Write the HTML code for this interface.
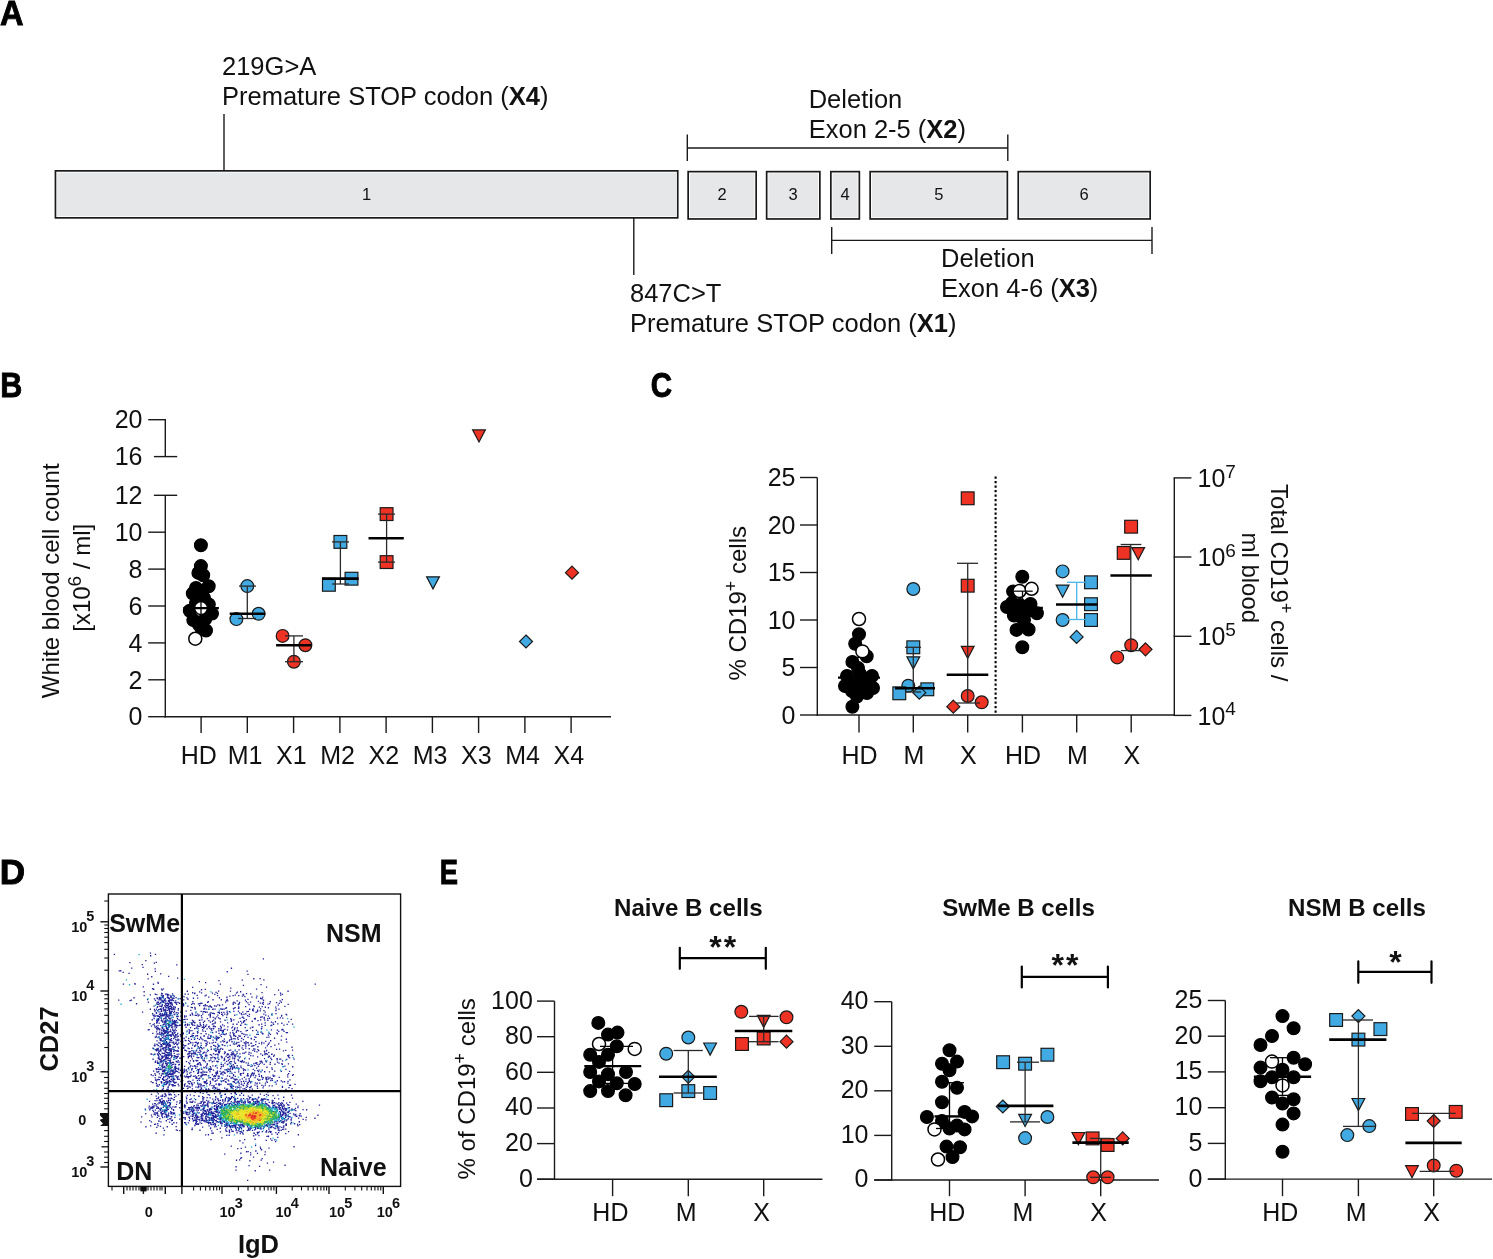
<!DOCTYPE html>
<html><head><meta charset="utf-8"><style>
html,body{margin:0;padding:0;background:#fff;}
svg{display:block;will-change:transform;}
text{fill:#111;}
</style></head><body>
<svg width="1493" height="1259" viewBox="0 0 1493 1259">
<rect width="1493" height="1259" fill="#fff"/>
<text x="0" y="0" font-size="35.5" font-weight="bold" font-family="Liberation Sans" stroke="#000" stroke-width="0.9" style="fill:#000" transform="translate(0,25.0) scale(0.92,1)">A</text>
<rect x="55.45" y="170.85" width="622.30" height="47.00" fill="#fff" stroke="#1a1a1a" stroke-width="1.7"/>
<rect x="57.20" y="172.60" width="618.80" height="43.50" fill="#e6e7e8"/>
<text x="366.6" y="200.3" font-size="16.5" text-anchor="middle" font-weight="normal" font-family="Liberation Sans" >1</text>
<rect x="688.15" y="171.65" width="68.00" height="47.30" fill="#fff" stroke="#1a1a1a" stroke-width="1.7"/>
<rect x="689.90" y="173.40" width="64.50" height="43.80" fill="#e6e7e8"/>
<text x="722.1" y="200.3" font-size="16.5" text-anchor="middle" font-weight="normal" font-family="Liberation Sans" >2</text>
<rect x="766.65" y="171.65" width="53.20" height="47.30" fill="#fff" stroke="#1a1a1a" stroke-width="1.7"/>
<rect x="768.40" y="173.40" width="49.70" height="43.80" fill="#e6e7e8"/>
<text x="793.2" y="200.3" font-size="16.5" text-anchor="middle" font-weight="normal" font-family="Liberation Sans" >3</text>
<rect x="830.85" y="171.65" width="28.50" height="47.30" fill="#fff" stroke="#1a1a1a" stroke-width="1.7"/>
<rect x="832.60" y="173.40" width="25.00" height="43.80" fill="#e6e7e8"/>
<text x="845.1" y="200.3" font-size="16.5" text-anchor="middle" font-weight="normal" font-family="Liberation Sans" >4</text>
<rect x="870.15" y="171.65" width="137.20" height="47.30" fill="#fff" stroke="#1a1a1a" stroke-width="1.7"/>
<rect x="871.90" y="173.40" width="133.70" height="43.80" fill="#e6e7e8"/>
<text x="938.8" y="200.3" font-size="16.5" text-anchor="middle" font-weight="normal" font-family="Liberation Sans" >5</text>
<rect x="1018.25" y="171.65" width="131.90" height="47.30" fill="#fff" stroke="#1a1a1a" stroke-width="1.7"/>
<rect x="1020.00" y="173.40" width="128.40" height="43.80" fill="#e6e7e8"/>
<text x="1084.2" y="200.3" font-size="16.5" text-anchor="middle" font-weight="normal" font-family="Liberation Sans" >6</text>
<line x1="224.0" y1="114.0" x2="224.0" y2="171.0" stroke="#1a1a1a" stroke-width="1.4" />
<line x1="633.8" y1="218.0" x2="633.8" y2="275.0" stroke="#1a1a1a" stroke-width="1.4" />
<line x1="687.3" y1="134.4" x2="687.3" y2="161.0" stroke="#1a1a1a" stroke-width="1.4" />
<line x1="1007.8" y1="134.4" x2="1007.8" y2="161.0" stroke="#1a1a1a" stroke-width="1.4" />
<line x1="687.3" y1="148.0" x2="1007.8" y2="148.0" stroke="#1a1a1a" stroke-width="1.4" />
<line x1="831.7" y1="227.0" x2="831.7" y2="254.0" stroke="#1a1a1a" stroke-width="1.4" />
<line x1="1152.0" y1="227.0" x2="1152.0" y2="254.0" stroke="#1a1a1a" stroke-width="1.4" />
<line x1="831.7" y1="240.4" x2="1152.0" y2="240.4" stroke="#1a1a1a" stroke-width="1.4" />
<text x="222.0" y="75.3" font-size="25.5" text-anchor="start" font-weight="normal" font-family="Liberation Sans" >219G&gt;A</text>
<text x="222.0" y="105.0" font-size="25.5" text-anchor="start" font-weight="normal" font-family="Liberation Sans" >Premature STOP codon (<tspan font-weight="bold">X4</tspan>)</text>
<text x="808.7" y="108.1" font-size="25.5" text-anchor="start" font-weight="normal" font-family="Liberation Sans" >Deletion</text>
<text x="808.7" y="137.9" font-size="25.5" text-anchor="start" font-weight="normal" font-family="Liberation Sans" >Exon 2-5 (<tspan font-weight="bold">X2</tspan>)</text>
<text x="630.0" y="301.6" font-size="25.5" text-anchor="start" font-weight="normal" font-family="Liberation Sans" >847C&gt;T</text>
<text x="630.0" y="331.8" font-size="25.5" text-anchor="start" font-weight="normal" font-family="Liberation Sans" >Premature STOP codon (<tspan font-weight="bold">X1</tspan>)</text>
<text x="941.0" y="266.5" font-size="25.5" text-anchor="start" font-weight="normal" font-family="Liberation Sans" >Deletion</text>
<text x="941.0" y="296.5" font-size="25.5" text-anchor="start" font-weight="normal" font-family="Liberation Sans" >Exon 4-6 (<tspan font-weight="bold">X3</tspan>)</text>
<text x="0" y="0" font-size="35.5" font-weight="bold" font-family="Liberation Sans" stroke="#000" stroke-width="0.9" style="fill:#000" transform="translate(0.2,397.2) scale(0.86,1)">B</text>
<line x1="165.3" y1="419.7" x2="165.3" y2="456.6" stroke="#1a1a1a" stroke-width="1.4" />
<line x1="165.3" y1="495.3" x2="165.3" y2="717.4" stroke="#1a1a1a" stroke-width="1.4" />
<line x1="148.2" y1="419.7" x2="166.0" y2="419.7" stroke="#1a1a1a" stroke-width="1.4" />
<line x1="153.9" y1="456.6" x2="177.2" y2="456.6" stroke="#1a1a1a" stroke-width="1.4" />
<line x1="153.9" y1="495.3" x2="177.2" y2="495.3" stroke="#1a1a1a" stroke-width="1.4" />
<line x1="148.2" y1="716.7" x2="165.3" y2="716.7" stroke="#1a1a1a" stroke-width="1.4" />
<line x1="148.2" y1="679.8" x2="165.3" y2="679.8" stroke="#1a1a1a" stroke-width="1.4" />
<line x1="148.2" y1="642.9" x2="165.3" y2="642.9" stroke="#1a1a1a" stroke-width="1.4" />
<line x1="148.2" y1="606.0" x2="165.3" y2="606.0" stroke="#1a1a1a" stroke-width="1.4" />
<line x1="148.2" y1="569.1" x2="165.3" y2="569.1" stroke="#1a1a1a" stroke-width="1.4" />
<line x1="148.2" y1="532.2" x2="165.3" y2="532.2" stroke="#1a1a1a" stroke-width="1.4" />
<text x="142.5" y="428.4" font-size="25" text-anchor="end" font-weight="normal" font-family="Liberation Sans" >20</text>
<text x="142.5" y="465.3" font-size="25" text-anchor="end" font-weight="normal" font-family="Liberation Sans" >16</text>
<text x="142.5" y="725.4" font-size="25" text-anchor="end" font-weight="normal" font-family="Liberation Sans" >0</text>
<text x="142.5" y="688.5" font-size="25" text-anchor="end" font-weight="normal" font-family="Liberation Sans" >2</text>
<text x="142.5" y="651.6" font-size="25" text-anchor="end" font-weight="normal" font-family="Liberation Sans" >4</text>
<text x="142.5" y="614.7" font-size="25" text-anchor="end" font-weight="normal" font-family="Liberation Sans" >6</text>
<text x="142.5" y="577.8" font-size="25" text-anchor="end" font-weight="normal" font-family="Liberation Sans" >8</text>
<text x="142.5" y="540.9" font-size="25" text-anchor="end" font-weight="normal" font-family="Liberation Sans" >10</text>
<text x="142.5" y="504.0" font-size="25" text-anchor="end" font-weight="normal" font-family="Liberation Sans" >12</text>
<line x1="164.6" y1="716.7" x2="611.0" y2="716.7" stroke="#1a1a1a" stroke-width="1.4" />
<line x1="201.1" y1="716.7" x2="201.1" y2="733.0" stroke="#1a1a1a" stroke-width="1.4" />
<text x="198.8" y="764.1" font-size="25" text-anchor="middle" font-weight="normal" font-family="Liberation Sans" >HD</text>
<line x1="247.3" y1="716.7" x2="247.3" y2="733.0" stroke="#1a1a1a" stroke-width="1.4" />
<text x="245.0" y="764.1" font-size="25" text-anchor="middle" font-weight="normal" font-family="Liberation Sans" >M1</text>
<line x1="293.6" y1="716.7" x2="293.6" y2="733.0" stroke="#1a1a1a" stroke-width="1.4" />
<text x="291.3" y="764.1" font-size="25" text-anchor="middle" font-weight="normal" font-family="Liberation Sans" >X1</text>
<line x1="339.9" y1="716.7" x2="339.9" y2="733.0" stroke="#1a1a1a" stroke-width="1.4" />
<text x="337.6" y="764.1" font-size="25" text-anchor="middle" font-weight="normal" font-family="Liberation Sans" >M2</text>
<line x1="386.1" y1="716.7" x2="386.1" y2="733.0" stroke="#1a1a1a" stroke-width="1.4" />
<text x="383.8" y="764.1" font-size="25" text-anchor="middle" font-weight="normal" font-family="Liberation Sans" >X2</text>
<line x1="432.4" y1="716.7" x2="432.4" y2="733.0" stroke="#1a1a1a" stroke-width="1.4" />
<text x="430.1" y="764.1" font-size="25" text-anchor="middle" font-weight="normal" font-family="Liberation Sans" >M3</text>
<line x1="478.6" y1="716.7" x2="478.6" y2="733.0" stroke="#1a1a1a" stroke-width="1.4" />
<text x="476.3" y="764.1" font-size="25" text-anchor="middle" font-weight="normal" font-family="Liberation Sans" >X3</text>
<line x1="524.9" y1="716.7" x2="524.9" y2="733.0" stroke="#1a1a1a" stroke-width="1.4" />
<text x="522.6" y="764.1" font-size="25" text-anchor="middle" font-weight="normal" font-family="Liberation Sans" >M4</text>
<line x1="571.1" y1="716.7" x2="571.1" y2="733.0" stroke="#1a1a1a" stroke-width="1.4" />
<text x="568.8" y="764.1" font-size="25" text-anchor="middle" font-weight="normal" font-family="Liberation Sans" >X4</text>
<text transform="translate(58.9,580.8) rotate(-90)" font-size="24" text-anchor="middle" font-family="Liberation Sans">White blood cell count</text>
<text transform="translate(90,577.8) rotate(-90)" font-size="24" text-anchor="middle" font-family="Liberation Sans">[x10<tspan font-size="19" dy="-9.5">6</tspan><tspan dy="9.5"> / ml]</tspan></text>
<line x1="191.4" y1="586.2" x2="209.0" y2="586.2" stroke="#222" stroke-width="1.3" />
<circle cx="200.9" cy="545.2" r="6.4" fill="#000" stroke="#000" stroke-width="1.2"/>
<circle cx="200.9" cy="566.1" r="6.4" fill="#000" stroke="#000" stroke-width="1.2"/>
<circle cx="198.4" cy="572.9" r="6.4" fill="#000" stroke="#000" stroke-width="1.2"/>
<circle cx="203.2" cy="575.2" r="6.4" fill="#000" stroke="#000" stroke-width="1.2"/>
<circle cx="208.7" cy="586.2" r="6.4" fill="#000" stroke="#000" stroke-width="1.2"/>
<circle cx="200.6" cy="590.7" r="6.4" fill="#000" stroke="#000" stroke-width="1.2"/>
<circle cx="192.8" cy="593.5" r="6.4" fill="#000" stroke="#000" stroke-width="1.2"/>
<circle cx="196.0" cy="588.0" r="6.4" fill="#000" stroke="#000" stroke-width="1.2"/>
<circle cx="208.8" cy="604.4" r="6.4" fill="#000" stroke="#000" stroke-width="1.2"/>
<circle cx="189.8" cy="610.8" r="6.4" fill="#000" stroke="#000" stroke-width="1.2"/>
<circle cx="212.0" cy="613.6" r="6.4" fill="#000" stroke="#000" stroke-width="1.2"/>
<circle cx="193.3" cy="620.0" r="6.4" fill="#000" stroke="#000" stroke-width="1.2"/>
<circle cx="205.2" cy="619.0" r="6.4" fill="#000" stroke="#000" stroke-width="1.2"/>
<circle cx="198.8" cy="624.5" r="6.4" fill="#000" stroke="#000" stroke-width="1.2"/>
<circle cx="206.0" cy="630.5" r="6.4" fill="#000" stroke="#000" stroke-width="1.2"/>
<circle cx="201.5" cy="628.2" r="6.4" fill="#000" stroke="#000" stroke-width="1.2"/>
<circle cx="196.0" cy="603.0" r="6.4" fill="#000" stroke="#000" stroke-width="1.2"/>
<circle cx="204.0" cy="598.0" r="6.4" fill="#000" stroke="#000" stroke-width="1.2"/>
<circle cx="195.3" cy="638.7" r="6.5" fill="#fff" stroke="#000" stroke-width="1.5"/>
<circle cx="201.0" cy="608.1" r="6.5" fill="#fff" stroke="#000" stroke-width="1.5"/>
<line x1="201.0" y1="586.2" x2="201.0" y2="630.0" stroke="#000" stroke-width="1.3" />
<line x1="183.2" y1="608.1" x2="218.9" y2="608.1" stroke="#000" stroke-width="2.4" />
<circle cx="247.3" cy="586.1" r="6.4" fill="#42aae2" stroke="#1a1a1a" stroke-width="1.2"/>
<circle cx="236.4" cy="619.1" r="6.4" fill="#42aae2" stroke="#1a1a1a" stroke-width="1.2"/>
<circle cx="258.6" cy="613.8" r="6.4" fill="#42aae2" stroke="#1a1a1a" stroke-width="1.2"/>
<line x1="247.3" y1="586.1" x2="247.3" y2="618.5" stroke="#2a2a2a" stroke-width="1.3" />
<line x1="239.0" y1="586.1" x2="256.0" y2="586.1" stroke="#2a2a2a" stroke-width="1.3" />
<line x1="238.0" y1="618.5" x2="256.0" y2="618.5" stroke="#2a2a2a" stroke-width="1.3" />
<line x1="229.7" y1="613.8" x2="265.3" y2="613.8" stroke="#000" stroke-width="2.6" />
<circle cx="282.6" cy="635.9" r="6.4" fill="#ee3224" stroke="#1a1a1a" stroke-width="1.2"/>
<circle cx="305.4" cy="645.2" r="6.4" fill="#ee3224" stroke="#1a1a1a" stroke-width="1.2"/>
<circle cx="293.9" cy="661.7" r="6.4" fill="#ee3224" stroke="#1a1a1a" stroke-width="1.2"/>
<line x1="293.9" y1="635.9" x2="293.9" y2="661.7" stroke="#2a2a2a" stroke-width="1.3" />
<line x1="285.0" y1="635.9" x2="303.0" y2="635.9" stroke="#2a2a2a" stroke-width="1.3" />
<line x1="285.0" y1="661.7" x2="303.0" y2="661.7" stroke="#2a2a2a" stroke-width="1.3" />
<line x1="276.1" y1="645.2" x2="311.7" y2="645.2" stroke="#000" stroke-width="2.6" />
<rect x="334.0" y="535.5" width="12.8" height="12.8" fill="#42aae2" stroke="#1a1a1a" stroke-width="1.2"/>
<rect x="322.5" y="578.4" width="12.8" height="12.8" fill="#42aae2" stroke="#1a1a1a" stroke-width="1.2"/>
<rect x="345.1" y="572.3" width="12.8" height="12.8" fill="#42aae2" stroke="#1a1a1a" stroke-width="1.2"/>
<line x1="340.4" y1="541.9" x2="340.4" y2="584.0" stroke="#2a2a2a" stroke-width="1.3" />
<line x1="332.0" y1="541.9" x2="349.0" y2="541.9" stroke="#2a2a2a" stroke-width="1.3" />
<line x1="332.0" y1="584.0" x2="349.0" y2="584.0" stroke="#2a2a2a" stroke-width="1.3" />
<line x1="322.0" y1="578.6" x2="358.6" y2="578.6" stroke="#000" stroke-width="2.6" />
<rect x="380.2" y="507.7" width="12.8" height="12.8" fill="#ee3224" stroke="#1a1a1a" stroke-width="1.2"/>
<rect x="380.2" y="555.7" width="12.8" height="12.8" fill="#ee3224" stroke="#1a1a1a" stroke-width="1.2"/>
<line x1="386.6" y1="514.1" x2="386.6" y2="562.1" stroke="#2a2a2a" stroke-width="1.3" />
<line x1="378.0" y1="514.1" x2="395.0" y2="514.1" stroke="#2a2a2a" stroke-width="1.3" />
<line x1="378.0" y1="562.1" x2="395.0" y2="562.1" stroke="#2a2a2a" stroke-width="1.3" />
<line x1="368.5" y1="538.3" x2="403.8" y2="538.3" stroke="#000" stroke-width="2.6" />
<path d="M426.6 576.8H439.4L433.0 588.9Z" fill="#42aae2" stroke="#1a1a1a" stroke-width="1.2" stroke-linejoin="miter"/>
<path d="M472.6 429.9H485.4L479.0 442.0Z" fill="#ee3224" stroke="#1a1a1a" stroke-width="1.2" stroke-linejoin="miter"/>
<path d="M526.0 635.0L532.5 641.5L526.0 648.0L519.5 641.5Z" fill="#42aae2" stroke="#1a1a1a" stroke-width="1.2"/>
<path d="M572.0 566.2L578.5 572.7L572.0 579.2L565.5 572.7Z" fill="#ee3224" stroke="#1a1a1a" stroke-width="1.2"/>
<text x="0" y="0" font-size="35.5" font-weight="bold" font-family="Liberation Sans" stroke="#000" stroke-width="0.9" style="fill:#000" transform="translate(650.7,397.2) scale(0.83,1)">C</text>
<line x1="817.3" y1="477.5" x2="817.3" y2="715.7" stroke="#1a1a1a" stroke-width="1.4" />
<line x1="800.0" y1="715.0" x2="817.3" y2="715.0" stroke="#1a1a1a" stroke-width="1.4" />
<text x="795.5" y="723.7" font-size="25" text-anchor="end" font-weight="normal" font-family="Liberation Sans" >0</text>
<line x1="800.0" y1="667.5" x2="817.3" y2="667.5" stroke="#1a1a1a" stroke-width="1.4" />
<text x="795.5" y="676.2" font-size="25" text-anchor="end" font-weight="normal" font-family="Liberation Sans" >5</text>
<line x1="800.0" y1="620.0" x2="817.3" y2="620.0" stroke="#1a1a1a" stroke-width="1.4" />
<text x="795.5" y="628.7" font-size="25" text-anchor="end" font-weight="normal" font-family="Liberation Sans" >10</text>
<line x1="800.0" y1="572.5" x2="817.3" y2="572.5" stroke="#1a1a1a" stroke-width="1.4" />
<text x="795.5" y="581.2" font-size="25" text-anchor="end" font-weight="normal" font-family="Liberation Sans" >15</text>
<line x1="800.0" y1="525.0" x2="817.3" y2="525.0" stroke="#1a1a1a" stroke-width="1.4" />
<text x="795.5" y="533.7" font-size="25" text-anchor="end" font-weight="normal" font-family="Liberation Sans" >20</text>
<line x1="800.0" y1="477.5" x2="817.3" y2="477.5" stroke="#1a1a1a" stroke-width="1.4" />
<text x="795.5" y="486.2" font-size="25" text-anchor="end" font-weight="normal" font-family="Liberation Sans" >25</text>
<line x1="816.6" y1="715.0" x2="1174.3" y2="715.0" stroke="#1a1a1a" stroke-width="1.4" />
<line x1="859.0" y1="715.0" x2="859.0" y2="732.5" stroke="#1a1a1a" stroke-width="1.4" />
<text x="859.6" y="764.1" font-size="25" text-anchor="middle" font-weight="normal" font-family="Liberation Sans" >HD</text>
<line x1="913.3" y1="715.0" x2="913.3" y2="732.5" stroke="#1a1a1a" stroke-width="1.4" />
<text x="913.9" y="764.1" font-size="25" text-anchor="middle" font-weight="normal" font-family="Liberation Sans" >M</text>
<line x1="967.7" y1="715.0" x2="967.7" y2="732.5" stroke="#1a1a1a" stroke-width="1.4" />
<text x="968.3" y="764.1" font-size="25" text-anchor="middle" font-weight="normal" font-family="Liberation Sans" >X</text>
<line x1="1022.4" y1="715.0" x2="1022.4" y2="732.5" stroke="#1a1a1a" stroke-width="1.4" />
<text x="1023.0" y="764.1" font-size="25" text-anchor="middle" font-weight="normal" font-family="Liberation Sans" >HD</text>
<line x1="1076.7" y1="715.0" x2="1076.7" y2="732.5" stroke="#1a1a1a" stroke-width="1.4" />
<text x="1077.3" y="764.1" font-size="25" text-anchor="middle" font-weight="normal" font-family="Liberation Sans" >M</text>
<line x1="1131.2" y1="715.0" x2="1131.2" y2="732.5" stroke="#1a1a1a" stroke-width="1.4" />
<text x="1131.8" y="764.1" font-size="25" text-anchor="middle" font-weight="normal" font-family="Liberation Sans" >X</text>
<line x1="995.6" y1="476.5" x2="995.6" y2="715.0" stroke="#000" stroke-width="2.1" stroke-dasharray="2.2 2.3"/>
<line x1="1174.3" y1="477.9" x2="1174.3" y2="715.7" stroke="#1a1a1a" stroke-width="1.4" />
<line x1="1173.6" y1="477.9" x2="1191.4" y2="477.9" stroke="#1a1a1a" stroke-width="1.4" />
<text x="1197.5" y="487.0" font-size="25" font-family="Liberation Sans">10<tspan font-size="19" dy="-9.5">7</tspan></text>
<line x1="1173.6" y1="557.0" x2="1191.4" y2="557.0" stroke="#1a1a1a" stroke-width="1.4" />
<text x="1197.5" y="566.1" font-size="25" font-family="Liberation Sans">10<tspan font-size="19" dy="-9.5">6</tspan></text>
<line x1="1173.6" y1="636.3" x2="1191.4" y2="636.3" stroke="#1a1a1a" stroke-width="1.4" />
<text x="1197.5" y="645.4" font-size="25" font-family="Liberation Sans">10<tspan font-size="19" dy="-9.5">5</tspan></text>
<line x1="1173.6" y1="715.4" x2="1191.4" y2="715.4" stroke="#1a1a1a" stroke-width="1.4" />
<text x="1197.5" y="724.5" font-size="25" font-family="Liberation Sans">10<tspan font-size="19" dy="-9.5">4</tspan></text>
<text transform="translate(746.2,603.3) rotate(-90)" font-size="24" text-anchor="middle" font-family="Liberation Sans">% CD19<tspan font-size="18" dy="-9">+</tspan><tspan dy="9"> cells</tspan></text>
<text transform="translate(1271,582.7) rotate(90)" font-size="24" text-anchor="middle" font-family="Liberation Sans">Total CD19<tspan font-size="18" dy="-9">+</tspan><tspan dy="9"> cells /</tspan></text>
<text transform="translate(1242,577.8) rotate(90)" font-size="24" text-anchor="middle" font-family="Liberation Sans">ml blood</text>
<circle cx="859.0" cy="634.3" r="6.4" fill="#000" stroke="#000" stroke-width="1.2"/>
<circle cx="855.2" cy="643.8" r="6.4" fill="#000" stroke="#000" stroke-width="1.2"/>
<circle cx="866.7" cy="656.2" r="6.4" fill="#000" stroke="#000" stroke-width="1.2"/>
<circle cx="852.4" cy="661.9" r="6.4" fill="#000" stroke="#000" stroke-width="1.2"/>
<circle cx="858.0" cy="668.0" r="6.4" fill="#000" stroke="#000" stroke-width="1.2"/>
<circle cx="847.0" cy="676.0" r="6.4" fill="#000" stroke="#000" stroke-width="1.2"/>
<circle cx="860.0" cy="674.0" r="6.4" fill="#000" stroke="#000" stroke-width="1.2"/>
<circle cx="872.0" cy="676.0" r="6.4" fill="#000" stroke="#000" stroke-width="1.2"/>
<circle cx="845.0" cy="686.0" r="6.4" fill="#000" stroke="#000" stroke-width="1.2"/>
<circle cx="854.0" cy="684.0" r="6.4" fill="#000" stroke="#000" stroke-width="1.2"/>
<circle cx="866.0" cy="684.0" r="6.4" fill="#000" stroke="#000" stroke-width="1.2"/>
<circle cx="873.0" cy="688.0" r="6.4" fill="#000" stroke="#000" stroke-width="1.2"/>
<circle cx="852.0" cy="691.0" r="6.4" fill="#000" stroke="#000" stroke-width="1.2"/>
<circle cx="862.0" cy="692.0" r="6.4" fill="#000" stroke="#000" stroke-width="1.2"/>
<circle cx="867.0" cy="693.0" r="6.4" fill="#000" stroke="#000" stroke-width="1.2"/>
<circle cx="857.0" cy="696.5" r="6.4" fill="#000" stroke="#000" stroke-width="1.2"/>
<circle cx="852.4" cy="706.7" r="6.4" fill="#000" stroke="#000" stroke-width="1.2"/>
<circle cx="859.0" cy="619.0" r="6.5" fill="#fff" stroke="#000" stroke-width="1.5"/>
<circle cx="862.4" cy="651.4" r="6.5" fill="#fff" stroke="#000" stroke-width="1.5"/>
<line x1="857.0" y1="657.5" x2="867.0" y2="657.5" stroke="#000" stroke-width="1.3" />
<line x1="838.0" y1="677.6" x2="880.0" y2="677.6" stroke="#000" stroke-width="2.4" />
<circle cx="913.3" cy="589.0" r="6.4" fill="#42aae2" stroke="#1a1a1a" stroke-width="1.2"/>
<rect x="906.9" y="640.9" width="12.8" height="12.8" fill="#42aae2" stroke="#1a1a1a" stroke-width="1.2"/>
<path d="M906.9 656.8H919.7L913.3 668.9Z" fill="#42aae2" stroke="#1a1a1a" stroke-width="1.2" stroke-linejoin="miter"/>
<circle cx="908.3" cy="685.7" r="6.4" fill="#42aae2" stroke="#1a1a1a" stroke-width="1.2"/>
<rect x="892.9" y="686.9" width="12.8" height="12.8" fill="#42aae2" stroke="#1a1a1a" stroke-width="1.2"/>
<rect x="920.9" y="682.9" width="12.8" height="12.8" fill="#42aae2" stroke="#1a1a1a" stroke-width="1.2"/>
<path d="M919.3 686.2L925.8 692.7L919.3 699.2L912.8 692.7Z" fill="#42aae2" stroke="#1a1a1a" stroke-width="1.2"/>
<line x1="913.3" y1="647.3" x2="913.3" y2="692.0" stroke="#2a2a2a" stroke-width="1.3" />
<line x1="905.0" y1="647.3" x2="921.0" y2="647.3" stroke="#2a2a2a" stroke-width="1.3" />
<line x1="905.0" y1="692.0" x2="921.0" y2="692.0" stroke="#2a2a2a" stroke-width="1.3" />
<line x1="895.0" y1="688.3" x2="935.0" y2="688.3" stroke="#000" stroke-width="2.6" />
<rect x="961.3" y="491.9" width="12.8" height="12.8" fill="#ee3224" stroke="#1a1a1a" stroke-width="1.2"/>
<rect x="961.3" y="579.3" width="12.8" height="12.8" fill="#ee3224" stroke="#1a1a1a" stroke-width="1.2"/>
<path d="M961.3 646.4H974.1L967.7 658.5Z" fill="#ee3224" stroke="#1a1a1a" stroke-width="1.2" stroke-linejoin="miter"/>
<circle cx="967.7" cy="696.0" r="6.4" fill="#ee3224" stroke="#1a1a1a" stroke-width="1.2"/>
<circle cx="981.7" cy="702.3" r="6.4" fill="#ee3224" stroke="#1a1a1a" stroke-width="1.2"/>
<path d="M953.3 700.2L959.8 706.7L953.3 713.2L946.8 706.7Z" fill="#ee3224" stroke="#1a1a1a" stroke-width="1.2"/>
<line x1="967.7" y1="563.3" x2="967.7" y2="703.0" stroke="#2a2a2a" stroke-width="1.3" />
<line x1="957.0" y1="563.3" x2="978.0" y2="563.3" stroke="#2a2a2a" stroke-width="1.3" />
<line x1="956.0" y1="703.0" x2="980.0" y2="703.0" stroke="#2a2a2a" stroke-width="1.3" />
<line x1="946.7" y1="674.7" x2="988.3" y2="674.7" stroke="#000" stroke-width="2.6" />
<circle cx="1022.3" cy="576.7" r="6.4" fill="#000" stroke="#000" stroke-width="1.2"/>
<circle cx="1013.1" cy="591.4" r="6.4" fill="#000" stroke="#000" stroke-width="1.2"/>
<circle cx="1007.0" cy="607.0" r="6.4" fill="#000" stroke="#000" stroke-width="1.2"/>
<circle cx="1013.9" cy="615.5" r="6.4" fill="#000" stroke="#000" stroke-width="1.2"/>
<circle cx="1020.0" cy="605.0" r="6.4" fill="#000" stroke="#000" stroke-width="1.2"/>
<circle cx="1030.5" cy="604.0" r="6.4" fill="#000" stroke="#000" stroke-width="1.2"/>
<circle cx="1036.9" cy="613.3" r="6.4" fill="#000" stroke="#000" stroke-width="1.2"/>
<circle cx="1020.0" cy="616.3" r="6.4" fill="#000" stroke="#000" stroke-width="1.2"/>
<circle cx="1026.0" cy="612.0" r="6.4" fill="#000" stroke="#000" stroke-width="1.2"/>
<circle cx="1016.5" cy="629.9" r="6.4" fill="#000" stroke="#000" stroke-width="1.2"/>
<circle cx="1028.6" cy="629.5" r="6.4" fill="#000" stroke="#000" stroke-width="1.2"/>
<circle cx="1022.3" cy="647.3" r="6.4" fill="#000" stroke="#000" stroke-width="1.2"/>
<circle cx="1024.0" cy="620.0" r="6.4" fill="#000" stroke="#000" stroke-width="1.2"/>
<circle cx="1012.0" cy="603.0" r="6.4" fill="#000" stroke="#000" stroke-width="1.2"/>
<circle cx="1019.5" cy="591.0" r="6.5" fill="#fff" stroke="#000" stroke-width="1.5"/>
<circle cx="1031.6" cy="588.8" r="6.5" fill="#fff" stroke="#000" stroke-width="1.5"/>
<line x1="1013.0" y1="591.2" x2="1032.7" y2="591.2" stroke="#111" stroke-width="1.3" />
<line x1="1022.5" y1="591.0" x2="1022.5" y2="600.0" stroke="#111" stroke-width="1.3" />
<line x1="1010.0" y1="608.0" x2="1042.9" y2="608.0" stroke="#000" stroke-width="2.4" />
<circle cx="1062.6" cy="571.4" r="6.4" fill="#42aae2" stroke="#1a1a1a" stroke-width="1.2"/>
<path d="M1056.2 585.1H1069.0L1062.6 597.2Z" fill="#42aae2" stroke="#1a1a1a" stroke-width="1.2" stroke-linejoin="miter"/>
<circle cx="1062.6" cy="620.0" r="6.4" fill="#42aae2" stroke="#1a1a1a" stroke-width="1.2"/>
<path d="M1076.6 630.4L1083.1 636.9L1076.6 643.4L1070.1 636.9Z" fill="#42aae2" stroke="#1a1a1a" stroke-width="1.2"/>
<rect x="1084.6" y="575.9" width="12.8" height="12.8" fill="#42aae2" stroke="#1a1a1a" stroke-width="1.2"/>
<rect x="1084.6" y="597.8" width="12.8" height="12.8" fill="#42aae2" stroke="#1a1a1a" stroke-width="1.2"/>
<rect x="1084.6" y="613.6" width="12.8" height="12.8" fill="#42aae2" stroke="#1a1a1a" stroke-width="1.2"/>
<line x1="1076.7" y1="582.3" x2="1076.7" y2="619.5" stroke="#48b4ea" stroke-width="1.3" />
<line x1="1067.0" y1="582.3" x2="1085.0" y2="582.3" stroke="#48b4ea" stroke-width="1.3" />
<line x1="1067.0" y1="619.5" x2="1085.0" y2="619.5" stroke="#48b4ea" stroke-width="1.3" />
<line x1="1056.0" y1="604.5" x2="1097.6" y2="604.5" stroke="#000" stroke-width="2.6" />
<rect x="1124.7" y="520.3" width="12.8" height="12.8" fill="#ee3224" stroke="#1a1a1a" stroke-width="1.2"/>
<rect x="1117.3" y="546.5" width="12.8" height="12.8" fill="#ee3224" stroke="#1a1a1a" stroke-width="1.2"/>
<path d="M1131.8 547.6H1144.6L1138.2 559.7Z" fill="#ee3224" stroke="#1a1a1a" stroke-width="1.2" stroke-linejoin="miter"/>
<circle cx="1131.2" cy="645.2" r="6.4" fill="#ee3224" stroke="#1a1a1a" stroke-width="1.2"/>
<circle cx="1117.2" cy="657.4" r="6.4" fill="#ee3224" stroke="#1a1a1a" stroke-width="1.2"/>
<path d="M1145.5 642.8L1152.0 649.3L1145.5 655.8L1139.0 649.3Z" fill="#ee3224" stroke="#1a1a1a" stroke-width="1.2"/>
<line x1="1130.8" y1="544.5" x2="1130.8" y2="650.6" stroke="#2a2a2a" stroke-width="1.3" />
<line x1="1120.7" y1="544.5" x2="1141.3" y2="544.5" stroke="#2a2a2a" stroke-width="1.3" />
<line x1="1121.0" y1="650.6" x2="1141.0" y2="650.6" stroke="#2a2a2a" stroke-width="1.3" />
<line x1="1110.4" y1="575.5" x2="1151.8" y2="575.5" stroke="#000" stroke-width="2.6" />
<text x="0" y="0" font-size="35.5" font-weight="bold" font-family="Liberation Sans" stroke="#000" stroke-width="0.9" style="fill:#000" transform="translate(-0.3,884.2) scale(0.99,1)">D</text>
<path d="M284.4 1164.6h1.3v1.3h-1.3zM277.3 1094.5h1.3v1.3h-1.3zM297.7 1134.1h1.3v1.3h-1.3zM294.4 1083.7h1.3v1.3h-1.3zM292.1 1066.1h1.3v1.3h-1.3zM235.3 1169.5h1.3v1.3h-1.3zM265.6 1139.8h1.3v1.3h-1.3zM269.0 1169.5h1.3v1.3h-1.3zM224.1 1153.4h1.3v1.3h-1.3zM230.7 1145.4h1.3v1.3h-1.3zM278.1 1043.2h1.3v1.3h-1.3zM145.3 1126.1h1.3v1.3h-1.3zM141.9 1011.5h1.3v1.3h-1.3zM129.2 962.0h1.3v1.3h-1.3zM293.4 1146.1h1.3v1.3h-1.3zM272.9 1161.5h1.3v1.3h-1.3zM266.8 1162.4h1.3v1.3h-1.3zM260.4 984.0h1.3v1.3h-1.3zM240.6 1147.7h1.3v1.3h-1.3zM249.3 1160.1h1.3v1.3h-1.3zM259.5 977.9h1.3v1.3h-1.3zM254.6 1170.1h1.3v1.3h-1.3zM145.1 1112.9h1.3v1.3h-1.3zM176.2 964.2h1.3v1.3h-1.3zM262.8 1001.7h1.3v1.3h-1.3zM141.0 1116.2h1.3v1.3h-1.3zM261.4 992.0h1.3v1.3h-1.3zM282.8 1050.2h1.3v1.3h-1.3zM147.0 973.6h1.3v1.3h-1.3zM147.5 978.3h1.3v1.3h-1.3zM258.4 1024.1h1.3v1.3h-1.3zM205.0 982.0h1.3v1.3h-1.3zM155.6 961.7h1.3v1.3h-1.3zM118.1 999.4h1.3v1.3h-1.3zM260.5 1159.5h1.3v1.3h-1.3zM291.4 1088.0h1.3v1.3h-1.3zM198.8 981.0h1.3v1.3h-1.3zM263.2 979.3h1.3v1.3h-1.3zM244.8 1146.4h1.3v1.3h-1.3zM287.5 1003.7h1.3v1.3h-1.3zM224.4 1019.6h1.3v1.3h-1.3zM145.2 960.0h1.3v1.3h-1.3zM259.0 1165.7h1.3v1.3h-1.3zM192.8 997.6h1.3v1.3h-1.3zM168.0 975.8h1.3v1.3h-1.3zM267.3 1091.5h1.3v1.3h-1.3zM149.8 952.4h1.3v1.3h-1.3zM241.6 979.5h1.3v1.3h-1.3zM240.2 1152.6h1.3v1.3h-1.3zM317.3 1114.6h1.3v1.3h-1.3zM258.3 1090.6h1.3v1.3h-1.3zM226.6 971.1h1.3v1.3h-1.3zM230.1 987.5h1.3v1.3h-1.3zM135.9 1003.1h1.3v1.3h-1.3zM261.2 1098.0h1.3v1.3h-1.3zM255.9 988.4h1.3v1.3h-1.3zM141.6 963.9h1.3v1.3h-1.3zM248.4 1165.0h1.3v1.3h-1.3zM314.6 983.5h1.3v1.3h-1.3zM250.1 993.3h1.3v1.3h-1.3zM262.7 958.2h1.3v1.3h-1.3zM140.4 1121.5h1.3v1.3h-1.3zM287.4 1080.8h1.3v1.3h-1.3zM277.9 989.4h1.3v1.3h-1.3zM153.7 962.4h1.3v1.3h-1.3zM151.9 988.1h1.3v1.3h-1.3zM237.1 1148.0h1.3v1.3h-1.3zM314.3 1117.6h1.3v1.3h-1.3zM219.7 983.4h1.3v1.3h-1.3zM265.9 986.5h1.3v1.3h-1.3zM260.8 1028.3h1.3v1.3h-1.3zM163.3 1134.3h1.3v1.3h-1.3zM160.0 973.3h1.3v1.3h-1.3zM283.1 1096.6h1.3v1.3h-1.3zM252.9 1156.4h1.3v1.3h-1.3zM274.1 993.9h1.3v1.3h-1.3zM218.3 979.9h1.3v1.3h-1.3zM242.8 984.7h1.3v1.3h-1.3zM207.8 1134.1h1.3v1.3h-1.3zM155.5 1132.6h1.3v1.3h-1.3zM143.5 991.1h1.3v1.3h-1.3zM149.7 1008.6h1.3v1.3h-1.3zM275.9 1002.0h1.3v1.3h-1.3zM179.5 1089.7h1.3v1.3h-1.3zM264.0 1070.9h1.3v1.3h-1.3zM291.9 1049.4h1.3v1.3h-1.3zM251.6 1020.6h1.3v1.3h-1.3zM151.1 976.1h1.3v1.3h-1.3zM284.2 1005.8h1.3v1.3h-1.3zM256.3 995.4h1.3v1.3h-1.3zM275.9 1048.8h1.3v1.3h-1.3zM256.6 1085.6h1.3v1.3h-1.3zM230.8 967.6h1.3v1.3h-1.3zM128.4 972.8h1.3v1.3h-1.3zM152.4 1058.6h1.3v1.3h-1.3zM146.9 998.9h1.3v1.3h-1.3zM149.7 994.3h1.3v1.3h-1.3zM291.9 1023.4h1.3v1.3h-1.3zM318.8 1104.5h1.3v1.3h-1.3zM177.0 977.4h1.3v1.3h-1.3zM143.5 995.0h1.3v1.3h-1.3zM199.0 991.3h1.3v1.3h-1.3zM162.8 1127.5h1.3v1.3h-1.3zM179.2 1130.0h1.3v1.3h-1.3zM253.5 1073.3h1.3v1.3h-1.3zM278.9 1048.4h1.3v1.3h-1.3zM268.4 1147.4h1.3v1.3h-1.3zM287.4 990.6h1.3v1.3h-1.3zM210.4 1139.0h1.3v1.3h-1.3zM200.9 992.2h1.3v1.3h-1.3zM272.4 1095.0h1.3v1.3h-1.3zM184.5 1083.3h1.3v1.3h-1.3zM290.6 1018.8h1.3v1.3h-1.3zM264.6 1151.3h1.3v1.3h-1.3zM286.1 1041.4h1.3v1.3h-1.3zM200.0 1037.2h1.3v1.3h-1.3zM302.2 1100.8h1.3v1.3h-1.3zM228.5 1134.6h1.3v1.3h-1.3zM280.9 1035.4h1.3v1.3h-1.3zM189.4 1101.2h1.3v1.3h-1.3zM273.9 1037.6h1.3v1.3h-1.3zM287.9 1131.0h1.3v1.3h-1.3zM131.1 967.5h1.3v1.3h-1.3zM285.3 1068.7h1.3v1.3h-1.3zM113.7 953.7h1.3v1.3h-1.3zM277.5 1004.5h1.3v1.3h-1.3zM142.6 986.2h1.3v1.3h-1.3zM221.2 1137.2h1.3v1.3h-1.3zM264.3 1153.9h1.3v1.3h-1.3zM204.6 988.7h1.3v1.3h-1.3zM150.7 1121.3h1.3v1.3h-1.3zM302.4 1108.9h1.3v1.3h-1.3zM226.1 1134.8h1.3v1.3h-1.3zM166.6 1126.1h1.3v1.3h-1.3zM120.1 970.1h1.3v1.3h-1.3zM292.6 1074.0h1.3v1.3h-1.3zM134.5 983.5h1.3v1.3h-1.3zM287.8 1063.3h1.3v1.3h-1.3zM154.8 953.8h1.3v1.3h-1.3zM269.5 1089.7h1.3v1.3h-1.3zM305.3 1119.3h1.3v1.3h-1.3zM147.6 1029.3h1.3v1.3h-1.3zM262.6 1003.6h1.3v1.3h-1.3zM122.8 983.5h1.3v1.3h-1.3zM251.3 996.5h1.3v1.3h-1.3zM248.2 1090.9h1.3v1.3h-1.3zM300.6 1115.5h1.3v1.3h-1.3zM248.4 1004.0h1.3v1.3h-1.3zM280.6 1070.7h1.3v1.3h-1.3zM285.1 1133.0h1.3v1.3h-1.3zM291.4 1046.6h1.3v1.3h-1.3zM157.6 982.8h1.3v1.3h-1.3zM179.5 1100.0h1.3v1.3h-1.3zM255.1 1150.5h1.3v1.3h-1.3zM192.0 986.8h1.3v1.3h-1.3zM206.5 1082.6h1.3v1.3h-1.3zM253.2 978.1h1.3v1.3h-1.3zM205.1 1134.2h1.3v1.3h-1.3zM286.8 1032.0h1.3v1.3h-1.3zM264.5 1022.3h1.3v1.3h-1.3zM295.6 1103.5h1.3v1.3h-1.3zM257.0 1056.2h1.3v1.3h-1.3zM280.6 1039.4h1.3v1.3h-1.3zM157.4 981.8h1.3v1.3h-1.3zM248.7 1058.2h1.3v1.3h-1.3zM152.8 983.6h1.3v1.3h-1.3zM163.8 1129.8h1.3v1.3h-1.3zM208.1 996.4h1.3v1.3h-1.3zM150.0 1125.2h1.3v1.3h-1.3zM281.8 993.8h1.3v1.3h-1.3zM142.4 966.7h1.3v1.3h-1.3zM235.9 1159.6h1.3v1.3h-1.3zM118.6 970.3h1.3v1.3h-1.3zM254.4 1138.6h1.3v1.3h-1.3zM122.5 971.7h1.3v1.3h-1.3zM206.2 1092.0h1.3v1.3h-1.3zM247.0 1179.7h1.3v1.3h-1.3zM212.4 999.1h1.3v1.3h-1.3zM246.5 970.4h1.3v1.3h-1.3zM244.0 1138.9h1.3v1.3h-1.3zM227.0 1022.3h1.3v1.3h-1.3zM154.5 968.2h1.3v1.3h-1.3zM144.7 1108.6h1.3v1.3h-1.3zM235.4 1166.1h1.3v1.3h-1.3zM279.9 992.6h1.3v1.3h-1.3zM212.6 1132.5h1.3v1.3h-1.3zM197.1 997.4h1.3v1.3h-1.3zM153.8 998.3h1.3v1.3h-1.3zM270.8 1029.3h1.3v1.3h-1.3zM259.8 1093.4h1.3v1.3h-1.3zM250.1 1154.2h1.3v1.3h-1.3zM264.7 1006.6h1.3v1.3h-1.3zM271.4 1013.2h1.3v1.3h-1.3zM259.6 1002.4h1.3v1.3h-1.3zM216.9 995.0h1.3v1.3h-1.3zM179.1 1107.1h1.3v1.3h-1.3zM242.3 1142.3h1.3v1.3h-1.3zM149.1 1120.0h1.3v1.3h-1.3zM179.1 1118.5h1.3v1.3h-1.3zM185.5 1010.4h1.3v1.3h-1.3zM289.2 1101.8h1.3v1.3h-1.3zM290.9 1094.4h1.3v1.3h-1.3zM276.5 1090.6h1.3v1.3h-1.3zM285.1 1049.8h1.3v1.3h-1.3zM252.5 1055.2h1.3v1.3h-1.3zM280.0 994.4h1.3v1.3h-1.3zM153.1 988.6h1.3v1.3h-1.3zM291.9 1097.5h1.3v1.3h-1.3zM267.2 1019.8h1.3v1.3h-1.3zM199.3 1129.6h1.3v1.3h-1.3zM155.1 1112.2h1.3v1.3h-1.3zM247.3 973.8h1.3v1.3h-1.3zM151.4 1116.2h1.3v1.3h-1.3zM152.2 1032.8h1.3v1.3h-1.3zM256.8 1152.7h1.3v1.3h-1.3zM266.3 1066.6h1.3v1.3h-1.3zM245.9 1151.1h1.3v1.3h-1.3zM306.0 1109.1h1.3v1.3h-1.3zM261.9 1090.1h1.3v1.3h-1.3zM274.3 1063.6h1.3v1.3h-1.3zM211.4 1132.6h1.3v1.3h-1.3zM277.1 1136.8h1.3v1.3h-1.3zM211.8 992.5h1.3v1.3h-1.3zM209.7 1014.0h1.3v1.3h-1.3zM210.0 1127.2h1.3v1.3h-1.3zM212.9 1052.9h1.3v1.3h-1.3zM271.2 1067.2h1.3v1.3h-1.3zM264.6 1024.7h1.3v1.3h-1.3zM150.9 1093.8h1.3v1.3h-1.3zM218.8 997.1h1.3v1.3h-1.3zM253.7 1038.9h1.3v1.3h-1.3zM215.0 1095.9h1.3v1.3h-1.3zM150.7 1074.1h1.3v1.3h-1.3zM244.3 996.0h1.3v1.3h-1.3zM211.1 1130.2h1.3v1.3h-1.3zM288.1 1021.2h1.3v1.3h-1.3zM237.8 1021.4h1.3v1.3h-1.3zM261.7 1069.5h1.3v1.3h-1.3zM200.9 989.1h1.3v1.3h-1.3zM156.8 1091.4h1.3v1.3h-1.3zM156.2 994.0h1.3v1.3h-1.3zM268.3 1036.4h1.3v1.3h-1.3zM229.8 990.4h1.3v1.3h-1.3zM288.3 1086.9h1.3v1.3h-1.3zM265.8 1093.7h1.3v1.3h-1.3zM219.8 1131.3h1.3v1.3h-1.3zM152.4 1075.0h1.3v1.3h-1.3zM279.5 1000.3h1.3v1.3h-1.3zM185.4 1026.6h1.3v1.3h-1.3zM245.9 992.9h1.3v1.3h-1.3zM281.8 1085.8h1.3v1.3h-1.3zM275.0 1141.0h1.3v1.3h-1.3zM281.2 1022.6h1.3v1.3h-1.3zM277.2 1023.3h1.3v1.3h-1.3zM185.8 1060.9h1.3v1.3h-1.3zM129.4 1000.0h1.3v1.3h-1.3zM276.7 1080.1h1.3v1.3h-1.3zM305.6 1116.7h1.3v1.3h-1.3zM239.3 1140.1h1.3v1.3h-1.3zM271.5 1085.2h1.3v1.3h-1.3zM153.2 1089.4h1.3v1.3h-1.3zM236.4 1132.1h1.3v1.3h-1.3zM296.9 1123.8h1.3v1.3h-1.3zM254.5 1018.5h1.3v1.3h-1.3zM154.7 970.7h1.3v1.3h-1.3zM187.2 1005.5h1.3v1.3h-1.3zM223.6 1025.2h1.3v1.3h-1.3zM250.3 1065.7h1.3v1.3h-1.3zM202.0 1126.4h1.3v1.3h-1.3zM293.4 1058.4h1.3v1.3h-1.3zM283.3 1024.5h1.3v1.3h-1.3zM227.2 1026.2h1.3v1.3h-1.3zM269.0 1003.0h1.3v1.3h-1.3zM275.3 1010.0h1.3v1.3h-1.3zM267.1 1018.0h1.3v1.3h-1.3zM283.2 1090.6h1.3v1.3h-1.3zM252.6 1008.2h1.3v1.3h-1.3zM207.8 1049.9h1.3v1.3h-1.3zM253.1 1005.2h1.3v1.3h-1.3zM284.2 1090.7h1.3v1.3h-1.3zM268.8 1071.2h1.3v1.3h-1.3zM194.9 1044.5h1.3v1.3h-1.3zM253.9 1018.1h1.3v1.3h-1.3zM244.6 1027.0h1.3v1.3h-1.3zM161.7 1089.0h1.3v1.3h-1.3zM220.3 1041.3h1.3v1.3h-1.3zM269.5 1063.6h1.3v1.3h-1.3zM190.2 1009.7h1.3v1.3h-1.3zM133.4 997.1h1.3v1.3h-1.3zM165.7 1120.1h1.3v1.3h-1.3zM177.9 1094.0h1.3v1.3h-1.3zM226.3 996.6h1.3v1.3h-1.3zM250.0 1152.3h1.3v1.3h-1.3zM274.2 1044.4h1.3v1.3h-1.3zM183.4 1037.9h1.3v1.3h-1.3zM250.8 1038.3h1.3v1.3h-1.3zM287.0 1074.3h1.3v1.3h-1.3zM268.6 1085.3h1.3v1.3h-1.3zM278.1 1030.7h1.3v1.3h-1.3zM286.0 1014.2h1.3v1.3h-1.3zM291.9 1074.7h1.3v1.3h-1.3zM281.6 1028.8h1.3v1.3h-1.3zM285.5 1013.7h1.3v1.3h-1.3zM175.5 1126.0h1.3v1.3h-1.3zM205.6 994.5h1.3v1.3h-1.3zM288.9 1070.7h1.3v1.3h-1.3zM150.3 1053.2h1.3v1.3h-1.3zM285.7 1038.6h1.3v1.3h-1.3zM274.1 1070.5h1.3v1.3h-1.3zM267.8 1136.0h1.3v1.3h-1.3zM273.0 1023.7h1.3v1.3h-1.3zM288.0 1073.0h1.3v1.3h-1.3zM224.0 1087.4h1.3v1.3h-1.3zM271.3 1139.8h1.3v1.3h-1.3zM151.9 1082.0h1.3v1.3h-1.3zM150.0 955.1h1.3v1.3h-1.3zM276.7 1029.5h1.3v1.3h-1.3zM286.5 1023.7h1.3v1.3h-1.3zM224.2 1045.0h1.3v1.3h-1.3zM179.6 997.9h1.3v1.3h-1.3zM151.6 1019.1h1.3v1.3h-1.3zM192.1 992.1h1.3v1.3h-1.3zM178.3 1039.3h1.3v1.3h-1.3zM180.8 1010.1h1.3v1.3h-1.3zM257.8 1000.7h1.3v1.3h-1.3zM156.2 1126.8h1.3v1.3h-1.3zM278.6 1076.7h1.3v1.3h-1.3zM220.7 999.1h1.3v1.3h-1.3zM264.9 1047.2h1.3v1.3h-1.3zM302.5 1118.7h1.3v1.3h-1.3zM240.5 1067.0h1.3v1.3h-1.3zM255.8 1029.8h1.3v1.3h-1.3zM184.0 1065.7h1.3v1.3h-1.3zM175.7 1129.3h1.3v1.3h-1.3zM148.6 1028.9h1.3v1.3h-1.3zM148.9 1100.8h1.3v1.3h-1.3zM254.9 1144.9h1.3v1.3h-1.3zM171.5 1123.6h1.3v1.3h-1.3zM283.8 1081.2h1.3v1.3h-1.3zM248.5 1015.7h1.3v1.3h-1.3zM248.7 1079.7h1.3v1.3h-1.3zM196.5 994.7h1.3v1.3h-1.3zM289.3 1079.3h1.3v1.3h-1.3zM233.2 1019.2h1.3v1.3h-1.3zM241.6 1016.8h1.3v1.3h-1.3zM209.7 1021.5h1.3v1.3h-1.3zM234.1 1014.6h1.3v1.3h-1.3zM270.0 1138.3h1.3v1.3h-1.3zM257.2 1046.1h1.3v1.3h-1.3zM230.1 1035.8h1.3v1.3h-1.3zM226.8 1029.2h1.3v1.3h-1.3zM244.7 999.4h1.3v1.3h-1.3zM267.8 1015.5h1.3v1.3h-1.3zM130.7 999.4h1.3v1.3h-1.3zM159.8 1125.8h1.3v1.3h-1.3zM267.8 1007.1h1.3v1.3h-1.3zM134.2 982.9h1.3v1.3h-1.3zM255.8 997.3h1.3v1.3h-1.3zM274.8 1021.1h1.3v1.3h-1.3zM270.3 1024.9h1.3v1.3h-1.3zM232.6 1130.8h1.3v1.3h-1.3zM232.4 995.0h1.3v1.3h-1.3zM275.3 1012.9h1.3v1.3h-1.3zM209.5 1097.3h1.3v1.3h-1.3zM189.7 1094.3h1.3v1.3h-1.3zM270.4 1046.0h1.3v1.3h-1.3zM202.0 1096.1h1.3v1.3h-1.3zM285.4 1088.8h1.3v1.3h-1.3zM188.7 1031.5h1.3v1.3h-1.3zM240.0 991.1h1.3v1.3h-1.3zM279.7 1017.3h1.3v1.3h-1.3zM238.1 995.0h1.3v1.3h-1.3zM271.6 1068.7h1.3v1.3h-1.3zM160.9 988.4h1.3v1.3h-1.3zM175.9 1122.2h1.3v1.3h-1.3zM263.9 1057.9h1.3v1.3h-1.3zM187.7 1057.1h1.3v1.3h-1.3zM211.8 1020.6h1.3v1.3h-1.3zM245.0 1005.9h1.3v1.3h-1.3zM257.1 1078.6h1.3v1.3h-1.3zM255.3 1150.3h1.3v1.3h-1.3zM147.7 1001.4h1.3v1.3h-1.3zM211.6 1061.1h1.3v1.3h-1.3zM261.5 1157.9h1.3v1.3h-1.3zM281.8 1086.8h1.3v1.3h-1.3zM259.7 1146.4h1.3v1.3h-1.3zM288.9 1057.3h1.3v1.3h-1.3zM289.8 1084.6h1.3v1.3h-1.3zM280.6 1089.8h1.3v1.3h-1.3zM262.9 999.6h1.3v1.3h-1.3zM245.4 1078.5h1.3v1.3h-1.3zM272.8 1075.7h1.3v1.3h-1.3zM261.1 1041.8h1.3v1.3h-1.3zM178.7 1002.8h1.3v1.3h-1.3zM240.0 1024.4h1.3v1.3h-1.3zM225.8 1000.0h1.3v1.3h-1.3zM275.6 1083.5h1.3v1.3h-1.3zM187.3 998.6h1.3v1.3h-1.3zM202.8 1074.1h1.3v1.3h-1.3zM256.6 1082.5h1.3v1.3h-1.3zM253.7 1006.0h1.3v1.3h-1.3zM162.8 988.2h1.3v1.3h-1.3zM265.1 1040.8h1.3v1.3h-1.3zM184.5 993.5h1.3v1.3h-1.3zM175.9 1103.8h1.3v1.3h-1.3zM186.7 1094.7h1.3v1.3h-1.3zM242.8 1130.1h1.3v1.3h-1.3zM216.6 1128.8h1.3v1.3h-1.3zM226.7 1041.6h1.3v1.3h-1.3zM236.3 1023.6h1.3v1.3h-1.3zM175.3 1106.1h1.3v1.3h-1.3zM178.9 1002.6h1.3v1.3h-1.3zM262.9 1085.4h1.3v1.3h-1.3zM154.7 993.6h1.3v1.3h-1.3zM173.2 1122.1h1.3v1.3h-1.3zM297.3 1125.1h1.3v1.3h-1.3zM263.2 1013.4h1.3v1.3h-1.3zM261.6 998.3h1.3v1.3h-1.3zM260.9 1149.1h1.3v1.3h-1.3zM260.5 997.9h1.3v1.3h-1.3zM276.4 1057.9h1.3v1.3h-1.3zM209.7 1053.9h1.3v1.3h-1.3zM267.6 1094.6h1.3v1.3h-1.3zM245.7 1018.9h1.3v1.3h-1.3zM186.3 997.3h1.3v1.3h-1.3zM194.5 1007.8h1.3v1.3h-1.3zM241.8 995.5h1.3v1.3h-1.3zM240.9 1156.9h1.3v1.3h-1.3zM214.2 993.7h1.3v1.3h-1.3zM187.6 993.4h1.3v1.3h-1.3zM280.9 1015.4h1.3v1.3h-1.3zM154.6 1077.2h1.3v1.3h-1.3zM271.0 1058.9h1.3v1.3h-1.3zM225.0 1001.5h1.3v1.3h-1.3zM284.3 1065.5h1.3v1.3h-1.3zM191.6 1129.0h1.3v1.3h-1.3zM226.2 1130.7h1.3v1.3h-1.3zM240.0 1157.7h1.3v1.3h-1.3zM209.8 1082.8h1.3v1.3h-1.3zM186.7 990.6h1.3v1.3h-1.3zM248.5 1051.8h1.3v1.3h-1.3zM266.7 1045.3h1.3v1.3h-1.3zM160.3 1121.2h1.3v1.3h-1.3zM208.2 1014.2h1.3v1.3h-1.3zM218.2 1030.1h1.3v1.3h-1.3zM236.8 991.5h1.3v1.3h-1.3zM204.5 995.2h1.3v1.3h-1.3zM245.5 1030.3h1.3v1.3h-1.3zM156.0 1097.9h1.3v1.3h-1.3zM202.4 1092.7h1.3v1.3h-1.3zM258.0 1049.9h1.3v1.3h-1.3zM191.6 1127.5h1.3v1.3h-1.3zM247.3 998.8h1.3v1.3h-1.3zM249.8 1027.5h1.3v1.3h-1.3zM278.3 1008.4h1.3v1.3h-1.3zM287.2 1082.5h1.3v1.3h-1.3zM271.2 1024.4h1.3v1.3h-1.3zM192.3 1079.4h1.3v1.3h-1.3zM243.0 1069.9h1.3v1.3h-1.3zM266.3 1036.8h1.3v1.3h-1.3zM149.4 1023.0h1.3v1.3h-1.3zM254.0 1050.6h1.3v1.3h-1.3zM263.5 1017.9h1.3v1.3h-1.3zM234.6 994.4h1.3v1.3h-1.3zM263.3 1010.0h1.3v1.3h-1.3zM204.8 1030.7h1.3v1.3h-1.3zM210.4 1046.1h1.3v1.3h-1.3zM222.2 1040.1h1.3v1.3h-1.3zM252.3 1049.7h1.3v1.3h-1.3zM156.2 1085.2h1.3v1.3h-1.3zM208.9 1094.4h1.3v1.3h-1.3zM217.2 1014.5h1.3v1.3h-1.3zM282.8 1099.9h1.3v1.3h-1.3zM187.2 1090.6h1.3v1.3h-1.3zM264.6 1011.4h1.3v1.3h-1.3zM194.5 1091.5h1.3v1.3h-1.3zM281.1 1014.8h1.3v1.3h-1.3zM193.5 1095.0h1.3v1.3h-1.3zM191.0 1003.8h1.3v1.3h-1.3zM287.1 1076.3h1.3v1.3h-1.3zM264.1 1019.4h1.3v1.3h-1.3zM243.5 1069.0h1.3v1.3h-1.3zM282.5 1065.9h1.3v1.3h-1.3zM185.7 1015.4h1.3v1.3h-1.3zM182.6 1003.1h1.3v1.3h-1.3zM218.0 990.5h1.3v1.3h-1.3zM229.2 995.5h1.3v1.3h-1.3zM239.4 1017.8h1.3v1.3h-1.3zM230.2 1017.9h1.3v1.3h-1.3zM248.6 1048.1h1.3v1.3h-1.3zM201.3 1002.8h1.3v1.3h-1.3zM212.3 1065.3h1.3v1.3h-1.3zM260.1 1053.2h1.3v1.3h-1.3zM181.1 999.0h1.3v1.3h-1.3zM150.8 1114.4h1.3v1.3h-1.3zM180.2 1015.4h1.3v1.3h-1.3zM288.9 1084.8h1.3v1.3h-1.3zM246.4 1010.9h1.3v1.3h-1.3zM248.8 1013.8h1.3v1.3h-1.3zM291.8 1054.7h1.3v1.3h-1.3zM294.0 1123.0h1.3v1.3h-1.3zM299.0 1123.9h1.3v1.3h-1.3zM177.8 998.2h1.3v1.3h-1.3zM229.6 1032.3h1.3v1.3h-1.3zM157.5 1085.7h1.3v1.3h-1.3zM242.5 993.8h1.3v1.3h-1.3zM190.3 1071.8h1.3v1.3h-1.3zM257.2 1049.0h1.3v1.3h-1.3zM238.9 1001.7h1.3v1.3h-1.3zM268.7 1042.2h1.3v1.3h-1.3zM276.7 1133.6h1.3v1.3h-1.3zM254.3 1084.4h1.3v1.3h-1.3zM158.0 1096.6h1.3v1.3h-1.3zM181.9 995.1h1.3v1.3h-1.3zM211.0 1054.5h1.3v1.3h-1.3zM265.6 1061.1h1.3v1.3h-1.3zM261.0 1043.3h1.3v1.3h-1.3zM200.2 1002.4h1.3v1.3h-1.3zM276.3 1032.3h1.3v1.3h-1.3zM297.4 1105.5h1.3v1.3h-1.3zM276.8 1017.5h1.3v1.3h-1.3zM225.3 1130.1h1.3v1.3h-1.3zM261.0 1023.5h1.3v1.3h-1.3zM213.9 1092.9h1.3v1.3h-1.3zM288.3 1054.6h1.3v1.3h-1.3zM206.8 1018.0h1.3v1.3h-1.3zM297.3 1106.9h1.3v1.3h-1.3zM221.6 1056.5h1.3v1.3h-1.3zM240.2 1024.6h1.3v1.3h-1.3zM189.0 1063.1h1.3v1.3h-1.3zM242.5 1048.8h1.3v1.3h-1.3zM259.7 1062.4h1.3v1.3h-1.3zM271.2 1133.4h1.3v1.3h-1.3zM202.1 1013.4h1.3v1.3h-1.3zM290.2 1123.1h1.3v1.3h-1.3zM279.1 1058.5h1.3v1.3h-1.3zM184.9 1122.1h1.3v1.3h-1.3zM203.8 1080.9h1.3v1.3h-1.3zM275.0 1081.5h1.3v1.3h-1.3zM218.4 1077.5h1.3v1.3h-1.3zM281.9 1081.2h1.3v1.3h-1.3zM174.6 1084.9h1.3v1.3h-1.3zM262.7 1001.8h1.3v1.3h-1.3zM183.8 1084.1h1.3v1.3h-1.3zM197.8 1003.3h1.3v1.3h-1.3zM278.1 1098.3h1.3v1.3h-1.3zM211.5 1042.4h1.3v1.3h-1.3zM262.0 996.5h1.3v1.3h-1.3zM271.1 1014.0h1.3v1.3h-1.3zM179.8 1034.0h1.3v1.3h-1.3zM158.2 1120.2h1.3v1.3h-1.3zM207.5 1094.0h1.3v1.3h-1.3zM239.0 1159.2h1.3v1.3h-1.3zM238.9 1044.6h1.3v1.3h-1.3zM158.2 1110.5h1.3v1.3h-1.3zM288.2 1104.4h1.3v1.3h-1.3zM224.1 1013.4h1.3v1.3h-1.3zM187.7 1068.0h1.3v1.3h-1.3zM234.9 1062.8h1.3v1.3h-1.3zM252.1 1029.9h1.3v1.3h-1.3zM260.0 1147.9h1.3v1.3h-1.3zM180.2 1011.6h1.3v1.3h-1.3zM198.2 1095.5h1.3v1.3h-1.3zM159.2 1118.1h1.3v1.3h-1.3zM298.7 1121.1h1.3v1.3h-1.3zM209.9 1128.0h1.3v1.3h-1.3zM240.7 1013.0h1.3v1.3h-1.3zM249.0 1080.8h1.3v1.3h-1.3zM190.8 1056.4h1.3v1.3h-1.3zM194.0 1028.0h1.3v1.3h-1.3zM157.4 1124.9h1.3v1.3h-1.3zM187.8 1122.2h1.3v1.3h-1.3zM261.3 1025.9h1.3v1.3h-1.3zM192.1 1014.3h1.3v1.3h-1.3zM154.0 1123.7h1.3v1.3h-1.3zM206.5 1097.0h1.3v1.3h-1.3zM240.4 1131.1h1.3v1.3h-1.3zM157.7 1093.2h1.3v1.3h-1.3zM285.6 1032.0h1.3v1.3h-1.3zM281.3 1063.1h1.3v1.3h-1.3zM252.6 1068.8h1.3v1.3h-1.3zM287.1 1054.9h1.3v1.3h-1.3zM242.9 1094.6h1.3v1.3h-1.3zM245.1 1051.4h1.3v1.3h-1.3zM261.7 1062.2h1.3v1.3h-1.3zM267.4 1003.4h1.3v1.3h-1.3zM176.3 1101.2h1.3v1.3h-1.3zM150.5 1080.9h1.3v1.3h-1.3zM208.4 1125.2h1.3v1.3h-1.3zM180.5 1110.0h1.3v1.3h-1.3zM247.7 1095.5h1.3v1.3h-1.3zM236.9 1045.7h1.3v1.3h-1.3zM215.8 1005.5h1.3v1.3h-1.3zM258.3 1073.6h1.3v1.3h-1.3zM206.6 1063.6h1.3v1.3h-1.3zM247.5 1150.9h1.3v1.3h-1.3zM230.1 1049.5h1.3v1.3h-1.3zM244.5 1023.6h1.3v1.3h-1.3zM269.6 1001.1h1.3v1.3h-1.3zM181.1 1053.6h1.3v1.3h-1.3zM280.7 1001.6h1.3v1.3h-1.3zM195.9 1041.7h1.3v1.3h-1.3zM237.5 1038.8h1.3v1.3h-1.3zM275.2 1132.0h1.3v1.3h-1.3zM201.0 1119.5h1.3v1.3h-1.3zM242.5 1133.5h1.3v1.3h-1.3zM238.6 1057.3h1.3v1.3h-1.3zM205.6 1040.2h1.3v1.3h-1.3zM220.7 1066.1h1.3v1.3h-1.3zM218.0 1017.3h1.3v1.3h-1.3zM193.3 1090.3h1.3v1.3h-1.3zM258.7 1006.5h1.3v1.3h-1.3zM278.4 1062.5h1.3v1.3h-1.3zM236.7 1027.2h1.3v1.3h-1.3zM179.6 1101.5h1.3v1.3h-1.3zM271.6 1078.0h1.3v1.3h-1.3zM178.7 1063.7h1.3v1.3h-1.3zM238.6 1003.1h1.3v1.3h-1.3zM229.2 1089.8h1.3v1.3h-1.3zM154.9 1123.4h1.3v1.3h-1.3zM168.9 1121.5h1.3v1.3h-1.3zM233.2 1010.7h1.3v1.3h-1.3zM219.5 1092.1h1.3v1.3h-1.3zM193.0 1071.0h1.3v1.3h-1.3zM184.0 1015.2h1.3v1.3h-1.3zM191.4 1034.4h1.3v1.3h-1.3zM194.5 1008.4h1.3v1.3h-1.3zM264.2 1071.2h1.3v1.3h-1.3zM240.9 1092.6h1.3v1.3h-1.3zM268.9 1017.6h1.3v1.3h-1.3zM232.8 1008.3h1.3v1.3h-1.3zM211.8 1078.6h1.3v1.3h-1.3zM153.4 1005.5h1.3v1.3h-1.3zM214.1 1074.9h1.3v1.3h-1.3zM176.8 1129.7h1.3v1.3h-1.3zM219.0 1004.6h1.3v1.3h-1.3zM225.9 1042.2h1.3v1.3h-1.3zM250.5 1042.6h1.3v1.3h-1.3zM192.2 1000.9h1.3v1.3h-1.3zM180.1 1035.5h1.3v1.3h-1.3zM185.7 1096.5h1.3v1.3h-1.3zM170.9 1120.0h1.3v1.3h-1.3zM257.0 1009.5h1.3v1.3h-1.3zM179.0 1019.4h1.3v1.3h-1.3zM188.0 1037.8h1.3v1.3h-1.3zM199.0 1004.9h1.3v1.3h-1.3zM186.4 1102.1h1.3v1.3h-1.3zM262.4 1087.2h1.3v1.3h-1.3zM214.6 1021.6h1.3v1.3h-1.3zM285.4 1123.4h1.3v1.3h-1.3zM178.9 1102.5h1.3v1.3h-1.3zM286.1 1058.8h1.3v1.3h-1.3zM226.7 1064.0h1.3v1.3h-1.3zM226.3 1014.2h1.3v1.3h-1.3zM234.5 1006.9h1.3v1.3h-1.3zM171.4 1111.9h1.3v1.3h-1.3zM239.7 1073.5h1.3v1.3h-1.3zM188.1 1061.9h1.3v1.3h-1.3zM181.1 1064.8h1.3v1.3h-1.3zM254.7 1017.7h1.3v1.3h-1.3zM275.1 1006.4h1.3v1.3h-1.3zM173.0 1099.2h1.3v1.3h-1.3zM230.6 1020.7h1.3v1.3h-1.3zM172.9 1038.0h1.3v1.3h-1.3zM238.0 1030.2h1.3v1.3h-1.3zM153.0 1070.4h1.3v1.3h-1.3zM208.6 1060.1h1.3v1.3h-1.3zM281.7 999.0h1.3v1.3h-1.3zM224.4 1019.6h1.3v1.3h-1.3zM270.0 1040.1h1.3v1.3h-1.3zM161.6 989.4h1.3v1.3h-1.3zM226.0 1016.8h1.3v1.3h-1.3zM274.0 1075.2h1.3v1.3h-1.3zM189.8 1014.6h1.3v1.3h-1.3zM182.9 1087.8h1.3v1.3h-1.3zM240.2 1030.9h1.3v1.3h-1.3zM262.3 1033.1h1.3v1.3h-1.3zM237.4 1086.7h1.3v1.3h-1.3zM258.5 1042.7h1.3v1.3h-1.3zM191.6 1085.2h1.3v1.3h-1.3zM219.9 1025.6h1.3v1.3h-1.3zM177.5 1015.7h1.3v1.3h-1.3zM256.3 1051.2h1.3v1.3h-1.3zM183.8 1075.5h1.3v1.3h-1.3zM215.4 991.7h1.3v1.3h-1.3zM224.4 1051.2h1.3v1.3h-1.3zM243.0 1080.6h1.3v1.3h-1.3zM202.4 1030.4h1.3v1.3h-1.3zM295.2 1110.0h1.3v1.3h-1.3zM194.2 992.5h1.3v1.3h-1.3zM189.7 1060.3h1.3v1.3h-1.3zM200.5 1033.0h1.3v1.3h-1.3zM195.0 1098.9h1.3v1.3h-1.3zM209.1 1084.2h1.3v1.3h-1.3zM150.8 1025.4h1.3v1.3h-1.3zM261.1 1027.7h1.3v1.3h-1.3zM241.4 1047.3h1.3v1.3h-1.3zM154.7 1061.7h1.3v1.3h-1.3zM266.3 1135.7h1.3v1.3h-1.3zM233.0 1052.8h1.3v1.3h-1.3zM219.5 1018.2h1.3v1.3h-1.3zM203.2 1060.1h1.3v1.3h-1.3zM272.3 1022.3h1.3v1.3h-1.3zM185.9 1050.2h1.3v1.3h-1.3zM239.6 1056.2h1.3v1.3h-1.3zM156.3 1043.7h1.3v1.3h-1.3zM223.1 1041.2h1.3v1.3h-1.3zM242.0 1132.2h1.3v1.3h-1.3zM215.5 1031.3h1.3v1.3h-1.3zM166.3 1088.7h1.3v1.3h-1.3zM208.2 1006.1h1.3v1.3h-1.3zM216.6 1071.5h1.3v1.3h-1.3zM152.3 1047.5h1.3v1.3h-1.3zM249.9 1001.4h1.3v1.3h-1.3zM232.5 1003.6h1.3v1.3h-1.3zM268.5 1032.8h1.3v1.3h-1.3zM276.8 1033.2h1.3v1.3h-1.3zM298.6 1121.3h1.3v1.3h-1.3zM184.9 1002.6h1.3v1.3h-1.3zM152.4 1082.0h1.3v1.3h-1.3zM194.0 993.0h1.3v1.3h-1.3zM158.2 1120.7h1.3v1.3h-1.3zM266.7 1081.7h1.3v1.3h-1.3zM184.0 1122.0h1.3v1.3h-1.3zM203.4 1035.6h1.3v1.3h-1.3zM180.4 1080.8h1.3v1.3h-1.3zM186.8 1088.0h1.3v1.3h-1.3zM154.4 1099.9h1.3v1.3h-1.3zM280.1 1058.5h1.3v1.3h-1.3zM187.4 1047.5h1.3v1.3h-1.3zM156.5 1084.2h1.3v1.3h-1.3zM196.8 1031.0h1.3v1.3h-1.3zM221.9 1024.2h1.3v1.3h-1.3zM260.3 1031.5h1.3v1.3h-1.3zM262.0 1033.3h1.3v1.3h-1.3zM194.2 1006.8h1.3v1.3h-1.3zM197.5 1015.2h1.3v1.3h-1.3zM251.7 1088.5h1.3v1.3h-1.3zM225.1 1007.8h1.3v1.3h-1.3zM236.4 1050.9h1.3v1.3h-1.3zM167.5 1101.4h1.3v1.3h-1.3zM242.8 1038.9h1.3v1.3h-1.3zM227.1 1000.2h1.3v1.3h-1.3zM283.9 1080.9h1.3v1.3h-1.3zM261.9 1099.0h1.3v1.3h-1.3zM261.0 1076.2h1.3v1.3h-1.3zM221.4 1080.2h1.3v1.3h-1.3zM248.3 1053.6h1.3v1.3h-1.3zM236.5 1000.3h1.3v1.3h-1.3zM257.7 1033.7h1.3v1.3h-1.3zM208.5 1025.8h1.3v1.3h-1.3zM242.5 1072.7h1.3v1.3h-1.3zM257.0 1133.3h1.3v1.3h-1.3zM278.6 1002.8h1.3v1.3h-1.3zM224.0 1040.7h1.3v1.3h-1.3zM155.7 1082.6h1.3v1.3h-1.3zM251.8 1065.2h1.3v1.3h-1.3zM151.2 1053.8h1.3v1.3h-1.3zM285.1 1128.5h1.3v1.3h-1.3zM190.4 1090.2h1.3v1.3h-1.3zM213.0 1019.5h1.3v1.3h-1.3zM240.1 1020.8h1.3v1.3h-1.3zM183.1 1055.9h1.3v1.3h-1.3zM180.3 1020.0h1.3v1.3h-1.3zM254.7 1082.3h1.3v1.3h-1.3zM203.0 1005.0h1.3v1.3h-1.3zM255.3 1036.8h1.3v1.3h-1.3zM252.0 1009.0h1.3v1.3h-1.3zM225.6 1033.1h1.3v1.3h-1.3zM225.7 1096.6h1.3v1.3h-1.3zM235.8 992.5h1.3v1.3h-1.3zM233.3 1007.7h1.3v1.3h-1.3zM196.9 1037.7h1.3v1.3h-1.3zM219.6 1127.6h1.3v1.3h-1.3zM184.1 1016.5h1.3v1.3h-1.3zM216.8 992.7h1.3v1.3h-1.3zM197.1 1013.4h1.3v1.3h-1.3zM215.3 1064.9h1.3v1.3h-1.3zM230.4 1018.9h1.3v1.3h-1.3zM274.2 1139.1h1.3v1.3h-1.3zM247.2 1002.2h1.3v1.3h-1.3zM201.4 1019.2h1.3v1.3h-1.3zM225.8 1007.1h1.3v1.3h-1.3zM260.0 997.6h1.3v1.3h-1.3zM256.9 1087.6h1.3v1.3h-1.3zM183.2 1111.3h1.3v1.3h-1.3zM174.3 1116.7h1.3v1.3h-1.3zM208.2 1019.9h1.3v1.3h-1.3zM213.9 1126.2h1.3v1.3h-1.3zM242.4 1016.5h1.3v1.3h-1.3zM188.9 1083.2h1.3v1.3h-1.3zM246.8 1029.7h1.3v1.3h-1.3zM255.4 1011.7h1.3v1.3h-1.3zM299.1 1115.1h1.3v1.3h-1.3zM256.6 1131.7h1.3v1.3h-1.3zM259.4 1079.2h1.3v1.3h-1.3zM173.6 1026.2h1.3v1.3h-1.3zM280.5 1090.3h1.3v1.3h-1.3zM183.4 1117.3h1.3v1.3h-1.3zM255.1 1134.1h1.3v1.3h-1.3zM175.1 1000.2h1.3v1.3h-1.3zM188.9 1072.5h1.3v1.3h-1.3zM293.9 1123.2h1.3v1.3h-1.3zM232.5 1023.6h1.3v1.3h-1.3zM226.5 998.8h1.3v1.3h-1.3zM166.2 993.5h1.3v1.3h-1.3zM243.9 1052.4h1.3v1.3h-1.3zM204.8 1061.3h1.3v1.3h-1.3zM263.6 1094.7h1.3v1.3h-1.3zM222.9 1080.2h1.3v1.3h-1.3zM184.1 1049.4h1.3v1.3h-1.3zM258.3 1134.9h1.3v1.3h-1.3zM202.3 1039.2h1.3v1.3h-1.3zM182.3 1032.0h1.3v1.3h-1.3zM216.7 1067.2h1.3v1.3h-1.3zM264.7 1084.4h1.3v1.3h-1.3zM173.1 1091.5h1.3v1.3h-1.3zM184.0 1085.4h1.3v1.3h-1.3zM168.4 1093.7h1.3v1.3h-1.3zM240.5 1040.4h1.3v1.3h-1.3zM238.1 1006.2h1.3v1.3h-1.3zM173.9 1093.9h1.3v1.3h-1.3zM187.7 1043.4h1.3v1.3h-1.3zM182.3 1072.4h1.3v1.3h-1.3zM191.7 1013.2h1.3v1.3h-1.3zM281.3 1029.3h1.3v1.3h-1.3zM252.3 1026.4h1.3v1.3h-1.3zM188.7 1119.9h1.3v1.3h-1.3zM221.9 1004.3h1.3v1.3h-1.3zM275.1 1127.5h1.3v1.3h-1.3zM192.3 1042.3h1.3v1.3h-1.3zM254.4 1076.9h1.3v1.3h-1.3zM218.5 1036.9h1.3v1.3h-1.3zM252.8 1010.2h1.3v1.3h-1.3zM180.1 1074.2h1.3v1.3h-1.3zM206.9 1001.8h1.3v1.3h-1.3zM208.1 1026.1h1.3v1.3h-1.3zM254.1 1070.0h1.3v1.3h-1.3zM287.9 1056.1h1.3v1.3h-1.3zM183.1 999.2h1.3v1.3h-1.3zM259.6 1010.2h1.3v1.3h-1.3zM261.8 1078.7h1.3v1.3h-1.3zM250.4 1052.4h1.3v1.3h-1.3zM183.4 996.2h1.3v1.3h-1.3zM200.9 1087.6h1.3v1.3h-1.3zM266.0 1080.5h1.3v1.3h-1.3zM200.3 1090.8h1.3v1.3h-1.3zM231.0 1019.5h1.3v1.3h-1.3zM191.7 1007.0h1.3v1.3h-1.3zM271.4 1053.5h1.3v1.3h-1.3zM221.5 1043.9h1.3v1.3h-1.3zM198.8 1038.7h1.3v1.3h-1.3zM251.7 1026.6h1.3v1.3h-1.3zM223.4 1059.8h1.3v1.3h-1.3zM257.8 1065.6h1.3v1.3h-1.3zM194.0 1065.1h1.3v1.3h-1.3zM243.1 1033.5h1.3v1.3h-1.3zM175.3 1095.4h1.3v1.3h-1.3zM166.6 1063.9h1.3v1.3h-1.3zM261.5 1005.9h1.3v1.3h-1.3zM213.0 1028.1h1.3v1.3h-1.3zM200.0 1036.6h1.3v1.3h-1.3zM214.0 1005.3h1.3v1.3h-1.3zM205.5 1042.7h1.3v1.3h-1.3zM169.5 1099.5h1.3v1.3h-1.3zM258.1 1079.7h1.3v1.3h-1.3zM247.8 1091.0h1.3v1.3h-1.3zM263.3 1042.4h1.3v1.3h-1.3zM184.4 1018.8h1.3v1.3h-1.3zM197.4 1103.2h1.3v1.3h-1.3zM191.3 1129.0h1.3v1.3h-1.3zM245.5 1062.2h1.3v1.3h-1.3zM267.8 1034.5h1.3v1.3h-1.3zM198.9 1068.4h1.3v1.3h-1.3zM280.5 1129.6h1.3v1.3h-1.3zM261.9 1054.6h1.3v1.3h-1.3zM185.2 1044.9h1.3v1.3h-1.3zM294.8 1107.8h1.3v1.3h-1.3zM248.4 1104.9h1.3v1.3h-1.3zM282.2 1017.5h1.3v1.3h-1.3zM243.6 1042.1h1.3v1.3h-1.3zM192.2 1002.7h1.3v1.3h-1.3zM222.1 1099.1h1.3v1.3h-1.3zM260.3 1071.2h1.3v1.3h-1.3zM295.1 1113.8h1.3v1.3h-1.3zM270.7 1021.4h1.3v1.3h-1.3zM219.0 1004.9h1.3v1.3h-1.3zM241.7 1078.2h1.3v1.3h-1.3zM242.9 1072.5h1.3v1.3h-1.3zM239.7 1133.0h1.3v1.3h-1.3zM178.2 1085.2h1.3v1.3h-1.3zM242.3 1052.6h1.3v1.3h-1.3zM198.7 1061.9h1.3v1.3h-1.3zM280.6 1080.2h1.3v1.3h-1.3zM232.1 1030.0h1.3v1.3h-1.3zM257.3 1019.9h1.3v1.3h-1.3zM221.0 1094.8h1.3v1.3h-1.3zM183.2 1018.9h1.3v1.3h-1.3zM183.9 1104.9h1.3v1.3h-1.3zM218.8 1084.2h1.3v1.3h-1.3zM154.3 1073.0h1.3v1.3h-1.3zM185.5 1123.8h1.3v1.3h-1.3zM210.1 1006.0h1.3v1.3h-1.3zM249.0 1008.6h1.3v1.3h-1.3zM270.1 1080.0h1.3v1.3h-1.3zM217.1 1061.1h1.3v1.3h-1.3zM219.4 1018.1h1.3v1.3h-1.3zM282.6 1029.3h1.3v1.3h-1.3zM271.0 1053.7h1.3v1.3h-1.3zM253.1 1045.0h1.3v1.3h-1.3zM186.5 1030.4h1.3v1.3h-1.3zM234.3 1071.7h1.3v1.3h-1.3zM184.3 1024.5h1.3v1.3h-1.3zM237.0 1097.7h1.3v1.3h-1.3zM246.9 1014.9h1.3v1.3h-1.3zM203.9 1026.8h1.3v1.3h-1.3zM237.8 1010.4h1.3v1.3h-1.3zM245.7 1000.9h1.3v1.3h-1.3zM223.8 1053.0h1.3v1.3h-1.3zM162.6 1088.1h1.3v1.3h-1.3zM217.4 1011.8h1.3v1.3h-1.3zM186.5 1018.8h1.3v1.3h-1.3zM199.4 1022.1h1.3v1.3h-1.3zM203.8 1007.6h1.3v1.3h-1.3zM152.7 1047.9h1.3v1.3h-1.3zM216.4 1038.3h1.3v1.3h-1.3zM239.2 1088.4h1.3v1.3h-1.3zM247.7 1062.4h1.3v1.3h-1.3zM203.9 1020.6h1.3v1.3h-1.3zM196.4 1026.3h1.3v1.3h-1.3zM232.3 1088.1h1.3v1.3h-1.3zM196.2 1077.8h1.3v1.3h-1.3zM193.6 1082.3h1.3v1.3h-1.3zM191.4 1012.4h1.3v1.3h-1.3zM191.2 1049.9h1.3v1.3h-1.3zM258.4 1069.5h1.3v1.3h-1.3zM264.8 1082.4h1.3v1.3h-1.3zM201.9 1029.0h1.3v1.3h-1.3zM190.2 1065.0h1.3v1.3h-1.3zM170.8 1089.2h1.3v1.3h-1.3zM281.9 1060.2h1.3v1.3h-1.3zM214.8 1018.2h1.3v1.3h-1.3zM253.3 1132.4h1.3v1.3h-1.3zM276.5 1058.1h1.3v1.3h-1.3zM220.7 1055.8h1.3v1.3h-1.3zM283.1 1128.4h1.3v1.3h-1.3zM189.6 1086.4h1.3v1.3h-1.3zM201.2 1017.0h1.3v1.3h-1.3zM228.0 1080.2h1.3v1.3h-1.3zM191.8 1083.7h1.3v1.3h-1.3zM154.8 1074.6h1.3v1.3h-1.3zM247.6 1075.3h1.3v1.3h-1.3zM281.7 1063.8h1.3v1.3h-1.3zM191.8 1088.3h1.3v1.3h-1.3zM238.2 1007.5h1.3v1.3h-1.3zM254.1 1036.3h1.3v1.3h-1.3zM210.1 1059.5h1.3v1.3h-1.3zM299.6 1112.9h1.3v1.3h-1.3zM213.0 1044.7h1.3v1.3h-1.3zM182.1 1040.6h1.3v1.3h-1.3zM247.8 1010.8h1.3v1.3h-1.3zM181.6 1083.3h1.3v1.3h-1.3zM182.1 1080.0h1.3v1.3h-1.3zM214.3 1045.3h1.3v1.3h-1.3zM202.8 1021.8h1.3v1.3h-1.3zM266.0 1130.0h1.3v1.3h-1.3zM198.8 1019.8h1.3v1.3h-1.3zM183.1 1112.7h1.3v1.3h-1.3zM234.5 1092.9h1.3v1.3h-1.3zM217.5 1060.8h1.3v1.3h-1.3zM214.9 1065.4h1.3v1.3h-1.3zM233.7 1060.5h1.3v1.3h-1.3zM238.9 1012.2h1.3v1.3h-1.3zM154.8 999.8h1.3v1.3h-1.3zM209.4 1005.1h1.3v1.3h-1.3zM177.6 1009.4h1.3v1.3h-1.3zM269.8 1033.8h1.3v1.3h-1.3zM242.6 1090.8h1.3v1.3h-1.3zM234.7 1092.5h1.3v1.3h-1.3zM184.8 1117.0h1.3v1.3h-1.3zM257.0 1010.2h1.3v1.3h-1.3zM241.1 1037.8h1.3v1.3h-1.3zM213.8 1089.6h1.3v1.3h-1.3zM183.1 1117.0h1.3v1.3h-1.3zM234.7 1002.4h1.3v1.3h-1.3zM207.8 1075.1h1.3v1.3h-1.3zM260.2 1016.6h1.3v1.3h-1.3zM156.0 1080.3h1.3v1.3h-1.3zM194.6 1014.8h1.3v1.3h-1.3zM175.4 996.9h1.3v1.3h-1.3zM290.6 1119.5h1.3v1.3h-1.3zM223.6 1090.5h1.3v1.3h-1.3zM296.2 1115.6h1.3v1.3h-1.3zM203.5 1081.1h1.3v1.3h-1.3zM224.5 1072.6h1.3v1.3h-1.3zM152.4 1024.0h1.3v1.3h-1.3zM276.5 1059.1h1.3v1.3h-1.3zM155.2 1036.8h1.3v1.3h-1.3zM226.8 1075.3h1.3v1.3h-1.3zM206.9 1001.8h1.3v1.3h-1.3zM189.3 1099.0h1.3v1.3h-1.3zM247.4 1036.8h1.3v1.3h-1.3zM256.2 1033.7h1.3v1.3h-1.3zM241.0 1022.5h1.3v1.3h-1.3zM154.3 1053.6h1.3v1.3h-1.3zM206.7 1050.5h1.3v1.3h-1.3zM219.3 1093.3h1.3v1.3h-1.3zM194.1 1038.2h1.3v1.3h-1.3zM162.8 1086.1h1.3v1.3h-1.3zM238.0 1071.2h1.3v1.3h-1.3zM267.8 1043.4h1.3v1.3h-1.3zM247.1 1041.9h1.3v1.3h-1.3zM250.1 1054.9h1.3v1.3h-1.3zM240.7 1081.1h1.3v1.3h-1.3zM205.4 1033.1h1.3v1.3h-1.3zM203.5 1035.0h1.3v1.3h-1.3zM269.7 1061.8h1.3v1.3h-1.3zM192.0 1044.4h1.3v1.3h-1.3zM224.2 1028.8h1.3v1.3h-1.3zM247.1 1074.4h1.3v1.3h-1.3zM191.7 1058.3h1.3v1.3h-1.3zM256.6 1010.9h1.3v1.3h-1.3zM298.0 1117.5h1.3v1.3h-1.3zM184.8 1076.4h1.3v1.3h-1.3zM250.6 1085.8h1.3v1.3h-1.3zM226.9 1088.6h1.3v1.3h-1.3zM224.8 1098.0h1.3v1.3h-1.3zM155.8 1035.4h1.3v1.3h-1.3zM235.9 1030.8h1.3v1.3h-1.3zM223.6 1072.1h1.3v1.3h-1.3zM229.4 1039.0h1.3v1.3h-1.3zM234.6 1049.4h1.3v1.3h-1.3zM257.8 1097.1h1.3v1.3h-1.3zM265.1 1014.5h1.3v1.3h-1.3zM278.0 1131.9h1.3v1.3h-1.3zM254.2 1064.9h1.3v1.3h-1.3zM193.7 1003.3h1.3v1.3h-1.3zM198.3 1095.6h1.3v1.3h-1.3zM230.3 1077.5h1.3v1.3h-1.3zM195.3 1086.5h1.3v1.3h-1.3zM207.7 1001.1h1.3v1.3h-1.3zM225.1 1128.4h1.3v1.3h-1.3zM203.2 1047.3h1.3v1.3h-1.3zM256.3 1083.2h1.3v1.3h-1.3zM224.7 1093.6h1.3v1.3h-1.3zM186.0 1098.1h1.3v1.3h-1.3zM260.1 1016.4h1.3v1.3h-1.3zM274.0 1097.7h1.3v1.3h-1.3zM245.3 1041.0h1.3v1.3h-1.3zM258.6 1131.3h1.3v1.3h-1.3zM228.7 1011.0h1.3v1.3h-1.3zM238.1 1041.8h1.3v1.3h-1.3zM231.4 1130.6h1.3v1.3h-1.3zM242.2 1011.5h1.3v1.3h-1.3zM237.8 1044.8h1.3v1.3h-1.3zM190.5 1101.6h1.3v1.3h-1.3zM234.6 1075.7h1.3v1.3h-1.3zM224.1 1051.2h1.3v1.3h-1.3zM201.5 1026.6h1.3v1.3h-1.3zM271.8 1079.8h1.3v1.3h-1.3zM233.3 1001.6h1.3v1.3h-1.3zM268.1 1052.0h1.3v1.3h-1.3zM200.5 1010.8h1.3v1.3h-1.3zM231.4 1041.1h1.3v1.3h-1.3zM257.2 1031.3h1.3v1.3h-1.3zM261.6 1016.2h1.3v1.3h-1.3zM198.6 1047.7h1.3v1.3h-1.3zM240.6 1072.9h1.3v1.3h-1.3zM212.6 1008.4h1.3v1.3h-1.3zM215.5 1031.4h1.3v1.3h-1.3zM197.0 1032.5h1.3v1.3h-1.3zM158.7 1084.1h1.3v1.3h-1.3zM184.7 1021.5h1.3v1.3h-1.3zM216.2 1016.2h1.3v1.3h-1.3zM190.6 1006.8h1.3v1.3h-1.3zM200.6 1044.7h1.3v1.3h-1.3zM242.7 1061.4h1.3v1.3h-1.3zM212.8 1069.4h1.3v1.3h-1.3zM204.2 1040.1h1.3v1.3h-1.3zM210.2 1036.3h1.3v1.3h-1.3zM164.9 993.5h1.3v1.3h-1.3zM187.0 1023.6h1.3v1.3h-1.3zM237.1 1037.1h1.3v1.3h-1.3zM187.9 1067.2h1.3v1.3h-1.3zM233.3 1035.1h1.3v1.3h-1.3zM248.3 1064.8h1.3v1.3h-1.3zM277.5 1129.5h1.3v1.3h-1.3zM181.2 1024.8h1.3v1.3h-1.3zM189.5 1066.2h1.3v1.3h-1.3zM154.6 1114.1h1.3v1.3h-1.3zM223.2 1011.8h1.3v1.3h-1.3zM258.7 1075.6h1.3v1.3h-1.3zM223.7 1038.5h1.3v1.3h-1.3zM206.5 1043.4h1.3v1.3h-1.3zM244.1 1088.3h1.3v1.3h-1.3zM222.2 1015.0h1.3v1.3h-1.3zM224.9 1081.0h1.3v1.3h-1.3zM260.8 1060.6h1.3v1.3h-1.3zM177.5 1083.6h1.3v1.3h-1.3zM173.2 1049.2h1.3v1.3h-1.3zM177.2 1025.1h1.3v1.3h-1.3zM273.8 1054.4h1.3v1.3h-1.3zM194.6 1041.7h1.3v1.3h-1.3zM187.3 1081.1h1.3v1.3h-1.3zM215.6 1005.4h1.3v1.3h-1.3zM275.5 1008.3h1.3v1.3h-1.3zM251.2 1045.5h1.3v1.3h-1.3zM202.2 1097.9h1.3v1.3h-1.3zM226.1 1090.5h1.3v1.3h-1.3zM250.6 1080.9h1.3v1.3h-1.3zM265.1 1060.3h1.3v1.3h-1.3zM183.4 1037.5h1.3v1.3h-1.3zM224.3 1124.0h1.3v1.3h-1.3zM238.6 1086.4h1.3v1.3h-1.3zM198.5 1014.5h1.3v1.3h-1.3zM178.0 1047.4h1.3v1.3h-1.3zM218.2 1083.4h1.3v1.3h-1.3zM268.9 1055.9h1.3v1.3h-1.3zM255.3 1041.1h1.3v1.3h-1.3zM185.0 1023.7h1.3v1.3h-1.3zM261.2 1084.7h1.3v1.3h-1.3zM237.8 1059.9h1.3v1.3h-1.3zM220.6 1096.8h1.3v1.3h-1.3zM289.3 1116.1h1.3v1.3h-1.3zM246.3 1034.2h1.3v1.3h-1.3zM245.1 1047.4h1.3v1.3h-1.3zM154.6 1036.5h1.3v1.3h-1.3zM285.1 1124.3h1.3v1.3h-1.3zM198.2 1056.9h1.3v1.3h-1.3zM178.4 1061.5h1.3v1.3h-1.3zM244.9 1069.5h1.3v1.3h-1.3zM210.7 1048.6h1.3v1.3h-1.3zM245.3 1080.7h1.3v1.3h-1.3zM192.2 1065.7h1.3v1.3h-1.3zM267.9 1135.4h1.3v1.3h-1.3zM195.9 1089.8h1.3v1.3h-1.3zM177.4 1046.5h1.3v1.3h-1.3zM245.3 1045.4h1.3v1.3h-1.3zM171.4 1097.9h1.3v1.3h-1.3zM227.6 1054.0h1.3v1.3h-1.3zM233.8 1091.2h1.3v1.3h-1.3zM276.9 1061.4h1.3v1.3h-1.3zM159.7 1077.0h1.3v1.3h-1.3zM238.4 1049.3h1.3v1.3h-1.3zM203.8 1051.4h1.3v1.3h-1.3zM240.2 1074.7h1.3v1.3h-1.3zM229.6 1044.8h1.3v1.3h-1.3zM190.0 1035.9h1.3v1.3h-1.3zM176.8 1013.9h1.3v1.3h-1.3zM268.3 1128.3h1.3v1.3h-1.3zM259.4 1060.8h1.3v1.3h-1.3zM234.0 1058.1h1.3v1.3h-1.3zM200.9 1074.5h1.3v1.3h-1.3zM245.2 1013.1h1.3v1.3h-1.3zM188.6 1086.3h1.3v1.3h-1.3zM235.4 1043.3h1.3v1.3h-1.3zM214.4 1017.5h1.3v1.3h-1.3zM195.4 1050.4h1.3v1.3h-1.3zM218.2 1028.1h1.3v1.3h-1.3zM153.4 1113.4h1.3v1.3h-1.3zM173.9 1094.0h1.3v1.3h-1.3zM260.0 1019.3h1.3v1.3h-1.3zM227.0 1013.3h1.3v1.3h-1.3zM218.4 1032.8h1.3v1.3h-1.3zM239.8 1073.0h1.3v1.3h-1.3zM248.4 1078.1h1.3v1.3h-1.3zM156.3 1100.0h1.3v1.3h-1.3zM260.0 1008.3h1.3v1.3h-1.3zM231.3 1072.6h1.3v1.3h-1.3zM239.3 1094.6h1.3v1.3h-1.3zM225.4 1055.8h1.3v1.3h-1.3zM215.1 1080.3h1.3v1.3h-1.3zM224.3 1093.7h1.3v1.3h-1.3zM220.0 1068.0h1.3v1.3h-1.3zM246.4 1098.0h1.3v1.3h-1.3zM176.8 1056.0h1.3v1.3h-1.3zM192.8 1060.0h1.3v1.3h-1.3zM153.7 1044.9h1.3v1.3h-1.3zM177.6 1050.6h1.3v1.3h-1.3zM188.5 1048.0h1.3v1.3h-1.3zM241.2 1013.9h1.3v1.3h-1.3zM214.6 1026.1h1.3v1.3h-1.3zM252.6 1045.1h1.3v1.3h-1.3zM243.0 994.5h1.3v1.3h-1.3zM182.1 1042.2h1.3v1.3h-1.3zM261.7 1130.9h1.3v1.3h-1.3zM244.6 1034.3h1.3v1.3h-1.3zM152.0 1013.1h1.3v1.3h-1.3zM194.2 1125.0h1.3v1.3h-1.3zM243.2 1017.8h1.3v1.3h-1.3zM175.6 1041.5h1.3v1.3h-1.3zM213.0 1012.7h1.3v1.3h-1.3zM265.3 1131.4h1.3v1.3h-1.3zM240.9 1037.8h1.3v1.3h-1.3zM190.0 1042.1h1.3v1.3h-1.3zM229.4 1034.5h1.3v1.3h-1.3zM217.4 1099.0h1.3v1.3h-1.3zM153.8 1008.8h1.3v1.3h-1.3zM186.3 1102.6h1.3v1.3h-1.3zM164.0 1116.3h1.3v1.3h-1.3zM202.9 1023.8h1.3v1.3h-1.3zM189.4 1030.1h1.3v1.3h-1.3zM215.3 1097.3h1.3v1.3h-1.3zM214.4 1008.4h1.3v1.3h-1.3zM253.1 1063.3h1.3v1.3h-1.3zM199.4 1122.3h1.3v1.3h-1.3zM188.4 1080.4h1.3v1.3h-1.3zM290.8 1117.5h1.3v1.3h-1.3zM174.2 1106.4h1.3v1.3h-1.3zM206.1 1064.9h1.3v1.3h-1.3zM194.9 1035.4h1.3v1.3h-1.3zM221.2 1008.5h1.3v1.3h-1.3zM255.0 1044.0h1.3v1.3h-1.3zM185.9 1096.5h1.3v1.3h-1.3zM210.7 1068.7h1.3v1.3h-1.3zM210.0 1057.2h1.3v1.3h-1.3zM226.5 1010.5h1.3v1.3h-1.3zM256.0 1067.4h1.3v1.3h-1.3zM199.2 1019.6h1.3v1.3h-1.3zM283.4 1030.8h1.3v1.3h-1.3zM256.2 1062.0h1.3v1.3h-1.3zM197.4 1063.8h1.3v1.3h-1.3zM183.0 1004.2h1.3v1.3h-1.3zM208.1 1089.4h1.3v1.3h-1.3zM212.2 1078.1h1.3v1.3h-1.3zM153.6 1053.8h1.3v1.3h-1.3zM220.4 1083.7h1.3v1.3h-1.3zM234.4 1079.5h1.3v1.3h-1.3zM170.3 1118.3h1.3v1.3h-1.3zM199.7 1064.1h1.3v1.3h-1.3zM268.9 1056.0h1.3v1.3h-1.3zM161.0 992.7h1.3v1.3h-1.3zM259.0 1082.4h1.3v1.3h-1.3zM200.3 1115.9h1.3v1.3h-1.3zM218.2 1058.8h1.3v1.3h-1.3zM242.5 1068.1h1.3v1.3h-1.3zM156.3 1002.6h1.3v1.3h-1.3zM217.4 1055.3h1.3v1.3h-1.3zM293.6 1114.3h1.3v1.3h-1.3zM215.0 1041.7h1.3v1.3h-1.3zM251.6 1094.4h1.3v1.3h-1.3zM199.2 1003.1h1.3v1.3h-1.3zM211.4 1101.9h1.3v1.3h-1.3zM249.0 1087.0h1.3v1.3h-1.3zM243.8 1076.8h1.3v1.3h-1.3zM155.5 1095.5h1.3v1.3h-1.3zM173.5 1099.0h1.3v1.3h-1.3zM231.2 1027.3h1.3v1.3h-1.3zM268.4 1055.2h1.3v1.3h-1.3zM258.1 1096.6h1.3v1.3h-1.3zM211.0 1057.3h1.3v1.3h-1.3zM212.6 1027.7h1.3v1.3h-1.3zM204.7 1003.9h1.3v1.3h-1.3zM194.3 1090.4h1.3v1.3h-1.3zM206.6 1011.5h1.3v1.3h-1.3zM267.7 1056.4h1.3v1.3h-1.3zM246.8 1082.6h1.3v1.3h-1.3zM182.9 1005.3h1.3v1.3h-1.3zM177.8 1008.0h1.3v1.3h-1.3zM229.0 1075.7h1.3v1.3h-1.3zM270.5 1078.2h1.3v1.3h-1.3zM161.8 993.2h1.3v1.3h-1.3zM253.1 1135.1h1.3v1.3h-1.3zM234.2 1027.2h1.3v1.3h-1.3zM249.9 1097.0h1.3v1.3h-1.3zM234.1 1099.5h1.3v1.3h-1.3zM285.4 1124.3h1.3v1.3h-1.3zM225.8 1088.6h1.3v1.3h-1.3zM252.6 1074.9h1.3v1.3h-1.3zM220.9 1011.8h1.3v1.3h-1.3zM185.8 1100.4h1.3v1.3h-1.3zM161.8 1048.1h1.3v1.3h-1.3zM285.7 1124.7h1.3v1.3h-1.3zM219.9 1021.3h1.3v1.3h-1.3zM226.4 1069.4h1.3v1.3h-1.3zM187.4 1053.4h1.3v1.3h-1.3zM223.5 1008.5h1.3v1.3h-1.3zM247.1 1064.5h1.3v1.3h-1.3zM228.9 1131.9h1.3v1.3h-1.3zM173.4 1035.2h1.3v1.3h-1.3zM261.7 1002.4h1.3v1.3h-1.3zM202.2 1085.2h1.3v1.3h-1.3zM160.0 1049.7h1.3v1.3h-1.3zM238.9 1045.6h1.3v1.3h-1.3zM209.7 1080.7h1.3v1.3h-1.3zM181.1 1068.2h1.3v1.3h-1.3zM205.6 1074.1h1.3v1.3h-1.3zM209.8 1077.0h1.3v1.3h-1.3zM184.0 1104.2h1.3v1.3h-1.3zM184.3 1106.9h1.3v1.3h-1.3zM196.9 1035.1h1.3v1.3h-1.3zM208.2 1121.6h1.3v1.3h-1.3zM237.8 1007.7h1.3v1.3h-1.3zM211.5 1103.0h1.3v1.3h-1.3zM194.0 1022.1h1.3v1.3h-1.3zM154.2 1043.4h1.3v1.3h-1.3zM203.1 1010.9h1.3v1.3h-1.3zM248.9 1096.7h1.3v1.3h-1.3zM272.5 1074.6h1.3v1.3h-1.3zM203.7 1059.6h1.3v1.3h-1.3zM232.9 1074.9h1.3v1.3h-1.3zM160.3 1005.7h1.3v1.3h-1.3zM183.1 1047.8h1.3v1.3h-1.3zM216.1 1060.7h1.3v1.3h-1.3zM201.5 1113.1h1.3v1.3h-1.3zM228.5 1049.7h1.3v1.3h-1.3zM234.6 1038.2h1.3v1.3h-1.3zM267.8 1099.2h1.3v1.3h-1.3zM265.8 1077.3h1.3v1.3h-1.3zM198.5 1047.3h1.3v1.3h-1.3zM217.8 1088.9h1.3v1.3h-1.3zM290.4 1119.1h1.3v1.3h-1.3zM177.1 1032.7h1.3v1.3h-1.3zM171.9 993.2h1.3v1.3h-1.3zM154.1 1010.3h1.3v1.3h-1.3zM234.0 1028.1h1.3v1.3h-1.3zM208.1 1026.4h1.3v1.3h-1.3zM209.6 1016.4h1.3v1.3h-1.3zM195.1 1067.6h1.3v1.3h-1.3zM191.4 1035.6h1.3v1.3h-1.3zM204.1 1011.0h1.3v1.3h-1.3zM252.1 1009.6h1.3v1.3h-1.3zM204.2 1081.3h1.3v1.3h-1.3zM222.8 1064.3h1.3v1.3h-1.3zM187.0 1053.5h1.3v1.3h-1.3zM217.2 1004.3h1.3v1.3h-1.3zM220.0 1090.4h1.3v1.3h-1.3zM208.3 1077.3h1.3v1.3h-1.3zM195.2 1012.2h1.3v1.3h-1.3zM212.5 1120.8h1.3v1.3h-1.3zM157.5 1097.7h1.3v1.3h-1.3zM156.2 1071.3h1.3v1.3h-1.3zM183.9 1045.3h1.3v1.3h-1.3zM175.1 1038.9h1.3v1.3h-1.3zM152.2 1109.8h1.3v1.3h-1.3zM194.0 1045.8h1.3v1.3h-1.3zM176.4 1034.0h1.3v1.3h-1.3zM248.2 1044.6h1.3v1.3h-1.3zM197.2 1062.9h1.3v1.3h-1.3zM229.8 1097.9h1.3v1.3h-1.3zM236.6 1029.6h1.3v1.3h-1.3zM184.9 1105.3h1.3v1.3h-1.3zM279.3 1126.2h1.3v1.3h-1.3zM196.7 1024.4h1.3v1.3h-1.3zM189.0 1055.7h1.3v1.3h-1.3zM216.4 1053.6h1.3v1.3h-1.3zM221.5 1077.6h1.3v1.3h-1.3zM273.0 1055.6h1.3v1.3h-1.3zM206.0 1099.8h1.3v1.3h-1.3zM154.1 1102.9h1.3v1.3h-1.3zM213.6 1012.9h1.3v1.3h-1.3zM257.7 1132.0h1.3v1.3h-1.3zM243.3 1013.7h1.3v1.3h-1.3zM239.3 1053.3h1.3v1.3h-1.3zM216.4 1079.4h1.3v1.3h-1.3zM201.0 1122.7h1.3v1.3h-1.3zM205.3 1042.7h1.3v1.3h-1.3zM197.3 1031.5h1.3v1.3h-1.3zM292.9 1113.2h1.3v1.3h-1.3zM192.4 1032.8h1.3v1.3h-1.3zM225.9 1069.1h1.3v1.3h-1.3zM205.2 1045.3h1.3v1.3h-1.3zM153.7 1023.2h1.3v1.3h-1.3zM250.5 1037.8h1.3v1.3h-1.3zM264.2 1054.0h1.3v1.3h-1.3zM167.5 1088.6h1.3v1.3h-1.3zM188.3 1042.9h1.3v1.3h-1.3zM221.1 1125.2h1.3v1.3h-1.3zM237.4 1058.9h1.3v1.3h-1.3zM231.6 1084.8h1.3v1.3h-1.3zM188.2 1076.0h1.3v1.3h-1.3zM172.4 994.8h1.3v1.3h-1.3zM209.0 1042.4h1.3v1.3h-1.3zM224.3 1078.7h1.3v1.3h-1.3zM162.0 1117.0h1.3v1.3h-1.3zM245.7 1089.0h1.3v1.3h-1.3zM183.6 1069.4h1.3v1.3h-1.3zM157.4 1015.8h1.3v1.3h-1.3zM189.1 1040.7h1.3v1.3h-1.3zM205.0 1011.6h1.3v1.3h-1.3zM195.7 1014.8h1.3v1.3h-1.3zM186.9 1024.7h1.3v1.3h-1.3zM171.7 1119.6h1.3v1.3h-1.3zM228.7 1040.3h1.3v1.3h-1.3zM241.3 1033.0h1.3v1.3h-1.3zM270.2 1057.6h1.3v1.3h-1.3zM255.1 1075.1h1.3v1.3h-1.3zM232.8 1074.0h1.3v1.3h-1.3zM226.5 1011.9h1.3v1.3h-1.3zM294.8 1115.2h1.3v1.3h-1.3zM265.9 1053.0h1.3v1.3h-1.3zM169.9 1093.5h1.3v1.3h-1.3zM205.7 1044.5h1.3v1.3h-1.3zM263.5 1063.7h1.3v1.3h-1.3zM155.7 1069.0h1.3v1.3h-1.3zM176.8 1017.8h1.3v1.3h-1.3zM175.0 1055.8h1.3v1.3h-1.3zM154.0 1025.3h1.3v1.3h-1.3zM200.8 1015.1h1.3v1.3h-1.3zM196.4 1056.7h1.3v1.3h-1.3zM212.1 1079.0h1.3v1.3h-1.3zM200.5 1083.8h1.3v1.3h-1.3zM211.3 1029.9h1.3v1.3h-1.3zM188.5 1029.1h1.3v1.3h-1.3zM221.9 1008.6h1.3v1.3h-1.3zM238.5 1084.5h1.3v1.3h-1.3zM281.9 1102.6h1.3v1.3h-1.3zM174.5 1007.0h1.3v1.3h-1.3zM242.2 1044.9h1.3v1.3h-1.3zM173.1 1112.3h1.3v1.3h-1.3zM264.9 1106.0h1.3v1.3h-1.3zM266.0 1049.8h1.3v1.3h-1.3zM177.3 1001.7h1.3v1.3h-1.3zM218.9 1084.5h1.3v1.3h-1.3zM263.6 1016.7h1.3v1.3h-1.3zM286.0 1102.5h1.3v1.3h-1.3zM209.2 1090.3h1.3v1.3h-1.3zM220.0 1029.8h1.3v1.3h-1.3zM193.1 1020.4h1.3v1.3h-1.3zM167.1 993.7h1.3v1.3h-1.3zM244.7 1043.5h1.3v1.3h-1.3zM235.3 1054.0h1.3v1.3h-1.3zM158.3 1076.5h1.3v1.3h-1.3zM275.4 1102.5h1.3v1.3h-1.3zM214.6 1058.3h1.3v1.3h-1.3zM258.6 1063.8h1.3v1.3h-1.3zM203.3 1008.6h1.3v1.3h-1.3zM220.3 1028.1h1.3v1.3h-1.3zM265.2 1078.3h1.3v1.3h-1.3zM187.7 1055.6h1.3v1.3h-1.3zM206.6 1063.1h1.3v1.3h-1.3zM252.4 1098.5h1.3v1.3h-1.3zM239.3 1079.3h1.3v1.3h-1.3zM191.3 1030.0h1.3v1.3h-1.3zM205.7 1088.6h1.3v1.3h-1.3zM213.4 1060.5h1.3v1.3h-1.3zM194.3 1021.9h1.3v1.3h-1.3zM182.7 1033.1h1.3v1.3h-1.3zM244.0 1058.2h1.3v1.3h-1.3zM157.1 1005.9h1.3v1.3h-1.3zM269.9 1131.6h1.3v1.3h-1.3zM232.5 1002.4h1.3v1.3h-1.3zM184.4 1024.8h1.3v1.3h-1.3zM189.6 1014.3h1.3v1.3h-1.3zM184.8 1049.7h1.3v1.3h-1.3zM240.8 1061.4h1.3v1.3h-1.3zM209.0 1068.3h1.3v1.3h-1.3zM213.5 1048.6h1.3v1.3h-1.3zM278.6 1129.9h1.3v1.3h-1.3zM227.1 1057.0h1.3v1.3h-1.3zM157.8 1054.6h1.3v1.3h-1.3zM253.7 1132.4h1.3v1.3h-1.3zM169.0 1102.1h1.3v1.3h-1.3zM157.1 1114.6h1.3v1.3h-1.3zM240.3 1086.5h1.3v1.3h-1.3zM206.4 1028.2h1.3v1.3h-1.3zM254.3 1048.5h1.3v1.3h-1.3zM298.7 1114.8h1.3v1.3h-1.3zM214.5 1087.0h1.3v1.3h-1.3zM204.5 1005.2h1.3v1.3h-1.3zM234.7 1079.1h1.3v1.3h-1.3zM216.7 1089.0h1.3v1.3h-1.3zM173.8 1096.7h1.3v1.3h-1.3zM180.3 1040.8h1.3v1.3h-1.3zM206.3 1005.1h1.3v1.3h-1.3zM206.1 1079.6h1.3v1.3h-1.3zM217.2 1043.4h1.3v1.3h-1.3zM220.2 1095.3h1.3v1.3h-1.3zM204.8 1054.6h1.3v1.3h-1.3zM153.9 1014.5h1.3v1.3h-1.3zM250.8 1042.8h1.3v1.3h-1.3zM172.5 1084.1h1.3v1.3h-1.3zM191.2 1047.6h1.3v1.3h-1.3zM246.5 1075.1h1.3v1.3h-1.3zM197.1 1026.2h1.3v1.3h-1.3zM184.8 1122.2h1.3v1.3h-1.3zM178.4 1072.0h1.3v1.3h-1.3zM195.9 1060.2h1.3v1.3h-1.3zM155.8 1025.8h1.3v1.3h-1.3zM267.6 1043.8h1.3v1.3h-1.3zM185.8 1069.3h1.3v1.3h-1.3zM236.0 1042.9h1.3v1.3h-1.3zM221.3 1029.9h1.3v1.3h-1.3zM218.7 1052.1h1.3v1.3h-1.3zM249.9 1082.1h1.3v1.3h-1.3zM158.4 1101.7h1.3v1.3h-1.3zM157.5 1047.7h1.3v1.3h-1.3zM176.7 1077.0h1.3v1.3h-1.3zM258.0 1070.9h1.3v1.3h-1.3zM205.5 1081.0h1.3v1.3h-1.3zM191.8 1068.0h1.3v1.3h-1.3zM290.7 1121.8h1.3v1.3h-1.3zM283.0 1126.4h1.3v1.3h-1.3zM190.3 1115.5h1.3v1.3h-1.3zM178.2 1053.5h1.3v1.3h-1.3zM226.8 1071.1h1.3v1.3h-1.3zM214.8 1102.7h1.3v1.3h-1.3zM265.9 1078.7h1.3v1.3h-1.3zM222.1 1044.4h1.3v1.3h-1.3zM243.7 1082.6h1.3v1.3h-1.3zM174.4 1031.7h1.3v1.3h-1.3zM161.2 1098.0h1.3v1.3h-1.3zM209.5 1012.4h1.3v1.3h-1.3zM222.2 1100.4h1.3v1.3h-1.3zM193.0 1055.5h1.3v1.3h-1.3zM202.2 1059.5h1.3v1.3h-1.3zM166.3 1049.0h1.3v1.3h-1.3zM211.7 1073.9h1.3v1.3h-1.3zM187.1 1085.2h1.3v1.3h-1.3zM193.0 1060.7h1.3v1.3h-1.3zM220.5 1063.7h1.3v1.3h-1.3zM247.1 1073.1h1.3v1.3h-1.3zM168.7 1094.1h1.3v1.3h-1.3zM177.2 1049.7h1.3v1.3h-1.3zM209.3 1071.1h1.3v1.3h-1.3zM178.9 1024.8h1.3v1.3h-1.3zM205.0 1025.6h1.3v1.3h-1.3zM261.6 1032.6h1.3v1.3h-1.3zM232.0 1026.3h1.3v1.3h-1.3zM199.1 1025.7h1.3v1.3h-1.3zM190.2 1042.0h1.3v1.3h-1.3zM231.3 1054.4h1.3v1.3h-1.3zM223.7 1058.3h1.3v1.3h-1.3zM239.8 1035.4h1.3v1.3h-1.3zM157.1 1123.1h1.3v1.3h-1.3zM198.7 1079.7h1.3v1.3h-1.3zM221.7 1071.5h1.3v1.3h-1.3zM172.7 1109.0h1.3v1.3h-1.3zM181.3 1047.9h1.3v1.3h-1.3zM244.1 1087.9h1.3v1.3h-1.3zM152.6 1014.8h1.3v1.3h-1.3zM227.0 1083.4h1.3v1.3h-1.3zM218.8 1012.8h1.3v1.3h-1.3zM294.0 1109.3h1.3v1.3h-1.3zM212.7 1036.5h1.3v1.3h-1.3zM159.2 1016.8h1.3v1.3h-1.3zM206.1 1071.6h1.3v1.3h-1.3zM207.9 1088.2h1.3v1.3h-1.3zM203.2 1097.1h1.3v1.3h-1.3zM178.5 1078.8h1.3v1.3h-1.3zM218.6 1075.5h1.3v1.3h-1.3zM212.5 1079.5h1.3v1.3h-1.3zM156.4 1029.1h1.3v1.3h-1.3zM171.0 1107.8h1.3v1.3h-1.3zM221.1 1029.9h1.3v1.3h-1.3zM156.8 1010.0h1.3v1.3h-1.3zM220.8 1080.9h1.3v1.3h-1.3zM211.9 1008.7h1.3v1.3h-1.3zM158.2 1115.4h1.3v1.3h-1.3zM228.1 1070.7h1.3v1.3h-1.3zM193.8 1038.8h1.3v1.3h-1.3zM210.1 1035.3h1.3v1.3h-1.3zM177.0 1021.7h1.3v1.3h-1.3zM204.4 1101.8h1.3v1.3h-1.3zM212.0 1032.0h1.3v1.3h-1.3zM153.4 1016.3h1.3v1.3h-1.3zM187.4 1087.5h1.3v1.3h-1.3zM179.0 1024.6h1.3v1.3h-1.3zM214.0 1057.0h1.3v1.3h-1.3zM186.2 1085.7h1.3v1.3h-1.3zM196.5 1065.9h1.3v1.3h-1.3zM194.6 1052.3h1.3v1.3h-1.3zM173.7 1084.9h1.3v1.3h-1.3zM164.4 1093.0h1.3v1.3h-1.3zM238.1 1069.2h1.3v1.3h-1.3zM213.4 1086.5h1.3v1.3h-1.3zM191.8 1019.8h1.3v1.3h-1.3zM183.8 1105.8h1.3v1.3h-1.3zM227.5 1079.5h1.3v1.3h-1.3zM197.0 1115.5h1.3v1.3h-1.3zM242.4 1088.2h1.3v1.3h-1.3zM265.8 1131.2h1.3v1.3h-1.3zM209.7 1015.3h1.3v1.3h-1.3zM149.8 1108.2h1.3v1.3h-1.3zM256.5 1063.8h1.3v1.3h-1.3zM243.9 1035.9h1.3v1.3h-1.3zM228.5 1100.0h1.3v1.3h-1.3zM243.0 1021.1h1.3v1.3h-1.3zM209.9 1082.3h1.3v1.3h-1.3zM156.6 1006.8h1.3v1.3h-1.3zM274.4 1127.9h1.3v1.3h-1.3zM225.6 1089.2h1.3v1.3h-1.3zM216.7 1071.9h1.3v1.3h-1.3zM237.6 1004.0h1.3v1.3h-1.3zM182.1 1044.9h1.3v1.3h-1.3zM223.1 1080.1h1.3v1.3h-1.3zM212.6 1016.7h1.3v1.3h-1.3zM163.0 1007.0h1.3v1.3h-1.3zM264.0 1051.4h1.3v1.3h-1.3zM157.9 1019.6h1.3v1.3h-1.3zM253.5 1132.6h1.3v1.3h-1.3zM199.3 1062.3h1.3v1.3h-1.3zM188.3 1116.6h1.3v1.3h-1.3zM207.3 1037.7h1.3v1.3h-1.3zM212.9 1041.7h1.3v1.3h-1.3zM159.8 1054.1h1.3v1.3h-1.3zM215.1 1047.9h1.3v1.3h-1.3zM167.1 1090.0h1.3v1.3h-1.3zM224.4 1062.4h1.3v1.3h-1.3zM201.1 1038.2h1.3v1.3h-1.3zM167.6 1086.3h1.3v1.3h-1.3zM176.1 1061.2h1.3v1.3h-1.3zM209.2 1101.9h1.3v1.3h-1.3zM243.6 1061.2h1.3v1.3h-1.3zM200.8 1047.1h1.3v1.3h-1.3zM203.2 1071.5h1.3v1.3h-1.3zM202.7 1026.6h1.3v1.3h-1.3zM176.1 1056.0h1.3v1.3h-1.3zM194.3 1101.4h1.3v1.3h-1.3zM216.9 1057.2h1.3v1.3h-1.3zM204.6 1073.9h1.3v1.3h-1.3zM179.8 1024.4h1.3v1.3h-1.3zM201.1 1114.5h1.3v1.3h-1.3zM210.9 1006.6h1.3v1.3h-1.3zM211.7 1023.5h1.3v1.3h-1.3zM262.4 1076.9h1.3v1.3h-1.3zM282.5 1122.4h1.3v1.3h-1.3zM167.1 994.6h1.3v1.3h-1.3zM260.9 1075.0h1.3v1.3h-1.3zM244.7 1089.8h1.3v1.3h-1.3zM154.2 1112.3h1.3v1.3h-1.3zM254.7 1062.5h1.3v1.3h-1.3zM222.0 1048.6h1.3v1.3h-1.3zM199.2 1051.8h1.3v1.3h-1.3zM213.1 1076.0h1.3v1.3h-1.3zM156.1 1021.4h1.3v1.3h-1.3zM197.6 1085.8h1.3v1.3h-1.3zM157.1 1079.0h1.3v1.3h-1.3zM154.3 1045.1h1.3v1.3h-1.3zM239.7 1060.8h1.3v1.3h-1.3zM188.2 1082.8h1.3v1.3h-1.3zM212.1 1098.4h1.3v1.3h-1.3zM190.6 1098.3h1.3v1.3h-1.3zM191.1 1068.3h1.3v1.3h-1.3zM153.5 1017.9h1.3v1.3h-1.3zM177.4 1039.9h1.3v1.3h-1.3zM217.3 1053.7h1.3v1.3h-1.3zM174.9 1033.9h1.3v1.3h-1.3zM247.3 1083.4h1.3v1.3h-1.3zM229.9 1070.9h1.3v1.3h-1.3zM200.7 1076.3h1.3v1.3h-1.3zM167.3 1118.8h1.3v1.3h-1.3zM167.6 1097.5h1.3v1.3h-1.3zM218.5 1088.7h1.3v1.3h-1.3zM241.5 1032.8h1.3v1.3h-1.3zM161.9 1094.5h1.3v1.3h-1.3zM230.9 1083.9h1.3v1.3h-1.3zM249.6 1086.7h1.3v1.3h-1.3zM170.3 1113.2h1.3v1.3h-1.3zM202.5 1011.1h1.3v1.3h-1.3zM177.5 1060.0h1.3v1.3h-1.3zM233.1 1097.0h1.3v1.3h-1.3zM238.1 1035.2h1.3v1.3h-1.3zM285.0 1116.7h1.3v1.3h-1.3zM193.6 1104.9h1.3v1.3h-1.3zM154.8 1010.3h1.3v1.3h-1.3zM246.5 1129.9h1.3v1.3h-1.3zM170.5 1116.2h1.3v1.3h-1.3zM256.9 1070.0h1.3v1.3h-1.3zM198.1 1025.6h1.3v1.3h-1.3zM194.3 1124.4h1.3v1.3h-1.3zM158.7 1078.9h1.3v1.3h-1.3zM176.4 1050.5h1.3v1.3h-1.3zM276.7 1125.3h1.3v1.3h-1.3zM186.5 1071.1h1.3v1.3h-1.3zM156.4 1040.3h1.3v1.3h-1.3zM207.3 1036.2h1.3v1.3h-1.3zM197.3 1122.9h1.3v1.3h-1.3zM172.6 1074.2h1.3v1.3h-1.3zM220.7 1035.9h1.3v1.3h-1.3zM199.7 1092.0h1.3v1.3h-1.3zM185.4 1069.7h1.3v1.3h-1.3zM158.1 1071.0h1.3v1.3h-1.3zM240.7 1083.6h1.3v1.3h-1.3zM232.3 1032.1h1.3v1.3h-1.3zM267.4 1078.5h1.3v1.3h-1.3zM251.8 1072.3h1.3v1.3h-1.3zM179.9 1075.2h1.3v1.3h-1.3zM169.4 1019.9h1.3v1.3h-1.3zM214.8 1099.1h1.3v1.3h-1.3zM160.5 1095.6h1.3v1.3h-1.3zM187.7 1077.2h1.3v1.3h-1.3zM230.6 1093.0h1.3v1.3h-1.3zM160.2 1110.3h1.3v1.3h-1.3zM156.0 1031.2h1.3v1.3h-1.3zM249.1 1089.2h1.3v1.3h-1.3zM191.1 1022.4h1.3v1.3h-1.3zM243.2 1020.5h1.3v1.3h-1.3zM162.0 1095.7h1.3v1.3h-1.3zM233.4 1054.1h1.3v1.3h-1.3zM196.8 1054.3h1.3v1.3h-1.3zM167.4 1086.8h1.3v1.3h-1.3zM225.9 1060.7h1.3v1.3h-1.3zM179.5 1057.6h1.3v1.3h-1.3zM221.2 1033.8h1.3v1.3h-1.3zM264.5 1053.1h1.3v1.3h-1.3zM203.9 1074.3h1.3v1.3h-1.3zM156.1 1107.8h1.3v1.3h-1.3zM241.8 1060.1h1.3v1.3h-1.3zM245.2 1043.3h1.3v1.3h-1.3zM296.0 1115.8h1.3v1.3h-1.3zM240.9 1131.4h1.3v1.3h-1.3zM241.0 1060.8h1.3v1.3h-1.3zM160.9 1009.2h1.3v1.3h-1.3zM212.3 1056.5h1.3v1.3h-1.3zM204.0 1082.3h1.3v1.3h-1.3zM244.8 1045.2h1.3v1.3h-1.3zM174.7 1006.4h1.3v1.3h-1.3zM197.3 1027.9h1.3v1.3h-1.3zM207.9 1008.8h1.3v1.3h-1.3zM217.7 1045.6h1.3v1.3h-1.3zM171.0 1108.2h1.3v1.3h-1.3zM234.6 1092.1h1.3v1.3h-1.3zM237.4 1130.3h1.3v1.3h-1.3zM274.2 1104.5h1.3v1.3h-1.3zM202.6 1089.4h1.3v1.3h-1.3zM173.0 1109.6h1.3v1.3h-1.3zM197.6 1063.1h1.3v1.3h-1.3zM230.0 1085.8h1.3v1.3h-1.3zM210.5 1012.3h1.3v1.3h-1.3zM183.0 1047.6h1.3v1.3h-1.3zM240.2 1065.5h1.3v1.3h-1.3zM199.2 1049.6h1.3v1.3h-1.3zM195.4 1059.8h1.3v1.3h-1.3zM168.3 1091.4h1.3v1.3h-1.3zM226.1 1126.9h1.3v1.3h-1.3zM222.8 1029.5h1.3v1.3h-1.3zM214.5 1077.8h1.3v1.3h-1.3zM231.0 1065.1h1.3v1.3h-1.3zM157.1 1020.3h1.3v1.3h-1.3zM206.9 1041.5h1.3v1.3h-1.3zM185.2 1040.0h1.3v1.3h-1.3zM214.8 1124.1h1.3v1.3h-1.3zM185.5 1036.3h1.3v1.3h-1.3zM253.1 1048.3h1.3v1.3h-1.3zM199.1 1077.6h1.3v1.3h-1.3zM201.1 1068.8h1.3v1.3h-1.3zM209.8 1069.2h1.3v1.3h-1.3zM238.8 1035.4h1.3v1.3h-1.3zM201.6 1048.3h1.3v1.3h-1.3zM271.6 1099.7h1.3v1.3h-1.3zM191.8 1101.8h1.3v1.3h-1.3zM168.7 1000.0h1.3v1.3h-1.3zM211.2 1123.9h1.3v1.3h-1.3zM182.7 1072.0h1.3v1.3h-1.3zM197.5 1051.8h1.3v1.3h-1.3zM177.1 1078.7h1.3v1.3h-1.3zM214.6 1124.8h1.3v1.3h-1.3zM154.5 1026.7h1.3v1.3h-1.3zM191.1 1069.4h1.3v1.3h-1.3zM238.6 1082.4h1.3v1.3h-1.3zM237.7 1090.3h1.3v1.3h-1.3zM283.2 1112.9h1.3v1.3h-1.3zM224.3 1069.3h1.3v1.3h-1.3zM179.8 1069.6h1.3v1.3h-1.3zM225.8 1078.2h1.3v1.3h-1.3zM169.2 1118.1h1.3v1.3h-1.3zM189.8 1080.9h1.3v1.3h-1.3zM244.0 1020.1h1.3v1.3h-1.3zM224.2 1033.9h1.3v1.3h-1.3zM172.8 1007.5h1.3v1.3h-1.3zM215.1 1046.0h1.3v1.3h-1.3zM250.2 1075.2h1.3v1.3h-1.3zM164.0 1096.0h1.3v1.3h-1.3zM245.6 1086.8h1.3v1.3h-1.3zM215.5 1125.9h1.3v1.3h-1.3zM208.6 1037.8h1.3v1.3h-1.3zM177.1 1076.8h1.3v1.3h-1.3zM205.6 1008.4h1.3v1.3h-1.3zM218.2 1075.7h1.3v1.3h-1.3zM261.1 1061.3h1.3v1.3h-1.3zM237.9 1003.5h1.3v1.3h-1.3zM213.0 1102.2h1.3v1.3h-1.3zM236.6 1086.3h1.3v1.3h-1.3zM207.4 1101.1h1.3v1.3h-1.3zM249.7 1076.4h1.3v1.3h-1.3zM247.8 1128.5h1.3v1.3h-1.3zM199.7 1023.8h1.3v1.3h-1.3zM255.6 1062.8h1.3v1.3h-1.3zM233.4 1033.0h1.3v1.3h-1.3zM178.1 1042.3h1.3v1.3h-1.3zM177.4 1019.0h1.3v1.3h-1.3zM271.5 1101.4h1.3v1.3h-1.3zM170.5 1094.1h1.3v1.3h-1.3zM157.1 1033.3h1.3v1.3h-1.3zM186.8 1109.0h1.3v1.3h-1.3zM235.0 1055.5h1.3v1.3h-1.3zM234.9 1086.4h1.3v1.3h-1.3zM228.8 1062.2h1.3v1.3h-1.3zM217.5 1075.5h1.3v1.3h-1.3zM188.6 1032.8h1.3v1.3h-1.3zM176.9 1061.4h1.3v1.3h-1.3zM162.0 1077.9h1.3v1.3h-1.3zM247.7 1042.3h1.3v1.3h-1.3zM212.0 1087.5h1.3v1.3h-1.3zM157.5 1078.7h1.3v1.3h-1.3zM220.7 1026.7h1.3v1.3h-1.3zM165.4 1094.6h1.3v1.3h-1.3zM158.2 1036.3h1.3v1.3h-1.3zM177.7 1012.4h1.3v1.3h-1.3zM203.1 1025.2h1.3v1.3h-1.3zM205.9 1024.3h1.3v1.3h-1.3zM176.4 1036.5h1.3v1.3h-1.3zM227.8 1056.7h1.3v1.3h-1.3zM233.4 1080.9h1.3v1.3h-1.3zM210.9 1028.2h1.3v1.3h-1.3zM253.5 1072.5h1.3v1.3h-1.3zM217.2 1113.8h1.3v1.3h-1.3zM200.3 1024.7h1.3v1.3h-1.3zM205.4 1052.3h1.3v1.3h-1.3zM206.2 1055.1h1.3v1.3h-1.3zM230.9 1060.9h1.3v1.3h-1.3zM277.3 1103.2h1.3v1.3h-1.3zM242.7 1021.7h1.3v1.3h-1.3zM223.1 1033.6h1.3v1.3h-1.3zM195.4 1113.6h1.3v1.3h-1.3zM175.2 1002.4h1.3v1.3h-1.3zM193.0 1021.5h1.3v1.3h-1.3zM250.5 1075.0h1.3v1.3h-1.3zM208.1 1034.3h1.3v1.3h-1.3zM158.7 1099.6h1.3v1.3h-1.3zM233.8 1043.5h1.3v1.3h-1.3zM176.1 1016.0h1.3v1.3h-1.3zM220.9 1063.9h1.3v1.3h-1.3zM234.7 1098.5h1.3v1.3h-1.3zM195.3 1123.3h1.3v1.3h-1.3zM220.4 1047.8h1.3v1.3h-1.3zM176.2 1043.6h1.3v1.3h-1.3zM218.4 1083.0h1.3v1.3h-1.3zM197.3 1083.2h1.3v1.3h-1.3zM156.3 1105.8h1.3v1.3h-1.3zM215.6 1117.2h1.3v1.3h-1.3zM221.0 1013.8h1.3v1.3h-1.3zM179.3 1057.6h1.3v1.3h-1.3zM214.5 1080.8h1.3v1.3h-1.3zM200.4 1042.4h1.3v1.3h-1.3zM184.2 1105.5h1.3v1.3h-1.3zM236.5 1065.1h1.3v1.3h-1.3zM158.8 1073.2h1.3v1.3h-1.3zM198.3 1084.1h1.3v1.3h-1.3zM221.8 1105.0h1.3v1.3h-1.3zM219.3 1089.4h1.3v1.3h-1.3zM287.6 1118.1h1.3v1.3h-1.3zM162.1 1084.8h1.3v1.3h-1.3zM175.7 1057.7h1.3v1.3h-1.3zM191.1 1082.3h1.3v1.3h-1.3zM187.1 1111.8h1.3v1.3h-1.3zM236.2 1066.9h1.3v1.3h-1.3zM265.9 1050.2h1.3v1.3h-1.3zM154.4 1010.2h1.3v1.3h-1.3zM219.9 1008.3h1.3v1.3h-1.3zM156.5 1027.5h1.3v1.3h-1.3zM237.4 1055.8h1.3v1.3h-1.3zM173.9 1112.6h1.3v1.3h-1.3zM217.8 1037.7h1.3v1.3h-1.3zM199.8 1063.5h1.3v1.3h-1.3zM285.3 1108.0h1.3v1.3h-1.3zM199.4 1083.3h1.3v1.3h-1.3zM224.7 1099.1h1.3v1.3h-1.3zM176.6 1044.2h1.3v1.3h-1.3zM155.6 1067.9h1.3v1.3h-1.3zM156.8 1053.3h1.3v1.3h-1.3zM239.5 1056.2h1.3v1.3h-1.3zM200.5 1064.5h1.3v1.3h-1.3zM266.7 1098.9h1.3v1.3h-1.3zM232.8 1085.7h1.3v1.3h-1.3zM277.1 1122.8h1.3v1.3h-1.3zM155.9 1008.4h1.3v1.3h-1.3zM232.0 1053.4h1.3v1.3h-1.3zM149.0 1109.2h1.3v1.3h-1.3zM228.4 1068.9h1.3v1.3h-1.3zM156.7 1116.7h1.3v1.3h-1.3zM186.9 1076.1h1.3v1.3h-1.3zM154.1 1105.3h1.3v1.3h-1.3zM213.3 1086.3h1.3v1.3h-1.3zM178.0 1067.4h1.3v1.3h-1.3zM156.0 1021.8h1.3v1.3h-1.3zM198.9 1089.7h1.3v1.3h-1.3zM230.7 1128.9h1.3v1.3h-1.3zM168.3 1115.3h1.3v1.3h-1.3zM234.1 1062.2h1.3v1.3h-1.3zM177.4 1075.8h1.3v1.3h-1.3zM199.8 1088.9h1.3v1.3h-1.3zM162.7 1048.2h1.3v1.3h-1.3zM200.4 1088.5h1.3v1.3h-1.3zM263.7 1050.5h1.3v1.3h-1.3zM192.8 1075.8h1.3v1.3h-1.3zM193.0 1032.8h1.3v1.3h-1.3zM278.3 1128.3h1.3v1.3h-1.3zM235.6 1031.8h1.3v1.3h-1.3zM154.9 1079.4h1.3v1.3h-1.3zM222.5 1065.7h1.3v1.3h-1.3zM193.8 1037.2h1.3v1.3h-1.3zM156.6 1021.4h1.3v1.3h-1.3zM278.2 1102.0h1.3v1.3h-1.3zM197.3 1072.7h1.3v1.3h-1.3zM148.6 1105.4h1.3v1.3h-1.3zM212.7 1025.6h1.3v1.3h-1.3zM218.4 1045.0h1.3v1.3h-1.3zM160.2 1033.5h1.3v1.3h-1.3zM210.4 1028.8h1.3v1.3h-1.3zM215.3 1072.8h1.3v1.3h-1.3zM220.3 1073.1h1.3v1.3h-1.3zM165.9 1116.1h1.3v1.3h-1.3zM156.9 1068.5h1.3v1.3h-1.3zM241.3 1099.8h1.3v1.3h-1.3zM188.3 1076.0h1.3v1.3h-1.3zM209.2 1027.7h1.3v1.3h-1.3zM165.3 1095.2h1.3v1.3h-1.3zM201.0 1068.4h1.3v1.3h-1.3zM152.1 1103.5h1.3v1.3h-1.3zM187.9 1039.7h1.3v1.3h-1.3zM227.3 1100.7h1.3v1.3h-1.3zM173.6 1029.7h1.3v1.3h-1.3zM242.9 1084.9h1.3v1.3h-1.3zM266.6 1053.8h1.3v1.3h-1.3zM178.0 1064.2h1.3v1.3h-1.3zM203.0 1052.0h1.3v1.3h-1.3zM186.4 1076.1h1.3v1.3h-1.3zM234.0 1054.9h1.3v1.3h-1.3zM184.6 1118.6h1.3v1.3h-1.3zM285.7 1123.3h1.3v1.3h-1.3zM185.3 1112.1h1.3v1.3h-1.3zM209.8 1122.1h1.3v1.3h-1.3zM269.1 1130.5h1.3v1.3h-1.3zM152.2 1105.8h1.3v1.3h-1.3zM160.7 1074.7h1.3v1.3h-1.3zM271.5 1126.2h1.3v1.3h-1.3zM154.6 1103.0h1.3v1.3h-1.3zM189.9 1026.9h1.3v1.3h-1.3zM157.3 1071.4h1.3v1.3h-1.3zM223.9 1057.4h1.3v1.3h-1.3zM155.3 1079.0h1.3v1.3h-1.3zM195.5 1077.5h1.3v1.3h-1.3zM161.2 1006.1h1.3v1.3h-1.3zM171.0 1116.1h1.3v1.3h-1.3zM177.2 1038.5h1.3v1.3h-1.3zM201.5 1072.3h1.3v1.3h-1.3zM190.9 1055.3h1.3v1.3h-1.3zM175.6 1060.7h1.3v1.3h-1.3zM177.5 1035.6h1.3v1.3h-1.3zM197.3 1042.7h1.3v1.3h-1.3zM155.2 1049.1h1.3v1.3h-1.3zM242.3 1084.5h1.3v1.3h-1.3zM156.2 1022.5h1.3v1.3h-1.3zM211.4 1085.0h1.3v1.3h-1.3zM193.2 1075.7h1.3v1.3h-1.3zM267.4 1076.4h1.3v1.3h-1.3zM228.3 1097.2h1.3v1.3h-1.3zM156.7 997.9h1.3v1.3h-1.3zM194.6 1065.6h1.3v1.3h-1.3zM152.9 1111.0h1.3v1.3h-1.3zM200.7 1057.4h1.3v1.3h-1.3zM169.8 1102.7h1.3v1.3h-1.3zM243.1 1101.6h1.3v1.3h-1.3zM267.9 1131.4h1.3v1.3h-1.3zM172.6 997.6h1.3v1.3h-1.3zM168.2 1098.0h1.3v1.3h-1.3zM219.1 1049.4h1.3v1.3h-1.3zM212.3 1089.9h1.3v1.3h-1.3zM251.7 1073.0h1.3v1.3h-1.3zM175.5 1012.2h1.3v1.3h-1.3zM233.2 1038.0h1.3v1.3h-1.3zM197.8 1078.2h1.3v1.3h-1.3zM234.2 1056.5h1.3v1.3h-1.3zM173.6 995.6h1.3v1.3h-1.3zM202.5 1099.3h1.3v1.3h-1.3zM158.0 1009.0h1.3v1.3h-1.3zM200.1 1075.5h1.3v1.3h-1.3zM219.6 1034.5h1.3v1.3h-1.3zM183.3 1070.5h1.3v1.3h-1.3zM161.4 1115.1h1.3v1.3h-1.3zM217.6 1036.7h1.3v1.3h-1.3zM156.8 1044.2h1.3v1.3h-1.3zM231.6 1076.8h1.3v1.3h-1.3zM215.6 1038.5h1.3v1.3h-1.3zM159.3 1002.9h1.3v1.3h-1.3zM160.8 1039.4h1.3v1.3h-1.3zM239.3 1131.0h1.3v1.3h-1.3zM265.3 1076.7h1.3v1.3h-1.3zM218.0 1052.0h1.3v1.3h-1.3zM259.4 1128.0h1.3v1.3h-1.3zM272.3 1100.1h1.3v1.3h-1.3zM196.7 1042.7h1.3v1.3h-1.3zM170.5 995.9h1.3v1.3h-1.3zM282.6 1111.9h1.3v1.3h-1.3zM233.7 1041.4h1.3v1.3h-1.3zM185.8 1113.6h1.3v1.3h-1.3zM194.7 1075.2h1.3v1.3h-1.3zM247.3 1099.3h1.3v1.3h-1.3zM221.8 1013.4h1.3v1.3h-1.3zM214.9 1057.4h1.3v1.3h-1.3zM250.0 1087.0h1.3v1.3h-1.3zM219.7 1099.8h1.3v1.3h-1.3zM190.9 1083.1h1.3v1.3h-1.3zM156.8 1060.5h1.3v1.3h-1.3zM281.2 1126.8h1.3v1.3h-1.3zM221.8 1031.4h1.3v1.3h-1.3zM176.6 1057.0h1.3v1.3h-1.3zM228.8 1055.5h1.3v1.3h-1.3zM209.2 1122.1h1.3v1.3h-1.3zM215.5 1035.5h1.3v1.3h-1.3zM233.9 1035.0h1.3v1.3h-1.3zM222.7 1030.8h1.3v1.3h-1.3zM199.9 1046.8h1.3v1.3h-1.3zM166.1 1116.7h1.3v1.3h-1.3zM173.2 1042.9h1.3v1.3h-1.3zM206.2 1089.3h1.3v1.3h-1.3zM291.2 1109.4h1.3v1.3h-1.3zM219.1 1050.9h1.3v1.3h-1.3zM234.3 1097.7h1.3v1.3h-1.3zM175.5 1002.1h1.3v1.3h-1.3zM197.8 1042.2h1.3v1.3h-1.3zM228.7 1129.4h1.3v1.3h-1.3zM208.0 1100.4h1.3v1.3h-1.3zM236.3 1090.6h1.3v1.3h-1.3zM176.0 1003.7h1.3v1.3h-1.3zM190.9 1022.3h1.3v1.3h-1.3zM170.4 1097.8h1.3v1.3h-1.3zM160.4 1061.9h1.3v1.3h-1.3zM212.7 1023.2h1.3v1.3h-1.3zM275.9 1120.6h1.3v1.3h-1.3zM288.6 1110.5h1.3v1.3h-1.3zM159.5 1034.0h1.3v1.3h-1.3zM223.0 1071.3h1.3v1.3h-1.3zM229.5 1069.3h1.3v1.3h-1.3zM161.4 1004.7h1.3v1.3h-1.3zM185.9 1075.5h1.3v1.3h-1.3zM233.1 1034.3h1.3v1.3h-1.3zM280.0 1120.1h1.3v1.3h-1.3zM202.2 1100.7h1.3v1.3h-1.3zM250.8 1073.6h1.3v1.3h-1.3zM159.6 1099.6h1.3v1.3h-1.3zM207.9 1122.9h1.3v1.3h-1.3zM214.2 1037.4h1.3v1.3h-1.3zM190.6 1052.8h1.3v1.3h-1.3zM177.1 1043.5h1.3v1.3h-1.3zM174.7 1028.5h1.3v1.3h-1.3zM202.2 1078.3h1.3v1.3h-1.3zM200.3 1084.8h1.3v1.3h-1.3zM218.6 1011.4h1.3v1.3h-1.3zM226.5 1054.1h1.3v1.3h-1.3zM266.1 1103.1h1.3v1.3h-1.3zM213.6 1025.5h1.3v1.3h-1.3zM187.3 1114.3h1.3v1.3h-1.3zM199.3 1102.8h1.3v1.3h-1.3zM201.1 1056.9h1.3v1.3h-1.3zM262.6 1077.3h1.3v1.3h-1.3zM210.3 1067.4h1.3v1.3h-1.3zM176.9 1077.8h1.3v1.3h-1.3zM234.0 1066.6h1.3v1.3h-1.3zM232.0 1085.0h1.3v1.3h-1.3zM253.6 1073.0h1.3v1.3h-1.3zM153.0 1105.4h1.3v1.3h-1.3zM209.3 1107.9h1.3v1.3h-1.3zM183.6 1068.6h1.3v1.3h-1.3zM175.0 1063.7h1.3v1.3h-1.3zM174.0 1056.8h1.3v1.3h-1.3zM160.3 1008.1h1.3v1.3h-1.3zM212.3 1087.4h1.3v1.3h-1.3zM237.9 1067.4h1.3v1.3h-1.3zM176.2 1076.5h1.3v1.3h-1.3zM219.7 1048.4h1.3v1.3h-1.3zM268.6 1101.7h1.3v1.3h-1.3zM217.2 1098.1h1.3v1.3h-1.3zM221.1 1057.3h1.3v1.3h-1.3zM173.6 1055.1h1.3v1.3h-1.3zM224.6 1051.9h1.3v1.3h-1.3zM217.0 1048.7h1.3v1.3h-1.3zM216.8 1070.5h1.3v1.3h-1.3zM183.2 1046.7h1.3v1.3h-1.3zM157.8 1019.7h1.3v1.3h-1.3zM174.7 1021.6h1.3v1.3h-1.3zM188.6 1024.3h1.3v1.3h-1.3zM228.8 1130.6h1.3v1.3h-1.3zM204.8 1082.3h1.3v1.3h-1.3zM272.4 1102.4h1.3v1.3h-1.3zM228.7 1097.6h1.3v1.3h-1.3zM226.3 1069.1h1.3v1.3h-1.3zM230.7 1077.5h1.3v1.3h-1.3zM173.2 1042.7h1.3v1.3h-1.3zM163.4 1112.4h1.3v1.3h-1.3zM225.5 1081.7h1.3v1.3h-1.3zM227.4 1068.3h1.3v1.3h-1.3zM197.3 1057.2h1.3v1.3h-1.3zM208.4 1068.7h1.3v1.3h-1.3zM196.1 1049.4h1.3v1.3h-1.3zM193.3 1051.7h1.3v1.3h-1.3zM192.3 1100.5h1.3v1.3h-1.3zM209.7 1066.0h1.3v1.3h-1.3zM231.8 1068.6h1.3v1.3h-1.3zM233.7 1081.7h1.3v1.3h-1.3zM217.9 1102.7h1.3v1.3h-1.3zM218.5 1084.1h1.3v1.3h-1.3zM282.0 1128.8h1.3v1.3h-1.3zM159.5 1046.1h1.3v1.3h-1.3zM206.1 1114.1h1.3v1.3h-1.3zM196.5 1064.0h1.3v1.3h-1.3zM190.8 1038.8h1.3v1.3h-1.3zM246.9 1085.9h1.3v1.3h-1.3zM222.3 1074.2h1.3v1.3h-1.3zM228.8 1058.4h1.3v1.3h-1.3zM161.6 1004.1h1.3v1.3h-1.3zM156.4 1033.4h1.3v1.3h-1.3zM195.6 1027.4h1.3v1.3h-1.3zM288.2 1116.3h1.3v1.3h-1.3zM231.7 1067.3h1.3v1.3h-1.3zM217.7 1045.0h1.3v1.3h-1.3zM169.7 1099.7h1.3v1.3h-1.3zM214.8 1075.6h1.3v1.3h-1.3zM209.0 1089.6h1.3v1.3h-1.3zM194.4 1045.1h1.3v1.3h-1.3zM158.3 1062.4h1.3v1.3h-1.3zM174.1 1001.7h1.3v1.3h-1.3zM222.2 1032.2h1.3v1.3h-1.3zM212.4 1039.4h1.3v1.3h-1.3zM160.7 1075.1h1.3v1.3h-1.3zM188.2 1052.8h1.3v1.3h-1.3zM235.7 1093.7h1.3v1.3h-1.3zM276.6 1123.3h1.3v1.3h-1.3zM245.4 1042.1h1.3v1.3h-1.3zM197.8 1123.6h1.3v1.3h-1.3zM156.6 1111.7h1.3v1.3h-1.3zM167.8 1099.7h1.3v1.3h-1.3zM173.6 1043.8h1.3v1.3h-1.3zM168.4 997.3h1.3v1.3h-1.3zM172.3 1106.3h1.3v1.3h-1.3zM287.1 1104.1h1.3v1.3h-1.3zM215.4 1050.6h1.3v1.3h-1.3zM197.1 1060.0h1.3v1.3h-1.3zM157.8 1106.8h1.3v1.3h-1.3zM173.3 997.7h1.3v1.3h-1.3zM159.0 1005.4h1.3v1.3h-1.3zM172.6 1077.7h1.3v1.3h-1.3zM213.5 1102.7h1.3v1.3h-1.3zM176.5 1053.8h1.3v1.3h-1.3zM164.4 1059.1h1.3v1.3h-1.3zM230.0 1063.0h1.3v1.3h-1.3zM156.6 1107.3h1.3v1.3h-1.3zM191.8 1118.0h1.3v1.3h-1.3zM192.7 1034.9h1.3v1.3h-1.3zM157.4 1057.4h1.3v1.3h-1.3zM155.7 1104.3h1.3v1.3h-1.3zM196.7 1080.0h1.3v1.3h-1.3zM160.3 1107.5h1.3v1.3h-1.3zM160.7 994.5h1.3v1.3h-1.3zM156.5 997.2h1.3v1.3h-1.3zM232.4 1077.4h1.3v1.3h-1.3zM273.1 1126.9h1.3v1.3h-1.3zM235.7 1078.9h1.3v1.3h-1.3zM215.8 1074.1h1.3v1.3h-1.3zM203.0 1027.4h1.3v1.3h-1.3zM233.4 1065.4h1.3v1.3h-1.3zM200.2 1086.3h1.3v1.3h-1.3zM200.1 1050.7h1.3v1.3h-1.3zM205.1 1066.3h1.3v1.3h-1.3zM235.3 1082.6h1.3v1.3h-1.3zM196.2 1060.0h1.3v1.3h-1.3zM205.2 1088.6h1.3v1.3h-1.3zM207.0 1105.2h1.3v1.3h-1.3zM177.0 1071.0h1.3v1.3h-1.3zM246.2 1084.6h1.3v1.3h-1.3zM161.1 1045.6h1.3v1.3h-1.3zM198.2 1086.1h1.3v1.3h-1.3zM233.7 1028.9h1.3v1.3h-1.3zM161.6 1073.3h1.3v1.3h-1.3zM158.1 1069.0h1.3v1.3h-1.3zM152.0 1106.3h1.3v1.3h-1.3zM242.9 1098.0h1.3v1.3h-1.3zM269.4 1076.8h1.3v1.3h-1.3zM201.6 1074.9h1.3v1.3h-1.3zM231.0 1095.9h1.3v1.3h-1.3zM212.7 1122.3h1.3v1.3h-1.3zM200.1 1055.5h1.3v1.3h-1.3zM227.4 1097.2h1.3v1.3h-1.3zM158.0 1056.5h1.3v1.3h-1.3zM199.2 1120.2h1.3v1.3h-1.3zM213.7 1118.7h1.3v1.3h-1.3zM201.9 1119.1h1.3v1.3h-1.3zM160.7 1020.1h1.3v1.3h-1.3zM161.3 1115.6h1.3v1.3h-1.3zM231.3 1086.8h1.3v1.3h-1.3zM237.3 1082.0h1.3v1.3h-1.3zM210.9 1108.7h1.3v1.3h-1.3zM200.6 1102.0h1.3v1.3h-1.3zM200.6 1072.1h1.3v1.3h-1.3zM197.4 1086.9h1.3v1.3h-1.3zM198.0 1074.9h1.3v1.3h-1.3zM230.5 1087.1h1.3v1.3h-1.3zM205.0 1055.5h1.3v1.3h-1.3zM197.6 1045.9h1.3v1.3h-1.3zM264.1 1098.5h1.3v1.3h-1.3zM158.1 1042.2h1.3v1.3h-1.3zM161.3 1034.4h1.3v1.3h-1.3zM164.6 1094.0h1.3v1.3h-1.3zM160.6 1057.4h1.3v1.3h-1.3zM222.9 1102.3h1.3v1.3h-1.3zM189.0 1107.0h1.3v1.3h-1.3zM215.5 1083.6h1.3v1.3h-1.3zM173.8 1010.6h1.3v1.3h-1.3zM154.8 1060.5h1.3v1.3h-1.3zM231.1 1038.2h1.3v1.3h-1.3zM174.2 1055.2h1.3v1.3h-1.3zM175.9 1024.8h1.3v1.3h-1.3zM168.3 1093.6h1.3v1.3h-1.3zM227.6 1083.6h1.3v1.3h-1.3zM158.0 1051.9h1.3v1.3h-1.3zM175.3 1049.9h1.3v1.3h-1.3zM167.4 1114.9h1.3v1.3h-1.3zM155.9 1012.6h1.3v1.3h-1.3zM157.3 1103.2h1.3v1.3h-1.3zM206.0 1054.6h1.3v1.3h-1.3zM209.7 1037.7h1.3v1.3h-1.3zM232.3 1051.1h1.3v1.3h-1.3zM172.2 1085.4h1.3v1.3h-1.3zM229.1 1126.1h1.3v1.3h-1.3zM216.0 1039.4h1.3v1.3h-1.3zM160.4 1040.1h1.3v1.3h-1.3zM288.0 1107.3h1.3v1.3h-1.3zM251.8 1072.7h1.3v1.3h-1.3zM159.1 1068.7h1.3v1.3h-1.3zM170.5 1112.9h1.3v1.3h-1.3zM159.5 1008.6h1.3v1.3h-1.3zM162.1 1055.6h1.3v1.3h-1.3zM235.2 1089.1h1.3v1.3h-1.3zM284.5 1113.3h1.3v1.3h-1.3zM232.2 1053.0h1.3v1.3h-1.3zM160.2 1044.0h1.3v1.3h-1.3zM227.8 1053.5h1.3v1.3h-1.3zM159.3 1098.9h1.3v1.3h-1.3zM205.9 1067.4h1.3v1.3h-1.3zM202.3 1052.7h1.3v1.3h-1.3zM155.8 1027.7h1.3v1.3h-1.3zM160.1 1039.1h1.3v1.3h-1.3zM156.6 1001.4h1.3v1.3h-1.3zM212.0 1012.7h1.3v1.3h-1.3zM252.8 1073.5h1.3v1.3h-1.3zM182.8 1044.2h1.3v1.3h-1.3zM197.1 1116.7h1.3v1.3h-1.3zM210.3 1123.6h1.3v1.3h-1.3zM192.0 1118.4h1.3v1.3h-1.3zM230.5 1037.0h1.3v1.3h-1.3zM202.2 1070.4h1.3v1.3h-1.3zM192.4 1024.4h1.3v1.3h-1.3zM188.9 1040.7h1.3v1.3h-1.3zM160.1 1048.4h1.3v1.3h-1.3zM221.5 1122.6h1.3v1.3h-1.3zM173.2 1113.1h1.3v1.3h-1.3zM170.7 1051.1h1.3v1.3h-1.3zM171.2 1074.3h1.3v1.3h-1.3zM166.0 1100.4h1.3v1.3h-1.3zM268.3 1078.0h1.3v1.3h-1.3zM286.2 1119.2h1.3v1.3h-1.3zM232.3 1058.0h1.3v1.3h-1.3zM176.5 1039.8h1.3v1.3h-1.3zM230.4 1053.9h1.3v1.3h-1.3zM170.4 1035.7h1.3v1.3h-1.3zM229.6 1085.3h1.3v1.3h-1.3zM197.6 1104.9h1.3v1.3h-1.3zM157.8 1107.8h1.3v1.3h-1.3zM196.1 1104.5h1.3v1.3h-1.3zM148.4 1107.2h1.3v1.3h-1.3zM232.5 1081.0h1.3v1.3h-1.3zM158.0 1049.2h1.3v1.3h-1.3zM231.1 1065.7h1.3v1.3h-1.3zM156.9 1113.0h1.3v1.3h-1.3zM221.1 1072.8h1.3v1.3h-1.3zM151.6 1107.8h1.3v1.3h-1.3zM180.4 1069.6h1.3v1.3h-1.3zM273.6 1124.1h1.3v1.3h-1.3zM236.3 1041.8h1.3v1.3h-1.3zM232.6 1063.9h1.3v1.3h-1.3zM161.7 995.2h1.3v1.3h-1.3zM172.2 1046.6h1.3v1.3h-1.3zM164.0 1052.9h1.3v1.3h-1.3zM158.7 1050.5h1.3v1.3h-1.3zM157.8 1045.0h1.3v1.3h-1.3zM165.2 1110.5h1.3v1.3h-1.3zM166.4 1116.7h1.3v1.3h-1.3zM174.9 1082.0h1.3v1.3h-1.3zM186.2 1113.5h1.3v1.3h-1.3zM160.1 1001.7h1.3v1.3h-1.3zM219.7 1117.8h1.3v1.3h-1.3zM230.1 1066.1h1.3v1.3h-1.3zM158.8 1052.9h1.3v1.3h-1.3zM207.3 1105.3h1.3v1.3h-1.3zM237.6 1080.6h1.3v1.3h-1.3zM236.5 1052.7h1.3v1.3h-1.3zM164.6 1008.7h1.3v1.3h-1.3zM240.8 1127.9h1.3v1.3h-1.3zM165.3 1012.2h1.3v1.3h-1.3zM269.4 1126.6h1.3v1.3h-1.3zM218.0 1100.1h1.3v1.3h-1.3zM203.5 1067.2h1.3v1.3h-1.3zM160.6 1113.1h1.3v1.3h-1.3zM213.7 1075.1h1.3v1.3h-1.3zM214.7 1053.9h1.3v1.3h-1.3zM215.8 1121.2h1.3v1.3h-1.3zM192.2 1021.5h1.3v1.3h-1.3zM161.5 1046.3h1.3v1.3h-1.3zM215.6 1037.7h1.3v1.3h-1.3zM217.9 1084.2h1.3v1.3h-1.3zM233.5 1078.4h1.3v1.3h-1.3zM202.3 1073.7h1.3v1.3h-1.3zM160.9 1010.3h1.3v1.3h-1.3zM184.6 1039.8h1.3v1.3h-1.3zM270.4 1131.1h1.3v1.3h-1.3zM254.0 1129.2h1.3v1.3h-1.3zM173.1 1005.9h1.3v1.3h-1.3zM213.0 1101.5h1.3v1.3h-1.3zM194.7 1115.0h1.3v1.3h-1.3zM170.6 1097.5h1.3v1.3h-1.3zM235.5 1129.9h1.3v1.3h-1.3zM272.1 1101.7h1.3v1.3h-1.3zM165.9 1083.0h1.3v1.3h-1.3zM276.2 1124.9h1.3v1.3h-1.3zM233.4 1067.4h1.3v1.3h-1.3zM163.8 1032.7h1.3v1.3h-1.3zM208.0 1069.5h1.3v1.3h-1.3zM172.3 1113.5h1.3v1.3h-1.3zM214.3 1022.7h1.3v1.3h-1.3zM212.6 1116.1h1.3v1.3h-1.3zM156.1 1112.9h1.3v1.3h-1.3zM196.1 1123.8h1.3v1.3h-1.3zM184.0 1071.1h1.3v1.3h-1.3zM215.4 1071.7h1.3v1.3h-1.3zM204.2 1101.2h1.3v1.3h-1.3zM192.6 1120.5h1.3v1.3h-1.3zM227.7 1059.8h1.3v1.3h-1.3zM169.9 1014.8h1.3v1.3h-1.3zM282.8 1111.3h1.3v1.3h-1.3zM173.4 1068.4h1.3v1.3h-1.3zM234.6 1099.1h1.3v1.3h-1.3zM162.0 1021.4h1.3v1.3h-1.3zM215.8 1049.8h1.3v1.3h-1.3zM214.8 1088.0h1.3v1.3h-1.3zM201.7 1056.0h1.3v1.3h-1.3zM236.4 1067.4h1.3v1.3h-1.3zM162.5 995.5h1.3v1.3h-1.3zM264.8 1101.2h1.3v1.3h-1.3zM173.7 1056.7h1.3v1.3h-1.3zM231.0 1038.9h1.3v1.3h-1.3zM215.8 1107.1h1.3v1.3h-1.3zM206.6 1103.2h1.3v1.3h-1.3zM249.0 1129.4h1.3v1.3h-1.3zM163.3 1047.1h1.3v1.3h-1.3zM224.4 1100.5h1.3v1.3h-1.3zM174.1 1082.5h1.3v1.3h-1.3zM195.3 1077.5h1.3v1.3h-1.3zM217.5 1077.7h1.3v1.3h-1.3zM291.3 1108.3h1.3v1.3h-1.3zM170.8 1078.5h1.3v1.3h-1.3zM159.5 1042.4h1.3v1.3h-1.3zM160.2 1044.3h1.3v1.3h-1.3zM160.1 1024.9h1.3v1.3h-1.3zM167.1 1071.9h1.3v1.3h-1.3zM202.9 1102.0h1.3v1.3h-1.3zM195.0 1122.8h1.3v1.3h-1.3zM173.6 1014.0h1.3v1.3h-1.3zM168.4 1084.8h1.3v1.3h-1.3zM197.1 1069.0h1.3v1.3h-1.3zM272.3 1124.2h1.3v1.3h-1.3zM174.6 1065.4h1.3v1.3h-1.3zM233.0 1034.0h1.3v1.3h-1.3zM232.8 1043.3h1.3v1.3h-1.3zM240.3 1122.0h1.3v1.3h-1.3zM283.3 1125.2h1.3v1.3h-1.3zM203.2 1066.8h1.3v1.3h-1.3zM175.6 1026.8h1.3v1.3h-1.3zM171.0 1055.7h1.3v1.3h-1.3zM173.2 1063.5h1.3v1.3h-1.3zM167.7 1114.2h1.3v1.3h-1.3zM170.4 1052.9h1.3v1.3h-1.3zM260.3 1099.6h1.3v1.3h-1.3zM247.7 1081.6h1.3v1.3h-1.3zM166.8 995.0h1.3v1.3h-1.3zM189.1 1075.9h1.3v1.3h-1.3zM191.6 1023.6h1.3v1.3h-1.3zM203.0 1102.6h1.3v1.3h-1.3zM162.4 1024.2h1.3v1.3h-1.3zM193.0 1113.4h1.3v1.3h-1.3zM186.6 1073.6h1.3v1.3h-1.3zM161.0 1019.3h1.3v1.3h-1.3zM158.4 999.2h1.3v1.3h-1.3zM174.1 1008.4h1.3v1.3h-1.3zM289.4 1112.8h1.3v1.3h-1.3zM197.8 1069.0h1.3v1.3h-1.3zM165.1 1062.6h1.3v1.3h-1.3zM228.4 1098.4h1.3v1.3h-1.3zM210.3 1035.1h1.3v1.3h-1.3zM192.2 1114.8h1.3v1.3h-1.3zM213.3 1085.5h1.3v1.3h-1.3zM277.5 1126.9h1.3v1.3h-1.3zM196.3 1035.0h1.3v1.3h-1.3zM230.2 1083.3h1.3v1.3h-1.3zM168.1 1002.9h1.3v1.3h-1.3zM159.6 1039.7h1.3v1.3h-1.3zM199.3 1053.6h1.3v1.3h-1.3zM161.1 1082.4h1.3v1.3h-1.3zM270.4 1127.0h1.3v1.3h-1.3zM197.0 1082.9h1.3v1.3h-1.3zM154.7 1109.4h1.3v1.3h-1.3zM289.2 1109.4h1.3v1.3h-1.3zM160.4 1068.4h1.3v1.3h-1.3zM278.4 1121.2h1.3v1.3h-1.3zM225.8 1124.5h1.3v1.3h-1.3zM255.0 1128.4h1.3v1.3h-1.3zM159.9 997.9h1.3v1.3h-1.3zM219.4 1070.7h1.3v1.3h-1.3zM161.5 1072.7h1.3v1.3h-1.3zM160.5 1010.8h1.3v1.3h-1.3zM158.0 1003.6h1.3v1.3h-1.3zM223.9 1059.1h1.3v1.3h-1.3zM177.2 1068.2h1.3v1.3h-1.3zM161.0 1035.2h1.3v1.3h-1.3zM189.9 1075.9h1.3v1.3h-1.3zM229.4 1056.3h1.3v1.3h-1.3zM203.5 1084.9h1.3v1.3h-1.3zM189.9 1107.2h1.3v1.3h-1.3zM186.3 1112.1h1.3v1.3h-1.3zM169.7 1103.9h1.3v1.3h-1.3zM240.5 1100.7h1.3v1.3h-1.3zM190.3 1074.6h1.3v1.3h-1.3zM249.5 1129.0h1.3v1.3h-1.3zM214.2 1105.1h1.3v1.3h-1.3zM192.5 1115.5h1.3v1.3h-1.3zM188.5 1051.0h1.3v1.3h-1.3zM173.8 1032.1h1.3v1.3h-1.3zM160.2 1111.9h1.3v1.3h-1.3zM159.9 1101.0h1.3v1.3h-1.3zM161.9 1078.6h1.3v1.3h-1.3zM187.0 1109.0h1.3v1.3h-1.3zM173.0 1050.8h1.3v1.3h-1.3zM193.1 1105.7h1.3v1.3h-1.3zM153.0 1106.9h1.3v1.3h-1.3zM174.1 1013.8h1.3v1.3h-1.3zM168.8 1010.7h1.3v1.3h-1.3zM280.8 1102.3h1.3v1.3h-1.3zM217.0 1106.1h1.3v1.3h-1.3zM161.6 1056.0h1.3v1.3h-1.3zM196.8 1044.3h1.3v1.3h-1.3zM235.6 1128.7h1.3v1.3h-1.3zM235.0 1035.6h1.3v1.3h-1.3zM278.1 1104.8h1.3v1.3h-1.3zM197.9 1070.1h1.3v1.3h-1.3zM172.5 1084.3h1.3v1.3h-1.3zM213.0 1100.4h1.3v1.3h-1.3zM172.9 1041.4h1.3v1.3h-1.3zM196.5 1123.5h1.3v1.3h-1.3zM198.2 1116.5h1.3v1.3h-1.3zM227.3 1063.4h1.3v1.3h-1.3zM197.0 1072.4h1.3v1.3h-1.3zM157.5 1036.9h1.3v1.3h-1.3zM240.1 1099.5h1.3v1.3h-1.3zM155.9 1049.8h1.3v1.3h-1.3zM234.3 1126.4h1.3v1.3h-1.3zM206.5 1104.5h1.3v1.3h-1.3zM162.5 1008.0h1.3v1.3h-1.3zM203.9 1057.5h1.3v1.3h-1.3zM265.0 1098.4h1.3v1.3h-1.3zM227.0 1125.1h1.3v1.3h-1.3zM205.8 1083.1h1.3v1.3h-1.3zM175.0 1042.7h1.3v1.3h-1.3zM161.4 1098.3h1.3v1.3h-1.3zM217.1 1047.1h1.3v1.3h-1.3zM198.7 1108.0h1.3v1.3h-1.3zM271.4 1102.7h1.3v1.3h-1.3zM191.9 1116.0h1.3v1.3h-1.3zM168.0 1112.6h1.3v1.3h-1.3zM166.8 1054.7h1.3v1.3h-1.3zM162.8 1041.0h1.3v1.3h-1.3zM157.8 1028.3h1.3v1.3h-1.3zM158.4 1018.2h1.3v1.3h-1.3zM202.1 1104.1h1.3v1.3h-1.3zM194.4 1119.7h1.3v1.3h-1.3zM150.5 1106.4h1.3v1.3h-1.3zM189.5 1050.9h1.3v1.3h-1.3zM191.1 1053.7h1.3v1.3h-1.3zM170.6 999.7h1.3v1.3h-1.3zM165.7 1026.7h1.3v1.3h-1.3zM174.5 1036.9h1.3v1.3h-1.3zM167.9 1025.5h1.3v1.3h-1.3zM231.7 1053.5h1.3v1.3h-1.3zM164.4 1010.0h1.3v1.3h-1.3zM156.4 1049.0h1.3v1.3h-1.3zM268.1 1128.5h1.3v1.3h-1.3zM169.2 1083.4h1.3v1.3h-1.3zM216.4 1036.6h1.3v1.3h-1.3zM234.5 1100.4h1.3v1.3h-1.3zM157.4 1025.0h1.3v1.3h-1.3zM211.4 1106.4h1.3v1.3h-1.3zM157.9 1067.0h1.3v1.3h-1.3zM200.3 1105.1h1.3v1.3h-1.3zM189.5 1110.9h1.3v1.3h-1.3zM158.9 1016.0h1.3v1.3h-1.3zM203.4 1104.4h1.3v1.3h-1.3zM192.2 1052.8h1.3v1.3h-1.3zM169.0 1010.3h1.3v1.3h-1.3zM172.7 1023.1h1.3v1.3h-1.3zM172.0 1020.4h1.3v1.3h-1.3zM189.0 1117.9h1.3v1.3h-1.3zM251.8 1098.6h1.3v1.3h-1.3zM220.5 1072.5h1.3v1.3h-1.3zM201.4 1089.8h1.3v1.3h-1.3zM162.2 1110.7h1.3v1.3h-1.3zM288.7 1106.9h1.3v1.3h-1.3zM168.8 1058.0h1.3v1.3h-1.3zM170.2 1062.2h1.3v1.3h-1.3zM174.3 1035.8h1.3v1.3h-1.3zM158.3 1050.7h1.3v1.3h-1.3zM162.0 1113.1h1.3v1.3h-1.3zM164.5 1022.4h1.3v1.3h-1.3zM217.9 1050.9h1.3v1.3h-1.3zM191.2 1023.7h1.3v1.3h-1.3zM283.9 1118.1h1.3v1.3h-1.3zM198.0 1071.3h1.3v1.3h-1.3zM169.8 1029.2h1.3v1.3h-1.3zM156.0 1021.7h1.3v1.3h-1.3zM196.0 1076.3h1.3v1.3h-1.3zM282.6 1113.7h1.3v1.3h-1.3zM172.6 1076.1h1.3v1.3h-1.3zM220.4 1113.4h1.3v1.3h-1.3zM162.9 1070.7h1.3v1.3h-1.3zM191.5 1107.9h1.3v1.3h-1.3zM249.6 1128.2h1.3v1.3h-1.3zM277.7 1129.5h1.3v1.3h-1.3zM161.4 1027.1h1.3v1.3h-1.3zM170.1 1008.0h1.3v1.3h-1.3zM173.8 1049.3h1.3v1.3h-1.3zM229.7 1098.7h1.3v1.3h-1.3zM166.4 1014.9h1.3v1.3h-1.3zM227.8 1059.9h1.3v1.3h-1.3zM170.7 1035.3h1.3v1.3h-1.3zM292.3 1109.3h1.3v1.3h-1.3zM214.9 1123.2h1.3v1.3h-1.3zM220.8 1118.1h1.3v1.3h-1.3zM281.0 1121.8h1.3v1.3h-1.3zM175.7 1019.9h1.3v1.3h-1.3zM158.9 1013.8h1.3v1.3h-1.3zM217.9 1049.2h1.3v1.3h-1.3zM281.7 1106.9h1.3v1.3h-1.3zM220.0 1119.0h1.3v1.3h-1.3zM156.8 1026.9h1.3v1.3h-1.3zM196.3 1118.6h1.3v1.3h-1.3zM165.4 1074.3h1.3v1.3h-1.3zM205.2 1120.4h1.3v1.3h-1.3zM171.3 1025.5h1.3v1.3h-1.3zM272.0 1103.0h1.3v1.3h-1.3zM170.4 1079.0h1.3v1.3h-1.3zM282.4 1114.0h1.3v1.3h-1.3zM194.0 1024.7h1.3v1.3h-1.3zM169.6 1041.4h1.3v1.3h-1.3zM158.5 1022.5h1.3v1.3h-1.3zM170.7 1037.9h1.3v1.3h-1.3zM207.0 1121.7h1.3v1.3h-1.3zM251.9 1129.7h1.3v1.3h-1.3zM166.6 1052.0h1.3v1.3h-1.3zM159.1 1038.2h1.3v1.3h-1.3zM164.1 998.9h1.3v1.3h-1.3zM188.0 1107.1h1.3v1.3h-1.3zM165.6 1083.7h1.3v1.3h-1.3zM235.5 1101.6h1.3v1.3h-1.3zM227.8 1099.5h1.3v1.3h-1.3zM225.3 1125.4h1.3v1.3h-1.3zM203.4 1109.4h1.3v1.3h-1.3zM161.7 1013.5h1.3v1.3h-1.3zM197.9 1072.3h1.3v1.3h-1.3zM170.4 1052.7h1.3v1.3h-1.3zM249.6 1127.6h1.3v1.3h-1.3zM198.5 1107.0h1.3v1.3h-1.3zM216.2 1101.7h1.3v1.3h-1.3zM276.8 1103.4h1.3v1.3h-1.3zM162.7 996.5h1.3v1.3h-1.3zM285.3 1113.5h1.3v1.3h-1.3zM220.3 1073.8h1.3v1.3h-1.3zM278.9 1116.6h1.3v1.3h-1.3zM195.9 1113.5h1.3v1.3h-1.3zM210.8 1111.2h1.3v1.3h-1.3zM211.8 1121.9h1.3v1.3h-1.3zM247.6 1129.8h1.3v1.3h-1.3zM216.4 1087.4h1.3v1.3h-1.3zM164.3 1000.2h1.3v1.3h-1.3zM158.3 1011.3h1.3v1.3h-1.3zM175.5 1021.8h1.3v1.3h-1.3zM276.9 1127.2h1.3v1.3h-1.3zM158.6 1033.2h1.3v1.3h-1.3zM166.9 1077.7h1.3v1.3h-1.3zM172.5 1008.7h1.3v1.3h-1.3zM177.6 1055.4h1.3v1.3h-1.3zM220.3 1122.1h1.3v1.3h-1.3zM213.5 1107.8h1.3v1.3h-1.3zM168.2 994.2h1.3v1.3h-1.3zM214.6 1119.9h1.3v1.3h-1.3zM207.1 1116.4h1.3v1.3h-1.3zM213.4 1085.1h1.3v1.3h-1.3zM243.5 1126.0h1.3v1.3h-1.3zM189.3 1054.9h1.3v1.3h-1.3zM160.3 1050.5h1.3v1.3h-1.3zM230.9 1096.4h1.3v1.3h-1.3zM200.6 1054.6h1.3v1.3h-1.3zM200.5 1101.0h1.3v1.3h-1.3zM172.9 1000.0h1.3v1.3h-1.3zM163.6 1069.1h1.3v1.3h-1.3zM168.6 1000.1h1.3v1.3h-1.3zM195.5 1121.3h1.3v1.3h-1.3zM263.4 1098.1h1.3v1.3h-1.3zM218.1 1105.7h1.3v1.3h-1.3zM268.9 1124.7h1.3v1.3h-1.3zM173.7 1085.0h1.3v1.3h-1.3zM160.1 1014.2h1.3v1.3h-1.3zM161.5 1064.4h1.3v1.3h-1.3zM175.5 1030.0h1.3v1.3h-1.3zM176.2 1012.0h1.3v1.3h-1.3zM169.1 1049.8h1.3v1.3h-1.3zM219.4 1101.9h1.3v1.3h-1.3zM276.2 1106.5h1.3v1.3h-1.3zM169.9 1106.4h1.3v1.3h-1.3zM204.4 1071.5h1.3v1.3h-1.3zM173.4 1008.5h1.3v1.3h-1.3zM254.9 1098.1h1.3v1.3h-1.3zM164.9 1113.8h1.3v1.3h-1.3zM262.7 1099.3h1.3v1.3h-1.3zM162.5 1073.5h1.3v1.3h-1.3zM282.1 1111.4h1.3v1.3h-1.3zM191.6 1113.8h1.3v1.3h-1.3zM216.9 1072.6h1.3v1.3h-1.3zM160.5 1069.0h1.3v1.3h-1.3zM200.6 1102.5h1.3v1.3h-1.3zM158.3 1058.1h1.3v1.3h-1.3zM285.9 1108.7h1.3v1.3h-1.3zM167.4 996.6h1.3v1.3h-1.3zM167.4 1082.0h1.3v1.3h-1.3zM175.9 1067.8h1.3v1.3h-1.3zM171.3 1076.1h1.3v1.3h-1.3zM188.6 1116.6h1.3v1.3h-1.3zM166.9 1078.3h1.3v1.3h-1.3zM242.7 1126.3h1.3v1.3h-1.3zM171.9 1061.8h1.3v1.3h-1.3zM232.1 1056.5h1.3v1.3h-1.3zM156.5 1003.8h1.3v1.3h-1.3zM203.2 1120.4h1.3v1.3h-1.3zM171.7 1019.2h1.3v1.3h-1.3zM192.0 1024.4h1.3v1.3h-1.3zM151.4 1106.8h1.3v1.3h-1.3zM156.0 1020.0h1.3v1.3h-1.3zM249.4 1101.6h1.3v1.3h-1.3zM247.2 1100.1h1.3v1.3h-1.3zM273.8 1102.0h1.3v1.3h-1.3zM191.8 1107.2h1.3v1.3h-1.3zM171.9 1019.4h1.3v1.3h-1.3zM230.0 1102.8h1.3v1.3h-1.3zM167.1 1081.1h1.3v1.3h-1.3zM214.5 1049.9h1.3v1.3h-1.3zM203.7 1107.5h1.3v1.3h-1.3zM170.6 1062.2h1.3v1.3h-1.3zM173.8 1037.2h1.3v1.3h-1.3zM229.9 1063.2h1.3v1.3h-1.3zM157.3 1053.9h1.3v1.3h-1.3zM174.8 1068.0h1.3v1.3h-1.3zM158.9 1102.4h1.3v1.3h-1.3zM160.0 1015.1h1.3v1.3h-1.3zM170.1 1111.0h1.3v1.3h-1.3zM167.5 1003.0h1.3v1.3h-1.3zM201.6 1108.4h1.3v1.3h-1.3zM214.0 1123.0h1.3v1.3h-1.3zM163.1 1056.2h1.3v1.3h-1.3zM232.3 1066.8h1.3v1.3h-1.3zM168.6 1043.4h1.3v1.3h-1.3zM260.5 1128.4h1.3v1.3h-1.3zM165.5 1025.8h1.3v1.3h-1.3zM165.1 1084.0h1.3v1.3h-1.3zM207.2 1103.1h1.3v1.3h-1.3zM253.7 1103.6h1.3v1.3h-1.3zM236.4 1078.8h1.3v1.3h-1.3zM172.9 1030.5h1.3v1.3h-1.3zM224.3 1125.6h1.3v1.3h-1.3zM162.1 1040.6h1.3v1.3h-1.3zM281.8 1107.9h1.3v1.3h-1.3zM279.9 1102.9h1.3v1.3h-1.3zM212.9 1123.9h1.3v1.3h-1.3zM162.2 1020.3h1.3v1.3h-1.3zM169.0 1059.9h1.3v1.3h-1.3zM185.3 1111.1h1.3v1.3h-1.3zM171.2 1084.1h1.3v1.3h-1.3zM212.7 1121.8h1.3v1.3h-1.3zM188.9 1052.5h1.3v1.3h-1.3zM167.0 1115.8h1.3v1.3h-1.3zM194.4 1053.3h1.3v1.3h-1.3zM279.4 1107.6h1.3v1.3h-1.3zM174.8 1068.7h1.3v1.3h-1.3zM161.8 1036.9h1.3v1.3h-1.3zM172.5 1048.7h1.3v1.3h-1.3zM238.2 1124.9h1.3v1.3h-1.3zM261.2 1099.3h1.3v1.3h-1.3zM161.2 1114.7h1.3v1.3h-1.3zM193.9 1117.1h1.3v1.3h-1.3zM175.7 1070.7h1.3v1.3h-1.3zM156.7 1061.9h1.3v1.3h-1.3zM198.2 1112.2h1.3v1.3h-1.3zM233.9 1104.4h1.3v1.3h-1.3zM202.7 1108.5h1.3v1.3h-1.3zM206.3 1121.8h1.3v1.3h-1.3zM200.9 1115.8h1.3v1.3h-1.3zM160.4 1037.9h1.3v1.3h-1.3zM189.4 1109.0h1.3v1.3h-1.3zM275.4 1112.0h1.3v1.3h-1.3zM174.8 1024.8h1.3v1.3h-1.3zM156.4 1015.1h1.3v1.3h-1.3zM161.1 1060.6h1.3v1.3h-1.3zM272.0 1105.7h1.3v1.3h-1.3zM226.7 1053.3h1.3v1.3h-1.3zM260.2 1127.1h1.3v1.3h-1.3zM173.2 1046.4h1.3v1.3h-1.3zM230.9 1052.3h1.3v1.3h-1.3zM203.8 1119.8h1.3v1.3h-1.3zM188.8 1112.2h1.3v1.3h-1.3zM162.8 1078.4h1.3v1.3h-1.3zM171.5 1041.9h1.3v1.3h-1.3zM167.6 997.6h1.3v1.3h-1.3zM156.3 1048.3h1.3v1.3h-1.3zM161.6 1101.1h1.3v1.3h-1.3zM163.0 1030.8h1.3v1.3h-1.3zM202.7 1111.9h1.3v1.3h-1.3zM198.9 1107.0h1.3v1.3h-1.3zM202.2 1119.6h1.3v1.3h-1.3zM175.4 1075.3h1.3v1.3h-1.3zM285.5 1120.3h1.3v1.3h-1.3zM171.8 1080.2h1.3v1.3h-1.3zM174.7 1046.1h1.3v1.3h-1.3zM201.0 1117.3h1.3v1.3h-1.3zM160.7 1107.8h1.3v1.3h-1.3zM200.3 1071.7h1.3v1.3h-1.3zM154.8 1049.2h1.3v1.3h-1.3zM204.1 1109.8h1.3v1.3h-1.3zM169.6 1021.1h1.3v1.3h-1.3zM193.0 1110.5h1.3v1.3h-1.3zM163.0 1079.6h1.3v1.3h-1.3zM158.7 1058.4h1.3v1.3h-1.3zM162.9 1076.7h1.3v1.3h-1.3zM169.2 1011.9h1.3v1.3h-1.3zM174.1 1078.8h1.3v1.3h-1.3zM175.0 1021.6h1.3v1.3h-1.3zM230.6 1097.6h1.3v1.3h-1.3zM170.4 1017.5h1.3v1.3h-1.3zM170.3 1030.7h1.3v1.3h-1.3zM175.1 1066.5h1.3v1.3h-1.3zM229.6 1060.9h1.3v1.3h-1.3zM171.6 1004.7h1.3v1.3h-1.3zM193.3 1053.3h1.3v1.3h-1.3zM167.8 1076.0h1.3v1.3h-1.3zM242.5 1125.4h1.3v1.3h-1.3zM173.6 1052.7h1.3v1.3h-1.3zM239.3 1126.7h1.3v1.3h-1.3zM157.0 1062.6h1.3v1.3h-1.3zM160.6 1081.1h1.3v1.3h-1.3zM229.7 1067.8h1.3v1.3h-1.3zM233.5 1103.0h1.3v1.3h-1.3zM169.9 1048.3h1.3v1.3h-1.3zM193.8 1119.4h1.3v1.3h-1.3zM286.4 1119.2h1.3v1.3h-1.3zM229.0 1083.5h1.3v1.3h-1.3zM167.7 1026.9h1.3v1.3h-1.3zM159.0 1029.2h1.3v1.3h-1.3zM253.4 1098.4h1.3v1.3h-1.3zM244.5 1100.9h1.3v1.3h-1.3zM277.2 1125.7h1.3v1.3h-1.3zM168.5 1045.3h1.3v1.3h-1.3zM167.4 1114.4h1.3v1.3h-1.3zM156.0 1107.8h1.3v1.3h-1.3zM164.1 1065.8h1.3v1.3h-1.3zM207.5 1106.3h1.3v1.3h-1.3zM161.7 1113.5h1.3v1.3h-1.3zM195.7 1119.9h1.3v1.3h-1.3zM287.5 1112.0h1.3v1.3h-1.3zM210.6 1119.4h1.3v1.3h-1.3zM175.3 1025.8h1.3v1.3h-1.3zM162.0 1001.6h1.3v1.3h-1.3zM192.9 1120.0h1.3v1.3h-1.3zM159.3 996.8h1.3v1.3h-1.3zM175.8 1027.0h1.3v1.3h-1.3zM161.3 1101.1h1.3v1.3h-1.3zM253.0 1101.1h1.3v1.3h-1.3zM163.0 1018.3h1.3v1.3h-1.3zM165.7 1037.3h1.3v1.3h-1.3zM175.2 1035.3h1.3v1.3h-1.3zM219.9 1122.6h1.3v1.3h-1.3zM240.5 1098.2h1.3v1.3h-1.3zM191.1 1110.4h1.3v1.3h-1.3zM227.1 1102.5h1.3v1.3h-1.3zM166.4 1007.3h1.3v1.3h-1.3zM169.5 1061.9h1.3v1.3h-1.3zM172.4 1071.6h1.3v1.3h-1.3zM279.5 1104.4h1.3v1.3h-1.3zM173.9 1055.1h1.3v1.3h-1.3zM197.5 1109.6h1.3v1.3h-1.3zM168.9 1052.1h1.3v1.3h-1.3zM159.1 1108.5h1.3v1.3h-1.3zM208.4 1109.6h1.3v1.3h-1.3zM165.2 1021.8h1.3v1.3h-1.3zM163.7 1032.1h1.3v1.3h-1.3zM178.0 1068.9h1.3v1.3h-1.3zM172.1 1029.4h1.3v1.3h-1.3zM162.2 1013.9h1.3v1.3h-1.3zM173.9 1031.4h1.3v1.3h-1.3zM256.4 1098.8h1.3v1.3h-1.3zM174.5 1075.2h1.3v1.3h-1.3zM175.5 1081.7h1.3v1.3h-1.3zM164.0 1047.2h1.3v1.3h-1.3zM208.7 1117.3h1.3v1.3h-1.3zM171.4 1014.7h1.3v1.3h-1.3zM240.5 1100.7h1.3v1.3h-1.3zM174.7 1070.5h1.3v1.3h-1.3zM205.0 1104.6h1.3v1.3h-1.3zM276.9 1125.7h1.3v1.3h-1.3zM212.5 1112.5h1.3v1.3h-1.3zM169.7 1045.8h1.3v1.3h-1.3zM168.1 1008.8h1.3v1.3h-1.3zM170.4 1111.9h1.3v1.3h-1.3zM170.6 1053.6h1.3v1.3h-1.3zM150.4 1107.1h1.3v1.3h-1.3zM173.2 1081.2h1.3v1.3h-1.3zM165.7 1004.8h1.3v1.3h-1.3zM160.7 1081.7h1.3v1.3h-1.3zM157.9 1001.6h1.3v1.3h-1.3zM194.5 1107.1h1.3v1.3h-1.3zM156.5 1018.8h1.3v1.3h-1.3zM171.5 999.1h1.3v1.3h-1.3zM175.2 1067.5h1.3v1.3h-1.3zM195.3 1053.4h1.3v1.3h-1.3zM168.7 1077.2h1.3v1.3h-1.3zM159.3 1064.7h1.3v1.3h-1.3zM217.9 1105.0h1.3v1.3h-1.3zM205.8 1120.0h1.3v1.3h-1.3zM238.4 1129.1h1.3v1.3h-1.3zM170.6 1113.1h1.3v1.3h-1.3zM162.1 1027.8h1.3v1.3h-1.3zM167.0 1005.1h1.3v1.3h-1.3zM283.6 1121.3h1.3v1.3h-1.3zM280.9 1103.9h1.3v1.3h-1.3zM200.5 1117.7h1.3v1.3h-1.3zM205.8 1113.5h1.3v1.3h-1.3zM173.1 1080.8h1.3v1.3h-1.3zM283.2 1106.0h1.3v1.3h-1.3zM285.0 1109.6h1.3v1.3h-1.3zM162.7 995.0h1.3v1.3h-1.3zM172.1 1063.7h1.3v1.3h-1.3zM214.3 1111.0h1.3v1.3h-1.3zM165.4 1017.6h1.3v1.3h-1.3zM263.0 1126.8h1.3v1.3h-1.3zM168.9 1044.6h1.3v1.3h-1.3zM171.1 1040.1h1.3v1.3h-1.3zM202.0 1117.6h1.3v1.3h-1.3zM192.8 1112.7h1.3v1.3h-1.3zM159.6 1061.0h1.3v1.3h-1.3zM163.3 1076.1h1.3v1.3h-1.3zM161.5 1060.7h1.3v1.3h-1.3zM158.4 1028.3h1.3v1.3h-1.3zM165.1 1048.2h1.3v1.3h-1.3zM167.8 1003.8h1.3v1.3h-1.3zM170.2 1054.5h1.3v1.3h-1.3zM230.1 1127.3h1.3v1.3h-1.3zM204.4 1113.0h1.3v1.3h-1.3zM159.7 1012.8h1.3v1.3h-1.3zM193.5 1109.4h1.3v1.3h-1.3zM207.2 1102.5h1.3v1.3h-1.3zM206.6 1119.9h1.3v1.3h-1.3zM187.1 1108.9h1.3v1.3h-1.3zM164.1 1005.1h1.3v1.3h-1.3zM172.5 1033.5h1.3v1.3h-1.3zM156.2 1050.1h1.3v1.3h-1.3zM196.3 1107.2h1.3v1.3h-1.3zM278.8 1120.9h1.3v1.3h-1.3zM167.5 1057.0h1.3v1.3h-1.3zM250.8 1127.5h1.3v1.3h-1.3zM174.6 1067.5h1.3v1.3h-1.3zM221.9 1116.9h1.3v1.3h-1.3zM165.1 1048.1h1.3v1.3h-1.3zM157.6 1015.8h1.3v1.3h-1.3zM173.4 1022.6h1.3v1.3h-1.3zM205.6 1118.0h1.3v1.3h-1.3zM168.7 1080.0h1.3v1.3h-1.3zM207.7 1113.6h1.3v1.3h-1.3zM248.7 1098.2h1.3v1.3h-1.3zM283.8 1118.3h1.3v1.3h-1.3zM161.0 1032.7h1.3v1.3h-1.3zM255.1 1100.9h1.3v1.3h-1.3zM188.8 1053.1h1.3v1.3h-1.3zM210.2 1107.7h1.3v1.3h-1.3zM231.9 1115.9h1.3v1.3h-1.3zM209.2 1109.5h1.3v1.3h-1.3zM162.8 1066.6h1.3v1.3h-1.3zM164.4 1067.2h1.3v1.3h-1.3zM211.4 1112.4h1.3v1.3h-1.3zM164.3 1051.4h1.3v1.3h-1.3zM173.1 1011.9h1.3v1.3h-1.3zM169.1 1104.3h1.3v1.3h-1.3zM204.4 1110.7h1.3v1.3h-1.3zM165.6 1114.8h1.3v1.3h-1.3zM212.0 1115.0h1.3v1.3h-1.3zM197.0 1106.8h1.3v1.3h-1.3zM252.9 1103.9h1.3v1.3h-1.3zM168.0 1022.8h1.3v1.3h-1.3zM165.8 1002.7h1.3v1.3h-1.3zM170.3 996.5h1.3v1.3h-1.3zM168.5 1052.7h1.3v1.3h-1.3zM158.7 1028.8h1.3v1.3h-1.3zM196.4 1120.8h1.3v1.3h-1.3zM166.2 1054.1h1.3v1.3h-1.3zM214.2 1108.9h1.3v1.3h-1.3zM172.9 1081.4h1.3v1.3h-1.3zM283.6 1104.8h1.3v1.3h-1.3zM203.0 1107.3h1.3v1.3h-1.3zM281.7 1105.8h1.3v1.3h-1.3zM278.7 1104.6h1.3v1.3h-1.3zM163.7 1082.2h1.3v1.3h-1.3zM229.0 1058.5h1.3v1.3h-1.3zM167.4 1037.7h1.3v1.3h-1.3zM163.7 1083.9h1.3v1.3h-1.3zM168.8 1083.6h1.3v1.3h-1.3zM164.4 1032.4h1.3v1.3h-1.3zM173.3 1021.0h1.3v1.3h-1.3zM192.7 1109.3h1.3v1.3h-1.3zM193.7 1112.6h1.3v1.3h-1.3zM170.5 1007.7h1.3v1.3h-1.3zM168.9 999.7h1.3v1.3h-1.3zM235.4 1078.4h1.3v1.3h-1.3zM204.7 1109.9h1.3v1.3h-1.3zM168.0 1049.5h1.3v1.3h-1.3zM251.4 1099.2h1.3v1.3h-1.3zM166.9 1028.8h1.3v1.3h-1.3zM172.6 1034.4h1.3v1.3h-1.3zM158.6 997.1h1.3v1.3h-1.3zM281.0 1104.9h1.3v1.3h-1.3zM170.8 1012.6h1.3v1.3h-1.3zM216.7 1072.8h1.3v1.3h-1.3zM189.5 1106.9h1.3v1.3h-1.3zM168.8 1053.6h1.3v1.3h-1.3zM195.3 1118.4h1.3v1.3h-1.3zM276.1 1107.6h1.3v1.3h-1.3zM283.2 1109.1h1.3v1.3h-1.3zM189.1 1109.3h1.3v1.3h-1.3zM168.8 1083.2h1.3v1.3h-1.3zM201.4 1105.8h1.3v1.3h-1.3zM173.0 1079.2h1.3v1.3h-1.3zM165.0 1049.7h1.3v1.3h-1.3zM163.5 1023.6h1.3v1.3h-1.3zM168.6 1009.5h1.3v1.3h-1.3zM198.5 1112.2h1.3v1.3h-1.3zM192.8 1050.3h1.3v1.3h-1.3zM169.2 1075.9h1.3v1.3h-1.3zM163.6 1105.1h1.3v1.3h-1.3zM175.4 1024.8h1.3v1.3h-1.3zM226.9 1123.4h1.3v1.3h-1.3zM174.5 1050.0h1.3v1.3h-1.3zM232.2 1126.8h1.3v1.3h-1.3zM157.1 1049.1h1.3v1.3h-1.3zM235.1 1126.1h1.3v1.3h-1.3zM161.5 996.8h1.3v1.3h-1.3zM167.5 1105.0h1.3v1.3h-1.3zM164.3 999.6h1.3v1.3h-1.3zM287.7 1115.5h1.3v1.3h-1.3zM170.4 1081.2h1.3v1.3h-1.3zM218.2 1112.2h1.3v1.3h-1.3zM173.2 1058.7h1.3v1.3h-1.3zM195.7 1109.5h1.3v1.3h-1.3zM157.7 1027.5h1.3v1.3h-1.3zM279.1 1121.1h1.3v1.3h-1.3zM230.7 1100.9h1.3v1.3h-1.3zM161.3 1030.2h1.3v1.3h-1.3zM214.0 1108.1h1.3v1.3h-1.3zM175.4 1057.7h1.3v1.3h-1.3zM161.6 1066.2h1.3v1.3h-1.3zM220.7 1123.3h1.3v1.3h-1.3zM174.1 1024.3h1.3v1.3h-1.3zM252.4 1099.4h1.3v1.3h-1.3zM285.9 1109.3h1.3v1.3h-1.3zM171.6 1026.5h1.3v1.3h-1.3zM231.8 1096.0h1.3v1.3h-1.3zM219.8 1103.6h1.3v1.3h-1.3zM220.1 1121.5h1.3v1.3h-1.3zM195.4 1076.8h1.3v1.3h-1.3zM161.8 1064.1h1.3v1.3h-1.3zM206.4 1116.2h1.3v1.3h-1.3zM161.7 1000.2h1.3v1.3h-1.3zM165.9 1065.1h1.3v1.3h-1.3zM235.1 1127.8h1.3v1.3h-1.3zM207.3 1104.8h1.3v1.3h-1.3zM217.1 1121.2h1.3v1.3h-1.3zM281.9 1118.0h1.3v1.3h-1.3zM213.6 1105.8h1.3v1.3h-1.3zM164.3 1017.7h1.3v1.3h-1.3zM167.7 1038.2h1.3v1.3h-1.3zM279.6 1107.0h1.3v1.3h-1.3zM170.9 1069.3h1.3v1.3h-1.3zM275.0 1112.0h1.3v1.3h-1.3zM171.1 1048.2h1.3v1.3h-1.3zM172.8 1061.8h1.3v1.3h-1.3zM169.9 1044.4h1.3v1.3h-1.3zM165.6 1079.0h1.3v1.3h-1.3zM276.0 1121.0h1.3v1.3h-1.3zM161.4 1033.0h1.3v1.3h-1.3zM192.1 1111.7h1.3v1.3h-1.3zM210.5 1118.1h1.3v1.3h-1.3zM161.0 1081.1h1.3v1.3h-1.3zM221.0 1123.3h1.3v1.3h-1.3zM273.7 1113.9h1.3v1.3h-1.3zM270.7 1125.9h1.3v1.3h-1.3zM275.4 1125.7h1.3v1.3h-1.3zM200.9 1120.0h1.3v1.3h-1.3zM169.5 1039.2h1.3v1.3h-1.3zM164.3 1020.5h1.3v1.3h-1.3zM225.0 1103.8h1.3v1.3h-1.3zM286.6 1111.5h1.3v1.3h-1.3zM158.8 1058.9h1.3v1.3h-1.3zM231.0 1085.8h1.3v1.3h-1.3zM239.2 1125.6h1.3v1.3h-1.3zM282.9 1108.3h1.3v1.3h-1.3zM170.4 1035.1h1.3v1.3h-1.3zM161.2 1044.6h1.3v1.3h-1.3zM228.9 1125.4h1.3v1.3h-1.3zM171.1 1069.8h1.3v1.3h-1.3zM228.9 1104.9h1.3v1.3h-1.3zM168.8 1017.9h1.3v1.3h-1.3zM231.3 1124.9h1.3v1.3h-1.3zM206.6 1109.1h1.3v1.3h-1.3zM171.2 1078.8h1.3v1.3h-1.3zM229.6 1107.2h1.3v1.3h-1.3zM154.7 1015.5h1.3v1.3h-1.3zM238.1 1127.7h1.3v1.3h-1.3zM174.2 1023.2h1.3v1.3h-1.3zM164.2 1109.3h1.3v1.3h-1.3zM268.4 1124.1h1.3v1.3h-1.3zM162.1 1110.3h1.3v1.3h-1.3zM163.2 1023.5h1.3v1.3h-1.3zM162.7 1052.7h1.3v1.3h-1.3zM161.3 1059.9h1.3v1.3h-1.3zM173.8 1081.9h1.3v1.3h-1.3zM165.1 1060.9h1.3v1.3h-1.3zM171.6 1031.9h1.3v1.3h-1.3zM169.6 1050.8h1.3v1.3h-1.3zM167.7 1005.4h1.3v1.3h-1.3zM162.0 1070.6h1.3v1.3h-1.3zM163.4 1112.9h1.3v1.3h-1.3zM244.3 1100.6h1.3v1.3h-1.3zM164.5 1031.5h1.3v1.3h-1.3zM167.7 1115.2h1.3v1.3h-1.3zM222.5 1120.1h1.3v1.3h-1.3zM164.0 1079.7h1.3v1.3h-1.3zM168.8 1041.7h1.3v1.3h-1.3zM195.0 1107.3h1.3v1.3h-1.3zM210.6 1116.7h1.3v1.3h-1.3zM169.9 1034.7h1.3v1.3h-1.3zM209.9 1109.0h1.3v1.3h-1.3zM169.2 1058.0h1.3v1.3h-1.3zM288.1 1110.7h1.3v1.3h-1.3zM164.1 1071.3h1.3v1.3h-1.3zM266.7 1125.6h1.3v1.3h-1.3zM173.9 1032.5h1.3v1.3h-1.3zM221.2 1123.2h1.3v1.3h-1.3zM161.4 1030.2h1.3v1.3h-1.3zM272.8 1104.8h1.3v1.3h-1.3zM170.2 1012.1h1.3v1.3h-1.3zM242.0 1125.1h1.3v1.3h-1.3zM195.5 1115.5h1.3v1.3h-1.3zM167.5 1035.0h1.3v1.3h-1.3zM169.0 1013.2h1.3v1.3h-1.3zM255.0 1127.1h1.3v1.3h-1.3zM249.7 1101.6h1.3v1.3h-1.3zM168.3 1048.6h1.3v1.3h-1.3zM281.0 1109.6h1.3v1.3h-1.3zM162.1 1043.0h1.3v1.3h-1.3zM279.2 1104.8h1.3v1.3h-1.3zM158.6 998.3h1.3v1.3h-1.3zM219.2 1116.8h1.3v1.3h-1.3zM287.1 1115.2h1.3v1.3h-1.3zM200.3 1109.8h1.3v1.3h-1.3zM163.3 1049.4h1.3v1.3h-1.3zM163.1 1009.1h1.3v1.3h-1.3zM169.6 1070.3h1.3v1.3h-1.3zM195.5 1107.5h1.3v1.3h-1.3zM171.6 1023.7h1.3v1.3h-1.3zM174.4 1066.5h1.3v1.3h-1.3zM168.8 1105.4h1.3v1.3h-1.3zM162.6 1014.6h1.3v1.3h-1.3zM160.6 997.4h1.3v1.3h-1.3zM273.8 1123.4h1.3v1.3h-1.3zM227.3 1122.6h1.3v1.3h-1.3zM170.1 1075.8h1.3v1.3h-1.3zM191.7 1110.5h1.3v1.3h-1.3zM164.5 1102.2h1.3v1.3h-1.3zM196.6 1111.4h1.3v1.3h-1.3zM218.8 1103.3h1.3v1.3h-1.3zM175.3 1069.9h1.3v1.3h-1.3zM161.0 1010.7h1.3v1.3h-1.3zM166.3 1012.3h1.3v1.3h-1.3zM230.3 1125.9h1.3v1.3h-1.3zM161.9 1068.2h1.3v1.3h-1.3zM204.0 1113.8h1.3v1.3h-1.3zM165.7 1074.9h1.3v1.3h-1.3zM169.3 1031.1h1.3v1.3h-1.3zM207.9 1114.2h1.3v1.3h-1.3zM158.0 1015.2h1.3v1.3h-1.3zM171.1 1027.0h1.3v1.3h-1.3zM160.1 999.3h1.3v1.3h-1.3zM211.7 1117.6h1.3v1.3h-1.3zM171.4 1022.9h1.3v1.3h-1.3zM281.7 1121.3h1.3v1.3h-1.3zM209.0 1119.7h1.3v1.3h-1.3zM158.5 1056.3h1.3v1.3h-1.3zM162.5 1062.2h1.3v1.3h-1.3zM165.2 1055.5h1.3v1.3h-1.3zM167.3 1057.9h1.3v1.3h-1.3zM263.8 1126.3h1.3v1.3h-1.3zM157.5 1018.1h1.3v1.3h-1.3zM171.8 1033.4h1.3v1.3h-1.3zM166.8 1043.7h1.3v1.3h-1.3zM163.2 1015.2h1.3v1.3h-1.3zM173.8 1020.1h1.3v1.3h-1.3zM257.0 1127.1h1.3v1.3h-1.3zM173.8 1072.5h1.3v1.3h-1.3zM267.8 1107.5h1.3v1.3h-1.3zM208.0 1119.4h1.3v1.3h-1.3zM165.5 1046.1h1.3v1.3h-1.3zM174.4 1072.0h1.3v1.3h-1.3zM164.4 1111.4h1.3v1.3h-1.3zM170.7 1050.0h1.3v1.3h-1.3zM216.2 1111.6h1.3v1.3h-1.3zM160.4 1060.1h1.3v1.3h-1.3zM188.6 1108.6h1.3v1.3h-1.3zM167.6 1108.8h1.3v1.3h-1.3zM254.3 1110.2h1.3v1.3h-1.3zM160.9 1029.4h1.3v1.3h-1.3zM169.7 1005.3h1.3v1.3h-1.3zM199.0 1118.8h1.3v1.3h-1.3zM162.0 1001.7h1.3v1.3h-1.3zM196.6 1118.2h1.3v1.3h-1.3zM170.5 1057.0h1.3v1.3h-1.3zM161.4 1015.5h1.3v1.3h-1.3zM212.4 1111.4h1.3v1.3h-1.3zM166.4 1108.7h1.3v1.3h-1.3zM165.0 1057.6h1.3v1.3h-1.3zM173.0 1070.1h1.3v1.3h-1.3zM165.7 1041.0h1.3v1.3h-1.3zM160.8 1044.1h1.3v1.3h-1.3zM171.3 1070.8h1.3v1.3h-1.3zM203.4 1106.9h1.3v1.3h-1.3zM161.4 1015.1h1.3v1.3h-1.3zM231.2 1125.6h1.3v1.3h-1.3zM200.4 1114.0h1.3v1.3h-1.3zM188.5 1113.5h1.3v1.3h-1.3zM167.3 1075.2h1.3v1.3h-1.3zM228.7 1124.2h1.3v1.3h-1.3zM205.6 1111.3h1.3v1.3h-1.3zM202.4 1112.7h1.3v1.3h-1.3zM164.4 1002.2h1.3v1.3h-1.3zM163.8 1065.8h1.3v1.3h-1.3zM161.3 1104.0h1.3v1.3h-1.3zM204.4 1121.2h1.3v1.3h-1.3zM217.0 1118.3h1.3v1.3h-1.3zM155.6 1012.1h1.3v1.3h-1.3zM213.6 1116.5h1.3v1.3h-1.3zM220.0 1117.1h1.3v1.3h-1.3zM240.4 1124.9h1.3v1.3h-1.3zM221.4 1120.4h1.3v1.3h-1.3zM251.8 1098.2h1.3v1.3h-1.3zM284.8 1108.0h1.3v1.3h-1.3zM214.5 1116.6h1.3v1.3h-1.3zM217.0 1111.4h1.3v1.3h-1.3zM219.5 1107.6h1.3v1.3h-1.3zM205.1 1117.8h1.3v1.3h-1.3zM219.6 1102.3h1.3v1.3h-1.3zM267.9 1122.6h1.3v1.3h-1.3zM162.5 1062.8h1.3v1.3h-1.3zM159.9 1109.0h1.3v1.3h-1.3zM169.5 1034.2h1.3v1.3h-1.3zM195.2 1115.9h1.3v1.3h-1.3zM216.3 1103.8h1.3v1.3h-1.3zM265.5 1125.0h1.3v1.3h-1.3zM198.2 1119.0h1.3v1.3h-1.3zM257.1 1101.7h1.3v1.3h-1.3zM170.1 1039.8h1.3v1.3h-1.3zM165.6 1020.5h1.3v1.3h-1.3zM203.3 1109.5h1.3v1.3h-1.3zM165.3 1009.4h1.3v1.3h-1.3zM167.4 1044.7h1.3v1.3h-1.3zM284.6 1115.1h1.3v1.3h-1.3zM165.7 1072.9h1.3v1.3h-1.3zM173.1 1078.2h1.3v1.3h-1.3zM283.0 1104.3h1.3v1.3h-1.3zM168.0 1023.4h1.3v1.3h-1.3zM198.6 1106.8h1.3v1.3h-1.3zM166.9 1052.4h1.3v1.3h-1.3zM170.2 995.1h1.3v1.3h-1.3zM165.2 1006.9h1.3v1.3h-1.3zM258.1 1104.5h1.3v1.3h-1.3zM272.6 1104.9h1.3v1.3h-1.3zM228.7 1103.1h1.3v1.3h-1.3zM165.4 1106.2h1.3v1.3h-1.3zM167.1 1056.7h1.3v1.3h-1.3zM158.9 1028.6h1.3v1.3h-1.3zM196.9 1108.0h1.3v1.3h-1.3zM175.1 1023.6h1.3v1.3h-1.3zM169.0 1025.5h1.3v1.3h-1.3zM225.4 1122.5h1.3v1.3h-1.3zM162.6 1000.5h1.3v1.3h-1.3zM171.8 1073.0h1.3v1.3h-1.3zM166.0 1058.2h1.3v1.3h-1.3zM198.3 1106.9h1.3v1.3h-1.3zM278.8 1105.5h1.3v1.3h-1.3zM281.4 1119.2h1.3v1.3h-1.3zM234.1 1098.4h1.3v1.3h-1.3zM165.2 1030.3h1.3v1.3h-1.3zM163.4 1059.1h1.3v1.3h-1.3zM215.7 1110.2h1.3v1.3h-1.3zM163.6 1058.9h1.3v1.3h-1.3zM264.8 1124.7h1.3v1.3h-1.3zM165.9 1055.2h1.3v1.3h-1.3zM218.3 1114.8h1.3v1.3h-1.3zM166.1 1075.0h1.3v1.3h-1.3zM162.8 1001.6h1.3v1.3h-1.3zM168.9 1041.4h1.3v1.3h-1.3zM170.7 1006.1h1.3v1.3h-1.3zM212.9 1115.1h1.3v1.3h-1.3zM275.6 1123.3h1.3v1.3h-1.3zM163.0 1023.8h1.3v1.3h-1.3zM163.3 1070.9h1.3v1.3h-1.3zM206.6 1110.3h1.3v1.3h-1.3zM166.6 1020.0h1.3v1.3h-1.3zM162.5 1070.1h1.3v1.3h-1.3zM228.9 1104.0h1.3v1.3h-1.3zM169.7 1005.7h1.3v1.3h-1.3zM163.7 1021.5h1.3v1.3h-1.3zM160.8 1111.7h1.3v1.3h-1.3zM172.0 1033.2h1.3v1.3h-1.3zM168.5 1045.3h1.3v1.3h-1.3zM169.4 1013.7h1.3v1.3h-1.3zM287.7 1111.5h1.3v1.3h-1.3zM171.7 1020.0h1.3v1.3h-1.3zM164.8 1019.5h1.3v1.3h-1.3zM165.8 1110.0h1.3v1.3h-1.3zM168.0 1073.9h1.3v1.3h-1.3zM166.6 1073.3h1.3v1.3h-1.3zM209.8 1112.3h1.3v1.3h-1.3zM164.6 1050.4h1.3v1.3h-1.3zM173.6 1021.5h1.3v1.3h-1.3zM161.5 1052.4h1.3v1.3h-1.3zM163.5 1100.2h1.3v1.3h-1.3zM166.7 1071.7h1.3v1.3h-1.3zM240.5 1126.9h1.3v1.3h-1.3zM219.3 1120.8h1.3v1.3h-1.3zM195.7 1121.8h1.3v1.3h-1.3zM237.4 1101.0h1.3v1.3h-1.3zM162.1 1026.2h1.3v1.3h-1.3zM165.0 1011.0h1.3v1.3h-1.3zM234.2 1123.0h1.3v1.3h-1.3zM272.4 1116.6h1.3v1.3h-1.3zM281.4 1110.6h1.3v1.3h-1.3zM166.2 1054.3h1.3v1.3h-1.3zM161.1 999.4h1.3v1.3h-1.3zM219.4 1107.4h1.3v1.3h-1.3zM208.2 1117.0h1.3v1.3h-1.3zM170.8 1001.7h1.3v1.3h-1.3zM161.2 1065.5h1.3v1.3h-1.3zM166.3 1048.8h1.3v1.3h-1.3zM169.6 1002.8h1.3v1.3h-1.3zM171.4 1055.1h1.3v1.3h-1.3zM165.7 1111.0h1.3v1.3h-1.3zM172.5 1072.1h1.3v1.3h-1.3zM231.9 1125.7h1.3v1.3h-1.3zM161.3 1102.6h1.3v1.3h-1.3zM206.5 1113.7h1.3v1.3h-1.3zM165.0 1025.4h1.3v1.3h-1.3zM215.7 1119.8h1.3v1.3h-1.3zM167.8 1000.1h1.3v1.3h-1.3zM163.7 1101.0h1.3v1.3h-1.3zM215.2 1109.0h1.3v1.3h-1.3zM217.6 1118.3h1.3v1.3h-1.3zM216.1 1105.8h1.3v1.3h-1.3zM168.1 1055.2h1.3v1.3h-1.3zM209.6 1118.7h1.3v1.3h-1.3zM168.8 1008.0h1.3v1.3h-1.3zM163.5 1042.9h1.3v1.3h-1.3zM165.2 1081.1h1.3v1.3h-1.3zM220.9 1106.7h1.3v1.3h-1.3zM166.9 1108.6h1.3v1.3h-1.3zM164.7 1072.9h1.3v1.3h-1.3zM159.1 1031.6h1.3v1.3h-1.3zM235.5 1124.3h1.3v1.3h-1.3zM168.9 1039.1h1.3v1.3h-1.3zM165.5 1023.5h1.3v1.3h-1.3zM165.8 1108.1h1.3v1.3h-1.3zM269.4 1124.4h1.3v1.3h-1.3zM266.2 1124.6h1.3v1.3h-1.3zM167.3 1013.9h1.3v1.3h-1.3zM159.2 1028.2h1.3v1.3h-1.3zM190.8 1106.2h1.3v1.3h-1.3zM261.5 1102.6h1.3v1.3h-1.3zM276.7 1117.2h1.3v1.3h-1.3zM171.8 1033.2h1.3v1.3h-1.3zM168.9 998.3h1.3v1.3h-1.3zM172.1 999.4h1.3v1.3h-1.3zM212.7 1112.8h1.3v1.3h-1.3zM233.1 1102.7h1.3v1.3h-1.3zM212.8 1116.6h1.3v1.3h-1.3zM166.2 1046.4h1.3v1.3h-1.3zM285.6 1114.2h1.3v1.3h-1.3zM256.9 1126.1h1.3v1.3h-1.3zM165.1 1013.8h1.3v1.3h-1.3zM282.7 1117.5h1.3v1.3h-1.3zM216.6 1110.8h1.3v1.3h-1.3zM225.7 1103.7h1.3v1.3h-1.3zM213.8 1113.0h1.3v1.3h-1.3zM168.3 1017.7h1.3v1.3h-1.3zM161.1 1055.5h1.3v1.3h-1.3zM237.2 1101.9h1.3v1.3h-1.3zM210.2 1113.6h1.3v1.3h-1.3zM235.3 1104.1h1.3v1.3h-1.3zM170.2 1050.1h1.3v1.3h-1.3zM165.8 1114.2h1.3v1.3h-1.3zM165.7 1105.2h1.3v1.3h-1.3zM160.3 1001.9h1.3v1.3h-1.3zM205.4 1119.0h1.3v1.3h-1.3zM282.9 1112.4h1.3v1.3h-1.3zM165.3 1103.9h1.3v1.3h-1.3zM248.0 1127.6h1.3v1.3h-1.3zM168.6 999.7h1.3v1.3h-1.3zM255.9 1103.3h1.3v1.3h-1.3zM274.4 1120.9h1.3v1.3h-1.3zM242.2 1103.7h1.3v1.3h-1.3zM215.8 1105.2h1.3v1.3h-1.3zM170.2 1001.7h1.3v1.3h-1.3zM169.4 1060.9h1.3v1.3h-1.3zM159.3 1038.2h1.3v1.3h-1.3zM168.5 1008.6h1.3v1.3h-1.3zM217.0 1108.6h1.3v1.3h-1.3zM256.9 1101.2h1.3v1.3h-1.3zM164.8 1058.0h1.3v1.3h-1.3zM169.9 1059.4h1.3v1.3h-1.3zM166.3 1062.8h1.3v1.3h-1.3zM164.0 1029.9h1.3v1.3h-1.3zM163.5 1028.7h1.3v1.3h-1.3zM166.7 1082.4h1.3v1.3h-1.3zM164.1 1055.1h1.3v1.3h-1.3zM167.6 1043.0h1.3v1.3h-1.3zM195.8 1117.0h1.3v1.3h-1.3zM256.8 1100.3h1.3v1.3h-1.3zM255.4 1102.6h1.3v1.3h-1.3zM230.0 1125.4h1.3v1.3h-1.3zM167.6 1037.3h1.3v1.3h-1.3zM243.4 1124.1h1.3v1.3h-1.3zM171.3 1007.0h1.3v1.3h-1.3zM216.6 1109.4h1.3v1.3h-1.3zM165.1 1016.2h1.3v1.3h-1.3zM227.3 1106.0h1.3v1.3h-1.3zM247.5 1101.6h1.3v1.3h-1.3zM165.2 1005.8h1.3v1.3h-1.3zM258.0 1100.8h1.3v1.3h-1.3zM285.3 1115.3h1.3v1.3h-1.3zM233.7 1101.4h1.3v1.3h-1.3zM167.5 1003.9h1.3v1.3h-1.3zM169.7 1014.9h1.3v1.3h-1.3zM243.6 1103.3h1.3v1.3h-1.3zM170.6 1049.2h1.3v1.3h-1.3zM158.4 1062.8h1.3v1.3h-1.3zM163.0 1060.1h1.3v1.3h-1.3zM163.2 1066.7h1.3v1.3h-1.3zM282.5 1121.1h1.3v1.3h-1.3zM162.8 1029.0h1.3v1.3h-1.3zM168.2 1073.8h1.3v1.3h-1.3zM165.8 1044.2h1.3v1.3h-1.3zM212.0 1119.2h1.3v1.3h-1.3zM164.1 1079.8h1.3v1.3h-1.3zM162.3 1064.3h1.3v1.3h-1.3zM246.9 1126.1h1.3v1.3h-1.3zM160.5 1102.2h1.3v1.3h-1.3zM216.8 1107.4h1.3v1.3h-1.3zM161.5 1001.2h1.3v1.3h-1.3zM167.5 1029.0h1.3v1.3h-1.3zM171.3 1002.6h1.3v1.3h-1.3zM265.3 1103.0h1.3v1.3h-1.3zM169.6 1014.9h1.3v1.3h-1.3zM268.4 1124.5h1.3v1.3h-1.3zM162.7 1001.1h1.3v1.3h-1.3zM167.3 1108.8h1.3v1.3h-1.3zM167.4 1030.7h1.3v1.3h-1.3zM165.1 1063.0h1.3v1.3h-1.3zM170.7 1015.0h1.3v1.3h-1.3zM163.2 1105.5h1.3v1.3h-1.3zM157.1 1062.0h1.3v1.3h-1.3zM254.7 1125.4h1.3v1.3h-1.3zM168.8 1011.2h1.3v1.3h-1.3zM163.9 1070.1h1.3v1.3h-1.3zM172.0 1032.3h1.3v1.3h-1.3zM249.8 1126.6h1.3v1.3h-1.3zM218.9 1118.5h1.3v1.3h-1.3zM172.2 1074.1h1.3v1.3h-1.3zM216.8 1108.1h1.3v1.3h-1.3zM218.3 1121.7h1.3v1.3h-1.3zM167.9 1053.9h1.3v1.3h-1.3zM165.1 1057.8h1.3v1.3h-1.3zM210.5 1110.7h1.3v1.3h-1.3zM166.8 1009.7h1.3v1.3h-1.3zM167.8 1047.2h1.3v1.3h-1.3zM167.5 1059.8h1.3v1.3h-1.3zM169.2 1048.1h1.3v1.3h-1.3zM238.0 1124.3h1.3v1.3h-1.3zM268.5 1105.2h1.3v1.3h-1.3zM242.6 1101.7h1.3v1.3h-1.3zM160.1 1059.1h1.3v1.3h-1.3zM160.5 1017.7h1.3v1.3h-1.3zM168.5 1000.6h1.3v1.3h-1.3zM164.8 1103.4h1.3v1.3h-1.3zM168.5 1026.1h1.3v1.3h-1.3zM191.6 1108.5h1.3v1.3h-1.3zM284.0 1107.4h1.3v1.3h-1.3zM208.8 1108.6h1.3v1.3h-1.3zM168.8 1073.0h1.3v1.3h-1.3zM233.8 1105.4h1.3v1.3h-1.3zM168.9 1006.3h1.3v1.3h-1.3zM212.8 1119.9h1.3v1.3h-1.3zM212.1 1113.4h1.3v1.3h-1.3zM258.1 1127.3h1.3v1.3h-1.3zM163.9 1013.2h1.3v1.3h-1.3zM212.0 1112.8h1.3v1.3h-1.3zM164.3 1081.9h1.3v1.3h-1.3zM225.5 1123.2h1.3v1.3h-1.3zM161.8 1027.0h1.3v1.3h-1.3zM164.6 1021.2h1.3v1.3h-1.3zM209.4 1118.6h1.3v1.3h-1.3zM165.8 1042.4h1.3v1.3h-1.3zM242.2 1124.7h1.3v1.3h-1.3zM164.8 1032.5h1.3v1.3h-1.3zM166.5 1081.9h1.3v1.3h-1.3zM272.1 1123.5h1.3v1.3h-1.3zM238.7 1127.8h1.3v1.3h-1.3zM241.6 1124.0h1.3v1.3h-1.3zM236.7 1100.7h1.3v1.3h-1.3zM284.2 1111.4h1.3v1.3h-1.3zM166.4 1080.4h1.3v1.3h-1.3zM191.0 1109.1h1.3v1.3h-1.3zM202.4 1114.8h1.3v1.3h-1.3zM172.1 1022.2h1.3v1.3h-1.3zM217.0 1120.9h1.3v1.3h-1.3zM215.0 1114.0h1.3v1.3h-1.3zM168.1 1000.7h1.3v1.3h-1.3zM169.2 1031.1h1.3v1.3h-1.3zM220.6 1117.0h1.3v1.3h-1.3zM170.6 1073.4h1.3v1.3h-1.3zM277.8 1119.7h1.3v1.3h-1.3zM167.3 1032.9h1.3v1.3h-1.3zM208.1 1112.0h1.3v1.3h-1.3zM163.3 1035.7h1.3v1.3h-1.3zM168.6 1080.4h1.3v1.3h-1.3zM262.6 1127.8h1.3v1.3h-1.3zM238.7 1101.3h1.3v1.3h-1.3zM204.2 1105.3h1.3v1.3h-1.3zM258.6 1101.5h1.3v1.3h-1.3zM168.2 1025.3h1.3v1.3h-1.3zM281.0 1117.6h1.3v1.3h-1.3zM169.1 1026.0h1.3v1.3h-1.3zM171.1 1065.0h1.3v1.3h-1.3zM165.8 1051.6h1.3v1.3h-1.3zM238.9 1106.5h1.3v1.3h-1.3zM164.9 1075.9h1.3v1.3h-1.3zM261.8 1124.7h1.3v1.3h-1.3zM195.6 1114.2h1.3v1.3h-1.3zM171.5 1010.6h1.3v1.3h-1.3zM171.1 1008.8h1.3v1.3h-1.3zM197.0 1107.6h1.3v1.3h-1.3zM164.0 1069.8h1.3v1.3h-1.3zM164.7 1039.7h1.3v1.3h-1.3zM233.8 1104.9h1.3v1.3h-1.3zM166.0 1107.3h1.3v1.3h-1.3zM165.0 1062.7h1.3v1.3h-1.3zM168.0 1046.6h1.3v1.3h-1.3zM164.0 1012.3h1.3v1.3h-1.3zM166.7 996.8h1.3v1.3h-1.3zM163.2 1082.4h1.3v1.3h-1.3zM196.2 1118.4h1.3v1.3h-1.3zM208.1 1111.1h1.3v1.3h-1.3zM167.0 1002.4h1.3v1.3h-1.3zM169.5 1073.8h1.3v1.3h-1.3zM279.6 1114.7h1.3v1.3h-1.3zM246.4 1124.1h1.3v1.3h-1.3zM254.3 1102.3h1.3v1.3h-1.3zM170.8 1003.4h1.3v1.3h-1.3zM223.7 1121.8h1.3v1.3h-1.3zM250.7 1124.4h1.3v1.3h-1.3zM174.6 1020.8h1.3v1.3h-1.3zM162.5 1100.1h1.3v1.3h-1.3zM169.1 1034.8h1.3v1.3h-1.3zM162.4 1056.5h1.3v1.3h-1.3zM206.1 1119.4h1.3v1.3h-1.3zM164.7 1042.1h1.3v1.3h-1.3zM169.2 1020.4h1.3v1.3h-1.3zM231.1 1103.7h1.3v1.3h-1.3zM167.7 1032.0h1.3v1.3h-1.3zM163.4 999.7h1.3v1.3h-1.3zM281.8 1114.6h1.3v1.3h-1.3zM246.5 1124.6h1.3v1.3h-1.3zM191.7 1107.0h1.3v1.3h-1.3zM205.5 1115.8h1.3v1.3h-1.3zM233.3 1102.1h1.3v1.3h-1.3zM167.4 1034.6h1.3v1.3h-1.3zM172.4 1016.6h1.3v1.3h-1.3zM216.6 1115.7h1.3v1.3h-1.3zM170.1 1072.2h1.3v1.3h-1.3zM207.7 1112.7h1.3v1.3h-1.3zM285.6 1108.3h1.3v1.3h-1.3zM219.9 1121.3h1.3v1.3h-1.3zM249.0 1101.0h1.3v1.3h-1.3zM168.3 1044.8h1.3v1.3h-1.3zM169.4 1081.3h1.3v1.3h-1.3zM165.3 1000.4h1.3v1.3h-1.3zM237.0 1121.2h1.3v1.3h-1.3zM198.8 1106.8h1.3v1.3h-1.3zM168.3 1043.3h1.3v1.3h-1.3zM166.6 1033.2h1.3v1.3h-1.3zM167.1 1027.5h1.3v1.3h-1.3zM165.2 1104.1h1.3v1.3h-1.3zM220.8 1105.1h1.3v1.3h-1.3zM166.6 1030.1h1.3v1.3h-1.3zM169.8 1066.6h1.3v1.3h-1.3zM161.4 1055.8h1.3v1.3h-1.3zM163.6 1030.1h1.3v1.3h-1.3zM244.7 1102.1h1.3v1.3h-1.3zM166.7 1016.0h1.3v1.3h-1.3zM164.0 1110.6h1.3v1.3h-1.3zM164.4 1043.7h1.3v1.3h-1.3zM169.8 1080.8h1.3v1.3h-1.3zM165.6 1031.3h1.3v1.3h-1.3zM167.7 1020.1h1.3v1.3h-1.3zM165.5 1060.7h1.3v1.3h-1.3zM236.9 1127.0h1.3v1.3h-1.3zM197.0 1106.7h1.3v1.3h-1.3zM270.5 1123.9h1.3v1.3h-1.3zM192.6 1107.5h1.3v1.3h-1.3zM261.8 1100.5h1.3v1.3h-1.3zM270.9 1107.7h1.3v1.3h-1.3zM214.2 1115.7h1.3v1.3h-1.3zM162.5 1040.0h1.3v1.3h-1.3zM274.9 1106.2h1.3v1.3h-1.3zM263.3 1126.0h1.3v1.3h-1.3zM215.6 1115.4h1.3v1.3h-1.3zM163.6 1105.3h1.3v1.3h-1.3zM278.7 1107.6h1.3v1.3h-1.3zM161.1 1103.8h1.3v1.3h-1.3zM164.5 1111.7h1.3v1.3h-1.3zM221.7 1103.5h1.3v1.3h-1.3zM217.2 1110.7h1.3v1.3h-1.3zM165.7 1029.9h1.3v1.3h-1.3zM166.5 1015.9h1.3v1.3h-1.3zM171.2 1024.4h1.3v1.3h-1.3zM167.2 1106.4h1.3v1.3h-1.3zM210.3 1114.5h1.3v1.3h-1.3zM165.7 1013.4h1.3v1.3h-1.3zM240.2 1123.7h1.3v1.3h-1.3zM223.7 1107.4h1.3v1.3h-1.3zM164.7 1038.7h1.3v1.3h-1.3zM257.0 1127.7h1.3v1.3h-1.3zM169.8 1060.0h1.3v1.3h-1.3zM163.1 1034.1h1.3v1.3h-1.3zM171.9 1070.3h1.3v1.3h-1.3zM161.5 1057.7h1.3v1.3h-1.3zM208.5 1111.8h1.3v1.3h-1.3zM173.9 1066.4h1.3v1.3h-1.3zM219.8 1119.2h1.3v1.3h-1.3zM221.2 1103.2h1.3v1.3h-1.3zM211.3 1112.6h1.3v1.3h-1.3zM167.9 1024.0h1.3v1.3h-1.3zM285.0 1112.7h1.3v1.3h-1.3zM166.3 1073.9h1.3v1.3h-1.3zM163.4 1105.7h1.3v1.3h-1.3zM278.0 1106.5h1.3v1.3h-1.3zM237.5 1115.2h1.3v1.3h-1.3zM171.5 1003.8h1.3v1.3h-1.3zM217.3 1113.4h1.3v1.3h-1.3zM258.0 1127.4h1.3v1.3h-1.3zM172.1 1028.6h1.3v1.3h-1.3zM161.3 1031.9h1.3v1.3h-1.3zM169.7 1003.3h1.3v1.3h-1.3zM170.6 1007.8h1.3v1.3h-1.3zM166.0 1041.2h1.3v1.3h-1.3zM226.7 1123.2h1.3v1.3h-1.3zM160.5 1015.3h1.3v1.3h-1.3zM223.2 1121.0h1.3v1.3h-1.3zM256.9 1101.3h1.3v1.3h-1.3zM254.2 1103.3h1.3v1.3h-1.3zM162.1 1066.6h1.3v1.3h-1.3zM165.4 1013.9h1.3v1.3h-1.3zM275.7 1107.1h1.3v1.3h-1.3zM174.0 1071.7h1.3v1.3h-1.3zM280.5 1109.2h1.3v1.3h-1.3zM169.6 1065.8h1.3v1.3h-1.3zM204.7 1117.2h1.3v1.3h-1.3zM170.4 1010.9h1.3v1.3h-1.3zM280.2 1114.6h1.3v1.3h-1.3zM234.7 1125.4h1.3v1.3h-1.3zM167.4 1062.1h1.3v1.3h-1.3zM161.7 1066.1h1.3v1.3h-1.3zM168.2 1052.1h1.3v1.3h-1.3zM215.3 1116.5h1.3v1.3h-1.3zM166.2 1031.7h1.3v1.3h-1.3zM169.6 1066.9h1.3v1.3h-1.3zM165.8 1014.7h1.3v1.3h-1.3zM202.2 1115.1h1.3v1.3h-1.3zM268.1 1105.5h1.3v1.3h-1.3zM165.1 1003.6h1.3v1.3h-1.3zM160.4 1059.0h1.3v1.3h-1.3zM163.2 1010.1h1.3v1.3h-1.3zM217.9 1115.1h1.3v1.3h-1.3zM170.1 1039.0h1.3v1.3h-1.3zM169.1 1054.5h1.3v1.3h-1.3zM166.4 1028.6h1.3v1.3h-1.3zM247.8 1102.0h1.3v1.3h-1.3zM258.6 1125.7h1.3v1.3h-1.3zM235.0 1127.3h1.3v1.3h-1.3zM205.5 1112.4h1.3v1.3h-1.3zM240.9 1101.7h1.3v1.3h-1.3zM170.1 996.2h1.3v1.3h-1.3zM273.7 1121.4h1.3v1.3h-1.3zM166.4 1072.2h1.3v1.3h-1.3zM163.4 1040.5h1.3v1.3h-1.3zM261.2 1101.5h1.3v1.3h-1.3zM167.5 1038.5h1.3v1.3h-1.3zM254.3 1126.6h1.3v1.3h-1.3zM168.2 1068.7h1.3v1.3h-1.3zM234.4 1125.1h1.3v1.3h-1.3zM267.3 1115.0h1.3v1.3h-1.3zM192.0 1107.8h1.3v1.3h-1.3zM224.9 1104.6h1.3v1.3h-1.3zM165.3 1035.1h1.3v1.3h-1.3zM279.1 1108.8h1.3v1.3h-1.3zM167.2 1005.5h1.3v1.3h-1.3zM223.7 1109.6h1.3v1.3h-1.3zM163.6 1038.2h1.3v1.3h-1.3zM170.4 1012.4h1.3v1.3h-1.3zM280.8 1115.8h1.3v1.3h-1.3zM279.9 1113.3h1.3v1.3h-1.3zM216.8 1110.3h1.3v1.3h-1.3zM169.7 1066.3h1.3v1.3h-1.3zM161.9 1056.8h1.3v1.3h-1.3zM166.7 1109.1h1.3v1.3h-1.3zM278.9 1110.9h1.3v1.3h-1.3zM211.4 1119.6h1.3v1.3h-1.3zM164.0 1014.5h1.3v1.3h-1.3zM247.3 1124.1h1.3v1.3h-1.3zM225.7 1107.6h1.3v1.3h-1.3zM228.4 1119.6h1.3v1.3h-1.3zM231.8 1104.5h1.3v1.3h-1.3zM163.4 1042.1h1.3v1.3h-1.3zM247.0 1124.3h1.3v1.3h-1.3zM221.9 1106.0h1.3v1.3h-1.3zM169.9 999.3h1.3v1.3h-1.3zM169.8 1066.9h1.3v1.3h-1.3zM165.3 1056.3h1.3v1.3h-1.3zM204.5 1112.9h1.3v1.3h-1.3zM168.6 1005.9h1.3v1.3h-1.3zM163.7 1102.6h1.3v1.3h-1.3zM165.2 1055.6h1.3v1.3h-1.3zM163.2 1102.7h1.3v1.3h-1.3zM162.7 1033.2h1.3v1.3h-1.3zM205.1 1115.6h1.3v1.3h-1.3zM168.8 1052.2h1.3v1.3h-1.3zM254.6 1101.2h1.3v1.3h-1.3zM163.3 1028.9h1.3v1.3h-1.3zM168.2 1015.1h1.3v1.3h-1.3zM165.2 1046.6h1.3v1.3h-1.3zM164.6 997.9h1.3v1.3h-1.3zM236.2 1124.3h1.3v1.3h-1.3zM243.9 1105.0h1.3v1.3h-1.3zM165.9 1038.7h1.3v1.3h-1.3zM267.6 1104.5h1.3v1.3h-1.3zM166.3 1107.9h1.3v1.3h-1.3zM274.1 1121.2h1.3v1.3h-1.3zM271.1 1117.3h1.3v1.3h-1.3zM224.1 1121.0h1.3v1.3h-1.3zM270.0 1120.9h1.3v1.3h-1.3zM162.8 1103.9h1.3v1.3h-1.3zM231.8 1104.8h1.3v1.3h-1.3zM168.7 1062.8h1.3v1.3h-1.3zM215.1 1115.0h1.3v1.3h-1.3zM163.5 1041.8h1.3v1.3h-1.3zM163.7 1014.5h1.3v1.3h-1.3zM169.0 1024.3h1.3v1.3h-1.3zM170.4 1024.7h1.3v1.3h-1.3zM166.3 1023.0h1.3v1.3h-1.3zM215.3 1111.1h1.3v1.3h-1.3zM238.9 1101.0h1.3v1.3h-1.3zM171.6 1069.9h1.3v1.3h-1.3zM257.1 1126.0h1.3v1.3h-1.3zM167.5 1069.8h1.3v1.3h-1.3zM271.0 1117.4h1.3v1.3h-1.3zM165.8 1027.7h1.3v1.3h-1.3zM223.8 1104.0h1.3v1.3h-1.3zM195.8 1106.5h1.3v1.3h-1.3zM242.5 1122.1h1.3v1.3h-1.3zM165.9 1041.3h1.3v1.3h-1.3zM219.4 1117.4h1.3v1.3h-1.3zM222.9 1117.3h1.3v1.3h-1.3zM203.9 1112.8h1.3v1.3h-1.3zM166.5 1019.0h1.3v1.3h-1.3zM238.5 1102.7h1.3v1.3h-1.3zM237.3 1104.3h1.3v1.3h-1.3zM169.9 1008.2h1.3v1.3h-1.3zM168.6 1052.9h1.3v1.3h-1.3zM216.2 1108.3h1.3v1.3h-1.3zM212.7 1118.1h1.3v1.3h-1.3zM170.1 1067.4h1.3v1.3h-1.3zM255.9 1100.5h1.3v1.3h-1.3zM233.2 1125.1h1.3v1.3h-1.3zM280.1 1114.0h1.3v1.3h-1.3zM169.7 1070.4h1.3v1.3h-1.3zM237.2 1121.0h1.3v1.3h-1.3zM162.6 1106.7h1.3v1.3h-1.3zM165.2 1113.3h1.3v1.3h-1.3zM240.5 1103.7h1.3v1.3h-1.3zM210.3 1113.0h1.3v1.3h-1.3zM166.3 1108.5h1.3v1.3h-1.3zM167.0 1102.2h1.3v1.3h-1.3zM162.5 1102.3h1.3v1.3h-1.3zM262.5 1103.0h1.3v1.3h-1.3zM282.0 1113.8h1.3v1.3h-1.3zM165.4 1024.1h1.3v1.3h-1.3zM277.8 1116.3h1.3v1.3h-1.3zM167.8 1007.1h1.3v1.3h-1.3zM171.1 1064.8h1.3v1.3h-1.3zM228.3 1124.3h1.3v1.3h-1.3zM260.6 1112.2h1.3v1.3h-1.3zM169.2 1081.2h1.3v1.3h-1.3zM168.0 1068.0h1.3v1.3h-1.3zM265.8 1124.3h1.3v1.3h-1.3zM283.7 1119.4h1.3v1.3h-1.3zM231.5 1122.4h1.3v1.3h-1.3zM226.1 1121.3h1.3v1.3h-1.3zM165.0 1036.3h1.3v1.3h-1.3zM166.0 1034.8h1.3v1.3h-1.3zM219.8 1106.6h1.3v1.3h-1.3zM261.0 1103.6h1.3v1.3h-1.3zM230.1 1120.1h1.3v1.3h-1.3zM224.2 1120.2h1.3v1.3h-1.3zM202.4 1110.5h1.3v1.3h-1.3zM272.2 1107.1h1.3v1.3h-1.3zM169.5 1018.4h1.3v1.3h-1.3zM162.9 1014.7h1.3v1.3h-1.3zM166.4 1042.5h1.3v1.3h-1.3zM169.1 1001.8h1.3v1.3h-1.3zM223.4 1112.5h1.3v1.3h-1.3zM168.3 1071.1h1.3v1.3h-1.3zM170.1 1063.3h1.3v1.3h-1.3zM257.8 1101.3h1.3v1.3h-1.3zM235.1 1123.4h1.3v1.3h-1.3zM168.6 1000.9h1.3v1.3h-1.3zM269.8 1122.6h1.3v1.3h-1.3zM168.0 1034.4h1.3v1.3h-1.3zM163.1 1029.4h1.3v1.3h-1.3zM236.4 1105.2h1.3v1.3h-1.3zM165.3 1044.5h1.3v1.3h-1.3zM163.3 1023.8h1.3v1.3h-1.3zM277.0 1109.0h1.3v1.3h-1.3zM238.3 1100.6h1.3v1.3h-1.3zM275.1 1107.2h1.3v1.3h-1.3zM172.2 1073.3h1.3v1.3h-1.3zM166.1 1045.2h1.3v1.3h-1.3zM276.9 1117.3h1.3v1.3h-1.3zM170.3 996.8h1.3v1.3h-1.3zM169.6 1068.1h1.3v1.3h-1.3zM264.1 1103.6h1.3v1.3h-1.3zM224.1 1113.1h1.3v1.3h-1.3zM233.5 1124.0h1.3v1.3h-1.3zM163.0 1043.7h1.3v1.3h-1.3zM162.5 1072.8h1.3v1.3h-1.3zM259.1 1125.6h1.3v1.3h-1.3zM242.5 1103.6h1.3v1.3h-1.3zM275.9 1121.1h1.3v1.3h-1.3zM165.3 1067.2h1.3v1.3h-1.3zM221.8 1110.2h1.3v1.3h-1.3zM274.6 1107.6h1.3v1.3h-1.3zM164.9 1069.6h1.3v1.3h-1.3zM170.6 1067.0h1.3v1.3h-1.3zM243.0 1124.7h1.3v1.3h-1.3zM229.6 1120.8h1.3v1.3h-1.3zM242.6 1123.4h1.3v1.3h-1.3zM279.3 1111.0h1.3v1.3h-1.3zM232.8 1105.1h1.3v1.3h-1.3zM258.3 1103.6h1.3v1.3h-1.3zM272.7 1107.0h1.3v1.3h-1.3zM170.4 1033.9h1.3v1.3h-1.3zM220.0 1114.8h1.3v1.3h-1.3zM170.4 1073.9h1.3v1.3h-1.3zM208.0 1112.9h1.3v1.3h-1.3zM165.2 1030.8h1.3v1.3h-1.3zM166.2 1064.1h1.3v1.3h-1.3zM235.7 1105.6h1.3v1.3h-1.3zM234.8 1103.8h1.3v1.3h-1.3zM164.4 1110.0h1.3v1.3h-1.3zM168.2 1016.5h1.3v1.3h-1.3zM274.6 1106.4h1.3v1.3h-1.3zM249.0 1102.5h1.3v1.3h-1.3zM269.4 1106.4h1.3v1.3h-1.3zM166.2 1056.7h1.3v1.3h-1.3zM271.1 1120.5h1.3v1.3h-1.3zM164.1 1042.4h1.3v1.3h-1.3zM171.5 997.4h1.3v1.3h-1.3zM276.3 1121.1h1.3v1.3h-1.3zM165.0 1106.3h1.3v1.3h-1.3zM170.4 1012.3h1.3v1.3h-1.3zM236.7 1102.9h1.3v1.3h-1.3zM164.8 1054.0h1.3v1.3h-1.3zM273.3 1105.1h1.3v1.3h-1.3zM167.8 1066.9h1.3v1.3h-1.3zM163.9 1013.1h1.3v1.3h-1.3zM251.1 1103.6h1.3v1.3h-1.3zM165.5 1072.5h1.3v1.3h-1.3zM164.6 1109.6h1.3v1.3h-1.3zM240.2 1103.8h1.3v1.3h-1.3zM269.0 1106.8h1.3v1.3h-1.3zM223.2 1108.1h1.3v1.3h-1.3zM230.2 1122.7h1.3v1.3h-1.3zM260.5 1107.9h1.3v1.3h-1.3zM257.9 1105.3h1.3v1.3h-1.3zM220.1 1106.3h1.3v1.3h-1.3zM272.7 1111.0h1.3v1.3h-1.3zM248.6 1123.3h1.3v1.3h-1.3zM260.9 1103.9h1.3v1.3h-1.3zM258.5 1108.9h1.3v1.3h-1.3zM275.8 1111.0h1.3v1.3h-1.3zM231.4 1118.7h1.3v1.3h-1.3zM264.0 1124.6h1.3v1.3h-1.3zM163.2 1037.5h1.3v1.3h-1.3zM252.6 1103.0h1.3v1.3h-1.3zM281.0 1104.6h1.3v1.3h-1.3zM224.0 1105.2h1.3v1.3h-1.3zM166.3 1106.9h1.3v1.3h-1.3zM272.9 1116.9h1.3v1.3h-1.3zM266.0 1124.1h1.3v1.3h-1.3zM277.5 1118.7h1.3v1.3h-1.3zM219.9 1110.0h1.3v1.3h-1.3zM228.5 1113.4h1.3v1.3h-1.3zM225.2 1118.1h1.3v1.3h-1.3zM166.4 1106.0h1.3v1.3h-1.3zM224.5 1104.3h1.3v1.3h-1.3zM260.2 1103.4h1.3v1.3h-1.3zM278.8 1118.3h1.3v1.3h-1.3zM233.1 1113.4h1.3v1.3h-1.3zM257.2 1103.4h1.3v1.3h-1.3zM165.5 1041.5h1.3v1.3h-1.3zM171.5 1066.8h1.3v1.3h-1.3zM224.5 1110.0h1.3v1.3h-1.3zM232.1 1125.3h1.3v1.3h-1.3zM279.3 1116.1h1.3v1.3h-1.3zM282.3 1116.8h1.3v1.3h-1.3zM164.8 1038.6h1.3v1.3h-1.3zM266.3 1104.2h1.3v1.3h-1.3zM276.4 1109.9h1.3v1.3h-1.3zM169.4 1066.1h1.3v1.3h-1.3zM238.8 1124.3h1.3v1.3h-1.3zM170.6 1062.4h1.3v1.3h-1.3zM168.3 1025.8h1.3v1.3h-1.3zM217.2 1109.4h1.3v1.3h-1.3zM277.8 1106.4h1.3v1.3h-1.3zM167.1 1023.0h1.3v1.3h-1.3zM221.1 1107.7h1.3v1.3h-1.3zM257.8 1109.3h1.3v1.3h-1.3zM259.6 1122.8h1.3v1.3h-1.3zM161.6 1013.1h1.3v1.3h-1.3zM219.2 1111.9h1.3v1.3h-1.3zM230.9 1121.2h1.3v1.3h-1.3zM279.9 1112.0h1.3v1.3h-1.3zM257.8 1124.2h1.3v1.3h-1.3zM167.5 1036.2h1.3v1.3h-1.3z" fill="#22229a"/>
<path d="M128.9 984.1h1.3v1.3h-1.3zM183.7 978.8h1.3v1.3h-1.3zM138.5 954.0h1.3v1.3h-1.3zM120.4 1003.6h1.3v1.3h-1.3zM293.3 1026.4h1.3v1.3h-1.3zM125.8 979.2h1.3v1.3h-1.3zM233.8 1134.2h1.3v1.3h-1.3zM147.5 997.9h1.3v1.3h-1.3zM236.2 1014.0h1.3v1.3h-1.3zM178.9 1114.1h1.3v1.3h-1.3zM279.9 1069.6h1.3v1.3h-1.3zM251.0 1146.5h1.3v1.3h-1.3zM255.0 1143.5h1.3v1.3h-1.3zM210.3 991.3h1.3v1.3h-1.3zM276.0 1139.4h1.3v1.3h-1.3zM146.5 1098.6h1.3v1.3h-1.3zM287.0 1018.0h1.3v1.3h-1.3zM266.3 1029.4h1.3v1.3h-1.3zM186.0 1124.3h1.3v1.3h-1.3zM266.5 1059.9h1.3v1.3h-1.3zM155.9 1088.7h1.3v1.3h-1.3zM144.9 1109.4h1.3v1.3h-1.3zM268.1 1031.6h1.3v1.3h-1.3zM272.4 1137.4h1.3v1.3h-1.3zM226.5 1019.3h1.3v1.3h-1.3zM174.7 1114.5h1.3v1.3h-1.3zM204.2 1086.9h1.3v1.3h-1.3zM226.8 1045.2h1.3v1.3h-1.3zM246.1 1024.0h1.3v1.3h-1.3zM247.4 1069.2h1.3v1.3h-1.3zM249.3 1034.6h1.3v1.3h-1.3zM193.8 1098.0h1.3v1.3h-1.3zM216.2 1064.8h1.3v1.3h-1.3zM271.4 1014.6h1.3v1.3h-1.3zM273.9 1081.5h1.3v1.3h-1.3zM196.2 1054.0h1.3v1.3h-1.3zM292.7 1057.0h1.3v1.3h-1.3zM285.0 1059.8h1.3v1.3h-1.3zM244.7 1057.2h1.3v1.3h-1.3zM181.0 1056.1h1.3v1.3h-1.3zM186.3 1033.8h1.3v1.3h-1.3zM292.4 1122.2h1.3v1.3h-1.3zM185.0 1003.0h1.3v1.3h-1.3zM153.0 1054.4h1.3v1.3h-1.3zM217.5 1057.2h1.3v1.3h-1.3zM238.7 1068.0h1.3v1.3h-1.3zM257.0 1031.9h1.3v1.3h-1.3zM206.9 1048.7h1.3v1.3h-1.3zM260.8 1030.8h1.3v1.3h-1.3zM211.1 1036.1h1.3v1.3h-1.3zM237.8 1076.5h1.3v1.3h-1.3zM244.4 1099.2h1.3v1.3h-1.3zM153.6 1048.5h1.3v1.3h-1.3zM210.2 1031.6h1.3v1.3h-1.3zM231.2 1126.1h1.3v1.3h-1.3zM250.8 1064.1h1.3v1.3h-1.3zM262.9 1129.5h1.3v1.3h-1.3zM186.1 1031.3h1.3v1.3h-1.3zM208.3 1075.1h1.3v1.3h-1.3zM177.5 998.0h1.3v1.3h-1.3zM189.3 1022.0h1.3v1.3h-1.3zM197.7 1029.5h1.3v1.3h-1.3zM183.1 1021.4h1.3v1.3h-1.3zM201.9 1057.8h1.3v1.3h-1.3zM195.4 1011.1h1.3v1.3h-1.3zM211.4 1102.2h1.3v1.3h-1.3zM251.4 1080.9h1.3v1.3h-1.3zM176.2 1014.5h1.3v1.3h-1.3zM208.5 1008.6h1.3v1.3h-1.3zM229.8 1011.6h1.3v1.3h-1.3zM220.8 1077.0h1.3v1.3h-1.3zM260.5 1070.5h1.3v1.3h-1.3zM291.4 1116.7h1.3v1.3h-1.3zM282.3 1065.9h1.3v1.3h-1.3zM206.1 1057.4h1.3v1.3h-1.3zM200.7 1067.3h1.3v1.3h-1.3zM233.9 1041.4h1.3v1.3h-1.3zM230.3 1063.2h1.3v1.3h-1.3zM220.7 1062.2h1.3v1.3h-1.3zM222.6 1032.2h1.3v1.3h-1.3zM238.1 1128.1h1.3v1.3h-1.3zM218.7 1009.5h1.3v1.3h-1.3zM193.2 1049.9h1.3v1.3h-1.3zM214.3 1048.3h1.3v1.3h-1.3zM188.5 1069.2h1.3v1.3h-1.3zM196.2 1070.0h1.3v1.3h-1.3zM234.7 1067.9h1.3v1.3h-1.3zM237.3 1055.2h1.3v1.3h-1.3zM234.5 1050.2h1.3v1.3h-1.3zM211.3 1107.1h1.3v1.3h-1.3zM228.9 1065.4h1.3v1.3h-1.3zM161.6 1085.1h1.3v1.3h-1.3zM266.0 1096.2h1.3v1.3h-1.3zM288.5 1109.8h1.3v1.3h-1.3zM241.0 1129.2h1.3v1.3h-1.3zM196.9 1047.6h1.3v1.3h-1.3zM200.6 1109.0h1.3v1.3h-1.3zM174.2 1058.5h1.3v1.3h-1.3zM236.5 1088.0h1.3v1.3h-1.3zM199.9 1045.7h1.3v1.3h-1.3zM218.9 1045.6h1.3v1.3h-1.3zM229.3 1072.6h1.3v1.3h-1.3zM253.9 1097.9h1.3v1.3h-1.3zM154.9 1004.6h1.3v1.3h-1.3zM292.5 1108.9h1.3v1.3h-1.3zM220.1 1080.3h1.3v1.3h-1.3zM192.2 1036.4h1.3v1.3h-1.3zM207.5 1067.4h1.3v1.3h-1.3zM157.4 1010.2h1.3v1.3h-1.3zM206.1 1085.5h1.3v1.3h-1.3zM172.4 1069.3h1.3v1.3h-1.3zM233.9 1095.4h1.3v1.3h-1.3zM170.1 1101.7h1.3v1.3h-1.3zM214.8 1037.4h1.3v1.3h-1.3zM177.1 1022.3h1.3v1.3h-1.3zM161.5 1025.6h1.3v1.3h-1.3zM217.7 1124.8h1.3v1.3h-1.3zM220.3 1095.6h1.3v1.3h-1.3zM201.0 1053.9h1.3v1.3h-1.3zM231.6 1084.9h1.3v1.3h-1.3zM230.9 1087.9h1.3v1.3h-1.3zM194.0 1037.8h1.3v1.3h-1.3zM161.2 1034.8h1.3v1.3h-1.3zM204.4 1106.0h1.3v1.3h-1.3zM202.2 1078.3h1.3v1.3h-1.3zM162.7 1084.6h1.3v1.3h-1.3zM226.5 1069.7h1.3v1.3h-1.3zM173.0 1076.7h1.3v1.3h-1.3zM213.8 1088.9h1.3v1.3h-1.3zM240.9 1126.5h1.3v1.3h-1.3zM236.6 1067.8h1.3v1.3h-1.3zM197.0 1082.0h1.3v1.3h-1.3zM203.2 1106.1h1.3v1.3h-1.3zM236.7 1081.4h1.3v1.3h-1.3zM194.6 1112.6h1.3v1.3h-1.3zM167.1 1116.5h1.3v1.3h-1.3zM290.8 1110.0h1.3v1.3h-1.3zM279.9 1120.7h1.3v1.3h-1.3zM287.6 1114.1h1.3v1.3h-1.3zM173.0 1057.0h1.3v1.3h-1.3zM162.3 1025.8h1.3v1.3h-1.3zM158.7 1036.7h1.3v1.3h-1.3zM240.1 1099.8h1.3v1.3h-1.3zM230.7 1083.0h1.3v1.3h-1.3zM235.3 1098.3h1.3v1.3h-1.3zM287.1 1107.6h1.3v1.3h-1.3zM159.7 1067.3h1.3v1.3h-1.3zM166.2 1024.5h1.3v1.3h-1.3zM161.4 1108.9h1.3v1.3h-1.3zM210.0 1118.8h1.3v1.3h-1.3zM267.9 1126.6h1.3v1.3h-1.3zM227.7 1098.7h1.3v1.3h-1.3zM173.0 1048.3h1.3v1.3h-1.3zM163.7 1083.0h1.3v1.3h-1.3zM284.5 1118.7h1.3v1.3h-1.3zM211.9 1120.7h1.3v1.3h-1.3zM184.8 1110.4h1.3v1.3h-1.3zM165.5 1103.4h1.3v1.3h-1.3zM171.3 1016.8h1.3v1.3h-1.3zM191.5 1108.5h1.3v1.3h-1.3zM168.5 1107.3h1.3v1.3h-1.3zM275.2 1124.8h1.3v1.3h-1.3zM159.2 1062.4h1.3v1.3h-1.3zM168.5 1062.3h1.3v1.3h-1.3zM158.8 1064.3h1.3v1.3h-1.3zM189.4 1112.5h1.3v1.3h-1.3zM197.5 1112.5h1.3v1.3h-1.3zM268.7 1125.2h1.3v1.3h-1.3zM164.7 1012.5h1.3v1.3h-1.3zM208.9 1114.3h1.3v1.3h-1.3zM207.6 1120.0h1.3v1.3h-1.3zM161.4 1002.0h1.3v1.3h-1.3zM166.6 1029.9h1.3v1.3h-1.3zM171.9 995.0h1.3v1.3h-1.3zM286.1 1116.0h1.3v1.3h-1.3zM263.1 1126.9h1.3v1.3h-1.3zM165.6 1069.7h1.3v1.3h-1.3zM209.8 1114.3h1.3v1.3h-1.3zM164.0 1025.8h1.3v1.3h-1.3zM231.6 1102.1h1.3v1.3h-1.3zM172.1 1076.5h1.3v1.3h-1.3zM224.6 1123.9h1.3v1.3h-1.3zM245.0 1124.0h1.3v1.3h-1.3zM283.5 1118.7h1.3v1.3h-1.3zM165.6 1022.7h1.3v1.3h-1.3zM160.8 996.5h1.3v1.3h-1.3zM160.9 1017.0h1.3v1.3h-1.3zM162.6 997.9h1.3v1.3h-1.3zM275.0 1125.7h1.3v1.3h-1.3zM238.8 1124.3h1.3v1.3h-1.3zM225.0 1105.2h1.3v1.3h-1.3zM171.1 1021.2h1.3v1.3h-1.3zM166.1 1111.0h1.3v1.3h-1.3zM170.6 1014.8h1.3v1.3h-1.3zM227.6 1123.9h1.3v1.3h-1.3zM282.6 1117.3h1.3v1.3h-1.3zM169.5 1021.7h1.3v1.3h-1.3zM256.3 1126.7h1.3v1.3h-1.3zM230.9 1122.9h1.3v1.3h-1.3zM163.0 1109.4h1.3v1.3h-1.3zM167.8 1035.7h1.3v1.3h-1.3zM156.7 1017.9h1.3v1.3h-1.3zM281.1 1117.0h1.3v1.3h-1.3zM217.0 1114.4h1.3v1.3h-1.3zM229.5 1105.8h1.3v1.3h-1.3zM218.4 1121.1h1.3v1.3h-1.3zM167.1 1071.0h1.3v1.3h-1.3zM166.4 1033.8h1.3v1.3h-1.3zM258.7 1102.5h1.3v1.3h-1.3zM251.4 1127.2h1.3v1.3h-1.3zM163.6 1060.9h1.3v1.3h-1.3zM165.9 1019.4h1.3v1.3h-1.3zM270.6 1107.7h1.3v1.3h-1.3zM166.4 1037.0h1.3v1.3h-1.3zM164.6 1073.7h1.3v1.3h-1.3zM247.3 1103.7h1.3v1.3h-1.3zM168.1 1036.9h1.3v1.3h-1.3zM167.6 1048.4h1.3v1.3h-1.3zM250.8 1103.4h1.3v1.3h-1.3zM253.7 1124.1h1.3v1.3h-1.3zM165.0 1111.1h1.3v1.3h-1.3zM221.7 1121.1h1.3v1.3h-1.3zM275.0 1120.3h1.3v1.3h-1.3zM163.9 1105.8h1.3v1.3h-1.3zM250.5 1127.1h1.3v1.3h-1.3zM221.5 1105.5h1.3v1.3h-1.3zM230.1 1107.4h1.3v1.3h-1.3zM163.9 1102.4h1.3v1.3h-1.3zM233.5 1105.2h1.3v1.3h-1.3zM263.0 1105.4h1.3v1.3h-1.3zM276.9 1109.6h1.3v1.3h-1.3zM168.3 1052.9h1.3v1.3h-1.3zM249.0 1124.2h1.3v1.3h-1.3zM230.6 1109.4h1.3v1.3h-1.3zM262.9 1108.7h1.3v1.3h-1.3zM228.0 1104.3h1.3v1.3h-1.3zM251.9 1108.3h1.3v1.3h-1.3zM263.1 1123.0h1.3v1.3h-1.3zM226.3 1107.9h1.3v1.3h-1.3zM219.8 1116.1h1.3v1.3h-1.3zM165.7 1108.4h1.3v1.3h-1.3zM266.5 1122.4h1.3v1.3h-1.3zM168.2 1027.2h1.3v1.3h-1.3zM264.8 1114.9h1.3v1.3h-1.3zM275.6 1114.3h1.3v1.3h-1.3zM224.3 1119.8h1.3v1.3h-1.3zM253.9 1102.2h1.3v1.3h-1.3zM262.2 1104.4h1.3v1.3h-1.3zM167.5 1066.0h1.3v1.3h-1.3zM164.2 1041.9h1.3v1.3h-1.3zM269.6 1108.4h1.3v1.3h-1.3zM274.6 1116.2h1.3v1.3h-1.3zM262.2 1125.4h1.3v1.3h-1.3zM226.3 1121.4h1.3v1.3h-1.3zM260.8 1125.1h1.3v1.3h-1.3zM168.9 1021.6h1.3v1.3h-1.3zM218.9 1110.8h1.3v1.3h-1.3zM278.5 1118.3h1.3v1.3h-1.3zM224.1 1116.2h1.3v1.3h-1.3zM225.3 1105.5h1.3v1.3h-1.3zM255.4 1125.4h1.3v1.3h-1.3zM220.9 1109.6h1.3v1.3h-1.3zM281.2 1117.6h1.3v1.3h-1.3zM258.9 1124.1h1.3v1.3h-1.3zM221.5 1110.4h1.3v1.3h-1.3zM220.4 1107.8h1.3v1.3h-1.3zM168.1 1066.7h1.3v1.3h-1.3zM275.4 1115.2h1.3v1.3h-1.3zM165.6 1067.9h1.3v1.3h-1.3zM275.4 1109.7h1.3v1.3h-1.3zM236.5 1123.2h1.3v1.3h-1.3zM250.4 1103.2h1.3v1.3h-1.3zM275.2 1111.0h1.3v1.3h-1.3zM268.5 1107.8h1.3v1.3h-1.3zM246.3 1123.8h1.3v1.3h-1.3zM170.3 1022.1h1.3v1.3h-1.3zM262.6 1119.0h1.3v1.3h-1.3zM264.4 1125.0h1.3v1.3h-1.3zM243.4 1123.9h1.3v1.3h-1.3zM218.5 1116.0h1.3v1.3h-1.3zM225.5 1115.4h1.3v1.3h-1.3zM231.2 1109.4h1.3v1.3h-1.3zM269.3 1119.8h1.3v1.3h-1.3zM237.9 1104.4h1.3v1.3h-1.3zM225.9 1120.6h1.3v1.3h-1.3zM277.6 1115.9h1.3v1.3h-1.3zM272.2 1118.6h1.3v1.3h-1.3zM267.5 1121.2h1.3v1.3h-1.3zM224.4 1107.6h1.3v1.3h-1.3zM278.4 1113.7h1.3v1.3h-1.3zM222.0 1106.4h1.3v1.3h-1.3zM216.7 1110.0h1.3v1.3h-1.3zM169.0 1022.5h1.3v1.3h-1.3zM233.9 1120.3h1.3v1.3h-1.3zM242.9 1111.5h1.3v1.3h-1.3zM225.0 1111.3h1.3v1.3h-1.3zM167.9 1036.3h1.3v1.3h-1.3zM274.2 1119.6h1.3v1.3h-1.3zM222.6 1106.4h1.3v1.3h-1.3zM269.4 1119.1h1.3v1.3h-1.3zM276.7 1111.0h1.3v1.3h-1.3zM251.3 1105.9h1.3v1.3h-1.3zM268.5 1117.4h1.3v1.3h-1.3zM220.3 1114.6h1.3v1.3h-1.3zM253.6 1124.2h1.3v1.3h-1.3zM242.0 1111.7h1.3v1.3h-1.3zM264.5 1106.3h1.3v1.3h-1.3zM220.3 1113.6h1.3v1.3h-1.3zM165.3 1073.7h1.3v1.3h-1.3zM281.8 1117.3h1.3v1.3h-1.3zM249.3 1103.1h1.3v1.3h-1.3zM257.8 1105.5h1.3v1.3h-1.3zM222.7 1116.8h1.3v1.3h-1.3zM273.9 1114.3h1.3v1.3h-1.3zM237.6 1105.4h1.3v1.3h-1.3zM169.3 1065.5h1.3v1.3h-1.3zM268.5 1116.5h1.3v1.3h-1.3zM167.1 1041.9h1.3v1.3h-1.3zM267.3 1121.0h1.3v1.3h-1.3zM234.0 1113.5h1.3v1.3h-1.3zM225.9 1106.1h1.3v1.3h-1.3zM253.7 1125.3h1.3v1.3h-1.3zM269.1 1111.1h1.3v1.3h-1.3zM228.5 1108.2h1.3v1.3h-1.3zM241.5 1100.9h1.3v1.3h-1.3zM220.7 1115.0h1.3v1.3h-1.3zM244.9 1103.8h1.3v1.3h-1.3zM167.8 1039.0h1.3v1.3h-1.3zM269.0 1117.9h1.3v1.3h-1.3zM222.5 1119.1h1.3v1.3h-1.3zM274.8 1108.4h1.3v1.3h-1.3zM259.0 1127.7h1.3v1.3h-1.3zM278.3 1112.2h1.3v1.3h-1.3zM252.5 1124.0h1.3v1.3h-1.3zM219.9 1116.1h1.3v1.3h-1.3zM270.1 1109.5h1.3v1.3h-1.3zM170.3 1066.2h1.3v1.3h-1.3zM274.0 1107.6h1.3v1.3h-1.3zM225.5 1105.3h1.3v1.3h-1.3zM222.0 1106.8h1.3v1.3h-1.3zM218.9 1117.9h1.3v1.3h-1.3zM272.4 1116.5h1.3v1.3h-1.3zM270.9 1117.3h1.3v1.3h-1.3zM266.4 1107.7h1.3v1.3h-1.3zM241.4 1106.5h1.3v1.3h-1.3zM260.1 1123.1h1.3v1.3h-1.3zM262.2 1100.4h1.3v1.3h-1.3zM223.1 1118.0h1.3v1.3h-1.3zM239.9 1120.3h1.3v1.3h-1.3zM229.8 1107.8h1.3v1.3h-1.3zM237.3 1116.0h1.3v1.3h-1.3zM233.3 1123.3h1.3v1.3h-1.3zM271.4 1121.2h1.3v1.3h-1.3zM222.2 1114.2h1.3v1.3h-1.3zM258.2 1126.3h1.3v1.3h-1.3zM228.4 1123.2h1.3v1.3h-1.3zM168.7 1062.0h1.3v1.3h-1.3zM269.6 1123.8h1.3v1.3h-1.3zM278.2 1115.1h1.3v1.3h-1.3zM234.9 1107.0h1.3v1.3h-1.3zM226.0 1114.1h1.3v1.3h-1.3zM255.9 1106.7h1.3v1.3h-1.3zM262.3 1100.4h1.3v1.3h-1.3zM221.6 1118.7h1.3v1.3h-1.3zM266.6 1114.8h1.3v1.3h-1.3zM218.9 1115.8h1.3v1.3h-1.3zM254.9 1107.3h1.3v1.3h-1.3zM209.2 1112.9h1.3v1.3h-1.3zM274.7 1108.1h1.3v1.3h-1.3zM277.8 1114.9h1.3v1.3h-1.3zM267.4 1118.5h1.3v1.3h-1.3zM223.7 1108.9h1.3v1.3h-1.3zM254.6 1123.3h1.3v1.3h-1.3zM169.2 1065.9h1.3v1.3h-1.3zM218.4 1106.9h1.3v1.3h-1.3zM258.6 1103.3h1.3v1.3h-1.3zM258.0 1111.8h1.3v1.3h-1.3zM168.3 1025.2h1.3v1.3h-1.3zM261.4 1103.6h1.3v1.3h-1.3zM275.9 1118.7h1.3v1.3h-1.3zM262.0 1123.7h1.3v1.3h-1.3zM207.7 1115.2h1.3v1.3h-1.3zM226.1 1106.1h1.3v1.3h-1.3zM162.6 1040.6h1.3v1.3h-1.3zM225.6 1110.1h1.3v1.3h-1.3zM228.8 1111.1h1.3v1.3h-1.3zM164.5 1041.6h1.3v1.3h-1.3zM226.6 1105.2h1.3v1.3h-1.3zM273.1 1114.5h1.3v1.3h-1.3zM271.8 1110.0h1.3v1.3h-1.3zM266.8 1123.5h1.3v1.3h-1.3zM228.8 1116.0h1.3v1.3h-1.3zM238.9 1104.3h1.3v1.3h-1.3zM169.0 1063.3h1.3v1.3h-1.3zM276.8 1117.1h1.3v1.3h-1.3zM167.9 1064.9h1.3v1.3h-1.3zM166.5 1068.0h1.3v1.3h-1.3zM273.3 1119.0h1.3v1.3h-1.3zM252.9 1126.9h1.3v1.3h-1.3zM224.3 1119.9h1.3v1.3h-1.3zM226.7 1111.4h1.3v1.3h-1.3zM234.9 1121.7h1.3v1.3h-1.3zM254.6 1110.5h1.3v1.3h-1.3zM166.1 1038.0h1.3v1.3h-1.3zM264.6 1104.7h1.3v1.3h-1.3zM221.7 1106.1h1.3v1.3h-1.3zM244.1 1122.8h1.3v1.3h-1.3zM270.7 1109.6h1.3v1.3h-1.3zM273.1 1117.0h1.3v1.3h-1.3zM273.6 1108.6h1.3v1.3h-1.3zM242.2 1122.4h1.3v1.3h-1.3zM239.0 1105.7h1.3v1.3h-1.3zM235.9 1104.8h1.3v1.3h-1.3zM281.7 1117.9h1.3v1.3h-1.3zM275.2 1118.2h1.3v1.3h-1.3zM278.8 1115.9h1.3v1.3h-1.3zM256.5 1105.9h1.3v1.3h-1.3zM264.9 1121.3h1.3v1.3h-1.3zM162.9 1105.6h1.3v1.3h-1.3zM168.9 1071.3h1.3v1.3h-1.3zM237.9 1103.1h1.3v1.3h-1.3zM226.9 1120.8h1.3v1.3h-1.3zM271.2 1109.1h1.3v1.3h-1.3zM166.3 1068.1h1.3v1.3h-1.3zM169.8 1066.0h1.3v1.3h-1.3zM233.9 1107.4h1.3v1.3h-1.3zM278.2 1119.6h1.3v1.3h-1.3zM168.9 1082.0h1.3v1.3h-1.3zM276.1 1109.3h1.3v1.3h-1.3zM276.1 1120.0h1.3v1.3h-1.3zM263.7 1121.8h1.3v1.3h-1.3zM277.4 1113.5h1.3v1.3h-1.3zM276.0 1119.5h1.3v1.3h-1.3zM249.7 1120.2h1.3v1.3h-1.3zM251.2 1123.5h1.3v1.3h-1.3zM235.2 1120.9h1.3v1.3h-1.3zM226.8 1107.4h1.3v1.3h-1.3zM274.9 1117.8h1.3v1.3h-1.3zM278.1 1112.6h1.3v1.3h-1.3zM233.0 1122.3h1.3v1.3h-1.3zM232.5 1119.5h1.3v1.3h-1.3zM227.3 1104.3h1.3v1.3h-1.3zM231.1 1104.7h1.3v1.3h-1.3zM268.4 1111.9h1.3v1.3h-1.3zM230.1 1109.5h1.3v1.3h-1.3zM254.2 1125.5h1.3v1.3h-1.3zM248.1 1124.8h1.3v1.3h-1.3zM271.9 1108.0h1.3v1.3h-1.3zM220.4 1116.3h1.3v1.3h-1.3zM273.6 1112.1h1.3v1.3h-1.3zM233.4 1103.0h1.3v1.3h-1.3zM260.7 1102.6h1.3v1.3h-1.3zM233.0 1109.2h1.3v1.3h-1.3zM235.8 1122.6h1.3v1.3h-1.3zM235.9 1104.7h1.3v1.3h-1.3zM234.9 1114.5h1.3v1.3h-1.3zM221.5 1112.3h1.3v1.3h-1.3zM234.9 1107.0h1.3v1.3h-1.3zM274.8 1111.3h1.3v1.3h-1.3zM249.6 1104.7h1.3v1.3h-1.3zM260.9 1125.6h1.3v1.3h-1.3zM270.8 1116.1h1.3v1.3h-1.3zM168.4 1065.9h1.3v1.3h-1.3zM232.0 1105.8h1.3v1.3h-1.3zM168.2 1069.1h1.3v1.3h-1.3zM228.1 1121.7h1.3v1.3h-1.3zM239.7 1106.3h1.3v1.3h-1.3zM270.3 1122.3h1.3v1.3h-1.3zM269.8 1120.6h1.3v1.3h-1.3zM274.5 1120.2h1.3v1.3h-1.3zM242.2 1119.0h1.3v1.3h-1.3zM271.9 1106.1h1.3v1.3h-1.3zM260.9 1102.6h1.3v1.3h-1.3zM275.1 1115.3h1.3v1.3h-1.3zM241.7 1107.6h1.3v1.3h-1.3zM237.7 1105.5h1.3v1.3h-1.3zM235.3 1107.6h1.3v1.3h-1.3zM249.5 1125.2h1.3v1.3h-1.3zM235.9 1122.5h1.3v1.3h-1.3zM263.9 1125.5h1.3v1.3h-1.3zM269.9 1111.8h1.3v1.3h-1.3zM225.2 1118.7h1.3v1.3h-1.3zM270.7 1111.6h1.3v1.3h-1.3zM224.3 1115.7h1.3v1.3h-1.3zM257.4 1105.2h1.3v1.3h-1.3zM264.2 1121.3h1.3v1.3h-1.3zM256.7 1122.7h1.3v1.3h-1.3zM222.3 1117.7h1.3v1.3h-1.3zM222.4 1111.8h1.3v1.3h-1.3zM248.7 1125.4h1.3v1.3h-1.3zM267.4 1122.1h1.3v1.3h-1.3zM238.0 1104.2h1.3v1.3h-1.3zM233.6 1106.3h1.3v1.3h-1.3zM221.2 1113.3h1.3v1.3h-1.3zM266.6 1122.1h1.3v1.3h-1.3zM168.3 1067.6h1.3v1.3h-1.3zM265.4 1105.6h1.3v1.3h-1.3zM263.2 1105.4h1.3v1.3h-1.3zM266.9 1116.5h1.3v1.3h-1.3zM223.9 1114.0h1.3v1.3h-1.3zM222.4 1117.5h1.3v1.3h-1.3zM275.9 1111.6h1.3v1.3h-1.3zM164.5 1038.2h1.3v1.3h-1.3zM236.9 1121.3h1.3v1.3h-1.3zM227.3 1109.3h1.3v1.3h-1.3zM255.8 1124.6h1.3v1.3h-1.3zM229.7 1118.1h1.3v1.3h-1.3zM273.2 1118.3h1.3v1.3h-1.3zM250.0 1105.1h1.3v1.3h-1.3zM220.3 1109.9h1.3v1.3h-1.3zM221.8 1112.7h1.3v1.3h-1.3zM275.2 1118.0h1.3v1.3h-1.3zM234.1 1123.6h1.3v1.3h-1.3zM226.4 1118.2h1.3v1.3h-1.3zM275.5 1117.5h1.3v1.3h-1.3zM260.6 1123.4h1.3v1.3h-1.3zM220.9 1111.9h1.3v1.3h-1.3zM249.0 1124.2h1.3v1.3h-1.3zM226.4 1113.0h1.3v1.3h-1.3zM228.1 1108.7h1.3v1.3h-1.3zM256.1 1105.7h1.3v1.3h-1.3zM237.9 1107.3h1.3v1.3h-1.3zM235.5 1119.8h1.3v1.3h-1.3zM234.0 1104.7h1.3v1.3h-1.3zM259.3 1124.8h1.3v1.3h-1.3zM249.0 1125.3h1.3v1.3h-1.3zM262.2 1103.9h1.3v1.3h-1.3zM225.8 1118.9h1.3v1.3h-1.3zM239.8 1118.6h1.3v1.3h-1.3zM230.4 1120.2h1.3v1.3h-1.3zM273.7 1109.2h1.3v1.3h-1.3zM221.9 1106.7h1.3v1.3h-1.3zM245.6 1104.1h1.3v1.3h-1.3zM279.0 1114.6h1.3v1.3h-1.3zM240.9 1107.1h1.3v1.3h-1.3zM264.1 1104.1h1.3v1.3h-1.3zM269.5 1115.8h1.3v1.3h-1.3zM268.1 1110.1h1.3v1.3h-1.3zM261.9 1104.9h1.3v1.3h-1.3zM244.5 1105.4h1.3v1.3h-1.3zM267.8 1122.1h1.3v1.3h-1.3zM234.2 1109.3h1.3v1.3h-1.3zM257.5 1124.0h1.3v1.3h-1.3zM165.5 1104.9h1.3v1.3h-1.3zM275.5 1108.6h1.3v1.3h-1.3zM247.1 1122.6h1.3v1.3h-1.3zM239.2 1105.5h1.3v1.3h-1.3zM275.1 1112.7h1.3v1.3h-1.3zM271.5 1113.5h1.3v1.3h-1.3zM237.6 1106.9h1.3v1.3h-1.3zM169.0 1064.2h1.3v1.3h-1.3zM225.3 1112.1h1.3v1.3h-1.3zM264.4 1104.9h1.3v1.3h-1.3zM259.7 1124.4h1.3v1.3h-1.3zM225.1 1106.3h1.3v1.3h-1.3zM254.2 1125.1h1.3v1.3h-1.3zM226.2 1120.8h1.3v1.3h-1.3zM270.1 1117.9h1.3v1.3h-1.3zM225.0 1111.4h1.3v1.3h-1.3zM236.0 1105.1h1.3v1.3h-1.3zM249.7 1125.8h1.3v1.3h-1.3zM234.6 1122.4h1.3v1.3h-1.3zM234.3 1121.6h1.3v1.3h-1.3zM167.8 1020.2h1.3v1.3h-1.3zM268.2 1107.0h1.3v1.3h-1.3zM227.1 1118.2h1.3v1.3h-1.3zM222.9 1115.7h1.3v1.3h-1.3zM269.4 1110.4h1.3v1.3h-1.3zM262.4 1109.7h1.3v1.3h-1.3zM275.0 1118.1h1.3v1.3h-1.3zM230.4 1120.9h1.3v1.3h-1.3zM231.4 1105.2h1.3v1.3h-1.3zM247.3 1105.9h1.3v1.3h-1.3zM241.5 1104.1h1.3v1.3h-1.3zM226.8 1110.9h1.3v1.3h-1.3zM223.4 1109.5h1.3v1.3h-1.3zM228.7 1110.4h1.3v1.3h-1.3zM270.9 1110.2h1.3v1.3h-1.3zM266.0 1109.5h1.3v1.3h-1.3zM253.2 1104.9h1.3v1.3h-1.3zM264.4 1104.6h1.3v1.3h-1.3zM230.2 1105.8h1.3v1.3h-1.3zM270.3 1120.3h1.3v1.3h-1.3zM225.4 1114.0h1.3v1.3h-1.3zM268.6 1108.2h1.3v1.3h-1.3zM245.4 1105.7h1.3v1.3h-1.3zM249.2 1106.0h1.3v1.3h-1.3zM272.8 1114.1h1.3v1.3h-1.3zM274.3 1118.0h1.3v1.3h-1.3zM227.3 1106.4h1.3v1.3h-1.3zM258.9 1103.9h1.3v1.3h-1.3zM229.0 1107.4h1.3v1.3h-1.3zM166.1 1105.9h1.3v1.3h-1.3zM223.8 1119.6h1.3v1.3h-1.3zM262.6 1110.8h1.3v1.3h-1.3z" fill="#1eaed0"/>
<path d="M234.2 1119.8h1.3v1.3h-1.3zM227.8 1110.3h1.3v1.3h-1.3zM263.7 1105.4h1.3v1.3h-1.3zM220.8 1112.6h1.3v1.3h-1.3zM275.4 1111.1h1.3v1.3h-1.3zM273.5 1116.3h1.3v1.3h-1.3zM245.5 1114.5h1.3v1.3h-1.3zM249.3 1120.7h1.3v1.3h-1.3zM243.0 1105.9h1.3v1.3h-1.3zM225.7 1118.4h1.3v1.3h-1.3zM258.2 1106.0h1.3v1.3h-1.3zM265.1 1106.7h1.3v1.3h-1.3zM278.1 1116.2h1.3v1.3h-1.3zM265.8 1108.4h1.3v1.3h-1.3zM229.7 1117.3h1.3v1.3h-1.3zM261.7 1104.1h1.3v1.3h-1.3zM229.8 1106.2h1.3v1.3h-1.3zM267.5 1115.9h1.3v1.3h-1.3zM256.2 1124.2h1.3v1.3h-1.3zM265.9 1118.0h1.3v1.3h-1.3zM235.9 1105.1h1.3v1.3h-1.3zM261.3 1122.7h1.3v1.3h-1.3zM265.7 1120.9h1.3v1.3h-1.3zM226.2 1110.8h1.3v1.3h-1.3zM233.7 1121.2h1.3v1.3h-1.3zM273.1 1112.7h1.3v1.3h-1.3zM167.6 1022.8h1.3v1.3h-1.3zM262.2 1119.2h1.3v1.3h-1.3zM264.1 1122.5h1.3v1.3h-1.3zM277.3 1116.4h1.3v1.3h-1.3zM245.4 1107.2h1.3v1.3h-1.3zM251.0 1104.1h1.3v1.3h-1.3zM261.0 1105.7h1.3v1.3h-1.3zM269.2 1120.6h1.3v1.3h-1.3zM251.3 1125.4h1.3v1.3h-1.3zM260.0 1105.9h1.3v1.3h-1.3zM265.8 1115.1h1.3v1.3h-1.3zM260.1 1122.3h1.3v1.3h-1.3zM239.8 1120.7h1.3v1.3h-1.3zM255.0 1125.5h1.3v1.3h-1.3zM221.5 1109.9h1.3v1.3h-1.3zM271.1 1113.3h1.3v1.3h-1.3zM252.0 1122.3h1.3v1.3h-1.3zM229.5 1112.9h1.3v1.3h-1.3zM252.4 1124.8h1.3v1.3h-1.3zM233.4 1118.7h1.3v1.3h-1.3zM163.9 1072.3h1.3v1.3h-1.3zM228.2 1118.3h1.3v1.3h-1.3zM225.0 1113.6h1.3v1.3h-1.3zM263.6 1108.0h1.3v1.3h-1.3zM258.4 1109.3h1.3v1.3h-1.3zM233.5 1107.2h1.3v1.3h-1.3zM255.4 1124.6h1.3v1.3h-1.3zM247.6 1106.2h1.3v1.3h-1.3zM264.1 1112.1h1.3v1.3h-1.3zM224.2 1116.7h1.3v1.3h-1.3zM233.4 1110.9h1.3v1.3h-1.3zM260.8 1109.8h1.3v1.3h-1.3zM239.7 1107.9h1.3v1.3h-1.3zM270.2 1120.3h1.3v1.3h-1.3zM261.7 1111.0h1.3v1.3h-1.3zM168.1 1066.7h1.3v1.3h-1.3zM236.4 1119.6h1.3v1.3h-1.3zM231.3 1110.7h1.3v1.3h-1.3zM231.6 1117.5h1.3v1.3h-1.3zM272.0 1121.4h1.3v1.3h-1.3zM227.3 1113.1h1.3v1.3h-1.3zM169.9 1066.0h1.3v1.3h-1.3zM240.4 1121.3h1.3v1.3h-1.3zM266.8 1107.1h1.3v1.3h-1.3zM248.8 1115.6h1.3v1.3h-1.3zM252.2 1102.5h1.3v1.3h-1.3zM227.7 1110.1h1.3v1.3h-1.3zM271.2 1112.6h1.3v1.3h-1.3zM275.1 1117.8h1.3v1.3h-1.3zM235.3 1120.4h1.3v1.3h-1.3zM269.1 1110.5h1.3v1.3h-1.3zM229.6 1118.9h1.3v1.3h-1.3zM222.7 1109.7h1.3v1.3h-1.3zM231.1 1107.3h1.3v1.3h-1.3zM267.3 1112.8h1.3v1.3h-1.3zM233.6 1120.2h1.3v1.3h-1.3zM268.7 1112.6h1.3v1.3h-1.3zM224.4 1113.5h1.3v1.3h-1.3zM229.4 1112.2h1.3v1.3h-1.3zM225.8 1115.4h1.3v1.3h-1.3zM234.8 1107.3h1.3v1.3h-1.3zM258.9 1124.9h1.3v1.3h-1.3zM167.6 1065.4h1.3v1.3h-1.3zM229.3 1109.6h1.3v1.3h-1.3zM230.2 1109.8h1.3v1.3h-1.3zM266.8 1123.8h1.3v1.3h-1.3zM231.3 1110.0h1.3v1.3h-1.3zM231.3 1110.8h1.3v1.3h-1.3zM258.2 1110.9h1.3v1.3h-1.3zM249.6 1122.7h1.3v1.3h-1.3zM260.4 1104.3h1.3v1.3h-1.3zM250.9 1125.9h1.3v1.3h-1.3zM230.5 1118.8h1.3v1.3h-1.3zM236.9 1120.2h1.3v1.3h-1.3zM244.1 1119.3h1.3v1.3h-1.3zM259.5 1121.7h1.3v1.3h-1.3zM269.1 1122.0h1.3v1.3h-1.3zM264.9 1121.4h1.3v1.3h-1.3zM228.5 1104.7h1.3v1.3h-1.3zM225.6 1117.4h1.3v1.3h-1.3zM264.9 1107.4h1.3v1.3h-1.3zM272.4 1114.3h1.3v1.3h-1.3zM245.5 1107.7h1.3v1.3h-1.3zM250.0 1122.7h1.3v1.3h-1.3zM235.4 1119.3h1.3v1.3h-1.3zM230.2 1109.4h1.3v1.3h-1.3zM264.8 1122.0h1.3v1.3h-1.3zM275.1 1113.4h1.3v1.3h-1.3zM224.2 1117.2h1.3v1.3h-1.3zM228.3 1115.2h1.3v1.3h-1.3zM265.2 1114.7h1.3v1.3h-1.3zM235.5 1109.3h1.3v1.3h-1.3zM268.5 1117.7h1.3v1.3h-1.3zM268.6 1115.1h1.3v1.3h-1.3zM248.2 1106.4h1.3v1.3h-1.3zM255.1 1106.2h1.3v1.3h-1.3zM266.6 1120.7h1.3v1.3h-1.3zM271.8 1117.3h1.3v1.3h-1.3zM227.8 1117.0h1.3v1.3h-1.3zM241.5 1119.1h1.3v1.3h-1.3zM235.5 1122.8h1.3v1.3h-1.3zM232.5 1106.2h1.3v1.3h-1.3zM258.9 1123.5h1.3v1.3h-1.3zM250.7 1123.0h1.3v1.3h-1.3zM223.9 1112.1h1.3v1.3h-1.3zM229.7 1107.5h1.3v1.3h-1.3zM250.9 1106.6h1.3v1.3h-1.3zM268.9 1118.4h1.3v1.3h-1.3zM221.3 1113.5h1.3v1.3h-1.3zM220.8 1110.3h1.3v1.3h-1.3zM274.7 1112.5h1.3v1.3h-1.3zM271.4 1119.2h1.3v1.3h-1.3zM247.1 1120.1h1.3v1.3h-1.3zM238.6 1109.3h1.3v1.3h-1.3zM257.4 1120.3h1.3v1.3h-1.3zM247.2 1124.8h1.3v1.3h-1.3zM221.8 1117.0h1.3v1.3h-1.3zM264.9 1116.5h1.3v1.3h-1.3zM277.9 1115.1h1.3v1.3h-1.3zM263.0 1117.6h1.3v1.3h-1.3zM228.4 1116.5h1.3v1.3h-1.3zM222.8 1112.3h1.3v1.3h-1.3zM237.9 1112.7h1.3v1.3h-1.3zM255.8 1105.1h1.3v1.3h-1.3zM264.2 1120.7h1.3v1.3h-1.3zM254.9 1125.8h1.3v1.3h-1.3zM223.0 1115.3h1.3v1.3h-1.3zM256.4 1116.0h1.3v1.3h-1.3zM221.4 1117.8h1.3v1.3h-1.3zM168.3 1065.0h1.3v1.3h-1.3zM226.7 1116.4h1.3v1.3h-1.3zM239.3 1107.2h1.3v1.3h-1.3zM268.4 1119.2h1.3v1.3h-1.3zM233.8 1109.7h1.3v1.3h-1.3zM263.2 1115.4h1.3v1.3h-1.3zM227.8 1113.6h1.3v1.3h-1.3zM236.9 1119.7h1.3v1.3h-1.3zM170.1 1067.2h1.3v1.3h-1.3zM248.2 1107.1h1.3v1.3h-1.3zM229.4 1113.8h1.3v1.3h-1.3zM236.3 1119.1h1.3v1.3h-1.3zM267.1 1116.1h1.3v1.3h-1.3zM228.0 1105.1h1.3v1.3h-1.3zM222.4 1109.5h1.3v1.3h-1.3zM259.7 1107.2h1.3v1.3h-1.3zM167.9 1066.4h1.3v1.3h-1.3zM265.5 1113.9h1.3v1.3h-1.3zM241.1 1120.0h1.3v1.3h-1.3zM247.2 1119.6h1.3v1.3h-1.3zM263.1 1109.5h1.3v1.3h-1.3zM220.5 1108.2h1.3v1.3h-1.3zM269.1 1115.2h1.3v1.3h-1.3zM270.2 1109.7h1.3v1.3h-1.3zM241.0 1116.4h1.3v1.3h-1.3zM228.9 1107.2h1.3v1.3h-1.3zM272.0 1121.3h1.3v1.3h-1.3zM258.1 1125.8h1.3v1.3h-1.3zM223.8 1108.0h1.3v1.3h-1.3zM248.3 1120.9h1.3v1.3h-1.3zM276.1 1117.1h1.3v1.3h-1.3zM272.0 1122.0h1.3v1.3h-1.3zM262.5 1118.0h1.3v1.3h-1.3zM225.0 1115.2h1.3v1.3h-1.3zM264.7 1106.6h1.3v1.3h-1.3zM241.9 1120.6h1.3v1.3h-1.3zM230.6 1120.0h1.3v1.3h-1.3zM270.6 1119.8h1.3v1.3h-1.3zM230.7 1121.2h1.3v1.3h-1.3zM260.6 1107.4h1.3v1.3h-1.3zM276.3 1117.5h1.3v1.3h-1.3zM249.0 1116.9h1.3v1.3h-1.3zM227.4 1112.6h1.3v1.3h-1.3zM270.9 1116.9h1.3v1.3h-1.3zM228.4 1116.2h1.3v1.3h-1.3zM269.3 1108.2h1.3v1.3h-1.3zM236.9 1120.0h1.3v1.3h-1.3zM230.0 1112.8h1.3v1.3h-1.3zM230.0 1107.4h1.3v1.3h-1.3zM242.5 1104.6h1.3v1.3h-1.3zM266.7 1119.0h1.3v1.3h-1.3zM241.3 1109.3h1.3v1.3h-1.3zM255.8 1115.7h1.3v1.3h-1.3zM269.0 1113.8h1.3v1.3h-1.3zM233.1 1112.5h1.3v1.3h-1.3zM240.6 1108.7h1.3v1.3h-1.3zM239.1 1107.1h1.3v1.3h-1.3zM245.2 1121.8h1.3v1.3h-1.3zM269.7 1109.8h1.3v1.3h-1.3zM257.5 1109.6h1.3v1.3h-1.3zM261.4 1107.6h1.3v1.3h-1.3zM245.7 1118.5h1.3v1.3h-1.3zM240.7 1121.6h1.3v1.3h-1.3zM237.7 1111.1h1.3v1.3h-1.3zM275.6 1115.6h1.3v1.3h-1.3zM233.2 1119.8h1.3v1.3h-1.3zM278.1 1114.2h1.3v1.3h-1.3zM257.0 1118.1h1.3v1.3h-1.3zM254.8 1124.4h1.3v1.3h-1.3zM269.2 1113.3h1.3v1.3h-1.3zM222.5 1114.7h1.3v1.3h-1.3zM241.8 1106.0h1.3v1.3h-1.3zM259.2 1107.3h1.3v1.3h-1.3zM243.1 1108.7h1.3v1.3h-1.3zM261.8 1107.3h1.3v1.3h-1.3zM260.8 1114.2h1.3v1.3h-1.3zM225.1 1110.2h1.3v1.3h-1.3zM239.2 1105.3h1.3v1.3h-1.3zM221.8 1113.0h1.3v1.3h-1.3zM246.1 1108.7h1.3v1.3h-1.3zM257.2 1113.7h1.3v1.3h-1.3zM266.5 1120.4h1.3v1.3h-1.3zM273.8 1112.6h1.3v1.3h-1.3zM227.6 1115.7h1.3v1.3h-1.3zM275.2 1115.1h1.3v1.3h-1.3zM243.9 1106.7h1.3v1.3h-1.3zM271.9 1111.1h1.3v1.3h-1.3zM229.3 1117.2h1.3v1.3h-1.3zM241.9 1104.9h1.3v1.3h-1.3zM271.3 1111.0h1.3v1.3h-1.3zM275.4 1108.3h1.3v1.3h-1.3zM235.3 1114.0h1.3v1.3h-1.3zM274.8 1111.6h1.3v1.3h-1.3zM258.1 1122.3h1.3v1.3h-1.3zM225.1 1111.4h1.3v1.3h-1.3zM263.7 1116.3h1.3v1.3h-1.3zM229.4 1112.5h1.3v1.3h-1.3zM167.3 1065.9h1.3v1.3h-1.3zM271.7 1113.4h1.3v1.3h-1.3zM233.1 1114.3h1.3v1.3h-1.3zM238.8 1106.8h1.3v1.3h-1.3zM257.3 1124.0h1.3v1.3h-1.3zM273.3 1114.8h1.3v1.3h-1.3zM273.3 1118.2h1.3v1.3h-1.3zM224.2 1114.3h1.3v1.3h-1.3zM227.5 1115.7h1.3v1.3h-1.3zM239.3 1110.7h1.3v1.3h-1.3zM245.6 1106.3h1.3v1.3h-1.3zM236.5 1107.9h1.3v1.3h-1.3zM222.8 1113.1h1.3v1.3h-1.3zM227.7 1118.7h1.3v1.3h-1.3zM234.5 1120.5h1.3v1.3h-1.3zM227.8 1118.8h1.3v1.3h-1.3zM267.0 1110.6h1.3v1.3h-1.3zM246.3 1105.2h1.3v1.3h-1.3zM243.3 1122.3h1.3v1.3h-1.3zM236.0 1121.7h1.3v1.3h-1.3zM224.5 1111.0h1.3v1.3h-1.3zM228.9 1119.5h1.3v1.3h-1.3zM266.2 1107.8h1.3v1.3h-1.3zM246.2 1120.5h1.3v1.3h-1.3zM228.3 1119.4h1.3v1.3h-1.3zM244.0 1105.1h1.3v1.3h-1.3zM264.8 1121.3h1.3v1.3h-1.3zM232.3 1113.7h1.3v1.3h-1.3zM266.7 1117.4h1.3v1.3h-1.3zM225.4 1119.7h1.3v1.3h-1.3zM263.8 1106.5h1.3v1.3h-1.3zM257.7 1107.3h1.3v1.3h-1.3zM267.6 1108.6h1.3v1.3h-1.3zM247.3 1106.2h1.3v1.3h-1.3zM242.3 1108.4h1.3v1.3h-1.3zM257.0 1105.3h1.3v1.3h-1.3zM248.0 1107.5h1.3v1.3h-1.3zM230.0 1116.0h1.3v1.3h-1.3zM261.3 1121.7h1.3v1.3h-1.3zM221.1 1108.9h1.3v1.3h-1.3zM270.4 1112.9h1.3v1.3h-1.3zM236.7 1120.3h1.3v1.3h-1.3zM260.8 1111.1h1.3v1.3h-1.3zM266.9 1117.4h1.3v1.3h-1.3zM245.5 1119.3h1.3v1.3h-1.3zM269.3 1120.2h1.3v1.3h-1.3zM230.7 1106.6h1.3v1.3h-1.3zM232.8 1112.0h1.3v1.3h-1.3zM241.3 1121.1h1.3v1.3h-1.3zM262.6 1108.5h1.3v1.3h-1.3zM263.5 1107.1h1.3v1.3h-1.3zM273.7 1111.0h1.3v1.3h-1.3zM248.9 1112.6h1.3v1.3h-1.3zM248.8 1104.5h1.3v1.3h-1.3zM275.2 1114.1h1.3v1.3h-1.3zM259.4 1115.2h1.3v1.3h-1.3zM224.0 1107.0h1.3v1.3h-1.3zM268.1 1116.3h1.3v1.3h-1.3zM236.9 1106.7h1.3v1.3h-1.3zM241.7 1120.5h1.3v1.3h-1.3zM244.1 1121.4h1.3v1.3h-1.3zM242.9 1105.0h1.3v1.3h-1.3zM249.6 1105.5h1.3v1.3h-1.3zM236.2 1120.4h1.3v1.3h-1.3zM270.4 1122.4h1.3v1.3h-1.3zM247.6 1105.0h1.3v1.3h-1.3zM244.4 1107.1h1.3v1.3h-1.3zM236.1 1117.3h1.3v1.3h-1.3zM239.0 1115.8h1.3v1.3h-1.3zM233.6 1111.5h1.3v1.3h-1.3zM241.4 1105.9h1.3v1.3h-1.3zM248.2 1109.9h1.3v1.3h-1.3zM252.5 1122.2h1.3v1.3h-1.3zM226.4 1118.1h1.3v1.3h-1.3zM233.5 1121.4h1.3v1.3h-1.3zM261.4 1123.7h1.3v1.3h-1.3zM241.1 1119.1h1.3v1.3h-1.3zM252.8 1107.5h1.3v1.3h-1.3zM240.3 1108.3h1.3v1.3h-1.3zM245.9 1122.4h1.3v1.3h-1.3zM224.5 1111.8h1.3v1.3h-1.3zM240.0 1109.1h1.3v1.3h-1.3zM231.4 1120.1h1.3v1.3h-1.3zM265.0 1113.3h1.3v1.3h-1.3zM249.3 1115.6h1.3v1.3h-1.3zM221.8 1110.7h1.3v1.3h-1.3zM247.7 1106.2h1.3v1.3h-1.3zM266.8 1110.2h1.3v1.3h-1.3zM233.7 1116.9h1.3v1.3h-1.3zM245.1 1115.8h1.3v1.3h-1.3zM264.8 1118.5h1.3v1.3h-1.3zM249.5 1108.5h1.3v1.3h-1.3zM258.7 1113.5h1.3v1.3h-1.3zM243.8 1112.3h1.3v1.3h-1.3zM252.3 1107.8h1.3v1.3h-1.3zM249.6 1110.0h1.3v1.3h-1.3zM254.5 1106.8h1.3v1.3h-1.3zM247.6 1118.7h1.3v1.3h-1.3zM247.7 1122.8h1.3v1.3h-1.3zM222.8 1115.9h1.3v1.3h-1.3zM272.2 1116.3h1.3v1.3h-1.3zM250.4 1112.7h1.3v1.3h-1.3zM263.3 1121.4h1.3v1.3h-1.3zM239.2 1120.2h1.3v1.3h-1.3zM225.2 1109.2h1.3v1.3h-1.3zM247.6 1120.4h1.3v1.3h-1.3zM233.4 1116.6h1.3v1.3h-1.3zM272.9 1116.6h1.3v1.3h-1.3zM259.0 1105.1h1.3v1.3h-1.3zM251.8 1104.6h1.3v1.3h-1.3zM266.3 1110.0h1.3v1.3h-1.3zM266.2 1117.4h1.3v1.3h-1.3zM272.6 1113.4h1.3v1.3h-1.3zM224.0 1112.8h1.3v1.3h-1.3zM259.1 1107.3h1.3v1.3h-1.3zM235.9 1112.0h1.3v1.3h-1.3zM235.8 1110.2h1.3v1.3h-1.3zM267.2 1114.3h1.3v1.3h-1.3zM228.3 1118.5h1.3v1.3h-1.3zM236.0 1118.0h1.3v1.3h-1.3zM260.2 1105.6h1.3v1.3h-1.3zM229.3 1112.6h1.3v1.3h-1.3zM235.0 1114.0h1.3v1.3h-1.3zM239.3 1118.5h1.3v1.3h-1.3zM248.0 1123.2h1.3v1.3h-1.3zM257.5 1106.6h1.3v1.3h-1.3zM270.2 1113.0h1.3v1.3h-1.3zM245.1 1106.6h1.3v1.3h-1.3zM246.0 1106.1h1.3v1.3h-1.3zM229.3 1115.0h1.3v1.3h-1.3zM227.4 1116.1h1.3v1.3h-1.3zM261.2 1118.0h1.3v1.3h-1.3zM240.0 1120.3h1.3v1.3h-1.3zM243.5 1106.4h1.3v1.3h-1.3zM250.1 1107.3h1.3v1.3h-1.3zM262.1 1104.7h1.3v1.3h-1.3zM250.1 1106.5h1.3v1.3h-1.3zM258.7 1123.8h1.3v1.3h-1.3zM226.7 1108.7h1.3v1.3h-1.3zM262.8 1113.6h1.3v1.3h-1.3zM225.2 1111.2h1.3v1.3h-1.3zM245.7 1123.0h1.3v1.3h-1.3zM222.2 1112.8h1.3v1.3h-1.3zM262.1 1109.9h1.3v1.3h-1.3zM262.0 1110.0h1.3v1.3h-1.3zM250.8 1109.5h1.3v1.3h-1.3zM266.3 1110.1h1.3v1.3h-1.3zM234.1 1104.8h1.3v1.3h-1.3zM254.3 1123.5h1.3v1.3h-1.3zM231.9 1110.1h1.3v1.3h-1.3zM245.3 1110.7h1.3v1.3h-1.3zM250.3 1109.5h1.3v1.3h-1.3zM261.9 1122.8h1.3v1.3h-1.3zM242.4 1104.6h1.3v1.3h-1.3zM273.0 1117.0h1.3v1.3h-1.3zM237.6 1109.8h1.3v1.3h-1.3zM236.8 1118.0h1.3v1.3h-1.3zM269.0 1119.0h1.3v1.3h-1.3zM234.7 1109.7h1.3v1.3h-1.3zM232.6 1106.8h1.3v1.3h-1.3zM230.2 1111.3h1.3v1.3h-1.3zM228.5 1112.0h1.3v1.3h-1.3zM231.2 1117.9h1.3v1.3h-1.3zM241.9 1118.6h1.3v1.3h-1.3zM236.5 1107.8h1.3v1.3h-1.3zM250.5 1110.1h1.3v1.3h-1.3zM255.6 1117.9h1.3v1.3h-1.3zM230.3 1118.9h1.3v1.3h-1.3zM264.8 1121.3h1.3v1.3h-1.3zM233.5 1112.1h1.3v1.3h-1.3zM226.4 1109.0h1.3v1.3h-1.3zM255.0 1123.4h1.3v1.3h-1.3zM260.3 1125.5h1.3v1.3h-1.3zM273.1 1115.8h1.3v1.3h-1.3zM262.7 1109.3h1.3v1.3h-1.3zM269.3 1111.1h1.3v1.3h-1.3zM241.2 1119.4h1.3v1.3h-1.3zM240.6 1107.9h1.3v1.3h-1.3zM258.2 1107.0h1.3v1.3h-1.3zM265.9 1118.6h1.3v1.3h-1.3zM262.3 1122.1h1.3v1.3h-1.3zM265.3 1117.5h1.3v1.3h-1.3zM250.9 1109.0h1.3v1.3h-1.3zM243.1 1107.3h1.3v1.3h-1.3zM228.0 1117.5h1.3v1.3h-1.3zM256.1 1119.0h1.3v1.3h-1.3zM230.6 1109.0h1.3v1.3h-1.3zM255.7 1107.9h1.3v1.3h-1.3zM228.7 1117.4h1.3v1.3h-1.3zM251.8 1121.4h1.3v1.3h-1.3zM253.8 1123.8h1.3v1.3h-1.3zM249.1 1120.9h1.3v1.3h-1.3zM271.3 1116.6h1.3v1.3h-1.3zM246.9 1107.4h1.3v1.3h-1.3zM243.1 1110.5h1.3v1.3h-1.3zM249.8 1111.7h1.3v1.3h-1.3zM241.1 1119.7h1.3v1.3h-1.3zM230.5 1116.2h1.3v1.3h-1.3zM261.2 1122.6h1.3v1.3h-1.3zM224.7 1115.2h1.3v1.3h-1.3zM230.0 1115.4h1.3v1.3h-1.3zM262.7 1121.3h1.3v1.3h-1.3zM253.0 1109.7h1.3v1.3h-1.3zM267.6 1119.7h1.3v1.3h-1.3zM269.7 1115.9h1.3v1.3h-1.3zM266.3 1121.5h1.3v1.3h-1.3zM264.1 1122.0h1.3v1.3h-1.3zM262.6 1120.4h1.3v1.3h-1.3zM250.4 1109.5h1.3v1.3h-1.3zM240.7 1121.1h1.3v1.3h-1.3zM260.0 1122.0h1.3v1.3h-1.3zM263.2 1118.9h1.3v1.3h-1.3zM228.7 1110.1h1.3v1.3h-1.3zM255.3 1122.7h1.3v1.3h-1.3zM245.7 1114.1h1.3v1.3h-1.3zM269.2 1119.2h1.3v1.3h-1.3zM255.8 1115.8h1.3v1.3h-1.3zM264.9 1108.6h1.3v1.3h-1.3zM275.2 1114.9h1.3v1.3h-1.3zM262.6 1120.8h1.3v1.3h-1.3zM267.3 1119.0h1.3v1.3h-1.3zM264.6 1110.8h1.3v1.3h-1.3zM226.1 1111.8h1.3v1.3h-1.3zM248.9 1123.4h1.3v1.3h-1.3zM256.9 1107.9h1.3v1.3h-1.3zM233.5 1115.3h1.3v1.3h-1.3zM266.5 1109.2h1.3v1.3h-1.3zM246.2 1122.3h1.3v1.3h-1.3zM223.2 1111.6h1.3v1.3h-1.3zM246.6 1110.0h1.3v1.3h-1.3zM258.3 1108.4h1.3v1.3h-1.3zM229.9 1117.2h1.3v1.3h-1.3zM252.0 1110.6h1.3v1.3h-1.3zM256.1 1125.8h1.3v1.3h-1.3zM240.7 1104.4h1.3v1.3h-1.3zM260.6 1123.1h1.3v1.3h-1.3zM247.0 1121.4h1.3v1.3h-1.3zM232.3 1111.1h1.3v1.3h-1.3zM263.0 1109.5h1.3v1.3h-1.3zM250.8 1125.6h1.3v1.3h-1.3zM274.3 1115.1h1.3v1.3h-1.3zM244.8 1121.8h1.3v1.3h-1.3zM233.7 1106.2h1.3v1.3h-1.3zM229.4 1118.5h1.3v1.3h-1.3zM234.0 1111.2h1.3v1.3h-1.3zM233.1 1109.4h1.3v1.3h-1.3zM238.2 1120.3h1.3v1.3h-1.3zM250.8 1106.4h1.3v1.3h-1.3zM250.9 1106.4h1.3v1.3h-1.3zM247.8 1118.9h1.3v1.3h-1.3zM239.9 1120.5h1.3v1.3h-1.3zM252.7 1113.6h1.3v1.3h-1.3zM229.4 1118.4h1.3v1.3h-1.3zM245.9 1120.2h1.3v1.3h-1.3zM231.6 1117.8h1.3v1.3h-1.3zM226.0 1117.8h1.3v1.3h-1.3zM269.1 1117.2h1.3v1.3h-1.3zM271.3 1115.6h1.3v1.3h-1.3zM230.8 1118.3h1.3v1.3h-1.3zM267.8 1116.0h1.3v1.3h-1.3zM246.6 1107.0h1.3v1.3h-1.3zM230.6 1119.9h1.3v1.3h-1.3zM260.2 1118.5h1.3v1.3h-1.3zM244.4 1109.5h1.3v1.3h-1.3zM232.7 1112.0h1.3v1.3h-1.3zM263.4 1115.7h1.3v1.3h-1.3zM244.4 1120.7h1.3v1.3h-1.3zM247.8 1113.9h1.3v1.3h-1.3zM242.5 1105.2h1.3v1.3h-1.3zM263.0 1121.0h1.3v1.3h-1.3zM271.2 1118.9h1.3v1.3h-1.3zM250.6 1113.2h1.3v1.3h-1.3zM235.2 1120.0h1.3v1.3h-1.3zM269.1 1117.4h1.3v1.3h-1.3zM274.5 1115.4h1.3v1.3h-1.3zM256.7 1115.8h1.3v1.3h-1.3zM238.9 1106.2h1.3v1.3h-1.3zM246.3 1107.7h1.3v1.3h-1.3zM244.1 1110.2h1.3v1.3h-1.3zM272.1 1116.2h1.3v1.3h-1.3zM231.8 1110.5h1.3v1.3h-1.3zM227.2 1112.0h1.3v1.3h-1.3zM261.0 1104.0h1.3v1.3h-1.3zM254.0 1121.0h1.3v1.3h-1.3zM244.1 1122.9h1.3v1.3h-1.3zM240.9 1113.9h1.3v1.3h-1.3zM259.9 1118.9h1.3v1.3h-1.3zM243.9 1120.4h1.3v1.3h-1.3zM227.2 1112.9h1.3v1.3h-1.3zM263.1 1107.8h1.3v1.3h-1.3zM229.0 1115.8h1.3v1.3h-1.3zM232.3 1119.2h1.3v1.3h-1.3zM261.7 1106.3h1.3v1.3h-1.3zM269.3 1116.3h1.3v1.3h-1.3zM227.4 1113.5h1.3v1.3h-1.3zM234.4 1110.8h1.3v1.3h-1.3zM236.3 1108.7h1.3v1.3h-1.3zM230.4 1115.9h1.3v1.3h-1.3zM266.7 1116.7h1.3v1.3h-1.3zM266.9 1114.5h1.3v1.3h-1.3zM258.2 1115.9h1.3v1.3h-1.3zM224.8 1116.1h1.3v1.3h-1.3zM261.0 1121.1h1.3v1.3h-1.3zM241.6 1104.3h1.3v1.3h-1.3zM232.8 1107.0h1.3v1.3h-1.3zM245.9 1120.7h1.3v1.3h-1.3zM247.9 1109.6h1.3v1.3h-1.3zM261.2 1113.9h1.3v1.3h-1.3zM233.6 1121.4h1.3v1.3h-1.3zM245.6 1122.5h1.3v1.3h-1.3zM265.7 1109.8h1.3v1.3h-1.3zM262.8 1118.2h1.3v1.3h-1.3zM239.4 1109.9h1.3v1.3h-1.3zM230.0 1113.0h1.3v1.3h-1.3zM267.3 1117.7h1.3v1.3h-1.3zM265.2 1106.3h1.3v1.3h-1.3zM233.6 1117.9h1.3v1.3h-1.3zM252.6 1122.5h1.3v1.3h-1.3zM232.1 1119.2h1.3v1.3h-1.3zM255.6 1108.9h1.3v1.3h-1.3zM267.2 1118.6h1.3v1.3h-1.3zM245.1 1110.2h1.3v1.3h-1.3zM234.5 1117.0h1.3v1.3h-1.3zM238.7 1121.1h1.3v1.3h-1.3zM249.8 1120.6h1.3v1.3h-1.3zM248.1 1109.8h1.3v1.3h-1.3zM247.3 1107.3h1.3v1.3h-1.3zM241.0 1116.1h1.3v1.3h-1.3zM264.0 1120.4h1.3v1.3h-1.3zM267.7 1110.4h1.3v1.3h-1.3zM243.0 1111.9h1.3v1.3h-1.3zM230.8 1112.2h1.3v1.3h-1.3zM230.7 1118.5h1.3v1.3h-1.3zM244.2 1116.8h1.3v1.3h-1.3zM245.1 1121.1h1.3v1.3h-1.3zM261.5 1108.4h1.3v1.3h-1.3zM244.7 1118.1h1.3v1.3h-1.3zM267.0 1116.5h1.3v1.3h-1.3zM227.7 1115.7h1.3v1.3h-1.3zM272.0 1119.2h1.3v1.3h-1.3zM235.7 1119.4h1.3v1.3h-1.3zM243.0 1109.3h1.3v1.3h-1.3zM237.8 1113.5h1.3v1.3h-1.3zM275.2 1117.2h1.3v1.3h-1.3zM256.2 1118.4h1.3v1.3h-1.3zM251.5 1120.8h1.3v1.3h-1.3zM239.2 1120.1h1.3v1.3h-1.3zM264.8 1121.6h1.3v1.3h-1.3zM226.6 1111.0h1.3v1.3h-1.3zM233.3 1110.0h1.3v1.3h-1.3zM238.5 1119.7h1.3v1.3h-1.3zM256.8 1111.8h1.3v1.3h-1.3zM247.7 1122.5h1.3v1.3h-1.3zM223.0 1109.9h1.3v1.3h-1.3zM259.2 1120.2h1.3v1.3h-1.3zM239.5 1106.7h1.3v1.3h-1.3zM230.1 1117.4h1.3v1.3h-1.3zM233.3 1110.0h1.3v1.3h-1.3zM231.4 1114.4h1.3v1.3h-1.3zM239.7 1118.3h1.3v1.3h-1.3zM230.7 1109.5h1.3v1.3h-1.3zM243.6 1106.6h1.3v1.3h-1.3zM261.8 1107.6h1.3v1.3h-1.3zM261.8 1117.8h1.3v1.3h-1.3zM253.4 1107.9h1.3v1.3h-1.3zM230.7 1110.9h1.3v1.3h-1.3zM245.3 1113.8h1.3v1.3h-1.3zM248.8 1120.4h1.3v1.3h-1.3zM268.1 1111.7h1.3v1.3h-1.3zM253.3 1106.6h1.3v1.3h-1.3zM243.5 1107.1h1.3v1.3h-1.3z" fill="#2fb04a"/>
<path d="M254.2 1110.1h1.3v1.3h-1.3zM227.1 1108.8h1.3v1.3h-1.3zM264.1 1107.0h1.3v1.3h-1.3zM261.9 1124.0h1.3v1.3h-1.3zM260.7 1120.9h1.3v1.3h-1.3zM231.0 1115.7h1.3v1.3h-1.3zM260.3 1122.3h1.3v1.3h-1.3zM255.6 1107.0h1.3v1.3h-1.3zM249.5 1120.0h1.3v1.3h-1.3zM251.2 1123.2h1.3v1.3h-1.3zM229.9 1115.5h1.3v1.3h-1.3zM241.5 1108.8h1.3v1.3h-1.3zM244.2 1115.4h1.3v1.3h-1.3zM229.6 1118.8h1.3v1.3h-1.3zM233.4 1111.9h1.3v1.3h-1.3zM245.4 1114.6h1.3v1.3h-1.3zM240.7 1109.2h1.3v1.3h-1.3zM263.4 1110.6h1.3v1.3h-1.3zM245.7 1108.9h1.3v1.3h-1.3zM266.1 1117.0h1.3v1.3h-1.3zM242.7 1120.7h1.3v1.3h-1.3zM265.7 1115.1h1.3v1.3h-1.3zM225.9 1115.6h1.3v1.3h-1.3zM243.1 1123.2h1.3v1.3h-1.3zM253.3 1122.2h1.3v1.3h-1.3zM245.7 1107.3h1.3v1.3h-1.3zM269.4 1112.0h1.3v1.3h-1.3zM259.7 1106.1h1.3v1.3h-1.3zM268.7 1119.3h1.3v1.3h-1.3zM231.2 1110.7h1.3v1.3h-1.3zM272.5 1112.2h1.3v1.3h-1.3zM240.3 1117.3h1.3v1.3h-1.3zM238.7 1109.3h1.3v1.3h-1.3zM257.8 1106.3h1.3v1.3h-1.3zM268.4 1112.0h1.3v1.3h-1.3zM230.1 1118.9h1.3v1.3h-1.3zM259.4 1121.9h1.3v1.3h-1.3zM251.8 1118.3h1.3v1.3h-1.3zM234.7 1121.1h1.3v1.3h-1.3zM229.3 1119.7h1.3v1.3h-1.3zM234.0 1114.9h1.3v1.3h-1.3zM233.7 1119.7h1.3v1.3h-1.3zM252.5 1123.8h1.3v1.3h-1.3zM256.1 1109.4h1.3v1.3h-1.3zM260.3 1109.7h1.3v1.3h-1.3zM233.6 1120.7h1.3v1.3h-1.3zM264.6 1116.0h1.3v1.3h-1.3zM253.2 1109.3h1.3v1.3h-1.3zM247.3 1119.1h1.3v1.3h-1.3zM258.9 1107.6h1.3v1.3h-1.3zM253.5 1109.3h1.3v1.3h-1.3zM266.3 1119.6h1.3v1.3h-1.3zM225.3 1115.2h1.3v1.3h-1.3zM234.8 1117.3h1.3v1.3h-1.3zM259.5 1106.1h1.3v1.3h-1.3zM234.8 1111.7h1.3v1.3h-1.3zM241.2 1116.7h1.3v1.3h-1.3zM229.9 1120.0h1.3v1.3h-1.3zM248.6 1109.9h1.3v1.3h-1.3zM267.9 1118.8h1.3v1.3h-1.3zM245.9 1117.1h1.3v1.3h-1.3zM240.6 1120.0h1.3v1.3h-1.3zM265.1 1114.1h1.3v1.3h-1.3zM223.0 1116.9h1.3v1.3h-1.3zM249.9 1104.7h1.3v1.3h-1.3zM264.5 1115.4h1.3v1.3h-1.3zM257.4 1108.9h1.3v1.3h-1.3zM223.0 1111.0h1.3v1.3h-1.3zM263.8 1117.1h1.3v1.3h-1.3zM237.8 1110.3h1.3v1.3h-1.3zM244.0 1120.9h1.3v1.3h-1.3zM261.7 1114.0h1.3v1.3h-1.3zM238.0 1118.9h1.3v1.3h-1.3zM255.5 1123.8h1.3v1.3h-1.3zM250.8 1122.9h1.3v1.3h-1.3zM228.5 1109.8h1.3v1.3h-1.3zM264.6 1110.6h1.3v1.3h-1.3zM266.7 1115.8h1.3v1.3h-1.3zM258.1 1121.8h1.3v1.3h-1.3zM249.0 1107.7h1.3v1.3h-1.3zM237.1 1116.9h1.3v1.3h-1.3zM261.7 1114.2h1.3v1.3h-1.3zM254.9 1120.1h1.3v1.3h-1.3zM260.0 1108.8h1.3v1.3h-1.3zM233.0 1119.3h1.3v1.3h-1.3zM247.8 1113.8h1.3v1.3h-1.3zM241.4 1114.3h1.3v1.3h-1.3zM242.1 1106.4h1.3v1.3h-1.3zM258.8 1109.3h1.3v1.3h-1.3zM227.0 1114.7h1.3v1.3h-1.3zM228.4 1119.5h1.3v1.3h-1.3zM260.2 1107.9h1.3v1.3h-1.3zM257.6 1107.7h1.3v1.3h-1.3zM244.8 1114.0h1.3v1.3h-1.3zM241.5 1106.4h1.3v1.3h-1.3zM264.8 1111.2h1.3v1.3h-1.3zM264.2 1106.5h1.3v1.3h-1.3zM236.9 1115.7h1.3v1.3h-1.3zM256.9 1119.1h1.3v1.3h-1.3zM248.0 1119.1h1.3v1.3h-1.3zM250.1 1120.7h1.3v1.3h-1.3zM225.5 1108.7h1.3v1.3h-1.3zM226.8 1115.6h1.3v1.3h-1.3zM244.2 1112.4h1.3v1.3h-1.3zM242.8 1110.5h1.3v1.3h-1.3zM240.3 1119.9h1.3v1.3h-1.3zM241.6 1118.7h1.3v1.3h-1.3zM237.1 1116.1h1.3v1.3h-1.3zM241.4 1110.7h1.3v1.3h-1.3zM250.5 1114.2h1.3v1.3h-1.3zM249.8 1118.8h1.3v1.3h-1.3zM247.7 1117.2h1.3v1.3h-1.3zM240.9 1115.7h1.3v1.3h-1.3zM253.9 1111.8h1.3v1.3h-1.3zM243.8 1104.4h1.3v1.3h-1.3zM246.5 1122.0h1.3v1.3h-1.3zM247.8 1109.2h1.3v1.3h-1.3zM267.5 1112.3h1.3v1.3h-1.3zM266.2 1111.7h1.3v1.3h-1.3zM238.9 1118.2h1.3v1.3h-1.3zM246.3 1118.6h1.3v1.3h-1.3zM247.2 1112.0h1.3v1.3h-1.3zM254.6 1112.1h1.3v1.3h-1.3zM250.4 1123.7h1.3v1.3h-1.3zM234.0 1117.2h1.3v1.3h-1.3zM251.0 1107.9h1.3v1.3h-1.3zM247.0 1118.2h1.3v1.3h-1.3zM264.4 1119.1h1.3v1.3h-1.3zM247.5 1111.3h1.3v1.3h-1.3zM241.0 1115.3h1.3v1.3h-1.3zM229.9 1111.2h1.3v1.3h-1.3zM258.5 1108.5h1.3v1.3h-1.3zM257.0 1109.7h1.3v1.3h-1.3zM242.5 1118.2h1.3v1.3h-1.3zM262.0 1122.8h1.3v1.3h-1.3zM272.4 1112.6h1.3v1.3h-1.3zM248.1 1113.6h1.3v1.3h-1.3zM245.6 1118.0h1.3v1.3h-1.3zM253.7 1118.2h1.3v1.3h-1.3zM239.2 1117.8h1.3v1.3h-1.3zM258.7 1116.2h1.3v1.3h-1.3zM267.4 1110.0h1.3v1.3h-1.3zM238.8 1117.8h1.3v1.3h-1.3zM235.8 1114.2h1.3v1.3h-1.3zM232.0 1111.7h1.3v1.3h-1.3zM236.2 1111.2h1.3v1.3h-1.3zM255.3 1123.2h1.3v1.3h-1.3zM229.8 1117.3h1.3v1.3h-1.3zM236.0 1118.4h1.3v1.3h-1.3zM243.8 1121.0h1.3v1.3h-1.3zM267.0 1113.1h1.3v1.3h-1.3zM262.4 1119.7h1.3v1.3h-1.3zM232.8 1110.8h1.3v1.3h-1.3zM242.4 1115.7h1.3v1.3h-1.3zM239.3 1106.0h1.3v1.3h-1.3zM236.9 1113.1h1.3v1.3h-1.3zM241.7 1106.0h1.3v1.3h-1.3zM254.3 1106.4h1.3v1.3h-1.3zM265.3 1111.4h1.3v1.3h-1.3zM270.8 1116.7h1.3v1.3h-1.3zM263.9 1114.6h1.3v1.3h-1.3zM242.8 1121.0h1.3v1.3h-1.3zM262.1 1123.9h1.3v1.3h-1.3zM259.4 1111.3h1.3v1.3h-1.3zM265.1 1110.3h1.3v1.3h-1.3zM270.4 1114.3h1.3v1.3h-1.3zM244.4 1108.6h1.3v1.3h-1.3zM234.4 1115.6h1.3v1.3h-1.3zM248.4 1112.3h1.3v1.3h-1.3zM241.3 1111.7h1.3v1.3h-1.3zM247.2 1115.3h1.3v1.3h-1.3zM265.9 1118.1h1.3v1.3h-1.3zM267.2 1115.2h1.3v1.3h-1.3zM246.7 1112.3h1.3v1.3h-1.3zM263.0 1115.3h1.3v1.3h-1.3zM249.6 1113.1h1.3v1.3h-1.3zM265.5 1111.7h1.3v1.3h-1.3zM250.7 1122.9h1.3v1.3h-1.3zM235.1 1110.3h1.3v1.3h-1.3zM259.8 1112.3h1.3v1.3h-1.3zM266.1 1118.0h1.3v1.3h-1.3zM238.3 1117.9h1.3v1.3h-1.3zM249.9 1106.8h1.3v1.3h-1.3zM245.1 1123.9h1.3v1.3h-1.3zM231.0 1112.6h1.3v1.3h-1.3zM259.9 1117.4h1.3v1.3h-1.3zM239.2 1109.5h1.3v1.3h-1.3zM275.2 1114.1h1.3v1.3h-1.3zM272.2 1114.7h1.3v1.3h-1.3zM266.9 1110.4h1.3v1.3h-1.3zM245.8 1116.0h1.3v1.3h-1.3zM266.4 1111.6h1.3v1.3h-1.3zM267.0 1112.9h1.3v1.3h-1.3zM246.7 1107.4h1.3v1.3h-1.3zM234.1 1114.6h1.3v1.3h-1.3zM258.4 1121.9h1.3v1.3h-1.3zM247.4 1112.4h1.3v1.3h-1.3zM255.4 1122.9h1.3v1.3h-1.3zM238.9 1116.6h1.3v1.3h-1.3zM262.9 1113.0h1.3v1.3h-1.3zM236.9 1116.0h1.3v1.3h-1.3zM239.8 1116.5h1.3v1.3h-1.3zM263.6 1118.2h1.3v1.3h-1.3zM244.5 1119.6h1.3v1.3h-1.3zM245.3 1110.1h1.3v1.3h-1.3zM258.9 1119.9h1.3v1.3h-1.3zM260.7 1121.4h1.3v1.3h-1.3zM228.9 1111.7h1.3v1.3h-1.3zM267.5 1113.0h1.3v1.3h-1.3zM252.8 1121.3h1.3v1.3h-1.3zM228.4 1110.8h1.3v1.3h-1.3zM236.8 1113.6h1.3v1.3h-1.3zM236.3 1113.5h1.3v1.3h-1.3zM263.2 1117.6h1.3v1.3h-1.3zM266.0 1118.3h1.3v1.3h-1.3zM251.8 1109.5h1.3v1.3h-1.3zM229.3 1118.3h1.3v1.3h-1.3zM260.5 1119.1h1.3v1.3h-1.3zM254.6 1119.4h1.3v1.3h-1.3zM263.3 1115.9h1.3v1.3h-1.3zM234.6 1110.6h1.3v1.3h-1.3zM240.8 1119.7h1.3v1.3h-1.3zM244.5 1106.6h1.3v1.3h-1.3zM238.4 1112.9h1.3v1.3h-1.3zM259.9 1112.5h1.3v1.3h-1.3zM256.0 1121.1h1.3v1.3h-1.3zM248.3 1119.4h1.3v1.3h-1.3zM241.8 1113.4h1.3v1.3h-1.3zM260.2 1112.2h1.3v1.3h-1.3zM256.9 1111.7h1.3v1.3h-1.3zM234.7 1117.3h1.3v1.3h-1.3zM236.6 1113.0h1.3v1.3h-1.3zM244.2 1120.1h1.3v1.3h-1.3zM259.5 1121.5h1.3v1.3h-1.3zM263.4 1119.3h1.3v1.3h-1.3zM250.4 1118.3h1.3v1.3h-1.3zM263.6 1119.4h1.3v1.3h-1.3zM262.6 1113.1h1.3v1.3h-1.3zM263.6 1108.2h1.3v1.3h-1.3zM250.0 1107.6h1.3v1.3h-1.3zM262.0 1117.0h1.3v1.3h-1.3zM259.2 1111.0h1.3v1.3h-1.3zM241.1 1114.2h1.3v1.3h-1.3zM243.6 1109.9h1.3v1.3h-1.3zM243.6 1118.4h1.3v1.3h-1.3zM273.3 1112.8h1.3v1.3h-1.3zM261.7 1120.2h1.3v1.3h-1.3zM240.7 1119.1h1.3v1.3h-1.3zM231.0 1114.2h1.3v1.3h-1.3zM237.8 1117.1h1.3v1.3h-1.3zM237.6 1112.1h1.3v1.3h-1.3zM235.2 1112.8h1.3v1.3h-1.3zM243.2 1116.0h1.3v1.3h-1.3zM263.5 1116.7h1.3v1.3h-1.3zM255.3 1109.9h1.3v1.3h-1.3zM237.5 1113.7h1.3v1.3h-1.3zM258.4 1108.5h1.3v1.3h-1.3zM259.7 1110.6h1.3v1.3h-1.3zM230.1 1117.4h1.3v1.3h-1.3zM254.1 1112.6h1.3v1.3h-1.3zM234.0 1113.5h1.3v1.3h-1.3zM260.3 1113.4h1.3v1.3h-1.3zM262.5 1112.4h1.3v1.3h-1.3zM252.7 1120.9h1.3v1.3h-1.3zM257.7 1120.4h1.3v1.3h-1.3zM249.6 1108.2h1.3v1.3h-1.3zM239.1 1111.6h1.3v1.3h-1.3zM233.5 1113.2h1.3v1.3h-1.3zM237.3 1110.6h1.3v1.3h-1.3zM235.4 1118.1h1.3v1.3h-1.3zM240.0 1115.1h1.3v1.3h-1.3zM255.4 1121.1h1.3v1.3h-1.3zM250.6 1122.5h1.3v1.3h-1.3zM233.3 1111.9h1.3v1.3h-1.3zM258.4 1116.4h1.3v1.3h-1.3zM234.1 1110.0h1.3v1.3h-1.3zM252.7 1110.0h1.3v1.3h-1.3zM265.6 1111.8h1.3v1.3h-1.3zM253.8 1122.0h1.3v1.3h-1.3zM266.4 1119.6h1.3v1.3h-1.3zM244.7 1121.8h1.3v1.3h-1.3zM250.1 1109.6h1.3v1.3h-1.3zM268.3 1114.8h1.3v1.3h-1.3zM267.3 1110.6h1.3v1.3h-1.3zM262.6 1113.0h1.3v1.3h-1.3zM254.9 1107.5h1.3v1.3h-1.3zM245.6 1120.5h1.3v1.3h-1.3zM258.8 1112.4h1.3v1.3h-1.3zM237.0 1111.4h1.3v1.3h-1.3zM249.4 1113.4h1.3v1.3h-1.3zM240.8 1116.0h1.3v1.3h-1.3zM248.2 1114.0h1.3v1.3h-1.3zM262.3 1109.3h1.3v1.3h-1.3zM236.2 1112.1h1.3v1.3h-1.3zM262.6 1114.6h1.3v1.3h-1.3zM251.3 1120.1h1.3v1.3h-1.3zM229.2 1115.1h1.3v1.3h-1.3zM273.2 1112.1h1.3v1.3h-1.3zM271.0 1116.1h1.3v1.3h-1.3zM227.7 1113.5h1.3v1.3h-1.3zM243.3 1111.7h1.3v1.3h-1.3zM229.2 1117.7h1.3v1.3h-1.3zM252.5 1111.7h1.3v1.3h-1.3zM230.1 1114.7h1.3v1.3h-1.3zM265.0 1112.4h1.3v1.3h-1.3zM246.4 1108.1h1.3v1.3h-1.3zM259.6 1117.4h1.3v1.3h-1.3zM237.0 1111.8h1.3v1.3h-1.3zM238.6 1109.4h1.3v1.3h-1.3zM243.4 1115.6h1.3v1.3h-1.3zM238.2 1119.6h1.3v1.3h-1.3zM233.3 1110.0h1.3v1.3h-1.3zM250.2 1107.6h1.3v1.3h-1.3zM250.4 1106.9h1.3v1.3h-1.3zM253.4 1118.9h1.3v1.3h-1.3zM243.3 1113.5h1.3v1.3h-1.3zM263.3 1114.1h1.3v1.3h-1.3zM265.5 1117.2h1.3v1.3h-1.3zM250.1 1107.3h1.3v1.3h-1.3zM261.6 1124.0h1.3v1.3h-1.3zM240.9 1106.4h1.3v1.3h-1.3zM263.4 1109.8h1.3v1.3h-1.3zM237.2 1116.2h1.3v1.3h-1.3zM262.5 1112.2h1.3v1.3h-1.3zM261.6 1120.1h1.3v1.3h-1.3zM240.2 1111.0h1.3v1.3h-1.3zM232.7 1114.3h1.3v1.3h-1.3zM240.8 1108.3h1.3v1.3h-1.3zM259.9 1116.4h1.3v1.3h-1.3zM247.9 1116.0h1.3v1.3h-1.3zM233.8 1115.9h1.3v1.3h-1.3zM248.5 1115.4h1.3v1.3h-1.3zM257.9 1109.2h1.3v1.3h-1.3zM238.7 1112.6h1.3v1.3h-1.3zM234.3 1115.3h1.3v1.3h-1.3zM265.6 1111.1h1.3v1.3h-1.3zM233.8 1110.4h1.3v1.3h-1.3zM244.7 1115.5h1.3v1.3h-1.3zM256.1 1115.7h1.3v1.3h-1.3zM261.3 1118.7h1.3v1.3h-1.3zM239.5 1110.5h1.3v1.3h-1.3zM240.6 1111.9h1.3v1.3h-1.3zM263.0 1121.4h1.3v1.3h-1.3zM238.0 1118.2h1.3v1.3h-1.3zM230.8 1117.7h1.3v1.3h-1.3zM248.8 1110.7h1.3v1.3h-1.3zM262.3 1112.2h1.3v1.3h-1.3zM236.8 1112.4h1.3v1.3h-1.3zM248.4 1108.2h1.3v1.3h-1.3zM245.7 1119.1h1.3v1.3h-1.3zM262.3 1113.1h1.3v1.3h-1.3zM244.2 1107.4h1.3v1.3h-1.3zM266.2 1113.5h1.3v1.3h-1.3zM248.2 1121.4h1.3v1.3h-1.3zM245.7 1117.6h1.3v1.3h-1.3zM263.3 1112.3h1.3v1.3h-1.3zM234.3 1115.2h1.3v1.3h-1.3zM240.7 1117.7h1.3v1.3h-1.3zM247.8 1117.0h1.3v1.3h-1.3zM260.5 1111.7h1.3v1.3h-1.3zM242.1 1110.0h1.3v1.3h-1.3zM266.2 1115.4h1.3v1.3h-1.3zM241.2 1114.1h1.3v1.3h-1.3zM258.9 1119.8h1.3v1.3h-1.3zM251.2 1111.1h1.3v1.3h-1.3zM246.1 1106.4h1.3v1.3h-1.3zM226.8 1113.9h1.3v1.3h-1.3zM258.8 1109.5h1.3v1.3h-1.3zM261.0 1123.7h1.3v1.3h-1.3zM238.8 1113.3h1.3v1.3h-1.3zM247.0 1117.4h1.3v1.3h-1.3zM267.2 1115.5h1.3v1.3h-1.3zM245.3 1119.2h1.3v1.3h-1.3z" fill="#a8d030"/>
<path d="M266.8 1112.0h1.3v1.3h-1.3zM243.9 1110.1h1.3v1.3h-1.3zM249.1 1116.2h1.3v1.3h-1.3zM263.5 1109.4h1.3v1.3h-1.3zM251.4 1107.3h1.3v1.3h-1.3zM235.3 1113.9h1.3v1.3h-1.3zM252.9 1109.9h1.3v1.3h-1.3zM255.4 1120.8h1.3v1.3h-1.3zM242.3 1113.3h1.3v1.3h-1.3zM252.2 1110.6h1.3v1.3h-1.3zM259.5 1118.1h1.3v1.3h-1.3zM260.4 1113.4h1.3v1.3h-1.3zM262.7 1120.9h1.3v1.3h-1.3zM255.2 1120.6h1.3v1.3h-1.3zM253.5 1117.1h1.3v1.3h-1.3zM256.2 1111.4h1.3v1.3h-1.3zM230.7 1115.8h1.3v1.3h-1.3zM264.7 1113.7h1.3v1.3h-1.3zM233.9 1116.2h1.3v1.3h-1.3zM251.4 1121.0h1.3v1.3h-1.3zM266.7 1112.1h1.3v1.3h-1.3zM238.6 1111.6h1.3v1.3h-1.3zM242.1 1113.1h1.3v1.3h-1.3zM239.5 1114.9h1.3v1.3h-1.3zM236.8 1112.4h1.3v1.3h-1.3zM246.5 1113.8h1.3v1.3h-1.3zM243.2 1114.7h1.3v1.3h-1.3zM263.6 1119.7h1.3v1.3h-1.3zM253.5 1107.6h1.3v1.3h-1.3zM232.8 1116.2h1.3v1.3h-1.3zM250.9 1116.5h1.3v1.3h-1.3zM259.0 1117.5h1.3v1.3h-1.3zM231.3 1112.8h1.3v1.3h-1.3zM248.6 1113.4h1.3v1.3h-1.3zM237.6 1114.3h1.3v1.3h-1.3zM257.6 1117.4h1.3v1.3h-1.3zM240.5 1109.6h1.3v1.3h-1.3zM232.3 1113.6h1.3v1.3h-1.3zM260.7 1117.3h1.3v1.3h-1.3zM250.7 1108.2h1.3v1.3h-1.3zM251.6 1120.7h1.3v1.3h-1.3zM238.0 1113.7h1.3v1.3h-1.3zM264.9 1108.2h1.3v1.3h-1.3zM235.4 1114.4h1.3v1.3h-1.3zM250.5 1107.1h1.3v1.3h-1.3zM248.2 1110.2h1.3v1.3h-1.3zM263.3 1111.4h1.3v1.3h-1.3zM254.1 1118.3h1.3v1.3h-1.3zM253.7 1112.1h1.3v1.3h-1.3zM255.9 1111.7h1.3v1.3h-1.3zM233.8 1116.0h1.3v1.3h-1.3zM240.5 1110.1h1.3v1.3h-1.3zM254.7 1121.0h1.3v1.3h-1.3zM261.7 1121.7h1.3v1.3h-1.3zM265.3 1116.5h1.3v1.3h-1.3zM248.1 1108.3h1.3v1.3h-1.3zM242.8 1110.3h1.3v1.3h-1.3zM262.0 1116.8h1.3v1.3h-1.3zM250.3 1110.1h1.3v1.3h-1.3zM256.4 1111.1h1.3v1.3h-1.3zM235.8 1116.3h1.3v1.3h-1.3zM252.4 1108.2h1.3v1.3h-1.3zM253.4 1123.0h1.3v1.3h-1.3zM255.2 1111.5h1.3v1.3h-1.3zM247.2 1114.4h1.3v1.3h-1.3zM252.7 1113.0h1.3v1.3h-1.3zM237.4 1108.2h1.3v1.3h-1.3zM258.5 1112.7h1.3v1.3h-1.3zM266.1 1113.2h1.3v1.3h-1.3zM248.7 1119.6h1.3v1.3h-1.3zM236.3 1118.7h1.3v1.3h-1.3zM236.1 1108.4h1.3v1.3h-1.3zM262.3 1118.3h1.3v1.3h-1.3zM234.7 1110.9h1.3v1.3h-1.3zM265.2 1116.3h1.3v1.3h-1.3zM266.1 1110.5h1.3v1.3h-1.3zM235.8 1111.7h1.3v1.3h-1.3zM263.2 1115.3h1.3v1.3h-1.3zM239.7 1118.9h1.3v1.3h-1.3zM260.5 1113.4h1.3v1.3h-1.3zM253.7 1114.8h1.3v1.3h-1.3zM252.4 1111.9h1.3v1.3h-1.3zM246.6 1110.6h1.3v1.3h-1.3zM246.7 1120.1h1.3v1.3h-1.3zM243.1 1112.0h1.3v1.3h-1.3zM250.1 1123.1h1.3v1.3h-1.3zM259.3 1118.0h1.3v1.3h-1.3zM233.3 1114.3h1.3v1.3h-1.3zM231.9 1111.9h1.3v1.3h-1.3zM261.6 1111.2h1.3v1.3h-1.3zM261.9 1114.1h1.3v1.3h-1.3zM233.6 1117.0h1.3v1.3h-1.3zM234.5 1116.9h1.3v1.3h-1.3zM245.5 1112.0h1.3v1.3h-1.3zM243.4 1111.0h1.3v1.3h-1.3zM258.1 1119.7h1.3v1.3h-1.3zM235.0 1113.7h1.3v1.3h-1.3zM237.3 1118.4h1.3v1.3h-1.3zM247.9 1121.0h1.3v1.3h-1.3zM259.6 1117.7h1.3v1.3h-1.3zM250.0 1121.5h1.3v1.3h-1.3zM249.7 1113.8h1.3v1.3h-1.3zM240.5 1111.4h1.3v1.3h-1.3zM230.2 1112.7h1.3v1.3h-1.3zM254.0 1110.6h1.3v1.3h-1.3zM241.1 1117.6h1.3v1.3h-1.3zM244.1 1117.2h1.3v1.3h-1.3zM245.6 1114.2h1.3v1.3h-1.3zM269.0 1116.7h1.3v1.3h-1.3zM237.0 1116.3h1.3v1.3h-1.3zM267.4 1113.2h1.3v1.3h-1.3zM241.8 1110.7h1.3v1.3h-1.3zM258.0 1121.5h1.3v1.3h-1.3zM260.8 1117.3h1.3v1.3h-1.3zM244.7 1117.4h1.3v1.3h-1.3zM242.5 1113.1h1.3v1.3h-1.3zM260.8 1116.7h1.3v1.3h-1.3zM249.2 1118.7h1.3v1.3h-1.3zM242.8 1117.3h1.3v1.3h-1.3zM264.0 1116.7h1.3v1.3h-1.3zM242.4 1117.0h1.3v1.3h-1.3zM247.6 1117.1h1.3v1.3h-1.3zM253.4 1122.2h1.3v1.3h-1.3zM239.6 1112.5h1.3v1.3h-1.3zM246.6 1113.7h1.3v1.3h-1.3zM251.8 1116.7h1.3v1.3h-1.3zM243.8 1115.8h1.3v1.3h-1.3zM252.4 1106.2h1.3v1.3h-1.3zM260.5 1121.8h1.3v1.3h-1.3zM242.6 1116.3h1.3v1.3h-1.3zM234.2 1115.1h1.3v1.3h-1.3zM243.4 1110.5h1.3v1.3h-1.3zM245.9 1119.7h1.3v1.3h-1.3zM258.8 1109.1h1.3v1.3h-1.3zM254.5 1108.3h1.3v1.3h-1.3zM246.0 1111.1h1.3v1.3h-1.3zM253.8 1108.2h1.3v1.3h-1.3zM255.1 1117.9h1.3v1.3h-1.3zM258.9 1119.4h1.3v1.3h-1.3zM243.8 1113.9h1.3v1.3h-1.3zM251.1 1118.1h1.3v1.3h-1.3zM229.1 1116.9h1.3v1.3h-1.3zM249.2 1122.4h1.3v1.3h-1.3zM265.4 1110.2h1.3v1.3h-1.3zM261.1 1112.6h1.3v1.3h-1.3zM247.5 1118.7h1.3v1.3h-1.3zM257.9 1121.0h1.3v1.3h-1.3zM234.1 1112.4h1.3v1.3h-1.3zM248.8 1121.5h1.3v1.3h-1.3zM258.8 1110.1h1.3v1.3h-1.3zM251.4 1109.4h1.3v1.3h-1.3zM239.3 1116.7h1.3v1.3h-1.3zM236.3 1113.3h1.3v1.3h-1.3zM238.3 1113.0h1.3v1.3h-1.3zM246.0 1114.5h1.3v1.3h-1.3zM252.4 1122.0h1.3v1.3h-1.3zM236.9 1116.4h1.3v1.3h-1.3zM263.6 1112.6h1.3v1.3h-1.3zM240.7 1115.5h1.3v1.3h-1.3zM257.9 1109.7h1.3v1.3h-1.3zM251.3 1113.1h1.3v1.3h-1.3zM256.8 1108.7h1.3v1.3h-1.3zM258.2 1114.1h1.3v1.3h-1.3zM254.7 1121.0h1.3v1.3h-1.3zM233.5 1111.0h1.3v1.3h-1.3zM253.5 1111.8h1.3v1.3h-1.3zM246.2 1116.1h1.3v1.3h-1.3zM247.8 1116.7h1.3v1.3h-1.3zM260.0 1114.2h1.3v1.3h-1.3zM246.3 1117.9h1.3v1.3h-1.3zM255.1 1120.4h1.3v1.3h-1.3zM259.3 1109.4h1.3v1.3h-1.3zM258.9 1115.5h1.3v1.3h-1.3zM233.3 1111.7h1.3v1.3h-1.3zM234.5 1117.4h1.3v1.3h-1.3zM255.0 1117.7h1.3v1.3h-1.3zM237.9 1116.8h1.3v1.3h-1.3zM265.1 1110.8h1.3v1.3h-1.3zM257.2 1108.4h1.3v1.3h-1.3zM253.2 1110.3h1.3v1.3h-1.3zM239.9 1116.1h1.3v1.3h-1.3zM247.5 1119.9h1.3v1.3h-1.3zM258.4 1113.7h1.3v1.3h-1.3zM238.8 1114.6h1.3v1.3h-1.3zM259.3 1120.6h1.3v1.3h-1.3zM262.4 1118.0h1.3v1.3h-1.3zM249.0 1117.7h1.3v1.3h-1.3zM250.0 1113.3h1.3v1.3h-1.3zM242.6 1118.4h1.3v1.3h-1.3zM262.5 1119.8h1.3v1.3h-1.3zM235.1 1110.7h1.3v1.3h-1.3zM247.7 1110.9h1.3v1.3h-1.3zM253.2 1124.0h1.3v1.3h-1.3zM243.3 1120.7h1.3v1.3h-1.3zM252.5 1120.2h1.3v1.3h-1.3zM255.1 1116.0h1.3v1.3h-1.3zM250.2 1117.0h1.3v1.3h-1.3zM257.8 1119.0h1.3v1.3h-1.3zM259.3 1120.0h1.3v1.3h-1.3zM246.6 1119.8h1.3v1.3h-1.3zM254.7 1120.1h1.3v1.3h-1.3zM262.6 1117.5h1.3v1.3h-1.3zM258.9 1118.9h1.3v1.3h-1.3zM252.9 1120.6h1.3v1.3h-1.3zM250.2 1115.9h1.3v1.3h-1.3zM258.9 1121.2h1.3v1.3h-1.3zM245.5 1120.7h1.3v1.3h-1.3zM245.3 1118.6h1.3v1.3h-1.3zM251.4 1118.0h1.3v1.3h-1.3zM256.6 1119.1h1.3v1.3h-1.3zM264.4 1110.6h1.3v1.3h-1.3zM265.1 1113.9h1.3v1.3h-1.3zM233.7 1113.2h1.3v1.3h-1.3zM265.0 1111.2h1.3v1.3h-1.3zM235.6 1116.6h1.3v1.3h-1.3zM250.6 1114.8h1.3v1.3h-1.3zM253.5 1118.2h1.3v1.3h-1.3zM240.0 1109.2h1.3v1.3h-1.3zM242.4 1112.5h1.3v1.3h-1.3zM258.7 1121.0h1.3v1.3h-1.3zM269.5 1116.9h1.3v1.3h-1.3zM245.4 1120.4h1.3v1.3h-1.3zM258.8 1113.8h1.3v1.3h-1.3zM242.6 1110.3h1.3v1.3h-1.3zM258.4 1111.0h1.3v1.3h-1.3zM252.1 1110.4h1.3v1.3h-1.3zM258.5 1111.4h1.3v1.3h-1.3zM248.1 1118.1h1.3v1.3h-1.3zM263.7 1110.8h1.3v1.3h-1.3zM235.5 1114.9h1.3v1.3h-1.3zM235.6 1115.4h1.3v1.3h-1.3zM250.6 1116.7h1.3v1.3h-1.3zM260.0 1115.1h1.3v1.3h-1.3zM241.7 1117.2h1.3v1.3h-1.3zM248.6 1118.2h1.3v1.3h-1.3zM240.2 1111.5h1.3v1.3h-1.3zM257.5 1118.8h1.3v1.3h-1.3zM254.6 1120.2h1.3v1.3h-1.3zM247.4 1111.3h1.3v1.3h-1.3zM253.8 1119.2h1.3v1.3h-1.3zM243.5 1114.7h1.3v1.3h-1.3zM254.0 1112.3h1.3v1.3h-1.3zM238.7 1113.1h1.3v1.3h-1.3zM244.1 1119.6h1.3v1.3h-1.3zM253.5 1120.8h1.3v1.3h-1.3zM244.1 1117.9h1.3v1.3h-1.3zM256.2 1110.8h1.3v1.3h-1.3zM244.1 1111.8h1.3v1.3h-1.3zM256.8 1111.4h1.3v1.3h-1.3zM252.9 1119.9h1.3v1.3h-1.3zM269.7 1114.4h1.3v1.3h-1.3zM241.8 1108.9h1.3v1.3h-1.3zM250.7 1119.5h1.3v1.3h-1.3zM241.8 1113.2h1.3v1.3h-1.3zM246.3 1110.1h1.3v1.3h-1.3zM268.1 1117.2h1.3v1.3h-1.3zM252.6 1109.6h1.3v1.3h-1.3zM251.3 1114.1h1.3v1.3h-1.3zM244.6 1115.0h1.3v1.3h-1.3zM259.5 1108.6h1.3v1.3h-1.3zM245.5 1116.2h1.3v1.3h-1.3zM248.6 1108.5h1.3v1.3h-1.3zM243.4 1111.4h1.3v1.3h-1.3zM238.5 1115.5h1.3v1.3h-1.3zM244.0 1112.4h1.3v1.3h-1.3zM263.9 1116.5h1.3v1.3h-1.3zM237.3 1117.3h1.3v1.3h-1.3zM252.1 1118.2h1.3v1.3h-1.3zM232.9 1114.6h1.3v1.3h-1.3zM253.0 1113.5h1.3v1.3h-1.3zM244.7 1114.5h1.3v1.3h-1.3zM248.6 1109.1h1.3v1.3h-1.3zM239.1 1113.7h1.3v1.3h-1.3zM247.1 1116.0h1.3v1.3h-1.3zM259.7 1113.6h1.3v1.3h-1.3zM257.6 1116.4h1.3v1.3h-1.3zM240.7 1112.1h1.3v1.3h-1.3zM253.3 1117.2h1.3v1.3h-1.3zM254.0 1109.1h1.3v1.3h-1.3zM234.6 1113.1h1.3v1.3h-1.3zM249.2 1108.2h1.3v1.3h-1.3zM260.8 1109.1h1.3v1.3h-1.3zM256.4 1114.7h1.3v1.3h-1.3zM254.5 1111.3h1.3v1.3h-1.3zM246.9 1118.5h1.3v1.3h-1.3zM251.1 1119.4h1.3v1.3h-1.3zM259.3 1113.3h1.3v1.3h-1.3zM251.1 1111.8h1.3v1.3h-1.3zM239.6 1112.3h1.3v1.3h-1.3zM232.6 1116.8h1.3v1.3h-1.3zM263.7 1110.2h1.3v1.3h-1.3zM247.5 1119.3h1.3v1.3h-1.3zM235.6 1114.5h1.3v1.3h-1.3zM250.6 1116.8h1.3v1.3h-1.3zM249.7 1112.7h1.3v1.3h-1.3zM255.5 1116.5h1.3v1.3h-1.3zM235.5 1114.6h1.3v1.3h-1.3zM233.6 1111.8h1.3v1.3h-1.3zM264.1 1115.7h1.3v1.3h-1.3zM244.6 1114.4h1.3v1.3h-1.3zM253.4 1110.9h1.3v1.3h-1.3zM248.0 1114.1h1.3v1.3h-1.3zM234.5 1116.3h1.3v1.3h-1.3zM255.2 1119.0h1.3v1.3h-1.3zM233.3 1112.8h1.3v1.3h-1.3zM269.6 1114.4h1.3v1.3h-1.3zM258.7 1117.2h1.3v1.3h-1.3zM260.4 1120.8h1.3v1.3h-1.3zM237.4 1117.1h1.3v1.3h-1.3zM255.3 1108.6h1.3v1.3h-1.3zM253.2 1115.7h1.3v1.3h-1.3zM260.3 1120.3h1.3v1.3h-1.3zM240.5 1115.8h1.3v1.3h-1.3zM238.5 1111.8h1.3v1.3h-1.3zM263.7 1113.5h1.3v1.3h-1.3zM242.9 1113.8h1.3v1.3h-1.3zM241.3 1115.8h1.3v1.3h-1.3zM242.5 1110.4h1.3v1.3h-1.3zM237.4 1116.9h1.3v1.3h-1.3zM243.2 1110.2h1.3v1.3h-1.3zM240.5 1115.5h1.3v1.3h-1.3zM241.4 1115.2h1.3v1.3h-1.3zM258.7 1110.4h1.3v1.3h-1.3zM248.7 1112.2h1.3v1.3h-1.3zM254.4 1117.6h1.3v1.3h-1.3zM258.3 1114.6h1.3v1.3h-1.3zM253.5 1120.7h1.3v1.3h-1.3zM254.0 1119.5h1.3v1.3h-1.3zM257.4 1112.7h1.3v1.3h-1.3zM248.3 1112.5h1.3v1.3h-1.3zM233.5 1112.7h1.3v1.3h-1.3zM237.0 1117.3h1.3v1.3h-1.3zM257.8 1111.5h1.3v1.3h-1.3zM251.1 1115.8h1.3v1.3h-1.3zM243.6 1112.2h1.3v1.3h-1.3zM250.6 1118.8h1.3v1.3h-1.3zM257.0 1115.0h1.3v1.3h-1.3zM260.7 1116.1h1.3v1.3h-1.3zM252.0 1117.2h1.3v1.3h-1.3zM236.5 1116.1h1.3v1.3h-1.3zM244.4 1112.3h1.3v1.3h-1.3zM242.7 1116.2h1.3v1.3h-1.3zM250.7 1114.0h1.3v1.3h-1.3zM243.3 1112.4h1.3v1.3h-1.3zM262.2 1115.3h1.3v1.3h-1.3zM262.1 1117.0h1.3v1.3h-1.3zM263.6 1113.5h1.3v1.3h-1.3zM252.5 1118.1h1.3v1.3h-1.3zM244.3 1109.6h1.3v1.3h-1.3zM239.4 1115.6h1.3v1.3h-1.3zM242.5 1111.1h1.3v1.3h-1.3zM252.7 1116.1h1.3v1.3h-1.3zM251.0 1119.8h1.3v1.3h-1.3zM244.2 1111.4h1.3v1.3h-1.3zM254.6 1118.9h1.3v1.3h-1.3zM255.0 1116.3h1.3v1.3h-1.3zM243.0 1113.9h1.3v1.3h-1.3zM254.0 1114.2h1.3v1.3h-1.3zM260.6 1117.1h1.3v1.3h-1.3zM246.8 1118.6h1.3v1.3h-1.3zM241.0 1110.9h1.3v1.3h-1.3zM244.5 1116.4h1.3v1.3h-1.3zM243.7 1121.3h1.3v1.3h-1.3zM248.8 1119.2h1.3v1.3h-1.3zM238.8 1110.5h1.3v1.3h-1.3zM240.0 1111.2h1.3v1.3h-1.3zM244.2 1112.6h1.3v1.3h-1.3zM246.3 1117.6h1.3v1.3h-1.3zM261.7 1115.9h1.3v1.3h-1.3zM259.8 1109.7h1.3v1.3h-1.3zM245.3 1110.2h1.3v1.3h-1.3zM249.3 1113.2h1.3v1.3h-1.3zM246.8 1110.0h1.3v1.3h-1.3zM247.3 1117.8h1.3v1.3h-1.3zM243.9 1117.4h1.3v1.3h-1.3zM250.3 1108.5h1.3v1.3h-1.3zM254.5 1115.8h1.3v1.3h-1.3zM242.2 1114.1h1.3v1.3h-1.3zM244.9 1112.6h1.3v1.3h-1.3zM244.9 1110.1h1.3v1.3h-1.3zM256.7 1121.1h1.3v1.3h-1.3zM254.8 1113.7h1.3v1.3h-1.3zM256.2 1108.4h1.3v1.3h-1.3zM253.5 1108.9h1.3v1.3h-1.3zM250.2 1110.3h1.3v1.3h-1.3zM239.2 1117.6h1.3v1.3h-1.3zM260.6 1114.2h1.3v1.3h-1.3zM252.1 1109.6h1.3v1.3h-1.3zM251.6 1110.3h1.3v1.3h-1.3zM247.3 1110.5h1.3v1.3h-1.3zM251.2 1114.8h1.3v1.3h-1.3zM250.6 1112.6h1.3v1.3h-1.3zM248.6 1116.4h1.3v1.3h-1.3zM239.3 1114.2h1.3v1.3h-1.3zM253.9 1121.2h1.3v1.3h-1.3zM249.8 1115.3h1.3v1.3h-1.3zM253.3 1118.3h1.3v1.3h-1.3zM248.2 1118.0h1.3v1.3h-1.3zM247.9 1110.4h1.3v1.3h-1.3zM245.9 1119.9h1.3v1.3h-1.3zM247.4 1117.4h1.3v1.3h-1.3zM262.0 1113.2h1.3v1.3h-1.3zM250.4 1111.7h1.3v1.3h-1.3zM254.7 1119.5h1.3v1.3h-1.3zM245.6 1113.3h1.3v1.3h-1.3zM245.1 1114.5h1.3v1.3h-1.3zM258.2 1120.3h1.3v1.3h-1.3zM242.8 1111.5h1.3v1.3h-1.3zM259.5 1112.9h1.3v1.3h-1.3zM243.2 1111.8h1.3v1.3h-1.3zM247.7 1118.2h1.3v1.3h-1.3zM245.1 1117.3h1.3v1.3h-1.3zM262.1 1116.8h1.3v1.3h-1.3zM239.6 1117.9h1.3v1.3h-1.3zM254.9 1119.4h1.3v1.3h-1.3zM269.9 1114.0h1.3v1.3h-1.3zM240.0 1116.2h1.3v1.3h-1.3zM257.5 1117.5h1.3v1.3h-1.3zM249.5 1116.2h1.3v1.3h-1.3zM254.8 1115.8h1.3v1.3h-1.3zM246.2 1115.9h1.3v1.3h-1.3zM250.0 1114.1h1.3v1.3h-1.3zM249.6 1115.6h1.3v1.3h-1.3zM257.3 1118.0h1.3v1.3h-1.3zM253.8 1110.8h1.3v1.3h-1.3zM246.9 1115.7h1.3v1.3h-1.3zM245.2 1118.5h1.3v1.3h-1.3zM246.3 1119.1h1.3v1.3h-1.3zM238.9 1112.2h1.3v1.3h-1.3zM256.8 1117.4h1.3v1.3h-1.3zM253.1 1118.0h1.3v1.3h-1.3zM247.0 1118.6h1.3v1.3h-1.3zM259.9 1114.1h1.3v1.3h-1.3zM246.4 1112.6h1.3v1.3h-1.3zM243.7 1117.7h1.3v1.3h-1.3zM252.9 1115.9h1.3v1.3h-1.3zM243.3 1114.2h1.3v1.3h-1.3zM252.2 1114.5h1.3v1.3h-1.3zM241.6 1117.5h1.3v1.3h-1.3zM256.5 1113.1h1.3v1.3h-1.3zM252.6 1112.8h1.3v1.3h-1.3zM256.7 1117.6h1.3v1.3h-1.3zM253.2 1119.4h1.3v1.3h-1.3zM241.4 1114.8h1.3v1.3h-1.3zM244.3 1110.2h1.3v1.3h-1.3zM255.9 1117.1h1.3v1.3h-1.3zM245.0 1109.7h1.3v1.3h-1.3zM257.4 1113.5h1.3v1.3h-1.3zM254.8 1111.8h1.3v1.3h-1.3zM256.4 1115.1h1.3v1.3h-1.3zM238.8 1117.2h1.3v1.3h-1.3zM257.4 1117.3h1.3v1.3h-1.3zM255.7 1114.6h1.3v1.3h-1.3zM256.4 1112.3h1.3v1.3h-1.3zM248.6 1111.4h1.3v1.3h-1.3zM258.7 1114.6h1.3v1.3h-1.3zM248.9 1113.5h1.3v1.3h-1.3zM249.9 1110.1h1.3v1.3h-1.3zM247.4 1118.5h1.3v1.3h-1.3zM242.8 1115.6h1.3v1.3h-1.3zM243.1 1114.0h1.3v1.3h-1.3zM238.1 1112.9h1.3v1.3h-1.3zM234.6 1117.6h1.3v1.3h-1.3zM256.4 1121.2h1.3v1.3h-1.3zM256.4 1113.1h1.3v1.3h-1.3zM240.5 1114.0h1.3v1.3h-1.3zM246.0 1117.2h1.3v1.3h-1.3zM260.1 1117.4h1.3v1.3h-1.3zM245.6 1114.9h1.3v1.3h-1.3zM261.4 1114.9h1.3v1.3h-1.3zM248.8 1113.7h1.3v1.3h-1.3zM258.3 1110.4h1.3v1.3h-1.3zM245.6 1115.1h1.3v1.3h-1.3zM260.2 1115.2h1.3v1.3h-1.3zM234.8 1115.9h1.3v1.3h-1.3zM261.2 1110.4h1.3v1.3h-1.3zM252.5 1120.5h1.3v1.3h-1.3zM262.1 1112.3h1.3v1.3h-1.3zM252.6 1109.9h1.3v1.3h-1.3zM254.6 1117.7h1.3v1.3h-1.3zM257.5 1110.9h1.3v1.3h-1.3zM239.6 1115.6h1.3v1.3h-1.3zM248.8 1117.1h1.3v1.3h-1.3zM242.1 1111.7h1.3v1.3h-1.3zM241.4 1112.5h1.3v1.3h-1.3zM238.1 1117.4h1.3v1.3h-1.3zM247.6 1111.1h1.3v1.3h-1.3zM253.1 1118.6h1.3v1.3h-1.3zM256.1 1117.5h1.3v1.3h-1.3zM250.1 1109.0h1.3v1.3h-1.3zM255.4 1111.4h1.3v1.3h-1.3zM261.8 1119.8h1.3v1.3h-1.3zM260.9 1110.8h1.3v1.3h-1.3zM245.7 1116.5h1.3v1.3h-1.3zM262.0 1114.1h1.3v1.3h-1.3zM250.2 1113.5h1.3v1.3h-1.3zM251.4 1110.1h1.3v1.3h-1.3zM256.2 1116.0h1.3v1.3h-1.3zM234.8 1112.8h1.3v1.3h-1.3zM248.8 1114.6h1.3v1.3h-1.3zM256.8 1115.7h1.3v1.3h-1.3zM260.4 1117.5h1.3v1.3h-1.3zM256.9 1112.5h1.3v1.3h-1.3zM245.0 1115.7h1.3v1.3h-1.3zM254.8 1113.0h1.3v1.3h-1.3zM256.3 1113.3h1.3v1.3h-1.3zM259.0 1110.7h1.3v1.3h-1.3zM261.9 1117.3h1.3v1.3h-1.3zM250.3 1113.8h1.3v1.3h-1.3zM255.5 1116.3h1.3v1.3h-1.3zM246.4 1110.7h1.3v1.3h-1.3zM260.1 1111.1h1.3v1.3h-1.3zM259.3 1117.2h1.3v1.3h-1.3zM254.2 1113.6h1.3v1.3h-1.3zM246.9 1115.4h1.3v1.3h-1.3zM247.5 1112.5h1.3v1.3h-1.3zM256.1 1115.0h1.3v1.3h-1.3zM258.2 1121.2h1.3v1.3h-1.3zM256.5 1117.9h1.3v1.3h-1.3zM251.6 1119.9h1.3v1.3h-1.3zM261.7 1113.6h1.3v1.3h-1.3zM249.1 1117.7h1.3v1.3h-1.3zM239.0 1116.3h1.3v1.3h-1.3zM254.5 1115.4h1.3v1.3h-1.3zM251.9 1110.7h1.3v1.3h-1.3zM255.1 1115.3h1.3v1.3h-1.3zM255.4 1114.1h1.3v1.3h-1.3zM255.1 1119.6h1.3v1.3h-1.3zM237.4 1114.2h1.3v1.3h-1.3zM234.5 1114.4h1.3v1.3h-1.3zM238.7 1117.2h1.3v1.3h-1.3zM259.4 1118.4h1.3v1.3h-1.3zM234.4 1113.9h1.3v1.3h-1.3zM243.0 1112.4h1.3v1.3h-1.3zM254.8 1115.0h1.3v1.3h-1.3zM255.8 1117.9h1.3v1.3h-1.3zM254.4 1121.9h1.3v1.3h-1.3zM250.9 1113.7h1.3v1.3h-1.3zM261.6 1115.1h1.3v1.3h-1.3zM244.0 1116.8h1.3v1.3h-1.3zM245.0 1118.5h1.3v1.3h-1.3zM257.6 1119.4h1.3v1.3h-1.3zM252.6 1120.9h1.3v1.3h-1.3zM254.2 1110.2h1.3v1.3h-1.3zM245.5 1114.9h1.3v1.3h-1.3zM250.3 1112.2h1.3v1.3h-1.3zM252.7 1118.4h1.3v1.3h-1.3zM250.9 1112.0h1.3v1.3h-1.3zM251.3 1112.4h1.3v1.3h-1.3zM258.0 1115.6h1.3v1.3h-1.3zM255.6 1111.0h1.3v1.3h-1.3zM251.3 1114.8h1.3v1.3h-1.3zM254.0 1117.5h1.3v1.3h-1.3zM254.7 1121.2h1.3v1.3h-1.3zM255.1 1118.8h1.3v1.3h-1.3zM256.0 1113.6h1.3v1.3h-1.3zM255.2 1113.1h1.3v1.3h-1.3zM252.3 1120.5h1.3v1.3h-1.3zM251.7 1114.3h1.3v1.3h-1.3zM260.2 1112.7h1.3v1.3h-1.3zM246.7 1112.3h1.3v1.3h-1.3zM244.6 1117.8h1.3v1.3h-1.3zM259.0 1111.7h1.3v1.3h-1.3zM247.7 1115.8h1.3v1.3h-1.3zM244.3 1110.3h1.3v1.3h-1.3zM260.2 1120.4h1.3v1.3h-1.3zM256.1 1110.5h1.3v1.3h-1.3zM237.9 1113.0h1.3v1.3h-1.3zM251.3 1116.0h1.3v1.3h-1.3zM249.9 1115.1h1.3v1.3h-1.3zM253.9 1118.8h1.3v1.3h-1.3zM254.4 1112.8h1.3v1.3h-1.3zM257.7 1116.7h1.3v1.3h-1.3zM250.2 1118.1h1.3v1.3h-1.3zM247.8 1114.8h1.3v1.3h-1.3zM249.3 1114.8h1.3v1.3h-1.3zM241.1 1114.4h1.3v1.3h-1.3zM258.6 1110.9h1.3v1.3h-1.3zM249.3 1117.3h1.3v1.3h-1.3zM254.8 1119.7h1.3v1.3h-1.3zM254.8 1119.2h1.3v1.3h-1.3zM251.7 1118.1h1.3v1.3h-1.3zM255.4 1115.7h1.3v1.3h-1.3zM254.0 1110.4h1.3v1.3h-1.3zM254.5 1119.9h1.3v1.3h-1.3zM237.6 1115.1h1.3v1.3h-1.3zM254.4 1121.1h1.3v1.3h-1.3zM238.1 1115.2h1.3v1.3h-1.3zM261.5 1114.7h1.3v1.3h-1.3zM262.2 1111.8h1.3v1.3h-1.3zM253.1 1120.5h1.3v1.3h-1.3zM236.5 1115.4h1.3v1.3h-1.3z" fill="#ece428"/>
<path d="M256.3 1111.4h1.3v1.3h-1.3zM250.9 1118.4h1.3v1.3h-1.3zM252.4 1115.1h1.3v1.3h-1.3zM258.4 1118.7h1.3v1.3h-1.3zM253.5 1113.4h1.3v1.3h-1.3zM253.0 1110.6h1.3v1.3h-1.3zM251.9 1108.9h1.3v1.3h-1.3zM256.6 1112.1h1.3v1.3h-1.3zM247.4 1118.1h1.3v1.3h-1.3zM249.3 1120.8h1.3v1.3h-1.3zM261.6 1112.7h1.3v1.3h-1.3zM256.3 1115.3h1.3v1.3h-1.3zM247.7 1115.8h1.3v1.3h-1.3zM249.0 1112.6h1.3v1.3h-1.3zM254.4 1118.0h1.3v1.3h-1.3zM252.4 1116.9h1.3v1.3h-1.3zM258.7 1116.0h1.3v1.3h-1.3zM258.3 1112.9h1.3v1.3h-1.3zM257.3 1113.9h1.3v1.3h-1.3zM248.6 1117.2h1.3v1.3h-1.3zM252.6 1121.6h1.3v1.3h-1.3zM256.8 1110.9h1.3v1.3h-1.3zM249.3 1116.4h1.3v1.3h-1.3zM259.1 1119.1h1.3v1.3h-1.3zM251.9 1119.4h1.3v1.3h-1.3zM258.8 1112.2h1.3v1.3h-1.3zM258.3 1111.5h1.3v1.3h-1.3zM258.6 1115.1h1.3v1.3h-1.3zM246.4 1110.9h1.3v1.3h-1.3zM245.5 1116.6h1.3v1.3h-1.3zM250.5 1117.2h1.3v1.3h-1.3zM245.1 1113.4h1.3v1.3h-1.3zM252.3 1112.9h1.3v1.3h-1.3zM260.6 1114.2h1.3v1.3h-1.3zM257.2 1119.9h1.3v1.3h-1.3zM246.7 1115.7h1.3v1.3h-1.3zM256.7 1119.8h1.3v1.3h-1.3zM256.1 1116.3h1.3v1.3h-1.3zM254.0 1116.7h1.3v1.3h-1.3zM263.4 1114.4h1.3v1.3h-1.3zM254.4 1111.6h1.3v1.3h-1.3zM261.6 1114.5h1.3v1.3h-1.3zM256.1 1118.0h1.3v1.3h-1.3zM250.4 1121.7h1.3v1.3h-1.3zM256.2 1113.4h1.3v1.3h-1.3zM259.6 1114.7h1.3v1.3h-1.3zM259.2 1118.7h1.3v1.3h-1.3zM252.2 1111.0h1.3v1.3h-1.3zM261.1 1115.7h1.3v1.3h-1.3zM256.1 1116.7h1.3v1.3h-1.3zM258.5 1117.1h1.3v1.3h-1.3zM249.7 1114.5h1.3v1.3h-1.3zM236.1 1113.3h1.3v1.3h-1.3zM257.6 1118.5h1.3v1.3h-1.3zM260.1 1117.8h1.3v1.3h-1.3zM251.2 1112.1h1.3v1.3h-1.3zM259.8 1118.0h1.3v1.3h-1.3zM253.1 1115.2h1.3v1.3h-1.3zM249.8 1114.9h1.3v1.3h-1.3zM255.4 1121.8h1.3v1.3h-1.3zM258.5 1117.5h1.3v1.3h-1.3zM258.8 1114.0h1.3v1.3h-1.3zM256.3 1118.6h1.3v1.3h-1.3zM257.1 1110.2h1.3v1.3h-1.3zM258.6 1112.8h1.3v1.3h-1.3zM252.2 1115.7h1.3v1.3h-1.3zM257.6 1112.7h1.3v1.3h-1.3zM254.5 1119.9h1.3v1.3h-1.3zM237.9 1113.5h1.3v1.3h-1.3zM259.4 1115.5h1.3v1.3h-1.3zM254.1 1110.4h1.3v1.3h-1.3zM252.6 1118.2h1.3v1.3h-1.3zM259.1 1114.0h1.3v1.3h-1.3zM257.9 1113.3h1.3v1.3h-1.3zM260.4 1117.3h1.3v1.3h-1.3zM246.9 1115.9h1.3v1.3h-1.3zM245.4 1113.5h1.3v1.3h-1.3zM260.4 1111.4h1.3v1.3h-1.3zM258.0 1111.5h1.3v1.3h-1.3zM252.6 1118.4h1.3v1.3h-1.3zM251.9 1115.8h1.3v1.3h-1.3zM260.2 1117.8h1.3v1.3h-1.3zM244.3 1115.3h1.3v1.3h-1.3zM254.0 1112.8h1.3v1.3h-1.3zM251.3 1117.7h1.3v1.3h-1.3zM238.9 1117.2h1.3v1.3h-1.3zM253.7 1111.6h1.3v1.3h-1.3zM244.7 1119.6h1.3v1.3h-1.3zM250.5 1111.7h1.3v1.3h-1.3zM251.1 1115.8h1.3v1.3h-1.3zM255.1 1118.5h1.3v1.3h-1.3zM247.8 1115.6h1.3v1.3h-1.3zM245.8 1113.6h1.3v1.3h-1.3zM258.5 1114.0h1.3v1.3h-1.3zM253.0 1112.7h1.3v1.3h-1.3zM252.7 1116.7h1.3v1.3h-1.3zM255.5 1116.0h1.3v1.3h-1.3zM254.0 1113.9h1.3v1.3h-1.3zM251.7 1119.3h1.3v1.3h-1.3zM255.0 1115.6h1.3v1.3h-1.3zM253.9 1111.8h1.3v1.3h-1.3zM252.0 1115.6h1.3v1.3h-1.3zM256.3 1115.8h1.3v1.3h-1.3zM249.0 1114.5h1.3v1.3h-1.3zM247.0 1116.3h1.3v1.3h-1.3zM257.9 1114.5h1.3v1.3h-1.3zM254.5 1119.3h1.3v1.3h-1.3zM249.0 1116.6h1.3v1.3h-1.3zM259.0 1113.4h1.3v1.3h-1.3zM253.7 1119.4h1.3v1.3h-1.3zM257.4 1116.4h1.3v1.3h-1.3zM249.6 1113.4h1.3v1.3h-1.3zM250.4 1117.6h1.3v1.3h-1.3zM248.3 1116.0h1.3v1.3h-1.3zM253.2 1120.0h1.3v1.3h-1.3zM259.7 1114.3h1.3v1.3h-1.3zM245.3 1114.0h1.3v1.3h-1.3zM247.3 1113.4h1.3v1.3h-1.3zM258.9 1114.8h1.3v1.3h-1.3zM255.9 1114.5h1.3v1.3h-1.3zM253.9 1117.0h1.3v1.3h-1.3zM246.9 1117.4h1.3v1.3h-1.3zM257.1 1112.5h1.3v1.3h-1.3zM255.7 1114.3h1.3v1.3h-1.3zM250.7 1112.5h1.3v1.3h-1.3zM258.8 1116.3h1.3v1.3h-1.3zM256.2 1117.1h1.3v1.3h-1.3zM254.0 1118.3h1.3v1.3h-1.3zM249.2 1117.2h1.3v1.3h-1.3zM251.7 1115.8h1.3v1.3h-1.3zM255.0 1117.2h1.3v1.3h-1.3zM259.1 1117.6h1.3v1.3h-1.3zM255.2 1114.3h1.3v1.3h-1.3zM252.8 1118.7h1.3v1.3h-1.3zM246.4 1116.5h1.3v1.3h-1.3zM250.5 1114.5h1.3v1.3h-1.3zM253.5 1116.5h1.3v1.3h-1.3z" fill="#f4a428"/>
<path d="M254.3 1115.1h1.3v1.3h-1.3zM255.7 1112.0h1.3v1.3h-1.3zM252.8 1112.5h1.3v1.3h-1.3zM251.7 1116.7h1.3v1.3h-1.3zM259.2 1114.8h1.3v1.3h-1.3zM250.0 1114.2h1.3v1.3h-1.3zM248.0 1115.2h1.3v1.3h-1.3zM245.5 1114.6h1.3v1.3h-1.3zM250.5 1116.5h1.3v1.3h-1.3zM254.4 1116.3h1.3v1.3h-1.3zM254.1 1117.7h1.3v1.3h-1.3zM248.6 1114.3h1.3v1.3h-1.3zM248.7 1114.8h1.3v1.3h-1.3zM250.8 1117.5h1.3v1.3h-1.3zM252.4 1118.6h1.3v1.3h-1.3zM251.6 1116.5h1.3v1.3h-1.3zM251.3 1115.4h1.3v1.3h-1.3zM251.6 1118.4h1.3v1.3h-1.3zM252.0 1115.2h1.3v1.3h-1.3zM255.4 1112.4h1.3v1.3h-1.3zM254.6 1116.0h1.3v1.3h-1.3zM254.5 1117.3h1.3v1.3h-1.3zM250.8 1116.8h1.3v1.3h-1.3zM259.2 1119.8h1.3v1.3h-1.3zM253.3 1115.1h1.3v1.3h-1.3zM249.6 1113.4h1.3v1.3h-1.3zM253.2 1115.5h1.3v1.3h-1.3zM255.0 1115.7h1.3v1.3h-1.3zM251.9 1114.6h1.3v1.3h-1.3zM251.4 1116.7h1.3v1.3h-1.3zM253.6 1115.4h1.3v1.3h-1.3zM253.4 1117.8h1.3v1.3h-1.3zM250.6 1115.4h1.3v1.3h-1.3zM252.8 1116.1h1.3v1.3h-1.3zM255.0 1112.8h1.3v1.3h-1.3zM253.8 1117.1h1.3v1.3h-1.3zM260.0 1113.9h1.3v1.3h-1.3zM254.2 1116.3h1.3v1.3h-1.3z" fill="#e8302a"/>
<rect x="108.4" y="894.0" width="292.2" height="292.4" fill="none" stroke="#111" stroke-width="1.4"/>
<line x1="181.9" y1="894.0" x2="181.9" y2="1186.4" stroke="#000" stroke-width="2.2" />
<line x1="108.4" y1="1091.2" x2="400.6" y2="1091.2" stroke="#000" stroke-width="2.2" />
<text x="109.2" y="932.2" font-size="25" text-anchor="start" font-weight="bold" font-family="Liberation Sans" >SwMe</text>
<text x="381.6" y="941.8" font-size="25" text-anchor="end" font-weight="bold" font-family="Liberation Sans" >NSM</text>
<text x="116.3" y="1179.6" font-size="25" text-anchor="start" font-weight="bold" font-family="Liberation Sans" >DN</text>
<text x="386.6" y="1175.6" font-size="25" text-anchor="end" font-weight="bold" font-family="Liberation Sans" >Naive</text>
<line x1="100.4" y1="921.8" x2="108.4" y2="921.8" stroke="#111" stroke-width="1.4" />
<line x1="100.4" y1="991.0" x2="108.4" y2="991.0" stroke="#111" stroke-width="1.4" />
<line x1="100.4" y1="1071.8" x2="108.4" y2="1071.8" stroke="#111" stroke-width="1.4" />
<line x1="100.4" y1="1120.0" x2="108.4" y2="1120.0" stroke="#111" stroke-width="1.4" />
<line x1="100.4" y1="1167.0" x2="108.4" y2="1167.0" stroke="#111" stroke-width="1.4" />
<line x1="104.3" y1="970.2" x2="108.4" y2="970.2" stroke="#111" stroke-width="1.1" />
<line x1="104.3" y1="958.0" x2="108.4" y2="958.0" stroke="#111" stroke-width="1.1" />
<line x1="104.3" y1="949.3" x2="108.4" y2="949.3" stroke="#111" stroke-width="1.1" />
<line x1="104.3" y1="942.6" x2="108.4" y2="942.6" stroke="#111" stroke-width="1.1" />
<line x1="104.3" y1="937.2" x2="108.4" y2="937.2" stroke="#111" stroke-width="1.1" />
<line x1="104.3" y1="932.5" x2="108.4" y2="932.5" stroke="#111" stroke-width="1.1" />
<line x1="104.3" y1="928.5" x2="108.4" y2="928.5" stroke="#111" stroke-width="1.1" />
<line x1="104.3" y1="925.0" x2="108.4" y2="925.0" stroke="#111" stroke-width="1.1" />
<line x1="104.3" y1="1047.5" x2="108.4" y2="1047.5" stroke="#111" stroke-width="1.1" />
<line x1="104.3" y1="1033.2" x2="108.4" y2="1033.2" stroke="#111" stroke-width="1.1" />
<line x1="104.3" y1="1023.2" x2="108.4" y2="1023.2" stroke="#111" stroke-width="1.1" />
<line x1="104.3" y1="1015.3" x2="108.4" y2="1015.3" stroke="#111" stroke-width="1.1" />
<line x1="104.3" y1="1008.9" x2="108.4" y2="1008.9" stroke="#111" stroke-width="1.1" />
<line x1="104.3" y1="1003.5" x2="108.4" y2="1003.5" stroke="#111" stroke-width="1.1" />
<line x1="104.3" y1="998.8" x2="108.4" y2="998.8" stroke="#111" stroke-width="1.1" />
<line x1="104.3" y1="994.7" x2="108.4" y2="994.7" stroke="#111" stroke-width="1.1" />
<line x1="104.3" y1="901.0" x2="108.4" y2="901.0" stroke="#111" stroke-width="1.1" />
<line x1="104.1" y1="1077.5" x2="108.4" y2="1077.5" stroke="#111" stroke-width="1.1" />
<line x1="104.1" y1="1083.0" x2="108.4" y2="1083.0" stroke="#111" stroke-width="1.1" />
<line x1="104.1" y1="1088.3" x2="108.4" y2="1088.3" stroke="#111" stroke-width="1.1" />
<line x1="104.1" y1="1093.5" x2="108.4" y2="1093.5" stroke="#111" stroke-width="1.1" />
<line x1="104.1" y1="1098.3" x2="108.4" y2="1098.3" stroke="#111" stroke-width="1.1" />
<line x1="104.1" y1="1103.5" x2="108.4" y2="1103.5" stroke="#111" stroke-width="1.1" />
<line x1="104.1" y1="1108.8" x2="108.4" y2="1108.8" stroke="#111" stroke-width="1.1" />
<line x1="104.1" y1="1130.6" x2="108.4" y2="1130.6" stroke="#111" stroke-width="1.1" />
<line x1="104.1" y1="1136.3" x2="108.4" y2="1136.3" stroke="#111" stroke-width="1.1" />
<line x1="104.1" y1="1141.5" x2="108.4" y2="1141.5" stroke="#111" stroke-width="1.1" />
<line x1="104.1" y1="1152.0" x2="108.4" y2="1152.0" stroke="#111" stroke-width="1.1" />
<line x1="104.1" y1="1157.2" x2="108.4" y2="1157.2" stroke="#111" stroke-width="1.1" />
<line x1="104.1" y1="1162.5" x2="108.4" y2="1162.5" stroke="#111" stroke-width="1.1" />
<line x1="101.5" y1="1146.8" x2="108.4" y2="1146.8" stroke="#111" stroke-width="1.3" />
<path d="M100 1113H108.3V1126H100L103 1123.5L100 1120.5L103 1118.5L100 1115.5Z" fill="#111"/>
<line x1="123.7" y1="1186.4" x2="123.7" y2="1193.9" stroke="#111" stroke-width="1.4" />
<line x1="143.4" y1="1186.4" x2="143.4" y2="1193.9" stroke="#111" stroke-width="1.4" />
<line x1="165.3" y1="1186.4" x2="165.3" y2="1193.9" stroke="#111" stroke-width="1.4" />
<line x1="222.0" y1="1186.4" x2="222.0" y2="1193.9" stroke="#111" stroke-width="1.4" />
<line x1="276.4" y1="1186.4" x2="276.4" y2="1193.9" stroke="#111" stroke-width="1.4" />
<line x1="329.0" y1="1186.4" x2="329.0" y2="1193.9" stroke="#111" stroke-width="1.4" />
<line x1="383.3" y1="1186.4" x2="383.3" y2="1193.9" stroke="#111" stroke-width="1.4" />
<line x1="181.9" y1="1186.4" x2="181.9" y2="1193.9" stroke="#111" stroke-width="1.4" />
<line x1="238.4" y1="1186.4" x2="238.4" y2="1190.4" stroke="#111" stroke-width="1.1" />
<line x1="248.0" y1="1186.4" x2="248.0" y2="1190.4" stroke="#111" stroke-width="1.1" />
<line x1="254.8" y1="1186.4" x2="254.8" y2="1190.4" stroke="#111" stroke-width="1.1" />
<line x1="260.0" y1="1186.4" x2="260.0" y2="1190.4" stroke="#111" stroke-width="1.1" />
<line x1="264.3" y1="1186.4" x2="264.3" y2="1190.4" stroke="#111" stroke-width="1.1" />
<line x1="268.0" y1="1186.4" x2="268.0" y2="1190.4" stroke="#111" stroke-width="1.1" />
<line x1="271.1" y1="1186.4" x2="271.1" y2="1190.4" stroke="#111" stroke-width="1.1" />
<line x1="273.9" y1="1186.4" x2="273.9" y2="1190.4" stroke="#111" stroke-width="1.1" />
<line x1="292.2" y1="1186.4" x2="292.2" y2="1190.4" stroke="#111" stroke-width="1.1" />
<line x1="301.5" y1="1186.4" x2="301.5" y2="1190.4" stroke="#111" stroke-width="1.1" />
<line x1="308.1" y1="1186.4" x2="308.1" y2="1190.4" stroke="#111" stroke-width="1.1" />
<line x1="313.2" y1="1186.4" x2="313.2" y2="1190.4" stroke="#111" stroke-width="1.1" />
<line x1="317.3" y1="1186.4" x2="317.3" y2="1190.4" stroke="#111" stroke-width="1.1" />
<line x1="320.9" y1="1186.4" x2="320.9" y2="1190.4" stroke="#111" stroke-width="1.1" />
<line x1="323.9" y1="1186.4" x2="323.9" y2="1190.4" stroke="#111" stroke-width="1.1" />
<line x1="326.6" y1="1186.4" x2="326.6" y2="1190.4" stroke="#111" stroke-width="1.1" />
<line x1="345.3" y1="1186.4" x2="345.3" y2="1190.4" stroke="#111" stroke-width="1.1" />
<line x1="354.9" y1="1186.4" x2="354.9" y2="1190.4" stroke="#111" stroke-width="1.1" />
<line x1="361.7" y1="1186.4" x2="361.7" y2="1190.4" stroke="#111" stroke-width="1.1" />
<line x1="367.0" y1="1186.4" x2="367.0" y2="1190.4" stroke="#111" stroke-width="1.1" />
<line x1="371.3" y1="1186.4" x2="371.3" y2="1190.4" stroke="#111" stroke-width="1.1" />
<line x1="374.9" y1="1186.4" x2="374.9" y2="1190.4" stroke="#111" stroke-width="1.1" />
<line x1="378.0" y1="1186.4" x2="378.0" y2="1190.4" stroke="#111" stroke-width="1.1" />
<line x1="380.8" y1="1186.4" x2="380.8" y2="1190.4" stroke="#111" stroke-width="1.1" />
<line x1="193.6" y1="1186.4" x2="193.6" y2="1190.4" stroke="#111" stroke-width="1.1" />
<line x1="200.4" y1="1186.4" x2="200.4" y2="1190.4" stroke="#111" stroke-width="1.1" />
<line x1="205.6" y1="1186.4" x2="205.6" y2="1190.4" stroke="#111" stroke-width="1.1" />
<line x1="209.9" y1="1186.4" x2="209.9" y2="1190.4" stroke="#111" stroke-width="1.1" />
<line x1="213.6" y1="1186.4" x2="213.6" y2="1190.4" stroke="#111" stroke-width="1.1" />
<line x1="216.7" y1="1186.4" x2="216.7" y2="1190.4" stroke="#111" stroke-width="1.1" />
<line x1="219.5" y1="1186.4" x2="219.5" y2="1190.4" stroke="#111" stroke-width="1.1" />
<line x1="127.0" y1="1186.4" x2="127.0" y2="1190.4" stroke="#111" stroke-width="1.1" />
<line x1="130.0" y1="1186.4" x2="130.0" y2="1190.4" stroke="#111" stroke-width="1.1" />
<line x1="133.0" y1="1186.4" x2="133.0" y2="1190.4" stroke="#111" stroke-width="1.1" />
<line x1="136.0" y1="1186.4" x2="136.0" y2="1190.4" stroke="#111" stroke-width="1.1" />
<line x1="139.0" y1="1186.4" x2="139.0" y2="1190.4" stroke="#111" stroke-width="1.1" />
<line x1="141.0" y1="1186.4" x2="141.0" y2="1190.4" stroke="#111" stroke-width="1.1" />
<line x1="146.0" y1="1186.4" x2="146.0" y2="1190.4" stroke="#111" stroke-width="1.1" />
<line x1="148.0" y1="1186.4" x2="148.0" y2="1190.4" stroke="#111" stroke-width="1.1" />
<line x1="151.0" y1="1186.4" x2="151.0" y2="1190.4" stroke="#111" stroke-width="1.1" />
<line x1="154.0" y1="1186.4" x2="154.0" y2="1190.4" stroke="#111" stroke-width="1.1" />
<line x1="157.0" y1="1186.4" x2="157.0" y2="1190.4" stroke="#111" stroke-width="1.1" />
<line x1="160.0" y1="1186.4" x2="160.0" y2="1190.4" stroke="#111" stroke-width="1.1" />
<line x1="162.0" y1="1186.4" x2="162.0" y2="1190.4" stroke="#111" stroke-width="1.1" />
<line x1="112.0" y1="1186.4" x2="112.0" y2="1190.4" stroke="#111" stroke-width="1.1" />
<rect x="140.5" y="1186.4" width="6" height="5" fill="#111"/>
<text x="71.3" y="931.8" font-family="Liberation Sans" font-weight="bold" font-size="14.5">10</text><text x="86.3" y="921.2" font-family="Liberation Sans" font-weight="bold" font-size="14.5">5</text>
<text x="71.3" y="1001.0" font-family="Liberation Sans" font-weight="bold" font-size="14.5">10</text><text x="86.3" y="990.4" font-family="Liberation Sans" font-weight="bold" font-size="14.5">4</text>
<text x="71.3" y="1081.8" font-family="Liberation Sans" font-weight="bold" font-size="14.5">10</text><text x="86.3" y="1071.2" font-family="Liberation Sans" font-weight="bold" font-size="14.5">3</text>
<text x="71.3" y="1177.0" font-family="Liberation Sans" font-weight="bold" font-size="14.5">10</text><text x="86.3" y="1166.4" font-family="Liberation Sans" font-weight="bold" font-size="14.5">3</text>
<text x="82.2" y="1125.3" font-family="Liberation Sans" font-weight="bold" font-size="14.5" text-anchor="middle">0</text>
<text x="148.8" y="1216.7" font-family="Liberation Sans" font-weight="bold" font-size="14.5" text-anchor="middle">0</text>
<text x="219.5" y="1216.7" font-family="Liberation Sans" font-weight="bold" font-size="14.5">10</text><text x="234.7" y="1207.8" font-family="Liberation Sans" font-weight="bold" font-size="14.5">3</text>
<text x="275.5" y="1216.7" font-family="Liberation Sans" font-weight="bold" font-size="14.5">10</text><text x="290.7" y="1207.8" font-family="Liberation Sans" font-weight="bold" font-size="14.5">4</text>
<text x="329" y="1216.7" font-family="Liberation Sans" font-weight="bold" font-size="14.5">10</text><text x="344.2" y="1207.8" font-family="Liberation Sans" font-weight="bold" font-size="14.5">5</text>
<text x="376.8" y="1216.7" font-family="Liberation Sans" font-weight="bold" font-size="14.5">10</text><text x="392.0" y="1207.8" font-family="Liberation Sans" font-weight="bold" font-size="14.5">6</text>
<text transform="translate(57.9,1039) rotate(-90)" font-size="25.5" font-weight="bold" text-anchor="middle" font-family="Liberation Sans">CD27</text>
<text x="258.5" y="1253.0" font-size="25.5" text-anchor="middle" font-weight="bold" font-family="Liberation Sans" >IgD</text>
<text x="0" y="0" font-size="35.5" font-weight="bold" font-family="Liberation Sans" stroke="#000" stroke-width="0.9" style="fill:#000" transform="translate(439.7,884.2) scale(0.77,1)">E</text>
<line x1="554.5" y1="1001.1" x2="554.5" y2="1179.9" stroke="#1a1a1a" stroke-width="1.4" />
<line x1="537.0" y1="1179.2" x2="554.5" y2="1179.2" stroke="#1a1a1a" stroke-width="1.4" />
<text x="532.8" y="1186.6" font-size="25" text-anchor="end" font-weight="normal" font-family="Liberation Sans" >0</text>
<line x1="537.0" y1="1143.6" x2="554.5" y2="1143.6" stroke="#1a1a1a" stroke-width="1.4" />
<text x="532.8" y="1151.0" font-size="25" text-anchor="end" font-weight="normal" font-family="Liberation Sans" >20</text>
<line x1="537.0" y1="1108.0" x2="554.5" y2="1108.0" stroke="#1a1a1a" stroke-width="1.4" />
<text x="532.8" y="1115.4" font-size="25" text-anchor="end" font-weight="normal" font-family="Liberation Sans" >40</text>
<line x1="537.0" y1="1072.3" x2="554.5" y2="1072.3" stroke="#1a1a1a" stroke-width="1.4" />
<text x="532.8" y="1079.7" font-size="25" text-anchor="end" font-weight="normal" font-family="Liberation Sans" >60</text>
<line x1="537.0" y1="1036.7" x2="554.5" y2="1036.7" stroke="#1a1a1a" stroke-width="1.4" />
<text x="532.8" y="1044.1" font-size="25" text-anchor="end" font-weight="normal" font-family="Liberation Sans" >80</text>
<line x1="537.0" y1="1001.1" x2="554.5" y2="1001.1" stroke="#1a1a1a" stroke-width="1.4" />
<text x="532.8" y="1008.5" font-size="25" text-anchor="end" font-weight="normal" font-family="Liberation Sans" >100</text>
<line x1="537.0" y1="1179.2" x2="822.4" y2="1179.2" stroke="#1a1a1a" stroke-width="1.4" />
<line x1="612.6" y1="1179.2" x2="612.6" y2="1196.2" stroke="#1a1a1a" stroke-width="1.4" />
<text x="610.4" y="1221.4" font-size="25" text-anchor="middle" font-weight="normal" font-family="Liberation Sans" >HD</text>
<line x1="688.3" y1="1179.2" x2="688.3" y2="1196.2" stroke="#1a1a1a" stroke-width="1.4" />
<text x="686.1" y="1221.4" font-size="25" text-anchor="middle" font-weight="normal" font-family="Liberation Sans" >M</text>
<line x1="763.7" y1="1179.2" x2="763.7" y2="1196.2" stroke="#1a1a1a" stroke-width="1.4" />
<text x="761.5" y="1221.4" font-size="25" text-anchor="middle" font-weight="normal" font-family="Liberation Sans" >X</text>
<text x="614.0" y="916.4" font-size="24.1" text-anchor="start" font-weight="bold" font-family="Liberation Sans" >Naive B cells</text>
<line x1="679.8" y1="958.2" x2="765.8" y2="958.2" stroke="#000" stroke-width="2.2" />
<line x1="679.8" y1="947.8" x2="679.8" y2="968.8" stroke="#000" stroke-width="2.2" stroke-linecap="round"/>
<line x1="765.8" y1="947.8" x2="765.8" y2="968.8" stroke="#000" stroke-width="2.2" stroke-linecap="round"/>
<text x="715.5" y="958.3" font-size="32" text-anchor="middle" font-weight="bold" font-family="Liberation Sans">*</text>
<text x="730.1" y="958.3" font-size="32" text-anchor="middle" font-weight="bold" font-family="Liberation Sans">*</text>
<text transform="translate(475.2,1088.8) rotate(-90)" font-size="24" text-anchor="middle" font-family="Liberation Sans">% of CD19<tspan font-size="18" dy="-9">+</tspan><tspan dy="9"> cells</tspan></text>
<circle cx="598.3" cy="1022.9" r="6.4" fill="#000" stroke="#000" stroke-width="1.2"/>
<circle cx="608.0" cy="1034.6" r="6.4" fill="#000" stroke="#000" stroke-width="1.2"/>
<circle cx="617.5" cy="1032.6" r="6.4" fill="#000" stroke="#000" stroke-width="1.2"/>
<circle cx="616.8" cy="1046.3" r="6.4" fill="#000" stroke="#000" stroke-width="1.2"/>
<circle cx="590.2" cy="1054.7" r="6.4" fill="#000" stroke="#000" stroke-width="1.2"/>
<circle cx="608.0" cy="1054.7" r="6.4" fill="#000" stroke="#000" stroke-width="1.2"/>
<circle cx="599.0" cy="1061.9" r="6.4" fill="#000" stroke="#000" stroke-width="1.2"/>
<circle cx="590.2" cy="1072.0" r="6.4" fill="#000" stroke="#000" stroke-width="1.2"/>
<circle cx="608.0" cy="1074.2" r="6.4" fill="#000" stroke="#000" stroke-width="1.2"/>
<circle cx="626.0" cy="1072.0" r="6.4" fill="#000" stroke="#000" stroke-width="1.2"/>
<circle cx="599.0" cy="1081.4" r="6.4" fill="#000" stroke="#000" stroke-width="1.2"/>
<circle cx="616.8" cy="1083.3" r="6.4" fill="#000" stroke="#000" stroke-width="1.2"/>
<circle cx="634.7" cy="1084.0" r="6.4" fill="#000" stroke="#000" stroke-width="1.2"/>
<circle cx="590.2" cy="1091.1" r="6.4" fill="#000" stroke="#000" stroke-width="1.2"/>
<circle cx="608.0" cy="1091.1" r="6.4" fill="#000" stroke="#000" stroke-width="1.2"/>
<circle cx="625.6" cy="1095.3" r="6.4" fill="#000" stroke="#000" stroke-width="1.2"/>
<circle cx="599.0" cy="1044.0" r="6.5" fill="#fff" stroke="#000" stroke-width="1.5"/>
<circle cx="634.7" cy="1048.9" r="6.5" fill="#fff" stroke="#000" stroke-width="1.5"/>
<line x1="612.6" y1="1046.3" x2="612.6" y2="1083.3" stroke="#000" stroke-width="1.3" />
<line x1="600.0" y1="1046.3" x2="633.0" y2="1046.3" stroke="#000" stroke-width="1.3" />
<line x1="600.0" y1="1083.3" x2="633.0" y2="1083.3" stroke="#000" stroke-width="1.3" />
<line x1="584.3" y1="1066.1" x2="641.2" y2="1066.1" stroke="#000" stroke-width="2.4" />
<circle cx="688.3" cy="1037.5" r="6.4" fill="#42aae2" stroke="#1a1a1a" stroke-width="1.2"/>
<circle cx="666.2" cy="1053.7" r="6.4" fill="#42aae2" stroke="#1a1a1a" stroke-width="1.2"/>
<path d="M703.7 1043.0H716.5L710.1 1055.1Z" fill="#42aae2" stroke="#1a1a1a" stroke-width="1.2" stroke-linejoin="miter"/>
<path d="M688.3 1070.3L694.8 1076.8L688.3 1083.3L681.8 1076.8Z" fill="#42aae2" stroke="#1a1a1a" stroke-width="1.2"/>
<rect x="659.8" y="1093.8" width="12.8" height="12.8" fill="#42aae2" stroke="#1a1a1a" stroke-width="1.2"/>
<rect x="681.9" y="1084.7" width="12.8" height="12.8" fill="#42aae2" stroke="#1a1a1a" stroke-width="1.2"/>
<rect x="703.7" y="1086.6" width="12.8" height="12.8" fill="#42aae2" stroke="#1a1a1a" stroke-width="1.2"/>
<line x1="688.3" y1="1050.5" x2="688.3" y2="1093.0" stroke="#2a2a2a" stroke-width="1.3" />
<line x1="673.6" y1="1050.5" x2="702.8" y2="1050.5" stroke="#2a2a2a" stroke-width="1.3" />
<line x1="673.6" y1="1093.0" x2="702.8" y2="1093.0" stroke="#2a2a2a" stroke-width="1.3" />
<line x1="659.0" y1="1076.8" x2="716.8" y2="1076.8" stroke="#000" stroke-width="2.6" />
<circle cx="741.3" cy="1011.8" r="6.4" fill="#ee3224" stroke="#1a1a1a" stroke-width="1.2"/>
<circle cx="786.5" cy="1017.3" r="6.4" fill="#ee3224" stroke="#1a1a1a" stroke-width="1.2"/>
<path d="M757.3 1015.3H770.1L763.7 1027.4Z" fill="#ee3224" stroke="#1a1a1a" stroke-width="1.2" stroke-linejoin="miter"/>
<rect x="757.3" y="1032.1" width="12.8" height="12.8" fill="#ee3224" stroke="#1a1a1a" stroke-width="1.2"/>
<rect x="735.6" y="1037.6" width="12.8" height="12.8" fill="#ee3224" stroke="#1a1a1a" stroke-width="1.2"/>
<path d="M786.5 1035.2L793.0 1041.7L786.5 1048.2L780.0 1041.7Z" fill="#ee3224" stroke="#1a1a1a" stroke-width="1.2"/>
<line x1="763.7" y1="1016.4" x2="763.7" y2="1041.7" stroke="#2a2a2a" stroke-width="1.3" />
<line x1="749.0" y1="1016.4" x2="778.6" y2="1016.4" stroke="#2a2a2a" stroke-width="1.3" />
<line x1="749.0" y1="1041.7" x2="778.6" y2="1041.7" stroke="#2a2a2a" stroke-width="1.3" />
<line x1="734.8" y1="1031.0" x2="792.3" y2="1031.0" stroke="#000" stroke-width="2.6" />
<line x1="891.7" y1="1001.7" x2="891.7" y2="1180.7" stroke="#1a1a1a" stroke-width="1.4" />
<line x1="874.2" y1="1180.0" x2="891.7" y2="1180.0" stroke="#1a1a1a" stroke-width="1.4" />
<text x="868.5" y="1187.4" font-size="25" text-anchor="end" font-weight="normal" font-family="Liberation Sans" >0</text>
<line x1="874.2" y1="1135.4" x2="891.7" y2="1135.4" stroke="#1a1a1a" stroke-width="1.4" />
<text x="868.5" y="1142.8" font-size="25" text-anchor="end" font-weight="normal" font-family="Liberation Sans" >10</text>
<line x1="874.2" y1="1090.8" x2="891.7" y2="1090.8" stroke="#1a1a1a" stroke-width="1.4" />
<text x="868.5" y="1098.2" font-size="25" text-anchor="end" font-weight="normal" font-family="Liberation Sans" >20</text>
<line x1="874.2" y1="1046.3" x2="891.7" y2="1046.3" stroke="#1a1a1a" stroke-width="1.4" />
<text x="868.5" y="1053.7" font-size="25" text-anchor="end" font-weight="normal" font-family="Liberation Sans" >30</text>
<line x1="874.2" y1="1001.7" x2="891.7" y2="1001.7" stroke="#1a1a1a" stroke-width="1.4" />
<text x="868.5" y="1009.1" font-size="25" text-anchor="end" font-weight="normal" font-family="Liberation Sans" >40</text>
<line x1="874.2" y1="1180.0" x2="1159.0" y2="1180.0" stroke="#1a1a1a" stroke-width="1.4" />
<line x1="949.5" y1="1180.0" x2="949.5" y2="1196.2" stroke="#1a1a1a" stroke-width="1.4" />
<text x="947.3" y="1221.4" font-size="25" text-anchor="middle" font-weight="normal" font-family="Liberation Sans" >HD</text>
<line x1="1025.1" y1="1180.0" x2="1025.1" y2="1196.2" stroke="#1a1a1a" stroke-width="1.4" />
<text x="1022.9" y="1221.4" font-size="25" text-anchor="middle" font-weight="normal" font-family="Liberation Sans" >M</text>
<line x1="1100.7" y1="1180.0" x2="1100.7" y2="1196.2" stroke="#1a1a1a" stroke-width="1.4" />
<text x="1098.5" y="1221.4" font-size="25" text-anchor="middle" font-weight="normal" font-family="Liberation Sans" >X</text>
<text x="942.3" y="916.4" font-size="24.1" text-anchor="start" font-weight="bold" font-family="Liberation Sans" >SwMe B cells</text>
<line x1="1021.8" y1="976.8" x2="1107.9" y2="976.8" stroke="#000" stroke-width="2.2" />
<line x1="1021.8" y1="966.5" x2="1021.8" y2="987.5" stroke="#000" stroke-width="2.2" stroke-linecap="round"/>
<line x1="1107.9" y1="966.5" x2="1107.9" y2="987.5" stroke="#000" stroke-width="2.2" stroke-linecap="round"/>
<text x="1057.7" y="976.4" font-size="32" text-anchor="middle" font-weight="bold" font-family="Liberation Sans">*</text>
<text x="1072.3" y="976.4" font-size="32" text-anchor="middle" font-weight="bold" font-family="Liberation Sans">*</text>
<circle cx="949.5" cy="1050.2" r="6.4" fill="#000" stroke="#000" stroke-width="1.2"/>
<circle cx="942.0" cy="1063.7" r="6.4" fill="#000" stroke="#000" stroke-width="1.2"/>
<circle cx="957.0" cy="1061.6" r="6.4" fill="#000" stroke="#000" stroke-width="1.2"/>
<circle cx="949.5" cy="1070.3" r="6.4" fill="#000" stroke="#000" stroke-width="1.2"/>
<circle cx="942.0" cy="1081.8" r="6.4" fill="#000" stroke="#000" stroke-width="1.2"/>
<circle cx="957.0" cy="1087.8" r="6.4" fill="#000" stroke="#000" stroke-width="1.2"/>
<circle cx="942.0" cy="1102.3" r="6.4" fill="#000" stroke="#000" stroke-width="1.2"/>
<circle cx="926.9" cy="1117.0" r="6.4" fill="#000" stroke="#000" stroke-width="1.2"/>
<circle cx="964.6" cy="1111.9" r="6.4" fill="#000" stroke="#000" stroke-width="1.2"/>
<circle cx="972.1" cy="1116.4" r="6.4" fill="#000" stroke="#000" stroke-width="1.2"/>
<circle cx="942.0" cy="1121.0" r="6.4" fill="#000" stroke="#000" stroke-width="1.2"/>
<circle cx="949.5" cy="1128.5" r="6.4" fill="#000" stroke="#000" stroke-width="1.2"/>
<circle cx="957.0" cy="1125.5" r="6.4" fill="#000" stroke="#000" stroke-width="1.2"/>
<circle cx="964.6" cy="1129.4" r="6.4" fill="#000" stroke="#000" stroke-width="1.2"/>
<circle cx="946.5" cy="1146.6" r="6.4" fill="#000" stroke="#000" stroke-width="1.2"/>
<circle cx="960.0" cy="1147.2" r="6.4" fill="#000" stroke="#000" stroke-width="1.2"/>
<circle cx="952.5" cy="1157.1" r="6.4" fill="#000" stroke="#000" stroke-width="1.2"/>
<circle cx="934.5" cy="1129.4" r="6.5" fill="#fff" stroke="#000" stroke-width="1.5"/>
<circle cx="938.0" cy="1159.5" r="6.5" fill="#fff" stroke="#000" stroke-width="1.5"/>
<line x1="949.5" y1="1082.7" x2="949.5" y2="1128.5" stroke="#000" stroke-width="1.3" />
<line x1="936.0" y1="1082.7" x2="964.0" y2="1082.7" stroke="#000" stroke-width="1.3" />
<line x1="936.0" y1="1128.5" x2="964.0" y2="1128.5" stroke="#000" stroke-width="1.3" />
<line x1="934.5" y1="1116.4" x2="963.0" y2="1116.4" stroke="#000" stroke-width="2.4" />
<rect x="996.7" y="1055.8" width="12.8" height="12.8" fill="#42aae2" stroke="#1a1a1a" stroke-width="1.2"/>
<rect x="1018.7" y="1057.3" width="12.8" height="12.8" fill="#42aae2" stroke="#1a1a1a" stroke-width="1.2"/>
<rect x="1041.0" y="1048.3" width="12.8" height="12.8" fill="#42aae2" stroke="#1a1a1a" stroke-width="1.2"/>
<path d="M1002.8 1100.0L1009.3 1106.5L1002.8 1113.0L996.3 1106.5Z" fill="#42aae2" stroke="#1a1a1a" stroke-width="1.2"/>
<path d="M1018.7 1114.4H1031.5L1025.1 1126.5Z" fill="#42aae2" stroke="#1a1a1a" stroke-width="1.2" stroke-linejoin="miter"/>
<circle cx="1047.4" cy="1117.0" r="6.4" fill="#42aae2" stroke="#1a1a1a" stroke-width="1.2"/>
<circle cx="1025.1" cy="1138.1" r="6.4" fill="#42aae2" stroke="#1a1a1a" stroke-width="1.2"/>
<line x1="1025.1" y1="1062.2" x2="1025.1" y2="1121.9" stroke="#2a2a2a" stroke-width="1.3" />
<line x1="1017.0" y1="1062.2" x2="1039.0" y2="1062.2" stroke="#2a2a2a" stroke-width="1.3" />
<line x1="1010.0" y1="1121.9" x2="1040.0" y2="1121.9" stroke="#2a2a2a" stroke-width="1.3" />
<line x1="997.7" y1="1105.9" x2="1053.4" y2="1105.9" stroke="#000" stroke-width="2.6" />
<path d="M1072.0 1132.5H1084.8L1078.4 1144.6Z" fill="#ee3224" stroke="#1a1a1a" stroke-width="1.2" stroke-linejoin="miter"/>
<rect x="1086.2" y="1132.0" width="12.8" height="12.8" fill="#ee3224" stroke="#1a1a1a" stroke-width="1.2"/>
<rect x="1101.2" y="1138.6" width="12.8" height="12.8" fill="#ee3224" stroke="#1a1a1a" stroke-width="1.2"/>
<path d="M1122.7 1131.9L1129.2 1138.4L1122.7 1144.9L1116.2 1138.4Z" fill="#ee3224" stroke="#1a1a1a" stroke-width="1.2"/>
<circle cx="1093.2" cy="1177.3" r="6.4" fill="#ee3224" stroke="#1a1a1a" stroke-width="1.2"/>
<circle cx="1107.6" cy="1177.3" r="6.4" fill="#ee3224" stroke="#1a1a1a" stroke-width="1.2"/>
<line x1="1100.7" y1="1138.4" x2="1100.7" y2="1177.3" stroke="#2a2a2a" stroke-width="1.3" />
<line x1="1090.0" y1="1138.4" x2="1111.0" y2="1138.4" stroke="#2a2a2a" stroke-width="1.3" />
<line x1="1090.0" y1="1177.3" x2="1111.0" y2="1177.3" stroke="#2a2a2a" stroke-width="1.3" />
<line x1="1072.4" y1="1142.6" x2="1128.7" y2="1142.6" stroke="#000" stroke-width="2.6" />
<line x1="1225.3" y1="1000.5" x2="1225.3" y2="1179.8" stroke="#1a1a1a" stroke-width="1.4" />
<line x1="1207.8" y1="1179.1" x2="1225.3" y2="1179.1" stroke="#1a1a1a" stroke-width="1.4" />
<text x="1202.3" y="1186.5" font-size="25" text-anchor="end" font-weight="normal" font-family="Liberation Sans" >0</text>
<line x1="1207.8" y1="1143.4" x2="1225.3" y2="1143.4" stroke="#1a1a1a" stroke-width="1.4" />
<text x="1202.3" y="1150.8" font-size="25" text-anchor="end" font-weight="normal" font-family="Liberation Sans" >5</text>
<line x1="1207.8" y1="1107.7" x2="1225.3" y2="1107.7" stroke="#1a1a1a" stroke-width="1.4" />
<text x="1202.3" y="1115.1" font-size="25" text-anchor="end" font-weight="normal" font-family="Liberation Sans" >10</text>
<line x1="1207.8" y1="1071.9" x2="1225.3" y2="1071.9" stroke="#1a1a1a" stroke-width="1.4" />
<text x="1202.3" y="1079.3" font-size="25" text-anchor="end" font-weight="normal" font-family="Liberation Sans" >15</text>
<line x1="1207.8" y1="1036.2" x2="1225.3" y2="1036.2" stroke="#1a1a1a" stroke-width="1.4" />
<text x="1202.3" y="1043.6" font-size="25" text-anchor="end" font-weight="normal" font-family="Liberation Sans" >20</text>
<line x1="1207.8" y1="1000.5" x2="1225.3" y2="1000.5" stroke="#1a1a1a" stroke-width="1.4" />
<text x="1202.3" y="1007.9" font-size="25" text-anchor="end" font-weight="normal" font-family="Liberation Sans" >25</text>
<line x1="1207.8" y1="1179.1" x2="1492.0" y2="1179.1" stroke="#1a1a1a" stroke-width="1.4" />
<line x1="1282.5" y1="1179.1" x2="1282.5" y2="1196.2" stroke="#1a1a1a" stroke-width="1.4" />
<text x="1280.3" y="1221.4" font-size="25" text-anchor="middle" font-weight="normal" font-family="Liberation Sans" >HD</text>
<line x1="1358.4" y1="1179.1" x2="1358.4" y2="1196.2" stroke="#1a1a1a" stroke-width="1.4" />
<text x="1356.2" y="1221.4" font-size="25" text-anchor="middle" font-weight="normal" font-family="Liberation Sans" >M</text>
<line x1="1433.7" y1="1179.1" x2="1433.7" y2="1196.2" stroke="#1a1a1a" stroke-width="1.4" />
<text x="1431.5" y="1221.4" font-size="25" text-anchor="middle" font-weight="normal" font-family="Liberation Sans" >X</text>
<text x="1288.0" y="916.4" font-size="24.1" text-anchor="start" font-weight="bold" font-family="Liberation Sans" >NSM B cells</text>
<line x1="1358.3" y1="971.9" x2="1431.5" y2="971.9" stroke="#000" stroke-width="2.2" />
<line x1="1358.3" y1="961.4" x2="1358.3" y2="982.8" stroke="#000" stroke-width="2.2" stroke-linecap="round"/>
<line x1="1431.5" y1="961.4" x2="1431.5" y2="982.8" stroke="#000" stroke-width="2.2" stroke-linecap="round"/>
<text x="1395.4" y="973.3" font-size="32" text-anchor="middle" font-weight="bold" font-family="Liberation Sans">*</text>
<circle cx="1282.5" cy="1016.1" r="6.4" fill="#000" stroke="#000" stroke-width="1.2"/>
<circle cx="1293.6" cy="1028.2" r="6.4" fill="#000" stroke="#000" stroke-width="1.2"/>
<circle cx="1272.0" cy="1036.0" r="6.4" fill="#000" stroke="#000" stroke-width="1.2"/>
<circle cx="1260.5" cy="1045.0" r="6.4" fill="#000" stroke="#000" stroke-width="1.2"/>
<circle cx="1293.6" cy="1057.7" r="6.4" fill="#000" stroke="#000" stroke-width="1.2"/>
<circle cx="1305.1" cy="1064.3" r="6.4" fill="#000" stroke="#000" stroke-width="1.2"/>
<circle cx="1260.5" cy="1067.6" r="6.4" fill="#000" stroke="#000" stroke-width="1.2"/>
<circle cx="1282.5" cy="1069.8" r="6.4" fill="#000" stroke="#000" stroke-width="1.2"/>
<circle cx="1272.0" cy="1077.3" r="6.4" fill="#000" stroke="#000" stroke-width="1.2"/>
<circle cx="1293.6" cy="1077.3" r="6.4" fill="#000" stroke="#000" stroke-width="1.2"/>
<circle cx="1260.5" cy="1081.2" r="6.4" fill="#000" stroke="#000" stroke-width="1.2"/>
<circle cx="1272.0" cy="1097.5" r="6.4" fill="#000" stroke="#000" stroke-width="1.2"/>
<circle cx="1293.6" cy="1099.3" r="6.4" fill="#000" stroke="#000" stroke-width="1.2"/>
<circle cx="1282.5" cy="1103.5" r="6.4" fill="#000" stroke="#000" stroke-width="1.2"/>
<circle cx="1293.6" cy="1113.4" r="6.4" fill="#000" stroke="#000" stroke-width="1.2"/>
<circle cx="1282.5" cy="1124.6" r="6.4" fill="#000" stroke="#000" stroke-width="1.2"/>
<circle cx="1282.5" cy="1151.7" r="6.4" fill="#000" stroke="#000" stroke-width="1.2"/>
<circle cx="1272.0" cy="1061.6" r="6.5" fill="#fff" stroke="#000" stroke-width="1.5"/>
<circle cx="1282.5" cy="1085.4" r="6.5" fill="#fff" stroke="#000" stroke-width="1.5"/>
<line x1="1282.5" y1="1057.7" x2="1282.5" y2="1095.4" stroke="#000" stroke-width="1.3" />
<line x1="1270.0" y1="1057.7" x2="1296.0" y2="1057.7" stroke="#000" stroke-width="1.3" />
<line x1="1270.0" y1="1095.4" x2="1296.0" y2="1095.4" stroke="#000" stroke-width="1.3" />
<line x1="1253.9" y1="1076.7" x2="1311.1" y2="1076.7" stroke="#000" stroke-width="2.4" />
<rect x="1329.7" y="1013.6" width="12.8" height="12.8" fill="#42aae2" stroke="#1a1a1a" stroke-width="1.2"/>
<path d="M1358.4 1009.6L1364.9 1016.1L1358.4 1022.6L1351.9 1016.1Z" fill="#42aae2" stroke="#1a1a1a" stroke-width="1.2"/>
<rect x="1374.0" y="1022.7" width="12.8" height="12.8" fill="#42aae2" stroke="#1a1a1a" stroke-width="1.2"/>
<rect x="1352.0" y="1033.2" width="12.8" height="12.8" fill="#42aae2" stroke="#1a1a1a" stroke-width="1.2"/>
<path d="M1352.0 1098.5H1364.8L1358.4 1110.6Z" fill="#42aae2" stroke="#1a1a1a" stroke-width="1.2" stroke-linejoin="miter"/>
<circle cx="1369.3" cy="1126.1" r="6.4" fill="#42aae2" stroke="#1a1a1a" stroke-width="1.2"/>
<circle cx="1347.3" cy="1135.1" r="6.4" fill="#42aae2" stroke="#1a1a1a" stroke-width="1.2"/>
<line x1="1358.4" y1="1020.0" x2="1358.4" y2="1126.4" stroke="#2a2a2a" stroke-width="1.3" />
<line x1="1342.0" y1="1020.0" x2="1373.0" y2="1020.0" stroke="#2a2a2a" stroke-width="1.3" />
<line x1="1343.0" y1="1126.4" x2="1375.0" y2="1126.4" stroke="#2a2a2a" stroke-width="1.3" />
<line x1="1329.2" y1="1039.6" x2="1386.4" y2="1039.6" stroke="#000" stroke-width="2.6" />
<rect x="1405.6" y="1107.6" width="12.8" height="12.8" fill="#ee3224" stroke="#1a1a1a" stroke-width="1.2"/>
<rect x="1449.3" y="1105.5" width="12.8" height="12.8" fill="#ee3224" stroke="#1a1a1a" stroke-width="1.2"/>
<path d="M1433.7 1114.5L1440.2 1121.0L1433.7 1127.5L1427.2 1121.0Z" fill="#ee3224" stroke="#1a1a1a" stroke-width="1.2"/>
<circle cx="1433.7" cy="1165.5" r="6.4" fill="#ee3224" stroke="#1a1a1a" stroke-width="1.2"/>
<circle cx="1456.3" cy="1170.7" r="6.4" fill="#ee3224" stroke="#1a1a1a" stroke-width="1.2"/>
<path d="M1405.6 1165.7H1418.4L1412.0 1177.8Z" fill="#ee3224" stroke="#1a1a1a" stroke-width="1.2" stroke-linejoin="miter"/>
<line x1="1433.7" y1="1113.4" x2="1433.7" y2="1171.3" stroke="#2a2a2a" stroke-width="1.3" />
<line x1="1412.0" y1="1113.4" x2="1455.7" y2="1113.4" stroke="#2a2a2a" stroke-width="1.3" />
<line x1="1419.6" y1="1171.3" x2="1454.2" y2="1171.3" stroke="#2a2a2a" stroke-width="1.3" />
<line x1="1405.4" y1="1142.9" x2="1461.7" y2="1142.9" stroke="#000" stroke-width="2.6" />
</svg></body></html>
